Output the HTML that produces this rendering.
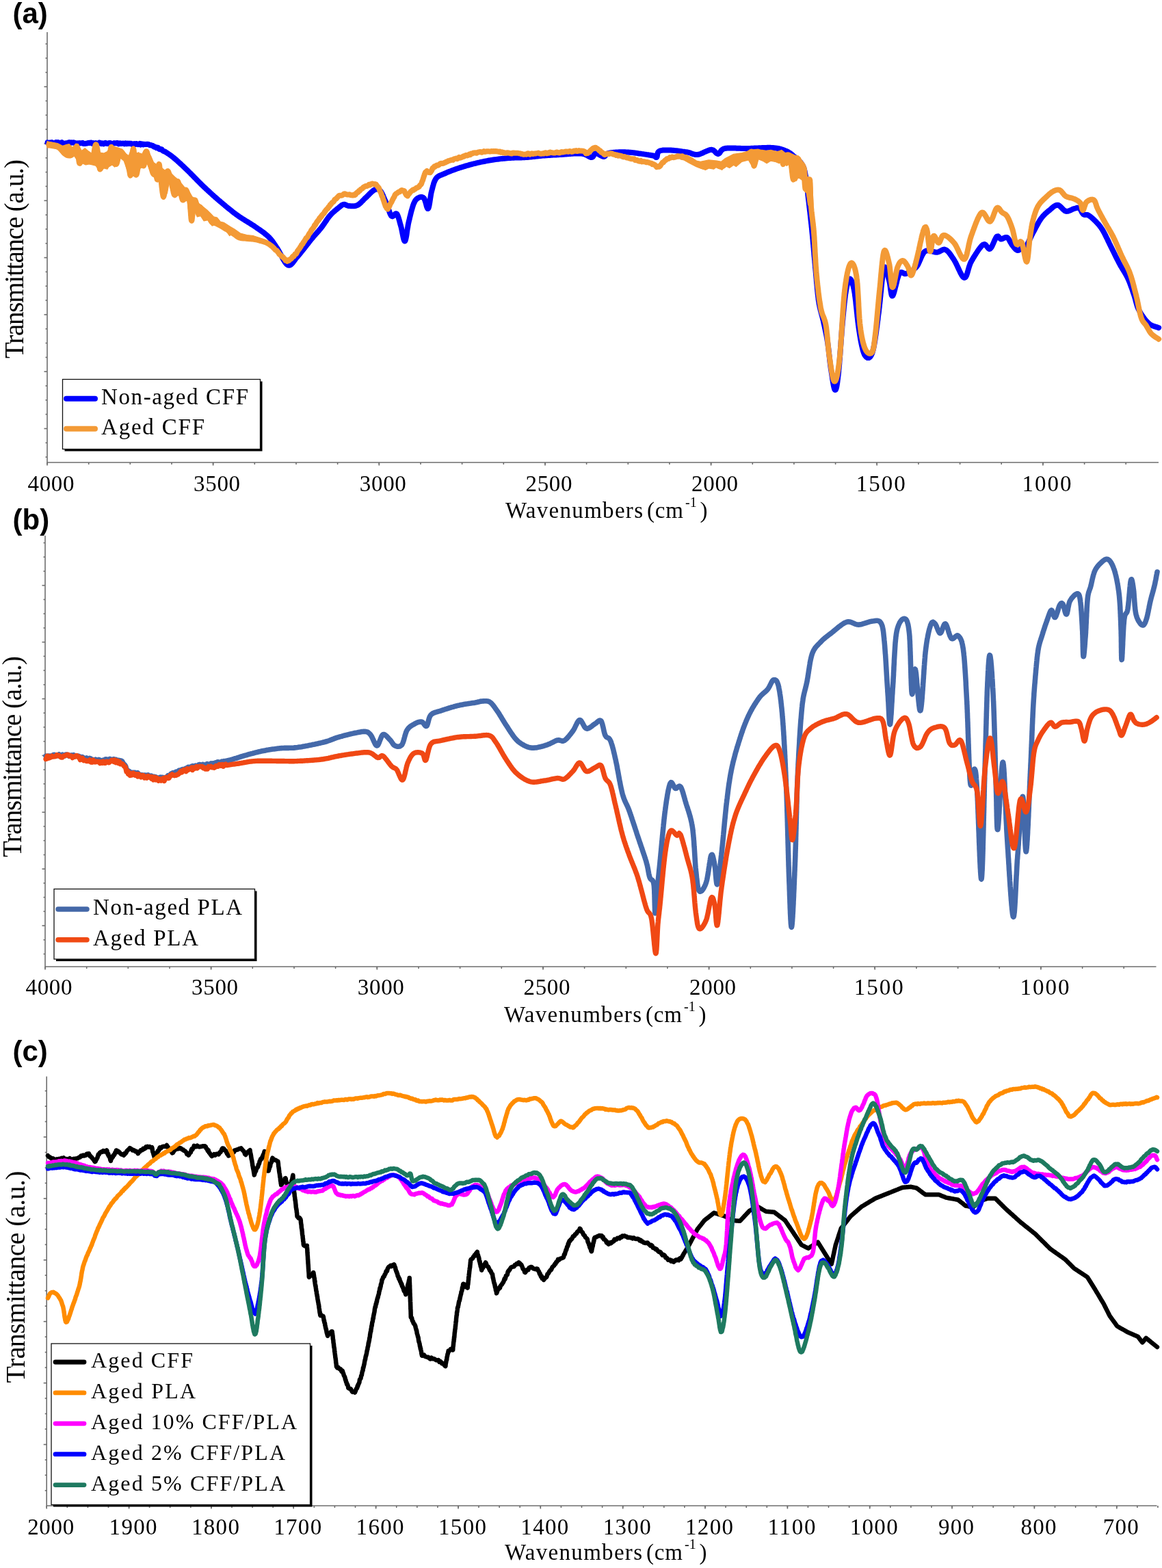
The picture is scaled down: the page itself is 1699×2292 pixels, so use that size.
<!DOCTYPE html>
<html><head><meta charset="utf-8"><title>FTIR spectra</title>
<style>html,body{margin:0;padding:0;background:#fff;}svg{display:block;}</style>
</head><body>
<svg width="1699" height="2292" viewBox="0 0 1699 2292">
<rect width="1699" height="2292" fill="#fff"/>
<text x="18.5" y="33.9" font-family="'Liberation Sans',Arial,sans-serif" font-size="42" font-weight="bold" text-anchor="start">(a)</text>
<text x="18.5" y="774.2" font-family="'Liberation Sans',Arial,sans-serif" font-size="42" font-weight="bold" text-anchor="start">(b)</text>
<text x="18.5" y="1550.5" font-family="'Liberation Sans',Arial,sans-serif" font-size="42" font-weight="bold" text-anchor="start">(c)</text>
<g stroke="#6e6e6e" stroke-width="1.6" fill="none">
<path d="M69 47V676H1694"/>
<path d="M66.5 64.2H69"/>
<path d="M66.5 85H69"/>
<path d="M66.5 105.8H69"/>
<path d="M66.5 147.5H69"/>
<path d="M66.5 168.3H69"/>
<path d="M66.5 189.1H69"/>
<path d="M66.5 230.8H69"/>
<path d="M66.5 251.6H69"/>
<path d="M66.5 272.4H69"/>
<path d="M66.5 314.1H69"/>
<path d="M66.5 334.9H69"/>
<path d="M66.5 355.8H69"/>
<path d="M66.5 397.4H69"/>
<path d="M66.5 418.2H69"/>
<path d="M66.5 439H69"/>
<path d="M66.5 480.7H69"/>
<path d="M66.5 501.5H69"/>
<path d="M66.5 522.4H69"/>
<path d="M66.5 564H69"/>
<path d="M66.5 584.8H69"/>
<path d="M66.5 605.6H69"/>
<path d="M66.5 647.3H69"/>
<path d="M66.5 668.1H69"/>
<path d="M64.5 126.7H69"/>
<path d="M64.5 210H69"/>
<path d="M64.5 293.3H69"/>
<path d="M64.5 376.6H69"/>
<path d="M64.5 459.9H69"/>
<path d="M64.5 543.2H69"/>
<path d="M64.5 626.5H69"/>
<path d="M69 676V679"/>
<path d="M129.7 676V679"/>
<path d="M190.3 676V679"/>
<path d="M251 676V679"/>
<path d="M311.6 676V679"/>
<path d="M372.3 676V679"/>
<path d="M433 676V679"/>
<path d="M493.6 676V679"/>
<path d="M554.3 676V679"/>
<path d="M615 676V679"/>
<path d="M675.6 676V679"/>
<path d="M736.3 676V679"/>
<path d="M797 676V679"/>
<path d="M857.6 676V679"/>
<path d="M918.3 676V679"/>
<path d="M978.9 676V679"/>
<path d="M1039.6 676V679"/>
<path d="M1100.3 676V679"/>
<path d="M1160.9 676V679"/>
<path d="M1221.6 676V679"/>
<path d="M1282.2 676V679"/>
<path d="M1342.9 676V679"/>
<path d="M1403.6 676V679"/>
<path d="M1464.2 676V679"/>
<path d="M1524.9 676V679"/>
<path d="M1585.6 676V679"/>
<path d="M1646.2 676V679"/>
<path d="M69 676V680.5"/>
<path d="M311.6 676V680.5"/>
<path d="M554.3 676V680.5"/>
<path d="M797 676V680.5"/>
<path d="M1039.6 676V680.5"/>
<path d="M1282.2 676V680.5"/>
<path d="M1524.9 676V680.5"/>
</g>
<text x="74.5" y="718" font-family="'Liberation Serif','Times New Roman',serif" font-size="33" font-weight="normal" text-anchor="middle" textLength="68" lengthAdjust="spacing">4000</text>
<text x="317.1" y="718" font-family="'Liberation Serif','Times New Roman',serif" font-size="33" font-weight="normal" text-anchor="middle" textLength="68" lengthAdjust="spacing">3500</text>
<text x="559.8" y="718" font-family="'Liberation Serif','Times New Roman',serif" font-size="33" font-weight="normal" text-anchor="middle" textLength="68" lengthAdjust="spacing">3000</text>
<text x="802.5" y="718" font-family="'Liberation Serif','Times New Roman',serif" font-size="33" font-weight="normal" text-anchor="middle" textLength="68" lengthAdjust="spacing">2500</text>
<text x="1045.1" y="718" font-family="'Liberation Serif','Times New Roman',serif" font-size="33" font-weight="normal" text-anchor="middle" textLength="68" lengthAdjust="spacing">2000</text>
<text x="1287.8" y="718" font-family="'Liberation Serif','Times New Roman',serif" font-size="33" font-weight="normal" text-anchor="middle" textLength="72" lengthAdjust="spacing">1500</text>
<text x="1530.4" y="718" font-family="'Liberation Serif','Times New Roman',serif" font-size="33" font-weight="normal" text-anchor="middle" textLength="72" lengthAdjust="spacing">1000</text>
<g stroke="#6e6e6e" stroke-width="1.6" fill="none">
<path d="M66 783V1413H1690.5"/>
<path d="M63.5 793.5H66"/>
<path d="M63.5 814.2H66"/>
<path d="M63.5 835H66"/>
<path d="M63.5 876.4H66"/>
<path d="M63.5 897.1H66"/>
<path d="M63.5 917.9H66"/>
<path d="M63.5 959.3H66"/>
<path d="M63.5 980H66"/>
<path d="M63.5 1000.8H66"/>
<path d="M63.5 1042.2H66"/>
<path d="M63.5 1062.9H66"/>
<path d="M63.5 1083.7H66"/>
<path d="M63.5 1125.1H66"/>
<path d="M63.5 1145.8H66"/>
<path d="M63.5 1166.5H66"/>
<path d="M63.5 1208H66"/>
<path d="M63.5 1228.7H66"/>
<path d="M63.5 1249.5H66"/>
<path d="M63.5 1290.9H66"/>
<path d="M63.5 1311.6H66"/>
<path d="M63.5 1332.3H66"/>
<path d="M63.5 1373.8H66"/>
<path d="M63.5 1394.5H66"/>
<path d="M61.5 855.7H66"/>
<path d="M61.5 938.6H66"/>
<path d="M61.5 1021.5H66"/>
<path d="M61.5 1104.4H66"/>
<path d="M61.5 1187.3H66"/>
<path d="M61.5 1270.2H66"/>
<path d="M61.5 1353.1H66"/>
<path d="M66 1413V1416"/>
<path d="M126.7 1413V1416"/>
<path d="M187.3 1413V1416"/>
<path d="M248 1413V1416"/>
<path d="M308.6 1413V1416"/>
<path d="M369.3 1413V1416"/>
<path d="M430 1413V1416"/>
<path d="M490.6 1413V1416"/>
<path d="M551.3 1413V1416"/>
<path d="M612 1413V1416"/>
<path d="M672.6 1413V1416"/>
<path d="M733.3 1413V1416"/>
<path d="M794 1413V1416"/>
<path d="M854.6 1413V1416"/>
<path d="M915.3 1413V1416"/>
<path d="M975.9 1413V1416"/>
<path d="M1036.6 1413V1416"/>
<path d="M1097.3 1413V1416"/>
<path d="M1157.9 1413V1416"/>
<path d="M1218.6 1413V1416"/>
<path d="M1279.2 1413V1416"/>
<path d="M1339.9 1413V1416"/>
<path d="M1400.6 1413V1416"/>
<path d="M1461.2 1413V1416"/>
<path d="M1521.9 1413V1416"/>
<path d="M1582.6 1413V1416"/>
<path d="M1643.2 1413V1416"/>
<path d="M66 1413V1417.5"/>
<path d="M308.6 1413V1417.5"/>
<path d="M551.3 1413V1417.5"/>
<path d="M794 1413V1417.5"/>
<path d="M1036.6 1413V1417.5"/>
<path d="M1279.2 1413V1417.5"/>
<path d="M1521.9 1413V1417.5"/>
</g>
<text x="71.5" y="1454" font-family="'Liberation Serif','Times New Roman',serif" font-size="33" font-weight="normal" text-anchor="middle" textLength="68" lengthAdjust="spacing">4000</text>
<text x="314.1" y="1454" font-family="'Liberation Serif','Times New Roman',serif" font-size="33" font-weight="normal" text-anchor="middle" textLength="68" lengthAdjust="spacing">3500</text>
<text x="556.8" y="1454" font-family="'Liberation Serif','Times New Roman',serif" font-size="33" font-weight="normal" text-anchor="middle" textLength="68" lengthAdjust="spacing">3000</text>
<text x="799.5" y="1454" font-family="'Liberation Serif','Times New Roman',serif" font-size="33" font-weight="normal" text-anchor="middle" textLength="68" lengthAdjust="spacing">2500</text>
<text x="1042.1" y="1454" font-family="'Liberation Serif','Times New Roman',serif" font-size="33" font-weight="normal" text-anchor="middle" textLength="68" lengthAdjust="spacing">2000</text>
<text x="1284.8" y="1454" font-family="'Liberation Serif','Times New Roman',serif" font-size="33" font-weight="normal" text-anchor="middle" textLength="72" lengthAdjust="spacing">1500</text>
<text x="1527.4" y="1454" font-family="'Liberation Serif','Times New Roman',serif" font-size="33" font-weight="normal" text-anchor="middle" textLength="72" lengthAdjust="spacing">1000</text>
<g stroke="#6e6e6e" stroke-width="1.6" fill="none">
<path d="M68.2 1573.5V2201H1691.5"/>
<path d="M65.7 1594.6H68.2"/>
<path d="M65.7 1617.1H68.2"/>
<path d="M65.7 1639.5H68.2"/>
<path d="M65.7 1684.5H68.2"/>
<path d="M65.7 1706.9H68.2"/>
<path d="M65.7 1729.4H68.2"/>
<path d="M65.7 1774.3H68.2"/>
<path d="M65.7 1796.8H68.2"/>
<path d="M65.7 1819.3H68.2"/>
<path d="M65.7 1864.2H68.2"/>
<path d="M65.7 1886.7H68.2"/>
<path d="M65.7 1909.2H68.2"/>
<path d="M65.7 1954.1H68.2"/>
<path d="M65.7 1976.6H68.2"/>
<path d="M65.7 1999H68.2"/>
<path d="M65.7 2044H68.2"/>
<path d="M65.7 2066.5H68.2"/>
<path d="M65.7 2088.9H68.2"/>
<path d="M65.7 2133.9H68.2"/>
<path d="M65.7 2156.3H68.2"/>
<path d="M65.7 2178.8H68.2"/>
<path d="M63.7 1662H68.2"/>
<path d="M63.7 1751.9H68.2"/>
<path d="M63.7 1841.8H68.2"/>
<path d="M63.7 1931.7H68.2"/>
<path d="M63.7 2021.6H68.2"/>
<path d="M63.7 2111.5H68.2"/>
<path d="M68.2 2201V2204"/>
<path d="M98.3 2201V2204"/>
<path d="M128.4 2201V2204"/>
<path d="M158.5 2201V2204"/>
<path d="M188.6 2201V2204"/>
<path d="M218.6 2201V2204"/>
<path d="M248.7 2201V2204"/>
<path d="M278.8 2201V2204"/>
<path d="M308.9 2201V2204"/>
<path d="M339 2201V2204"/>
<path d="M369.1 2201V2204"/>
<path d="M399.2 2201V2204"/>
<path d="M429.2 2201V2204"/>
<path d="M459.3 2201V2204"/>
<path d="M489.4 2201V2204"/>
<path d="M519.5 2201V2204"/>
<path d="M549.6 2201V2204"/>
<path d="M579.7 2201V2204"/>
<path d="M609.8 2201V2204"/>
<path d="M639.9 2201V2204"/>
<path d="M670 2201V2204"/>
<path d="M700 2201V2204"/>
<path d="M730.1 2201V2204"/>
<path d="M760.2 2201V2204"/>
<path d="M790.3 2201V2204"/>
<path d="M820.4 2201V2204"/>
<path d="M850.5 2201V2204"/>
<path d="M880.6 2201V2204"/>
<path d="M910.7 2201V2204"/>
<path d="M940.7 2201V2204"/>
<path d="M970.8 2201V2204"/>
<path d="M1000.9 2201V2204"/>
<path d="M1031 2201V2204"/>
<path d="M1061.1 2201V2204"/>
<path d="M1091.2 2201V2204"/>
<path d="M1121.3 2201V2204"/>
<path d="M1151.4 2201V2204"/>
<path d="M1181.4 2201V2204"/>
<path d="M1211.5 2201V2204"/>
<path d="M1241.6 2201V2204"/>
<path d="M1271.7 2201V2204"/>
<path d="M1301.8 2201V2204"/>
<path d="M1331.9 2201V2204"/>
<path d="M1362 2201V2204"/>
<path d="M1392 2201V2204"/>
<path d="M1422.1 2201V2204"/>
<path d="M1452.2 2201V2204"/>
<path d="M1482.3 2201V2204"/>
<path d="M1512.4 2201V2204"/>
<path d="M1542.5 2201V2204"/>
<path d="M1572.6 2201V2204"/>
<path d="M1602.7 2201V2204"/>
<path d="M1632.8 2201V2204"/>
<path d="M1662.8 2201V2204"/>
<path d="M1692.9 2201V2204"/>
<path d="M68.2 2201V2205.5"/>
<path d="M188.6 2201V2205.5"/>
<path d="M308.9 2201V2205.5"/>
<path d="M429.2 2201V2205.5"/>
<path d="M549.6 2201V2205.5"/>
<path d="M670 2201V2205.5"/>
<path d="M790.3 2201V2205.5"/>
<path d="M910.7 2201V2205.5"/>
<path d="M1031 2201V2205.5"/>
<path d="M1151.4 2201V2205.5"/>
<path d="M1271.7 2201V2205.5"/>
<path d="M1392 2201V2205.5"/>
<path d="M1512.4 2201V2205.5"/>
<path d="M1632.8 2201V2205.5"/>
</g>
<text x="74.2" y="2242.5" font-family="'Liberation Serif','Times New Roman',serif" font-size="33" font-weight="normal" text-anchor="middle" textLength="68" lengthAdjust="spacing">2000</text>
<text x="194.6" y="2242.5" font-family="'Liberation Serif','Times New Roman',serif" font-size="33" font-weight="normal" text-anchor="middle" textLength="70" lengthAdjust="spacing">1900</text>
<text x="314.9" y="2242.5" font-family="'Liberation Serif','Times New Roman',serif" font-size="33" font-weight="normal" text-anchor="middle" textLength="70" lengthAdjust="spacing">1800</text>
<text x="435.2" y="2242.5" font-family="'Liberation Serif','Times New Roman',serif" font-size="33" font-weight="normal" text-anchor="middle" textLength="70" lengthAdjust="spacing">1700</text>
<text x="555.6" y="2242.5" font-family="'Liberation Serif','Times New Roman',serif" font-size="33" font-weight="normal" text-anchor="middle" textLength="70" lengthAdjust="spacing">1600</text>
<text x="676" y="2242.5" font-family="'Liberation Serif','Times New Roman',serif" font-size="33" font-weight="normal" text-anchor="middle" textLength="70" lengthAdjust="spacing">1500</text>
<text x="796.3" y="2242.5" font-family="'Liberation Serif','Times New Roman',serif" font-size="33" font-weight="normal" text-anchor="middle" textLength="70" lengthAdjust="spacing">1400</text>
<text x="916.7" y="2242.5" font-family="'Liberation Serif','Times New Roman',serif" font-size="33" font-weight="normal" text-anchor="middle" textLength="70" lengthAdjust="spacing">1300</text>
<text x="1037" y="2242.5" font-family="'Liberation Serif','Times New Roman',serif" font-size="33" font-weight="normal" text-anchor="middle" textLength="70" lengthAdjust="spacing">1200</text>
<text x="1157.4" y="2242.5" font-family="'Liberation Serif','Times New Roman',serif" font-size="33" font-weight="normal" text-anchor="middle" textLength="70" lengthAdjust="spacing">1100</text>
<text x="1277.7" y="2242.5" font-family="'Liberation Serif','Times New Roman',serif" font-size="33" font-weight="normal" text-anchor="middle" textLength="70" lengthAdjust="spacing">1000</text>
<text x="1398" y="2242.5" font-family="'Liberation Serif','Times New Roman',serif" font-size="33" font-weight="normal" text-anchor="middle" textLength="52" lengthAdjust="spacing">900</text>
<text x="1518.4" y="2242.5" font-family="'Liberation Serif','Times New Roman',serif" font-size="33" font-weight="normal" text-anchor="middle" textLength="52" lengthAdjust="spacing">800</text>
<text x="1638.8" y="2242.5" font-family="'Liberation Serif','Times New Roman',serif" font-size="33" font-weight="normal" text-anchor="middle" textLength="52" lengthAdjust="spacing">700</text>
<text x="739" y="756.6" font-family="'Liberation Serif','Times New Roman',serif" font-size="33"><tspan textLength="201" lengthAdjust="spacing">Wavenumbers</tspan><tspan x="946" textLength="53" lengthAdjust="spacing">(cm</tspan><tspan x="1002" y="740.6" font-size="20">-1</tspan><tspan x="1023.5" y="756.6">)</tspan></text>
<text x="737" y="1493.6" font-family="'Liberation Serif','Times New Roman',serif" font-size="33"><tspan textLength="201" lengthAdjust="spacing">Wavenumbers</tspan><tspan x="944" textLength="53" lengthAdjust="spacing">(cm</tspan><tspan x="1000" y="1477.6" font-size="20">-1</tspan><tspan x="1021.5" y="1493.6">)</tspan></text>
<text x="738" y="2280" font-family="'Liberation Serif','Times New Roman',serif" font-size="33"><tspan textLength="201" lengthAdjust="spacing">Wavenumbers</tspan><tspan x="945" textLength="53" lengthAdjust="spacing">(cm</tspan><tspan x="1001" y="2264" font-size="20">-1</tspan><tspan x="1022.5" y="2280">)</tspan></text>
<text transform="translate(33.7 378.6) rotate(-90)" font-family="'Liberation Serif','Times New Roman',serif" font-size="39" text-anchor="middle" textLength="291" lengthAdjust="spacing">Transmittance (a.u.)</text>
<text transform="translate(30.6 1106) rotate(-90)" font-family="'Liberation Serif','Times New Roman',serif" font-size="39" text-anchor="middle" textLength="294" lengthAdjust="spacing">Transmittance (a.u.)</text>
<text transform="translate(36.3 1866.4) rotate(-90)" font-family="'Liberation Serif','Times New Roman',serif" font-size="40" text-anchor="middle" textLength="310" lengthAdjust="spacing">Transmittance (a.u.)</text>
<path d="M69.5 208.4 70.3 208.6 71.2 209.3 72.2 208.5 73.3 208.6 74.5 208.7 75.8 208 77.1 208.7 78.6 208.9 80.1 209.2 81.6 208 83.2 208.4 84.9 208 86.7 209.4 88.5 209.2 90.3 208 92.2 209.8 94.1 209.8 96 209.2 98 209.2 100 208.4 101.2 208.1 102.5 209.1 103.8 208.2 105.1 208.5 106.4 208.6 107.8 208.2 109.1 209 110.5 209 112 209.7 113.4 209.2 114.9 209.4 116.3 209.1 117.8 209.4 119.3 209.1 120.8 208.8 122.4 210.1 123.9 210.1 125.5 209.8 127.1 209.6 128.7 208.9 130.3 208.8 131.9 208.9 133.5 208.5 135.1 209.8 136.7 209.1 138.4 210 140 209.1 141.7 210.2 143.3 210 145 208.5 146.7 208.9 148.3 210.2 150 209.4 151.4 210.4 152.8 209.4 154.3 208.8 155.8 209.8 157.3 210.1 158.8 209.2 160.4 208.9 162 209.4 163.6 210.5 165.2 210.2 166.9 209.1 168.5 209.3 170.2 209.1 171.9 209 173.5 210.4 175.2 209.3 176.9 210 178.5 209.8 180.2 209.4 181.9 210.4 183.5 209.3 185.2 210.3 186.8 209.4 188.4 210 190 209.6 191.6 209.8 193.1 211.1 194.6 210.8 196.1 210 197.6 211 199 209.9 200.4 210.3 201.8 211.2 203.1 210.8 204.3 209.9 205.6 211.6 206.8 210.3 207.9 210.4 209 211.4 210 210.7 212.8 210.9 215.3 210.7 217.3 211 219.1 212.2 220.6 211.9 221.9 212.9 223.1 212.8 224.1 213.4 225.2 214.7 226.2 214.3 227.3 215 228.6 216.1 230 215.4 231.3 215.9 232.6 217.9 234 218.3 235.3 217.9 236.6 218.5 237.9 220.2 239.2 221.2 240.5 221.2 241.8 222 243.1 222.8 244.5 223.7 245.8 224.6 247.2 225.5 248.6 226.5 250 227.5 251.1 228.3 252.1 229.1 253.2 230 254.3 230.9 255.4 231.8 256.5 232.7 257.6 233.7 258.7 234.6 259.8 235.6 260.9 236.7 262.1 237.7 263.2 238.7 264.3 239.8 265.5 240.9 266.6 241.9 267.8 243 269 244.1 270.1 245.3 271.3 246.4 272.5 247.5 273.5 248.5 274.6 249.5 275.6 250.5 276.7 251.6 277.8 252.6 278.8 253.7 279.9 254.8 281 255.9 282.1 257 283.2 258.2 284.3 259.3 285.4 260.4 286.5 261.5 287.6 262.7 288.7 263.8 289.8 264.9 290.9 266 292 267.1 293.1 268.2 294.2 269.3 295.3 270.4 296.4 271.5 297.5 272.5 298.6 273.6 299.8 274.6 300.9 275.7 302 276.8 303.2 277.8 304.3 278.9 305.5 279.9 306.6 281 307.7 282 308.9 283 310 284.1 311.1 285.1 312.3 286.1 313.4 287.1 314.5 288.1 315.7 289.1 316.8 290.1 318 291.1 319.1 292.1 320.2 293.1 321.4 294 322.5 295 323.7 296 324.9 297 326.1 298 327.3 299 328.5 300 329.6 301 330.8 302 332 303 333.2 304 334.4 304.9 335.6 305.9 336.8 306.8 338 307.8 339.2 308.7 340.4 309.7 341.5 310.6 342.7 311.5 343.9 312.4 345.1 313.3 346.3 314.1 347.5 315 348.8 315.9 350.2 316.9 351.5 317.8 352.9 318.6 354.2 319.5 355.6 320.4 356.9 321.2 358.3 322.1 359.6 322.9 361 323.7 362.3 324.5 363.7 325.4 365 326.2 366.3 327 367.6 327.8 368.8 328.6 370.1 329.4 371.3 330.2 372.5 331 373.9 332 375.3 332.9 376.7 333.9 378 334.8 379.4 335.7 380.7 336.6 382 337.6 383.3 338.5 384.5 339.4 385.8 340.3 387 341.2 388.1 342.2 389.3 343.1 390.4 344.1 391.5 345 392.5 346 393.7 347.2 394.8 348.4 395.8 349.5 396.8 350.7 397.7 351.9 398.6 353 399.4 354.2 400.3 355.5 401.1 356.7 402 358.1 403 359.5 403.9 360.9 405 362.5 405.8 363.7 406.5 365 407.4 366.4 408.2 367.9 409 369.4 409.9 371 410.7 372.7 411.6 374.4 412.5 376 413.3 377.6 414.2 379.2 415.1 380.7 416 382.1 416.8 383.4 417.7 384.5 418.5 385.6 419.4 386.4 420.2 387.1 421 387.5 422.2 387.8 423.4 387.7 424.5 387.3 425.6 386.6 426.7 385.6 427.8 384.4 428.8 383 430 381.5 431.1 379.9 432.3 378.2 433.6 376.6 435 375 435.8 374.1 436.7 373.1 437.6 372 438.5 370.9 439.5 369.7 440.4 368.5 441.4 367.3 442.4 366.1 443.4 364.8 444.4 363.5 445.4 362.2 446.5 360.8 447.5 359.5 448.5 358.2 449.5 357 450.5 355.7 451.4 354.5 452.4 353.3 453.3 352.1 454.1 351 455 350 456.2 348.6 457.3 347.3 458.4 346 459.4 344.8 460.5 343.6 461.5 342.5 462.5 341.3 463.5 340.2 464.4 339.1 465.4 338.1 466.3 337 467.2 335.9 468.2 334.8 469.1 333.7 470 332.5 471 331.2 471.9 329.9 472.8 328.6 473.8 327.3 474.6 326 475.5 324.7 476.4 323.4 477.3 322.1 478.1 320.8 479 319.5 479.9 318.3 480.7 317.2 481.6 316.1 482.5 315 483.7 313.7 484.8 312.5 486 311.3 487.3 310.2 488.5 309.1 489.7 308.1 490.8 307.1 492 306.2 493 305.3 494.1 304.5 495 303.8 496.5 302.5 497.9 301.4 499.1 300.4 500.2 299.6 501.3 299.1 502.5 298.8 503.9 298.8 505.3 299.3 506.6 300 508.2 300.6 510 301 511.3 301.1 512.8 301.2 514.3 301.3 515.9 301.3 517.6 301.3 519.3 301 520.9 300.6 522.5 300 523.6 299.4 524.8 298.6 525.9 297.7 527 296.7 528.2 295.6 529.3 294.4 530.5 293.3 531.6 292.1 532.7 290.9 533.9 289.8 535 288.8 536.2 287.7 537.3 286.5 538.5 285.3 539.7 284.1 540.9 282.9 542.1 281.8 543.2 280.7 544.4 279.7 545.5 278.8 546.5 278.1 547.5 277.5 549.4 276.7 551.2 276.3 552.8 276.4 554.3 277.2 556 278.8 556.7 279.6 557.4 280.7 558.1 281.9 558.8 283.2 559.5 284.7 560.2 286.2 560.9 287.9 561.6 289.5 562.3 291.2 563 292.8 563.7 294.5 564.4 296 565 297.5 565.6 299 566.2 300.6 566.8 302.2 567.4 303.9 568 305.6 568.6 307.3 569.1 308.9 569.7 310.5 570.2 311.9 570.8 313.2 571.4 314.4 571.9 315.3 572.5 316 574 316.4 575.6 315.2 577.1 313.4 578.6 312.2 580 312.5 580.6 313.2 581.1 314.1 581.6 315.3 582.1 316.6 582.6 318 583.1 319.6 583.6 321.3 584.1 323 584.5 324.8 585 326.6 585.5 328.3 586 330 586.4 331.5 586.8 333.1 587.2 335 587.6 336.9 588 339 588.4 341 588.8 343.1 589.2 345 589.6 346.9 590 348.5 590.4 350 590.8 351.1 591.2 352 591.6 352.4 592 352.5 592.3 352.2 592.6 351.6 592.9 350.8 593.2 349.7 593.5 348.5 593.8 347 594.1 345.4 594.4 343.7 594.7 341.9 594.9 340 595.2 338 595.5 336 595.8 334 596.2 332.1 596.5 330.2 596.8 328.3 597.1 326.6 597.5 325 597.8 323.5 598.2 322 598.6 320.5 598.9 318.9 599.3 317.3 599.7 315.7 600.1 314.1 600.5 312.5 600.9 310.9 601.3 309.3 601.7 307.8 602.2 306.3 602.6 304.8 603 303.4 603.4 302.1 603.8 300.8 604.2 299.6 604.6 298.5 605 297.5 606.1 295.2 607.1 293.3 608.2 291.9 609.3 290.8 610.4 290 611.4 289.3 612.5 288.8 614 288.1 615.6 287.9 617.1 288 618.6 288.7 620 290 620.7 291.1 621.3 292.8 621.9 294.7 622.6 296.9 623.2 299.1 623.7 301.2 624.3 303 624.9 304.3 625.4 305.1 626 305 626.3 304.5 626.7 303.7 627 302.7 627.3 301.4 627.6 299.9 627.9 298.3 628.2 296.5 628.5 294.6 628.8 292.7 629.1 290.7 629.4 288.7 629.7 286.8 630 284.9 630.3 283.1 630.6 281.5 631 280 631.4 278.3 631.9 276.6 632.3 275 632.7 273.3 633.1 271.7 633.6 270.2 634 268.6 634.5 267.2 635 265.8 635.6 264.5 636.2 263.2 636.8 262.1 637.5 261 638.6 259.7 639.7 258.6 640.9 257.7 642.2 257 643.6 256.4 645.1 255.8 646.6 255.2 648.2 254.5 650 253.8 651.2 253.2 652.4 252.7 653.7 252.1 655 251.6 656.4 251 657.8 250.4 659.2 249.9 660.7 249.3 662.2 248.8 663.7 248.2 665.2 247.6 666.8 247.1 668.4 246.5 670 246 671.3 245.6 672.7 245.1 674.1 244.7 675.5 244.2 677 243.8 678.5 243.3 679.9 242.9 681.4 242.4 682.9 242 684.5 241.6 686 241.1 687.5 240.7 689 240.3 690.5 239.9 692 239.5 693.5 239.1 695 238.8 696.6 238.4 698.1 238 699.7 237.6 701.2 237.3 702.8 236.9 704.4 236.6 705.9 236.3 707.5 236 709.1 235.7 710.6 235.4 712.2 235.1 713.8 234.8 715.3 234.5 716.9 234.3 718.4 234 720 233.8 721.6 233.5 723.1 233.3 724.7 233.1 726.2 232.9 727.8 232.7 729.4 232.5 730.9 232.3 732.5 232.1 734.1 232 735.6 231.8 737.2 231.7 738.8 231.5 740.3 231.4 741.9 231.2 743.4 231.1 745 231 746.6 230.9 748.1 230.8 749.7 230.7 751.2 230.7 752.8 230.6 754.4 230.6 755.9 230.5 757.5 230.5 759.1 230.4 760.6 230.4 762.2 230.4 763.8 230.3 765.3 230.3 766.9 230.2 768.4 230.1 770 230 771.6 229.9 773.1 229.8 774.7 229.6 776.2 229.5 777.8 229.3 779.4 229.1 780.9 229 782.5 228.8 784.1 228.6 785.6 228.4 787.2 228.3 788.8 228.1 790.3 227.9 791.9 227.8 793.4 227.6 795 227.5 796.6 227.4 798.1 227.3 799.6 227.2 801.1 227.1 802.6 227 804.2 226.9 805.7 226.8 807.2 226.7 808.7 226.6 810.3 226.5 811.8 226.4 813.4 226.4 815 226.3 816.6 226.2 818.3 226.1 820 226 821.4 225.9 822.9 225.8 824.4 225.7 825.9 225.6 827.5 225.5 829.1 225.3 830.7 225.2 832.4 225.1 834 224.9 835.6 224.8 837.2 224.7 838.8 224.6 840.4 224.5 841.9 224.4 843.4 224.4 844.9 224.4 846.3 224.3 847.6 224.4 848.8 224.4 850 224.5 852.1 224.8 854.1 225.3 855.9 226 857.5 226.7 859 227.5 860.4 228.3 861.6 229 862.8 229.5 863.9 229.9 865 230 866.7 229.4 867.8 227.9 868.6 226.2 869.6 224.7 871 224 872.2 224.2 873.7 224.7 875.3 225.5 876.9 226.5 878.6 227.4 880.2 228.2 881.7 228.8 883 229 884.4 228.5 885.2 227.4 886 226.1 887.4 224.7 890 223.8 891 223.6 892.1 223.4 893.3 223.2 894.5 223.1 895.9 222.9 897.3 222.8 898.7 222.7 900.3 222.6 901.8 222.5 903.5 222.4 905.1 222.3 906.8 222.3 908.6 222.3 910.3 222.3 912.1 222.3 913.9 222.3 915.7 222.4 917.5 222.5 918.8 222.6 920.3 222.7 921.7 222.8 923.3 223 924.9 223.1 926.5 223.3 928.2 223.5 929.9 223.7 931.6 223.9 933.3 224.2 935.1 224.4 936.8 224.6 938.5 224.9 940.2 225.1 941.9 225.4 943.5 225.6 945.1 225.9 946.6 226.1 948 226.3 949.4 226.6 950.7 226.8 951.9 227 953.1 227.2 954.1 227.3 955 227.5 958.2 228.9 959.2 230.1 960 230 960.6 229.1 960.9 227.6 961.2 225.8 961.6 223.9 962.4 222.2 963.8 221 964.8 220.5 966.1 220.1 967.4 219.9 968.9 219.6 970.5 219.5 972.3 219.4 974.1 219.4 976 219.4 978 219.4 980 219.5 981.3 219.6 982.8 219.7 984.3 219.8 985.9 219.9 987.5 220.1 989.2 220.3 990.9 220.5 992.6 220.7 994.3 220.9 996 221.1 997.6 221.4 999.2 221.6 1000.8 221.8 1002.3 222.1 1003.7 222.3 1005 222.5 1006.9 222.9 1008.6 223.3 1010.1 223.9 1011.5 224.4 1012.8 224.9 1014.1 225.4 1015.4 225.7 1016.8 226 1018.3 226.1 1020 226 1021.3 225.8 1022.7 225.4 1024.1 224.9 1025.6 224.3 1027.2 223.7 1028.7 222.9 1030.3 222.2 1031.9 221.5 1033.4 220.8 1034.9 220.2 1036.3 219.6 1037.6 219.2 1038.9 218.9 1040 218.8 1042 219.1 1043.6 220 1045 221.2 1046.2 222.6 1047.4 223.9 1048.7 224.7 1050 225 1051.1 224.6 1052 223.8 1052.8 222.7 1053.6 221.4 1054.6 220 1055.9 218.8 1057.7 217.7 1060 217 1061.1 216.8 1062.2 216.7 1063.4 216.6 1064.7 216.5 1066.1 216.5 1067.5 216.4 1069 216.4 1070.5 216.5 1072.1 216.5 1073.7 216.5 1075.4 216.6 1077 216.7 1078.7 216.7 1080.5 216.8 1082.2 216.8 1083.9 216.9 1085.7 216.9 1087.4 217 1089.1 217 1090.8 217 1092.5 217 1093.9 217 1095.4 216.9 1096.9 216.9 1098.4 216.8 1100 216.8 1101.5 216.7 1103.1 216.6 1104.7 216.5 1106.4 216.5 1108 216.4 1109.6 216.3 1111.2 216.2 1112.8 216.2 1114.4 216.1 1116 216 1117.6 216 1119.1 215.9 1120.6 215.9 1122.1 215.8 1123.5 215.8 1124.9 215.8 1126.3 215.8 1127.6 215.9 1128.8 215.9 1130 216 1132.1 216.2 1134.1 216.4 1136 216.7 1137.7 217 1139.3 217.3 1140.8 217.7 1142.3 218.1 1143.7 218.5 1145 219 1146.3 219.5 1147.5 220 1148.8 220.5 1150 221 1151.6 221.7 1153 222.5 1154.4 223.4 1155.7 224.3 1156.9 225.2 1158 226.1 1159.2 227.1 1160.3 228.1 1161.4 229 1162.5 230 1163.7 231 1165 232.1 1166.2 233.1 1167.4 234.1 1168.5 235.2 1169.6 236.3 1170.7 237.4 1171.6 238.7 1172.5 240 1173.2 241.2 1173.8 242.3 1174.4 243.3 1174.9 244.4 1175.3 245.6 1175.7 247 1176.2 248.5 1176.6 250.3 1177 252.5 1177.5 255 1177.7 256.1 1177.9 257.2 1178.1 258.5 1178.3 259.7 1178.5 261 1178.7 262.4 1178.8 263.8 1179 265.3 1179.2 266.8 1179.4 268.3 1179.6 269.9 1179.8 271.5 1180 273.1 1180.2 274.8 1180.4 276.4 1180.6 278.1 1180.8 279.8 1181 281.5 1181.2 283.2 1181.3 284.9 1181.5 286.6 1181.7 288.3 1181.9 290 1182.1 291.7 1182.3 293.4 1182.5 295 1182.7 296.4 1182.8 297.8 1183 299.3 1183.2 300.7 1183.3 302.2 1183.5 303.6 1183.7 305.1 1183.8 306.5 1184 308 1184.2 309.4 1184.4 310.9 1184.5 312.4 1184.7 313.9 1184.9 315.4 1185 316.9 1185.2 318.4 1185.4 319.9 1185.5 321.4 1185.7 322.9 1185.9 324.4 1186 326 1186.2 327.5 1186.4 329.1 1186.5 330.6 1186.7 332.2 1186.9 333.7 1187 335.3 1187.2 336.8 1187.3 338.4 1187.5 340 1187.6 341.4 1187.8 342.9 1187.9 344.4 1188.1 345.8 1188.2 347.3 1188.3 348.8 1188.5 350.3 1188.6 351.8 1188.7 353.3 1188.9 354.8 1189 356.3 1189.2 357.8 1189.3 359.3 1189.4 360.9 1189.6 362.4 1189.7 363.9 1189.8 365.5 1189.9 367 1190.1 368.5 1190.2 370.1 1190.3 371.6 1190.5 373.1 1190.6 374.7 1190.8 376.2 1190.9 377.8 1191 379.3 1191.2 380.8 1191.3 382.4 1191.4 383.9 1191.6 385.4 1191.7 387 1191.9 388.5 1192 390 1192.1 391.5 1192.3 393.1 1192.4 394.6 1192.6 396.2 1192.7 397.8 1192.9 399.4 1193 401 1193.1 402.6 1193.3 404.2 1193.4 405.8 1193.6 407.4 1193.7 409 1193.8 410.6 1194 412.2 1194.1 413.9 1194.3 415.5 1194.4 417 1194.6 418.6 1194.7 420.2 1194.9 421.8 1195 423.3 1195.2 424.8 1195.3 426.3 1195.5 427.8 1195.6 429.3 1195.8 430.7 1196 432.1 1196.1 433.5 1196.3 434.9 1196.5 436.2 1196.6 437.5 1196.8 438.8 1197 440 1197.3 442 1197.6 443.8 1198 445.6 1198.3 447.3 1198.6 448.9 1199 450.5 1199.3 452 1199.7 453.4 1200.1 454.9 1200.4 456.2 1200.8 457.6 1201.2 459 1201.5 460.3 1201.9 461.6 1202.3 463 1202.6 464.3 1203 465.7 1203.3 467.1 1203.7 468.5 1204 470 1204.3 471.5 1204.6 473 1205 474.4 1205.3 475.8 1205.6 477.3 1205.9 478.7 1206.2 480.1 1206.5 481.5 1206.8 482.9 1207.1 484.4 1207.4 485.8 1207.7 487.3 1208 488.8 1208.3 490.3 1208.6 491.8 1208.9 493.4 1209.2 495 1209.4 496.6 1209.7 498.3 1210 500 1210.2 501.4 1210.4 502.8 1210.6 504.2 1210.8 505.7 1211 507.2 1211.2 508.8 1211.4 510.3 1211.6 511.9 1211.8 513.5 1212 515.1 1212.1 516.7 1212.3 518.4 1212.5 520 1212.7 521.6 1212.9 523.3 1213 524.9 1213.2 526.5 1213.4 528.1 1213.6 529.7 1213.8 531.2 1214 532.8 1214.2 534.3 1214.4 535.8 1214.6 537.2 1214.8 538.6 1215 540 1215.3 541.8 1215.6 543.7 1215.9 545.6 1216.2 547.5 1216.5 549.5 1216.8 551.5 1217.1 553.4 1217.4 555.4 1217.7 557.2 1218 559.1 1218.3 560.8 1218.6 562.4 1218.9 564 1219.2 565.4 1219.5 566.6 1219.8 567.7 1220.1 568.6 1220.4 569.3 1220.7 569.8 1221 570 1221.3 570 1221.7 569.8 1222 569.4 1222.3 568.8 1222.6 567.9 1222.9 566.9 1223.2 565.6 1223.5 564.1 1223.8 562.4 1224.1 560.5 1224.4 558.4 1224.7 556.1 1225 553.6 1225.3 550.9 1225.7 548 1226 545 1226.1 544 1226.2 542.9 1226.3 541.8 1226.4 540.6 1226.6 539.4 1226.7 538.1 1226.8 536.8 1226.9 535.5 1227 534.1 1227.2 532.7 1227.3 531.3 1227.4 529.8 1227.5 528.3 1227.6 526.8 1227.8 525.2 1227.9 523.7 1228 522.1 1228.1 520.4 1228.3 518.8 1228.4 517.2 1228.5 515.5 1228.6 513.8 1228.8 512.1 1228.9 510.4 1229 508.8 1229.1 507 1229.2 505.3 1229.4 503.6 1229.5 501.9 1229.6 500.2 1229.7 498.5 1229.9 496.9 1230 495.2 1230.1 493.5 1230.2 491.9 1230.4 490.2 1230.5 488.6 1230.6 487 1230.7 485.4 1230.8 483.9 1231 482.3 1231.1 480.8 1231.2 479.4 1231.3 477.9 1231.4 476.5 1231.6 475.1 1231.7 473.8 1231.8 472.5 1231.9 471.2 1232 470 1232.2 468 1232.4 466.1 1232.5 464.2 1232.7 462.3 1232.9 460.4 1233.1 458.6 1233.2 456.9 1233.4 455.1 1233.6 453.4 1233.7 451.8 1233.9 450.1 1234 448.5 1234.2 446.9 1234.4 445.4 1234.5 443.9 1234.7 442.4 1234.9 441 1235 439.6 1235.2 438.2 1235.3 436.9 1235.5 435.5 1235.7 434.2 1235.8 433 1236 431.8 1236.1 430.6 1236.3 429.4 1236.5 428.3 1236.7 427.1 1236.8 426.1 1237 425 1237.4 422.5 1237.9 420.1 1238.3 417.9 1238.8 415.8 1239.2 414 1239.7 412.3 1240.1 410.9 1240.6 409.7 1241 408.8 1241.5 408.1 1242 407.6 1242.5 407.5 1243 407.6 1243.5 408 1244.1 408.7 1244.6 409.5 1245.2 410.7 1245.7 412 1246.3 413.6 1246.8 415.5 1247.4 417.5 1247.9 419.8 1248.5 422.3 1249 425 1249.2 426.1 1249.4 427.2 1249.6 428.4 1249.8 429.7 1249.9 431 1250.1 432.4 1250.3 433.8 1250.5 435.3 1250.7 436.8 1250.9 438.4 1251.1 440 1251.3 441.6 1251.4 443.3 1251.6 445 1251.8 446.7 1252 448.4 1252.2 450.1 1252.4 451.8 1252.6 453.5 1252.7 455.2 1252.9 456.9 1253.1 458.6 1253.3 460.3 1253.4 461.9 1253.6 463.5 1253.8 465.1 1254 466.7 1254.2 468.2 1254.3 469.7 1254.5 471.1 1254.7 472.4 1254.8 473.8 1255 475 1255.3 477 1255.5 478.9 1255.8 480.7 1256.1 482.5 1256.3 484.3 1256.6 485.9 1256.8 487.6 1257.1 489.2 1257.3 490.7 1257.6 492.2 1257.8 493.6 1258 495 1258.3 496.4 1258.5 497.7 1258.8 499 1259 500.3 1259.3 501.5 1259.5 502.7 1259.8 503.9 1260 505 1260.5 507.2 1261 509.2 1261.4 511 1261.9 512.7 1262.4 514.2 1262.9 515.7 1263.4 516.9 1263.9 518.1 1264.4 519.1 1265 520 1266.6 521.9 1268.4 523 1270.3 523.1 1272 522 1272.5 521.4 1273 520.6 1273.5 519.9 1274 519 1274.5 517.9 1275 516.8 1275.5 515.4 1276 513.8 1276.5 512 1277 510 1277.5 507.6 1278 505 1278.2 504 1278.4 502.9 1278.6 501.7 1278.8 500.6 1279 499.4 1279.2 498.1 1279.4 496.8 1279.6 495.5 1279.8 494.1 1280 492.7 1280.2 491.3 1280.5 489.8 1280.7 488.3 1280.9 486.8 1281.1 485.2 1281.3 483.7 1281.5 482.1 1281.7 480.5 1281.9 478.8 1282.2 477.2 1282.4 475.5 1282.6 473.9 1282.8 472.2 1283 470.5 1283.2 468.8 1283.5 467 1283.7 465.3 1283.9 463.6 1284.1 461.9 1284.3 460.2 1284.6 458.4 1284.8 456.7 1285 455 1285.2 453.6 1285.3 452.2 1285.5 450.7 1285.7 449.2 1285.9 447.6 1286 446 1286.2 444.3 1286.4 442.6 1286.6 440.9 1286.8 439.1 1286.9 437.4 1287.1 435.6 1287.3 433.8 1287.5 432 1287.6 430.1 1287.8 428.3 1288 426.5 1288.2 424.7 1288.4 422.8 1288.5 421 1288.7 419.2 1288.9 417.5 1289.1 415.7 1289.3 414 1289.4 412.3 1289.6 410.7 1289.8 409.1 1290 407.5 1290.2 406 1290.3 404.5 1290.5 403.1 1290.7 401.7 1290.9 400.4 1291.1 399.1 1291.2 398 1291.4 396.9 1291.6 395.8 1291.8 394.9 1292 394 1292.1 393.3 1292.3 392.6 1292.5 392 1293.1 390.7 1293.7 390.3 1294.3 390.5 1294.9 391.4 1295.5 392.8 1296.1 394.6 1296.7 396.7 1297.3 399.1 1297.9 401.5 1298.4 403.9 1299 406.2 1299.5 408.2 1300 410 1300.4 411.5 1300.8 413.2 1301.1 415.1 1301.4 417.1 1301.7 419.2 1301.9 421.3 1302.2 423.4 1302.5 425.4 1302.8 427.2 1303.1 428.9 1303.4 430.3 1303.7 431.4 1304.1 432.2 1304.5 432.6 1305 432.5 1305.4 432.1 1305.7 431.5 1306.1 430.6 1306.5 429.5 1306.9 428.2 1307.4 426.7 1307.8 425.1 1308.3 423.4 1308.7 421.5 1309.2 419.6 1309.7 417.7 1310.2 415.7 1310.7 413.7 1311.2 411.7 1311.6 409.8 1312.1 408 1312.6 406.3 1313.1 404.7 1313.6 403.2 1314.1 401.9 1314.5 400.9 1315 400 1316.6 398.2 1318.1 398 1319.7 398.6 1321.3 399.5 1323 400.2 1325 400 1326.1 399.6 1327.2 399.1 1328.5 398.5 1329.7 397.9 1331 397.2 1332.3 396.4 1333.7 395.6 1335 394.6 1336.3 393.6 1337.6 392.5 1338.8 391.3 1340 390 1340.8 389 1341.6 387.8 1342.3 386.5 1343 385.1 1343.7 383.6 1344.4 382 1345.1 380.4 1345.8 378.8 1346.4 377.3 1347.1 375.7 1347.8 374.2 1348.5 372.8 1349.3 371.4 1350 370.2 1350.8 369.1 1351.6 368.2 1352.5 367.5 1353.9 366.7 1355.4 366.3 1357 366.3 1358.7 366.4 1360.4 366.7 1362.1 367.2 1363.8 367.7 1365.5 368.1 1367.1 368.5 1368.6 368.7 1370 368.8 1371.8 368.4 1373.5 367.7 1375.1 366.9 1376.6 366 1378 365.3 1379.5 364.7 1381 364.6 1382.5 365 1383.5 365.5 1384.4 366.2 1385.3 367 1386.3 367.9 1387.2 368.9 1388.1 370 1389.1 371.3 1390 372.6 1391 374 1391.9 375.4 1392.9 376.9 1394 378.4 1395 380 1395.7 381.1 1396.4 382.4 1397.2 383.8 1397.9 385.3 1398.7 386.9 1399.5 388.6 1400.3 390.3 1401.1 392 1401.9 393.7 1402.7 395.4 1403.5 397.1 1404.2 398.6 1405 400.1 1405.8 401.5 1406.5 402.7 1407.3 403.8 1408 404.7 1408.7 405.4 1409.4 405.8 1410 406 1410.7 405.9 1411.4 405.5 1412 404.8 1412.5 403.9 1413.1 402.8 1413.6 401.4 1414.1 399.9 1414.6 398.3 1415.1 396.6 1415.6 394.8 1416.1 392.9 1416.7 391 1417.2 389.2 1417.9 387.4 1418.5 385.6 1419.2 384 1420 382.5 1420.7 381.2 1421.5 379.9 1422.3 378.5 1423.1 377.1 1424 375.6 1424.9 374.1 1425.9 372.6 1426.8 371.1 1427.8 369.6 1428.8 368.1 1429.7 366.7 1430.7 365.3 1431.6 364 1432.6 362.8 1433.5 361.6 1434.4 360.5 1435.2 359.6 1436 358.7 1436.8 358 1437.5 357.5 1439.3 357 1440.9 357.7 1442.3 359.3 1443.6 361.1 1444.9 362.8 1446.1 363.9 1447.5 363.8 1448.3 363.1 1449.1 362.1 1449.9 360.8 1450.7 359.3 1451.5 357.6 1452.3 355.8 1453.1 354 1453.9 352.2 1454.7 350.4 1455.5 348.9 1456.2 347.5 1456.9 346.4 1457.5 345.7 1459.2 345.3 1460.6 346.6 1462 348.5 1463.6 349.5 1464.9 349.3 1466.4 348.7 1468 347.9 1469.6 347.2 1471.2 346.9 1472.6 347.2 1473.5 347.9 1474.4 348.9 1475.2 350.1 1476 351.5 1476.8 353 1477.6 354.5 1478.5 356 1479.3 357.3 1480.1 358.5 1481.2 359.9 1482.3 361.3 1483.4 362.6 1484.4 363.8 1485.5 364.8 1486.6 365.6 1487.7 366 1489.2 365.8 1490.8 365 1492.3 363.8 1493.8 362.5 1495.2 361.5 1496.7 361 1498.1 360.9 1499.5 360.3 1501.2 358.5 1501.8 357.6 1502.4 356.6 1503 355.4 1503.7 354.1 1504.3 352.8 1505 351.3 1505.7 349.8 1506.4 348.3 1507.2 346.7 1507.9 345.1 1508.7 343.5 1509.5 341.9 1510.3 340.4 1511 339.1 1511.7 337.8 1512.4 336.5 1513.1 335.1 1513.8 333.7 1514.6 332.3 1515.3 330.9 1516.1 329.5 1516.9 328.1 1517.7 326.7 1518.4 325.3 1519.2 324 1520 322.7 1520.8 321.5 1521.5 320.4 1522.3 319.3 1523.4 317.9 1524.5 316.5 1525.6 315.3 1526.7 314.1 1527.8 313 1528.9 311.9 1530 311 1531.1 310 1532.2 309.1 1533.3 308.2 1534.4 307.3 1535.7 306.2 1537.1 305 1538.4 303.8 1539.8 302.7 1541.1 301.7 1542.5 300.8 1543.8 300.2 1545.2 299.8 1546.5 299.7 1547.7 300 1548.9 300.7 1550.1 301.6 1551.3 302.8 1552.5 304 1553.7 305.3 1554.9 306.5 1556.1 307.5 1557.3 308.3 1558.5 308.8 1560 308.9 1561.6 308.7 1563.2 308.2 1564.8 307.5 1566.4 306.8 1567.9 306 1569.3 305.4 1570.6 305 1572.4 304.5 1574 304 1575.4 303.7 1576.8 303.8 1578.1 304.3 1579 305.1 1579.9 306.4 1580.7 307.9 1581.5 309.5 1582.3 311 1583.2 312.3 1584.1 313.3 1585.4 313.9 1586.8 314 1588.3 313.9 1589.9 314 1591.7 314.8 1592.7 315.5 1593.9 316.3 1595.1 317.3 1596.3 318.3 1597.6 319.4 1598.9 320.6 1600.2 321.8 1601.4 323 1602.6 324.2 1603.7 325.4 1604.7 326.5 1605.7 327.5 1606.6 328.5 1607.4 329.5 1608.2 330.6 1609.1 331.7 1609.9 332.9 1610.8 334.2 1611.8 335.7 1612.8 337.4 1613.4 338.5 1614.1 339.7 1614.7 340.9 1615.4 342.2 1616.1 343.6 1616.8 345 1617.5 346.5 1618.2 347.9 1619 349.4 1619.7 351 1620.4 352.5 1621.2 354 1621.9 355.6 1622.6 357.1 1623.4 358.6 1624.1 360.1 1624.8 361.5 1625.5 362.9 1626.2 364.4 1626.9 365.8 1627.6 367.2 1628.4 368.7 1629.1 370.1 1629.8 371.6 1630.5 373 1631.2 374.5 1631.9 375.9 1632.6 377.3 1633.3 378.7 1634.1 380.1 1634.8 381.5 1635.5 382.9 1636.2 384.3 1636.9 385.6 1637.7 387 1638.4 388.4 1639.2 389.7 1640 391 1640.8 392.3 1641.6 393.6 1642.4 394.9 1643.1 396.1 1643.9 397.4 1644.7 398.7 1645.4 400 1646.2 401.3 1646.9 402.6 1647.6 403.9 1648.3 405.3 1649 406.7 1649.6 408.1 1650.2 409.4 1650.8 410.8 1651.4 412.3 1652 413.7 1652.5 415.2 1653.1 416.7 1653.6 418.2 1654.1 419.6 1654.7 421.1 1655.2 422.6 1655.7 424 1656.2 425.5 1656.6 426.9 1657.1 428.2 1657.6 429.6 1658 430.9 1658.6 432.6 1659.1 434.2 1659.5 435.8 1660 437.4 1660.4 439 1660.8 440.5 1661.2 442 1661.6 443.5 1662 445 1662.5 446.4 1662.9 447.8 1663.4 449.2 1664 450.5 1664.7 452.1 1665.5 453.6 1666.3 455.1 1667.1 456.5 1667.9 458 1668.8 459.3 1669.7 460.7 1670.5 462 1671.4 463.2 1672.3 464.4 1673.1 465.5 1674.2 467 1675.3 468.3 1676.3 469.5 1677.4 470.7 1678.5 471.8 1679.6 472.8 1680.8 473.7 1682.1 474.6 1683.5 475.4 1685.2 476.2 1686.9 476.8 1688.7 477.4 1690.4 477.9 1692 478.4 1693.2 478.8 1694.2 479.1" fill="none" stroke="#0000ff" stroke-width="8" stroke-linejoin="round" stroke-linecap="round"/>
<path d="M71.2 211.2 72.2 211.5 73.5 211.7 75 212 76.6 212.3 78.4 212.7 80.2 213.1 81.9 213.7 83.6 214.3 85 215 86.3 215.9 87.5 216.9 88.7 218.1 89.8 219.4 90.9 220.7 92 222 93 223.2 94 224.2 95 225 96.7 226.1 98.2 226.9 99.7 227.4 101.1 227.6 102.5 227.5 103.9 227 105.2 226.2 106.5 225 107.7 223.8 108.8 222.5 109.7 220.7 110.4 218.2 111.1 215.9 111.8 214.5 112.5 215 112.7 215.7 113 216.7 113.2 218 113.4 219.6 113.7 221.3 113.9 223.2 114.1 225.1 114.4 227.1 114.6 229.1 114.8 231 115.1 232.9 115.3 234.5 115.5 236 115.8 237.2 116 238.2 116.2 238.8 116.8 238.9 117.3 237.8 117.8 235.9 118.3 233.5 118.8 231.1 119.4 229 120 227.5 121.6 225.6 123.3 224.8 125 225 125.8 225.7 126.7 226.9 127.5 228.4 128.3 230 129.2 231.4 130 232.5 131.7 234.7 133.3 236.3 135 235 135.3 234.2 135.6 233 136 231.6 136.3 230 136.6 228.2 136.9 226.3 137.3 224.3 137.6 222.3 137.9 220.3 138.2 218.4 138.5 216.6 138.8 215 139.1 213.6 139.4 212.5 139.7 211.7 140 211.2 140.4 211.2 140.8 211.7 141.1 212.7 141.5 214.1 141.9 215.7 142.2 217.6 142.5 219.6 142.9 221.7 143.2 223.8 143.5 225.7 143.8 227.5 144 229 144.2 230.7 144.4 232.6 144.6 234.5 144.7 236.5 144.9 238.5 145.1 240.4 145.3 242.2 145.4 243.8 145.6 245.2 145.8 246.3 146 247.1 146.2 247.5 146.6 247.4 146.9 246.6 147.2 245.3 147.6 243.5 148 241.6 148.3 239.5 148.7 237.4 149.1 235.4 149.6 233.8 150 232.5 151.2 230.1 152.5 228.3 153.8 227.3 155 227.5 155.5 228.5 156 230.3 156.5 232.6 157 235 157.4 237.3 157.8 239.1 158.3 240.1 158.8 240 159 239.4 159.2 238.4 159.5 237.1 159.7 235.4 159.9 233.6 160.2 231.6 160.4 229.5 160.6 227.3 160.9 225.2 161.1 223.1 161.3 221.1 161.6 219.3 161.8 217.7 162 216.5 162.3 215.5 162.5 215 162.9 214.9 163.3 215.5 163.6 216.7 164 218.4 164.4 220.3 164.8 222.4 165.1 224.6 165.5 226.7 165.9 228.5 166.2 230 166.8 231.9 167.3 233.9 167.9 235.8 168.4 237.6 168.9 238.9 169.5 239.8 170 240 170.5 239.5 170.9 238.3 171.4 236.6 171.9 234.7 172.3 232.6 172.8 230.6 173.3 228.9 173.8 227.5 174.7 225.5 175.6 223.9 176.6 222.9 177.5 222.5 178.4 223 179.4 224.4 180.3 226 181.2 227.5 182.2 228.5 183.1 229.4 184.1 230.5 185 232.5 185.4 233.6 185.8 235 186.2 236.5 186.6 238.1 187 239.8 187.3 241.6 187.7 243.2 188.1 244.8 188.4 246.3 188.8 247.5 189.3 250.2 189.8 253.2 190.2 255.6 190.7 256.5 191.2 255 191.4 254.3 191.5 253.3 191.6 252.1 191.8 250.7 191.9 249.2 192.1 247.5 192.2 245.6 192.4 243.7 192.5 241.7 192.7 239.6 192.8 237.5 193 235.4 193.1 233.3 193.3 231.3 193.4 229.3 193.6 227.3 193.8 225.5 193.9 223.8 194.1 222.3 194.2 220.9 194.4 219.8 194.5 218.8 194.7 218.1 194.8 217.7 195 217.5 195.1 217.7 195.3 218.1 195.4 218.8 195.6 219.8 195.8 221 195.9 222.5 196.1 224 196.2 225.8 196.3 227.6 196.5 229.6 196.7 231.7 196.8 233.8 196.9 235.9 197.1 238.1 197.2 240.2 197.4 242.3 197.6 244.3 197.7 246.2 197.9 248 198 249.7 198.2 251.2 198.3 252.5 198.4 253.6 198.6 254.4 198.8 255 199.1 255.6 199.5 255.3 199.9 254.3 200.3 252.7 200.7 250.6 201.1 248.3 201.5 246 201.8 243.7 202.2 241.6 202.5 240 202.9 238.1 203.2 236.1 203.4 233.9 203.7 231.9 203.9 230.1 204.2 228.6 204.6 227.7 205 227.5 205.4 228 205.9 229.3 206.4 231.1 206.9 233.3 207.4 235.5 208 237.8 208.5 239.8 209 241.4 209.5 242.3 210 242.5 210.3 242 210.6 241.1 210.9 239.8 211.2 238.1 211.4 236.3 211.7 234.2 212 232.1 212.2 230 212.5 227.9 212.7 226 213 224.3 213.2 222.9 213.5 221.9 213.8 221.2 214.3 221.2 214.9 222.2 215.4 224 216 226.2 216.5 228.6 217 230.8 217.5 232.5 218.1 234.2 218.6 235.7 219.1 237 219.5 238.4 220 240 220.4 241.6 220.8 243.3 221.2 245.2 221.7 246.9 222.1 248.6 222.5 250 223.3 252.5 224.2 254.4 225 255 225.5 253.9 226 251.8 226.5 249.5 227 247.8 227.5 247.5 227.8 248.3 228 249.7 228.2 251.5 228.5 253.7 228.8 255.9 229 258.1 229.2 260 229.5 261.5 229.8 262.4 230 262.5 230.2 262 230.3 261.1 230.5 259.7 230.7 258.1 230.8 256.2 231 254.2 231.2 252 231.3 249.9 231.5 247.7 231.7 245.7 231.8 243.9 232 242.4 232.2 241.2 232.3 240.3 232.5 240 232.7 240.1 232.9 240.7 233.1 241.6 233.2 242.8 233.4 244.3 233.6 246 233.8 247.8 233.9 249.8 234.1 251.9 234.3 254 234.5 256.1 234.8 258.1 235 260 235.2 261.4 235.4 263 235.6 264.6 235.8 266.4 236 268.3 236.2 270.2 236.4 272.1 236.6 274 236.9 275.9 237.1 277.8 237.3 279.5 237.5 281.2 237.8 282.7 238 284.1 238.2 285.3 238.4 286.3 238.6 287 238.8 287.5 239 287.8 239.3 287.3 239.6 286.4 239.8 284.9 240 283.1 240.2 281.1 240.4 278.9 240.7 276.7 241 274.5 241.2 272.5 241.5 271.1 241.7 269.6 241.9 267.9 242.1 266.1 242.4 264.2 242.6 262.2 242.8 260.3 243.1 258.4 243.4 256.7 243.6 255 243.9 253.5 244.2 252.2 244.4 251.2 244.7 250.4 245 250 245.4 250 245.9 250.5 246.4 251.6 246.9 253.1 247.4 254.8 247.9 256.8 248.5 259 249 261.1 249.5 263.1 250 265 250.4 266.5 250.8 268.1 251.2 269.9 251.6 271.9 252 273.8 252.5 275.8 252.9 277.7 253.3 279.4 253.6 281.1 254 282.5 254.4 283.7 254.7 284.5 255 285 255.4 285 255.8 284 256.1 282.5 256.4 280.5 256.7 278.2 256.9 276 257.2 274 257.5 272.5 258 270.3 258.4 268.1 258.9 266.1 259.4 265 260 265 260.3 265.6 260.7 266.6 261 267.9 261.4 269.5 261.8 271.2 262.2 273.1 262.6 275 263 276.8 263.4 278.5 263.8 280 264.2 281.9 264.7 283.9 265.2 286.1 265.6 288.1 266.1 289.9 266.6 291.4 267 292.3 267.5 292.5 267.9 292 268.3 290.9 268.6 289.3 269 287.4 269.4 285.3 269.8 283.2 270.1 281.2 270.5 279.5 270.9 278.2 271.2 277.5 272 277.5 272.8 278.8 273.6 280.7 274.3 283 275 285 275.5 286.3 275.9 287.5 276.3 288.8 276.7 290.3 277.1 292.3 277.5 295 277.6 296.2 277.8 297.5 277.9 299.1 278.1 300.8 278.2 302.6 278.3 304.5 278.5 306.5 278.6 308.5 278.8 310.5 278.9 312.4 279 314.3 279.2 316 279.3 317.6 279.4 319.1 279.6 320.3 279.7 321.3 279.9 322.1 280 322.5 280.2 322.6 280.5 322 280.7 320.8 280.9 319.2 281.1 317.3 281.4 315.2 281.6 312.9 281.8 310.6 282 308.5 282.3 306.6 282.5 305 282.8 303 283.1 301 283.4 299 283.7 297 284 295.3 284.3 293.9 284.6 293 285 292.5 285.5 292.8 286 294 286.5 295.7 287.1 297.7 287.6 299.7 288.2 301.4 288.8 302.5 290.6 302.7 292.5 302.5 293.3 303.6 294 305.1 294.8 306.8 295.5 308.5 296.2 310 297.2 311.5 298 312.8 299 314 300 315 301.6 315.8 303.3 316.4 305 317.5 305.8 318.5 306.7 319.9 307.5 321.3 308.3 322.8 309.2 324.1 310 325 311.6 325.8 313.1 325.9 315 326.2 316.4 326.8 317.9 327.6 319.5 328.4 321 329.2 322.5 330 324.2 330.9 325.7 331.9 327.2 332.8 328.8 333.8 330.3 334.7 331.8 335.5 333.3 336.5 335 337.5 336.2 338.3 337.4 339.1 338.7 339.9 340 340.8 341.2 341.7 342.5 342.5 343.7 343.4 344.9 344.3 346.1 345.2 347.3 346.1 348.6 346.9 350 347.5 351.5 347.9 353.1 348.2 354.7 348.4 356.4 348.5 358.2 348.6 360 348.8 361.5 348.9 363 349 364.6 349.2 366.2 349.3 367.9 349.4 369.5 349.6 371 349.8 372.5 350 374.3 350.3 376.1 350.7 377.8 351.2 379.4 351.6 381 352.1 382.5 352.5 384.2 353 385.7 353.4 387.1 353.8 388.5 354.3 390 355 391.3 355.7 392.5 356.4 393.8 357.2 395 358.1 396.2 359 397.5 360 398.6 360.9 399.6 362 400.7 363 401.8 364.4 402.9 365.6 403.9 365.8 405 366.7 406.1 368.4 407.1 369.3 408.2 371.3 409.3 372.2 410.4 373.1 411.4 374.1 412.5 375.3 413.8 375.7 415 377.5 416.2 378.4 417.5 380.7 418.8 380.2 420 381.8 421.3 380.4 422.5 380.9 423.8 379.4 425 378.5 426.2 378 427.5 375.5 428.5 374.5 429.6 374.9 430.6 373.1 431.6 371.2 432.7 371.3 433.8 369.8 435 366.9 435.7 366.3 436.5 364.8 437.3 363.9 438.1 363.2 439 361.2 439.8 360.7 440.7 358.3 441.6 357.2 442.4 356.9 443.3 354.9 444.2 353.6 445 352.7 445.8 351.2 446.7 349.8 447.5 348 448.3 347.9 449.2 347 450 345.8 450.8 344 451.7 342.3 452.5 341 453.3 340.3 454.2 339 455 336.9 455.8 335.8 456.7 334.7 457.5 333.7 458.4 332.8 459.3 331 460.1 328.9 461 328.9 461.8 327 462.6 325.9 463.4 324.3 464.2 323.5 465 322.3 466.1 321.5 467.1 319.1 468.1 318.6 469 316.8 470 316.5 470.9 314.3 471.9 313.5 473 312.3 473.9 311.6 474.8 309.4 475.6 308.9 476.5 307.2 477.5 306.1 478.4 305.1 479.4 304.6 480.4 302.5 481.4 302 482.5 299.5 483.5 299.5 484.6 297.4 485.8 295.9 486.9 295.5 488.1 294.5 489.3 291.8 490.5 291 491.7 290.7 492.8 289 493.9 287.9 495 286.7 496.5 285.7 498 285.8 499.3 285.8 500.7 285.3 502 284.2 503.5 283.2 505 283.5 506.4 284.2 507.9 284.5 509.5 284.6 511.1 284.3 512.7 285.2 514.3 285.3 515.9 285.6 517.5 284.6 518.7 285.2 520 284.3 521.2 282.2 522.4 281.3 523.6 281.1 524.8 278.9 526.1 278.8 527.3 277 528.6 276.2 530 275.3 531.4 273.7 533 273 534.6 272.1 536.2 272 537.8 271.3 539.4 269.8 541 270.4 542.4 269.2 543.8 268.5 545 268.6 547 269.4 548.5 269 549.9 269.7 551.1 271.4 552.5 273.2 553.1 273.9 553.8 274.5 554.4 276.1 555.1 278 555.7 279.4 556.3 280.7 557 281.9 557.6 283.6 558.2 285.9 558.8 287.2 559.4 287.8 560 290.3 560.7 292.4 561.3 294 561.9 296.1 562.5 298 563.1 299.3 563.6 301.4 564.2 302.2 564.8 303 565.4 304.3 566 304.7 566.9 305.6 567.8 304.3 568.7 302.7 569.6 301 570.6 298.2 571.5 296.8 572.5 295.3 573.3 293.5 574.1 291.8 574.8 290.5 575.6 288.9 576.4 287.9 577.3 285.5 578.1 284.1 579.1 283.2 580 282.8 581.3 281.8 582.8 280.7 584.4 280.4 585.9 278.9 587.4 278 588.8 278.6 590 278.7 591.3 279.2 592.2 281.8 593.1 283.4 593.9 284.9 595 285.7 596 286.4 597.1 283.9 598.3 283.2 599.5 281.5 600.9 279.7 602.5 278.6 603.6 277.5 604.8 277.9 606 276.6 607.4 276.2 608.8 274.6 610.1 274.3 611.5 273.6 612.7 273 613.9 270.9 615 269.9 615.7 269.4 616.4 268 617.1 265.5 617.7 264.3 618.3 262.9 618.9 260.6 619.4 259.3 619.9 257.5 620.4 256.4 620.9 254.3 621.5 253.2 622 251.6 622.5 251.4 624.2 249.9 625.8 251.1 627.4 252.1 629 252.2 629.8 251.2 630.5 250.2 631.1 249.4 631.8 247.5 632.6 245.6 633.7 245.4 635 243.4 636.1 243.7 637.3 242.5 638.7 241.5 640.1 241.7 641.6 241.1 643.2 239.6 644.8 238.7 646.5 239 648.3 238.7 650 237.7 651.3 237.5 652.6 236.5 653.9 236.3 655.2 235.3 656.6 235.1 658 234.6 659.4 234.1 660.8 233.7 662.3 233.9 663.8 232.4 665.3 232 666.8 231.6 668.4 232.2 670 231 671.3 229.9 672.7 230.7 674.1 230.3 675.5 229.8 677 228.6 678.5 228.7 679.9 227.5 681.4 226.8 682.9 227.5 684.5 227 686 225.5 687.5 226.2 689 224.4 690.5 224.5 692 223.6 693.5 223.5 695 223.2 696.6 223.8 698.1 222.8 699.7 222.4 701.2 222.1 702.8 222.1 704.4 222.7 705.9 222.1 707.5 221.1 709.1 221.9 710.6 221.5 712.2 221.2 713.8 221.2 715.3 221.4 716.9 221.5 718.4 221 720 221.2 721.6 221 723.1 221.3 724.7 221 726.2 221.2 727.8 221.5 729.4 222 730.9 221.5 732.5 222.8 734.1 222.3 735.6 223.2 737.2 223.1 738.8 223.8 740.3 223.5 741.9 223.3 743.4 223.5 745 223.9 746.6 224.3 748.1 224.5 749.7 223.5 751.2 223.5 752.8 223.7 754.4 223.8 755.9 223.8 757.5 223.8 759.1 224.3 760.6 224.2 762.2 225.1 763.8 225.1 765.3 225.7 766.9 225.7 768.4 225.4 770 225.7 771.6 224.2 773.1 224.5 774.7 225.6 776.2 224.8 777.8 224.3 779.4 225.1 780.9 224.5 782.5 224.6 784.1 224.1 785.6 223.9 787.2 223.6 788.8 224.3 790.3 224.7 791.9 224.7 793.4 224.3 795 224.4 796.6 223.5 798.1 223.3 799.6 224.2 801.1 223.6 802.6 223.7 804.2 222.5 805.7 222.8 807.2 223.1 808.7 223.5 810.3 223.5 811.8 223.4 813.4 222.6 815 222.6 816.6 223.3 818.3 223.4 820 222.5 821.4 221.9 822.9 222.5 824.4 222.2 826 221.8 827.6 221.5 829.3 221.6 831 221.8 832.6 220.9 834.3 221.4 836 221.9 837.7 221.5 839.3 220.5 840.9 220.7 842.4 220.1 843.9 221 845.3 220.8 846.6 220 847.8 220.6 849 220.6 850 220.6 852.7 220.7 854.5 221.4 855.7 222.4 856.6 224.3 857.6 223.7 859 224 860.1 223.5 861.3 222.1 862.4 221.4 863.6 219.8 864.9 218.7 866.1 217.6 867.4 216.6 868.7 216.9 870 215.7 871.2 216 872.5 217.1 873.8 217.6 875.1 218.8 876.4 220.2 877.8 220.5 879.1 222.7 880.4 222.9 881.7 224 883 225.5 884.4 226.2 885.5 225.7 886.6 224.7 887.6 224.9 888.9 224.4 890.4 225.1 892.4 224.2 895 224.5 896 225.4 897.1 225.7 898.3 225.8 899.6 225.9 901 227 902.4 226.6 903.8 227.7 905.3 227.2 906.9 227.7 908.5 227.9 910.1 228.9 911.7 229.4 913.3 229 915 229.9 916.6 230.6 918.2 230.7 919.8 231.4 921.4 231.7 923 232.3 924.5 232.1 925.9 232.4 927.4 232.3 928.7 234.1 930 234.2 931.8 234 933.5 235.4 935.2 235.7 936.9 234.9 938.6 236.4 940.3 236.1 941.9 236.3 943.5 236.6 945 237.2 946.5 237 947.9 237.4 949.2 237.8 950.5 238.4 951.8 238.5 952.9 238.8 954 240.2 955 239.8 957.5 241.1 959 242.6 960 244.1 961 243.4 962.5 243.3 963.4 243.8 964.4 243.2 965.4 242.3 966.5 240.5 967.6 239 968.7 237.5 969.9 237.3 971.1 235.9 972.4 234.4 973.7 233.8 975 232.1 976.4 231.9 977.9 231.9 979.5 230.1 981.2 230.5 982.9 229.4 984.6 230.2 986.3 229.9 988 229.4 989.6 228.9 991.1 228.1 992.5 228.7 994.3 228.5 996 228.6 997.6 228.2 999.1 229.8 1000.5 229.5 1002 229.9 1003.5 230.4 1005 231 1006.4 231.6 1007.8 232.4 1009.2 233.3 1010.6 234.2 1011.9 235.2 1013.3 236.2 1014.7 237.1 1016.1 238 1017.5 238.8 1019.1 239.6 1020.6 240.4 1022.2 241.3 1023.8 242 1025.3 242.7 1026.9 243.3 1028.4 243.6 1030 243.8 1031.6 243.5 1033.1 243 1034.7 242.2 1036.2 241.2 1037.8 240.3 1039.4 239.5 1040.9 239 1042.5 238.8 1044.1 239 1045.6 239.6 1047.2 240.6 1048.8 241.6 1050.3 242.5 1051.9 243.3 1053.4 243.8 1055 243.8 1056.3 243.3 1057.5 242.6 1058.7 241.6 1060 240.4 1061.2 239.1 1062.5 237.8 1063.8 236.6 1065 235.4 1066.2 234.5 1067.5 233.8 1069.1 233.2 1070.6 232.9 1072.2 232.9 1073.8 232.9 1075.3 233 1076.9 233 1078.4 232.8 1080 232.5 1081.4 232 1082.9 231.4 1084.4 230.6 1085.8 229.8 1087.3 229 1088.7 228.1 1090.1 227.3 1091.3 226.6 1092.5 226 1094.4 224.7 1096.1 223.3 1097.6 222.1 1098.9 221.6 1100 222.5 1100.4 223.4 1100.7 224.7 1100.9 226.3 1101.1 228.2 1101.3 230.2 1101.5 232.4 1101.6 234.5 1101.8 236.5 1101.9 238.4 1102 240 1102.2 241.3 1102.3 242.2 1102.5 242.5 1102.7 242.3 1102.9 241.4 1103.1 240.2 1103.2 238.6 1103.4 236.7 1103.6 234.6 1103.8 232.5 1104 230.3 1104.2 228.3 1104.4 226.5 1104.7 225.1 1105 224 1105.9 222.1 1107.1 222.1 1110 222.5 1111.1 222.6 1112.3 222.7 1113.7 222.8 1115.3 223 1116.9 223.2 1118.7 223.5 1120.4 223.7 1122.2 224 1123.9 224.2 1125.6 224.4 1127.2 224.7 1128.7 224.8 1130 225 1132 225.1 1133.9 225.1 1135.7 224.9 1137.3 224.8 1138.9 224.7 1140.3 224.9 1141.5 225.3 1142.5 226 1143.2 227.1 1143.7 228.7 1144.1 230.7 1144.3 232.8 1144.4 234.8 1144.5 236.8 1144.6 238.4 1144.8 239.5 1145 240 1145.3 239.6 1145.6 238.5 1145.9 236.8 1146.2 234.8 1146.6 232.6 1147 230.6 1147.4 229 1148 228 1149.5 226.8 1151.4 226.2 1153.3 227 1155 230 1155.3 231 1155.6 232.2 1155.8 233.6 1156.1 235.2 1156.4 236.9 1156.6 238.8 1156.9 240.8 1157.1 242.8 1157.3 244.9 1157.6 247 1157.8 249.1 1158 251.2 1158.3 253.1 1158.5 255 1158.7 256.7 1158.9 258.2 1159.1 259.6 1159.4 260.7 1159.6 261.6 1159.8 262.2 1160 262.5 1160.2 262.4 1160.5 261.9 1160.7 261.1 1161 259.9 1161.2 258.5 1161.4 256.9 1161.7 255 1161.9 253 1162.1 250.9 1162.3 248.8 1162.5 246.7 1162.7 244.5 1163 242.5 1163.2 240.6 1163.4 238.8 1163.6 237.3 1163.8 236 1164 235 1165.7 230.9 1167.5 232.5 1167.8 233.3 1168.2 234.5 1168.6 235.9 1169 237.6 1169.4 239.4 1169.8 241.2 1170.2 243.1 1170.6 244.9 1171 246.6 1171.3 248 1171.7 249.2 1172 250 1173.6 248.1 1175 247.5 1175.1 248.3 1175.3 249.5 1175.4 250.8 1175.6 252.4 1175.7 254.1 1175.8 255.9 1176 257.9 1176.1 259.9 1176.2 261.9 1176.3 263.9 1176.5 265.9 1176.6 267.7 1176.7 269.5 1176.9 271 1177 272.4 1177.2 273.6 1177.3 274.4 1177.5 275 1177.9 275.2 1178.3 274.3 1178.8 272.5 1179.2 270.2 1179.7 267.7 1180.2 265.2 1180.6 263.3 1181 262 1183.8 262.5 1183.8 263.3 1183.9 264.3 1184 265.3 1184.1 266.5 1184.2 267.8 1184.3 269.1 1184.3 270.5 1184.4 272 1184.5 273.5 1184.6 275.1 1184.6 276.8 1184.7 278.5 1184.8 280.2 1184.9 281.9 1185 283.7 1185 285.5 1185.1 287.3 1185.2 289.1 1185.3 290.9 1185.4 292.6 1185.5 294.4 1185.6 296.1 1185.7 297.8 1185.8 299.4 1185.9 301 1186 302.5 1186.1 304 1186.3 305.5 1186.4 307 1186.5 308.4 1186.7 309.8 1186.8 311.2 1187 312.5 1187.2 313.9 1187.3 315.3 1187.5 316.6 1187.7 318 1187.8 319.3 1188 320.7 1188.2 322.1 1188.3 323.5 1188.5 324.9 1188.7 326.4 1188.8 327.9 1189 329.5 1189.2 331.1 1189.4 332.8 1189.5 334.5 1189.7 336.2 1189.8 338.1 1190 340 1190.1 341.2 1190.2 342.5 1190.3 343.8 1190.4 345.1 1190.5 346.5 1190.6 347.9 1190.6 349.3 1190.7 350.7 1190.8 352.2 1190.9 353.7 1191 355.1 1191.1 356.7 1191.1 358.2 1191.2 359.7 1191.3 361.3 1191.4 362.9 1191.5 364.4 1191.6 366 1191.6 367.6 1191.7 369.2 1191.8 370.8 1191.9 372.4 1192 374 1192.1 375.6 1192.2 377.2 1192.3 378.8 1192.4 380.4 1192.4 382 1192.5 383.6 1192.6 385.2 1192.7 386.7 1192.8 388.3 1192.9 389.8 1193.1 391.3 1193.2 392.8 1193.3 394.3 1193.4 395.8 1193.5 397.2 1193.6 398.6 1193.8 400 1193.9 401.7 1194.1 403.3 1194.2 405 1194.4 406.7 1194.5 408.4 1194.7 410 1194.9 411.7 1195.1 413.4 1195.2 415 1195.4 416.7 1195.6 418.3 1195.8 420 1196 421.6 1196.2 423.2 1196.4 424.8 1196.5 426.4 1196.7 428 1196.9 429.5 1197.1 431.1 1197.3 432.6 1197.5 434.1 1197.7 435.6 1197.9 437 1198.1 438.4 1198.3 439.8 1198.5 441.2 1198.8 442.6 1199 443.9 1199.2 445.2 1199.4 446.4 1199.6 447.7 1199.8 448.8 1200 450 1200.4 452.1 1200.8 454 1201.3 455.7 1201.7 457.2 1202.2 458.6 1202.7 459.9 1203.1 461.1 1203.6 462.2 1204.1 463.4 1204.5 464.5 1205 465.7 1205.4 466.9 1205.9 468.3 1206.3 469.7 1206.7 471.3 1207.1 473 1207.5 475 1207.7 476.2 1207.9 477.4 1208.1 478.7 1208.3 480.1 1208.4 481.4 1208.6 482.8 1208.8 484.3 1208.9 485.8 1209.1 487.3 1209.3 488.8 1209.4 490.3 1209.6 491.9 1209.7 493.5 1209.9 495.1 1210 496.7 1210.1 498.3 1210.3 500 1210.4 501.6 1210.6 503.2 1210.7 504.8 1210.9 506.4 1211.1 508 1211.2 509.6 1211.4 511.2 1211.6 512.7 1211.7 514.2 1211.9 515.7 1212.1 517.2 1212.3 518.6 1212.5 520 1212.8 521.7 1213 523.5 1213.3 525.3 1213.6 527.2 1213.8 529.1 1214.1 531.1 1214.4 533 1214.7 535 1215 537 1215.3 538.9 1215.6 540.8 1215.9 542.7 1216.3 544.5 1216.6 546.2 1216.9 547.9 1217.2 549.5 1217.5 550.9 1217.8 552.3 1218.1 553.5 1218.5 554.6 1218.8 555.5 1219.1 556.3 1219.4 556.9 1219.7 557.3 1220 557.5 1220.3 557.5 1220.7 557.4 1221 557.2 1221.4 556.8 1221.7 556.2 1222 555.5 1222.4 554.7 1222.7 553.7 1223.1 552.5 1223.4 551.3 1223.8 549.8 1224.1 548.3 1224.4 546.6 1224.8 544.7 1225.1 542.7 1225.5 540.6 1225.8 538.4 1226.1 536 1226.5 533.4 1226.8 530.8 1227.2 527.9 1227.5 525 1227.6 524 1227.7 522.9 1227.8 521.8 1228 520.6 1228.1 519.4 1228.2 518.2 1228.3 517 1228.4 515.7 1228.5 514.3 1228.6 512.9 1228.7 511.5 1228.8 510.1 1229 508.7 1229.1 507.2 1229.2 505.7 1229.3 504.1 1229.4 502.6 1229.5 501 1229.6 499.4 1229.7 497.7 1229.8 496.1 1230 494.4 1230.1 492.8 1230.2 491.1 1230.3 489.4 1230.4 487.7 1230.5 485.9 1230.6 484.2 1230.7 482.5 1230.8 480.7 1230.9 479 1231.1 477.2 1231.2 475.5 1231.3 473.7 1231.4 472 1231.5 470.2 1231.6 468.4 1231.7 466.7 1231.8 465 1232 463.2 1232.1 461.5 1232.2 459.8 1232.3 458.1 1232.4 456.4 1232.5 454.7 1232.6 453 1232.7 451.4 1232.9 449.8 1233 448.2 1233.1 446.6 1233.2 445 1233.3 443.5 1233.4 441.9 1233.6 440.4 1233.7 439 1233.8 437.5 1233.9 436.1 1234 434.7 1234.2 433.4 1234.3 432.1 1234.4 430.8 1234.5 429.6 1234.6 428.4 1234.8 427.2 1234.9 426.1 1235 425 1235.3 422.4 1235.6 420 1235.9 417.6 1236.2 415.3 1236.5 413.1 1236.9 410.9 1237.2 408.9 1237.5 406.9 1237.8 405 1238.1 403.2 1238.5 401.5 1238.8 399.8 1239.1 398.3 1239.5 396.8 1239.8 395.4 1240.1 394.1 1240.5 392.8 1240.8 391.7 1241.1 390.6 1241.5 389.6 1241.8 388.7 1242.1 387.9 1242.4 387.1 1242.8 386.5 1243.1 385.9 1243.4 385.4 1243.8 385 1244.4 384.5 1245 384.3 1245.7 384.4 1246.4 384.9 1247 385.7 1247.7 386.7 1248.4 388.1 1249 389.8 1249.7 391.7 1250.3 393.9 1250.9 396.3 1251.4 399 1252 401.9 1252.5 405 1252.6 406 1252.8 407.1 1252.9 408.2 1253.1 409.4 1253.2 410.6 1253.3 411.9 1253.4 413.3 1253.6 414.6 1253.7 416.1 1253.8 417.5 1253.9 419 1254 420.6 1254.1 422.1 1254.2 423.7 1254.3 425.4 1254.4 427 1254.5 428.7 1254.6 430.4 1254.7 432.1 1254.8 433.8 1254.9 435.6 1255 437.3 1255.1 439.1 1255.2 440.8 1255.3 442.6 1255.4 444.3 1255.4 446.1 1255.5 447.8 1255.6 449.5 1255.7 451.3 1255.8 453 1255.9 454.7 1256 456.3 1256.1 458 1256.2 459.6 1256.3 461.2 1256.4 462.7 1256.5 464.3 1256.6 465.8 1256.8 467.2 1256.9 468.6 1257 470 1257.1 471.3 1257.2 472.6 1257.4 473.8 1257.5 475 1257.8 477.2 1258.1 479.4 1258.3 481.5 1258.6 483.5 1258.9 485.5 1259.2 487.4 1259.5 489.2 1259.8 490.9 1260.1 492.6 1260.5 494.3 1260.8 495.8 1261.1 497.3 1261.4 498.7 1261.8 500.1 1262.1 501.4 1262.5 502.7 1262.8 503.9 1263.2 505 1263.5 506.1 1263.9 507.2 1264.2 508.2 1264.6 509.1 1265 510 1266.3 512.6 1267.8 514.6 1269.4 515.9 1270.9 516.7 1272.4 516.8 1273.8 516.3 1275 515 1275.4 514.3 1275.8 513.6 1276.1 512.7 1276.4 511.7 1276.7 510.7 1277 509.5 1277.3 508.3 1277.5 506.9 1277.8 505.5 1278 503.9 1278.2 502.2 1278.4 500.5 1278.7 498.6 1278.9 496.6 1279.2 494.5 1279.4 492.3 1279.7 489.9 1280 487.5 1280.1 486.4 1280.3 485.2 1280.4 484 1280.5 482.8 1280.7 481.5 1280.8 480.2 1281 478.8 1281.1 477.4 1281.2 476 1281.4 474.6 1281.5 473.1 1281.7 471.6 1281.8 470.1 1282 468.6 1282.1 467 1282.2 465.4 1282.4 463.8 1282.5 462.2 1282.7 460.6 1282.8 458.9 1283 457.3 1283.1 455.6 1283.3 454 1283.4 452.3 1283.6 450.7 1283.7 449 1283.9 447.3 1284 445.6 1284.2 444 1284.3 442.3 1284.5 440.7 1284.6 439 1284.8 437.4 1284.9 435.8 1285.1 434.2 1285.2 432.6 1285.4 431 1285.5 429.5 1285.7 428 1285.8 426.5 1286 425 1286.2 423.4 1286.3 421.8 1286.5 420.1 1286.7 418.4 1286.8 416.6 1287 414.9 1287.2 413.1 1287.3 411.3 1287.5 409.4 1287.6 407.6 1287.8 405.8 1288 403.9 1288.1 402.1 1288.3 400.2 1288.5 398.4 1288.7 396.6 1288.8 394.8 1289 393 1289.2 391.2 1289.3 389.5 1289.5 387.8 1289.7 386.2 1289.8 384.5 1290 383 1290.2 381.4 1290.4 379.9 1290.5 378.5 1290.7 377.1 1290.9 375.8 1291.1 374.6 1291.2 373.4 1291.4 372.3 1291.6 371.3 1291.8 370.4 1292 369.5 1292.1 368.7 1292.3 368.1 1292.5 367.5 1293.1 366.3 1293.7 365.9 1294.4 366.2 1295 367.1 1295.7 368.6 1296.3 370.5 1297 372.7 1297.6 375.1 1298.3 377.6 1298.9 380.2 1299.5 382.7 1300 385 1300.3 386.2 1300.5 387.6 1300.8 389.2 1301 390.9 1301.2 392.6 1301.4 394.5 1301.6 396.5 1301.8 398.4 1302 400.5 1302.2 402.5 1302.4 404.5 1302.6 406.4 1302.8 408.4 1303 410.2 1303.2 411.9 1303.4 413.6 1303.6 415.1 1303.8 416.4 1304 417.6 1304.2 418.5 1304.5 419.3 1304.7 419.8 1305 420 1305.3 419.9 1305.6 419.5 1306 418.8 1306.3 417.8 1306.7 416.6 1307.1 415.1 1307.4 413.5 1307.8 411.7 1308.2 409.8 1308.6 407.8 1309 405.7 1309.4 403.6 1309.8 401.5 1310.2 399.5 1310.6 397.5 1311 395.7 1311.4 394 1311.7 392.4 1312.1 391.1 1312.5 390 1313.6 387.5 1314.6 385.4 1315.7 383.7 1316.8 382.5 1317.9 381.6 1318.9 381.2 1320 381 1321.1 381.3 1322.2 382.2 1323.3 383.4 1324.5 385 1325.5 386.6 1326.6 388.4 1327.5 390 1328.2 391.6 1328.9 393.7 1329.4 396 1330 398.2 1330.6 400.2 1331.1 401.8 1331.8 402.6 1332.5 402.5 1332.9 402.1 1333.4 401.4 1333.8 400.6 1334.3 399.5 1334.7 398.3 1335.2 397 1335.7 395.5 1336.2 393.9 1336.7 392.1 1337.2 390.3 1337.8 388.3 1338.3 386.3 1338.9 384.3 1339.4 382.2 1340 380 1340.3 378.8 1340.6 377.6 1341 376.2 1341.3 374.8 1341.6 373.4 1342 371.8 1342.4 370.2 1342.7 368.6 1343.1 367 1343.5 365.3 1343.8 363.6 1344.2 361.8 1344.6 360.1 1345 358.4 1345.3 356.6 1345.7 354.9 1346.1 353.2 1346.5 351.6 1346.8 350 1347.2 348.4 1347.5 346.9 1347.9 345.4 1348.2 344 1348.5 342.7 1348.9 341.5 1349.2 340.3 1349.5 339.3 1349.7 338.3 1350 337.5 1352 332.4 1353.5 331.8 1355 335 1355.2 335.9 1355.5 337 1355.7 338.3 1356 339.8 1356.2 341.5 1356.4 343.3 1356.7 345.3 1356.9 347.3 1357.1 349.4 1357.4 351.5 1357.6 353.5 1357.9 355.6 1358.1 357.6 1358.3 359.4 1358.6 361.2 1358.8 362.8 1359 364.2 1359.3 365.4 1359.5 366.4 1359.8 367.1 1360 367.5 1360.3 367.5 1360.6 367 1361 366 1361.3 364.6 1361.6 362.9 1361.9 360.9 1362.2 358.8 1362.5 356.5 1362.8 354.3 1363.1 352.1 1363.5 350.1 1363.8 348.3 1364.2 346.8 1364.6 345.7 1365 345 1365.8 344.8 1366.7 345.7 1367.6 347.3 1368.6 349.3 1369.6 351.4 1370.6 353.2 1371.5 354.5 1372.5 355 1373.3 354.6 1374 353.5 1374.7 352 1375.4 350.2 1376.2 348.4 1376.9 346.6 1377.8 345.1 1378.8 344.1 1380 343.8 1381 343.9 1382.1 344.2 1383.2 344.7 1384.4 345.4 1385.7 346.2 1387 347.2 1388.4 348.3 1389.7 349.5 1391.1 350.8 1392.4 352.1 1393.7 353.6 1395 355 1395.8 356.1 1396.7 357.4 1397.6 358.9 1398.4 360.5 1399.3 362.3 1400.2 364.1 1401.1 366 1401.9 367.9 1402.8 369.7 1403.7 371.5 1404.5 373.1 1405.4 374.6 1406.2 376 1407 377.1 1407.8 378 1408.6 378.6 1409.3 378.8 1410 378.8 1410.5 378.4 1411 377.9 1411.5 377.2 1412 376.3 1412.4 375.2 1412.8 374 1413.3 372.7 1413.7 371.3 1414 369.7 1414.4 368.1 1414.8 366.4 1415.2 364.6 1415.6 362.8 1416 360.9 1416.3 359 1416.7 357.1 1417.2 355.3 1417.6 353.4 1418 351.6 1418.5 349.8 1419 348.1 1419.5 346.5 1420 345 1420.5 343.5 1421.1 342 1421.7 340.4 1422.2 338.8 1422.8 337.1 1423.5 335.4 1424.1 333.7 1424.7 332 1425.4 330.2 1426 328.5 1426.7 326.8 1427.3 325.1 1428 323.5 1428.7 321.9 1429.3 320.3 1430 318.9 1430.7 317.5 1431.3 316.2 1432 315 1432.6 314 1433.2 313 1433.8 312.2 1434.4 311.5 1435 311 1436.2 310.5 1437.5 310.9 1438.7 312 1439.8 313.6 1441 315.5 1442.1 317.5 1443.2 319.5 1444.3 321.4 1445.4 322.8 1446.5 323.6 1447.5 323.8 1448.3 323.3 1449.1 322.4 1449.9 321.2 1450.6 319.7 1451.4 318 1452.1 316.2 1452.8 314.3 1453.5 312.3 1454.2 310.5 1454.9 308.7 1455.6 307.1 1456.2 305.7 1456.9 304.7 1457.5 304 1458.9 303.5 1460.2 304.2 1461.4 305.5 1462.6 307.3 1463.8 309 1465 310.3 1466.3 311.2 1467.5 311.9 1468.8 312.6 1470.1 313.4 1471.3 314.6 1472.6 316.3 1473.2 317.3 1473.8 318.4 1474.4 319.6 1475 320.8 1475.6 322.2 1476.1 323.6 1476.7 325.1 1477.3 326.6 1477.9 328.1 1478.5 329.7 1479 331.2 1479.6 332.8 1480.1 334.4 1480.5 335.8 1481 337.4 1481.4 339 1481.8 340.8 1482.2 342.5 1482.6 344.3 1483 346.1 1483.3 347.9 1483.7 349.6 1484.1 351.2 1484.5 352.7 1484.9 354 1485.3 355.2 1485.8 356.2 1486.2 357 1487.6 357.5 1489.1 356.1 1490.6 354.2 1492.2 353 1493.7 354 1494.1 354.8 1494.5 356 1494.9 357.4 1495.3 359.1 1495.7 360.9 1496.2 362.9 1496.6 364.9 1497 367.1 1497.4 369.2 1497.8 371.3 1498.2 373.4 1498.6 375.4 1499 377.2 1499.4 378.8 1499.8 380.2 1500.2 381.3 1500.5 382.1 1500.9 382.5 1501.2 382.6 1501.5 382.3 1501.7 381.9 1501.9 381.1 1502.2 380.2 1502.4 379.1 1502.6 377.9 1502.8 376.4 1503 374.9 1503.2 373.2 1503.4 371.5 1503.6 369.6 1503.8 367.7 1504 365.8 1504.1 363.8 1504.3 361.9 1504.5 359.9 1504.7 358 1504.9 356.1 1505 354.3 1505.2 352.5 1505.4 350.9 1505.6 349.4 1505.8 348 1506.1 346.2 1506.3 344.5 1506.6 342.9 1506.8 341.2 1507 339.6 1507.3 338.1 1507.5 336.6 1507.7 335 1508 333.6 1508.2 332.1 1508.5 330.7 1508.8 329.3 1509 327.8 1509.3 326.4 1509.6 325.1 1510 323.7 1510.3 322.3 1510.7 320.6 1511.2 319 1511.6 317.3 1512.1 315.7 1512.6 314.1 1513.1 312.5 1513.6 311 1514.1 309.5 1514.7 308 1515.2 306.5 1515.8 305.1 1516.5 303.8 1517.1 302.5 1517.8 301.2 1518.7 299.8 1519.6 298.5 1520.5 297.2 1521.6 295.9 1522.6 294.8 1523.7 293.6 1524.7 292.6 1525.8 291.5 1526.9 290.5 1527.9 289.6 1528.9 288.6 1529.9 287.7 1531.3 286.4 1532.7 285.1 1534 283.9 1535.3 282.8 1536.6 281.8 1537.9 280.9 1539.2 280.1 1540.4 279.4 1542 278.6 1543.5 278 1545 277.6 1546.5 277.4 1548 277.5 1549.5 277.9 1550.6 278.6 1551.7 279.5 1552.7 280.7 1553.8 282.1 1554.9 283.4 1556 284.8 1557.2 286 1558.5 286.9 1559.9 287.6 1561.4 288.2 1562.9 288.6 1564.5 289 1566.2 289.3 1567.7 289.7 1569.2 290.2 1570.6 290.7 1572.1 291.4 1573.5 292.1 1574.9 292.9 1576.3 293.7 1577.5 294.6 1578.6 295.6 1579.6 296.7 1580.4 298.2 1581 300.1 1581.5 302.1 1581.9 304.1 1582.4 305.8 1582.8 306.9 1583.4 307.3 1584 306.8 1584.5 305.7 1585 304 1585.6 302.1 1586.3 300.1 1587 298.1 1587.8 296.4 1588.7 295.2 1590 294.1 1591.5 293.2 1593.1 292.4 1594.7 291.8 1596.4 291.6 1597.9 291.7 1599.2 292.2 1600 292.9 1600.7 294 1601.4 295.3 1601.9 296.8 1602.5 298.4 1603 300.2 1603.6 302.1 1604.4 303.9 1605.2 305.8 1605.8 307 1606.5 308.3 1607.1 309.6 1607.9 310.9 1608.6 312.3 1609.3 313.7 1610.1 315.1 1610.9 316.6 1611.7 318 1612.5 319.5 1613.4 321 1614.2 322.5 1615 323.9 1615.8 325.4 1616.5 326.7 1617.2 327.9 1618 329.2 1618.7 330.4 1619.4 331.7 1620.2 332.9 1620.9 334.2 1621.7 335.5 1622.5 336.8 1623.2 338.1 1624 339.4 1624.8 340.8 1625.5 342.2 1626.3 343.6 1627 345 1627.8 346.5 1628.4 347.8 1629.1 349.1 1629.7 350.5 1630.3 351.8 1631 353.2 1631.6 354.7 1632.3 356.1 1632.9 357.6 1633.5 359 1634.2 360.5 1634.8 362 1635.4 363.5 1636.1 364.9 1636.7 366.4 1637.4 367.9 1638 369.3 1638.6 370.8 1639.3 372.2 1639.9 373.6 1640.6 375.1 1641.3 376.5 1642 377.9 1642.6 379.3 1643.3 380.6 1644 382 1644.7 383.4 1645.4 384.7 1646.1 386.1 1646.8 387.5 1647.5 388.9 1648.2 390.3 1648.9 391.7 1649.5 393.1 1650.2 394.6 1650.8 396.1 1651.4 397.6 1652 399.2 1652.5 400.6 1653 402 1653.5 403.4 1653.9 404.8 1654.4 406.3 1654.8 407.8 1655.3 409.3 1655.7 410.8 1656.2 412.3 1656.6 413.8 1657 415.4 1657.4 416.9 1657.8 418.4 1658.2 420 1658.6 421.6 1659 423.1 1659.4 424.7 1659.8 426.2 1660.2 427.8 1660.6 429.4 1661 430.9 1661.4 432.4 1661.7 433.9 1662.1 435.5 1662.5 437.1 1662.8 438.7 1663.2 440.4 1663.5 442.1 1663.8 443.7 1664.2 445.4 1664.5 447 1664.8 448.7 1665.2 450.3 1665.5 451.9 1665.8 453.5 1666.2 455 1666.5 456.5 1666.8 457.9 1667.2 459.2 1667.5 460.5 1667.8 461.8 1668.2 462.9 1668.5 464 1669.3 466.3 1670.2 468.1 1671 469.6 1671.8 470.8 1672.7 471.8 1673.5 472.8 1674.3 473.7 1675.2 474.8 1676 476 1676.8 477.4 1677.6 478.8 1678.4 480.2 1679.2 481.6 1680 483 1680.8 484.4 1681.7 485.7 1682.6 487 1683.6 488.1 1684.9 489.3 1686.3 490.5 1687.8 491.6 1689.4 492.7 1690.9 493.6 1692.2 494.4 1693.4 495.1 1694.2 495.7" fill="none" stroke="#f39a36" stroke-width="8" stroke-linejoin="round" stroke-linecap="round"/>
<path d="M69 206.5 70.9 207.1 84.2 209.5 91.5 213.2 97.5 211.3 101.2 210.7 106 215.6 110.8 210.1 114.5 210.7 119.3 220.4 124.2 216.8 130.2 221.6 135.1 225.3 138.7 208.3 142.3 208.9 144.7 222.8 152 224.1 156.9 221.6 162.9 212 166.5 214.4 171.4 215.6 178.6 218 184.7 225.3 188.3 227.7 192 216.8 196.8 218 199.2 224.1 202.9 222.8 206.5 227.7 210.1 220.4 213.8 219.2 217.4 222.8 221 228.9 224.6 237.4 229.5 241 233.1 239.8 236.8 245.8 241.6 249.5 246 248.5 252.1 255.1 255.7 258.7 261.8 263.6 265.4 268.4 270.3 274.5 276.3 279.3 281.2 287.8 286 290.2 290.8 297.5 296.9 302.3 303 307.2 307.8 312 312.6 316.9 317.5 318 322.3 324.1 327.2 325.3 336.9 331.4 342.9 335 351.4 341.1 361.1 343.5 370.8 344.7 385.3 349.5 392.5 353.2 402.2 360.4 409.5 368.9 404.6 368.9 397.4 361.6 387.7 356.8 379.2 354.4 367.1 350.8 356.2 348.3 349 348.3 341.7 339.9 335.6 344.7 329.6 336.2 322.3 332.6 315.1 326.5 310.2 330.2 304.2 321.7 298.1 322.9 293.3 315.6 288.4 316.9 284.8 309.6 282.4 322.9 277.5 324.1 273.9 292.6 269.1 295.1 265.4 287.8 260.6 285.4 255.5 289 251.5 277 247.5 266 244.5 282 241.6 289.4 238 289.4 235.5 270.1 231.9 262.8 228.3 264.6 223.4 255.5 218.6 248.3 215 238.6 211.3 243.4 207.7 244.6 202.9 247.1 200.4 256.7 196.8 258 193.2 256.7 189.5 258 185.9 248.3 181.1 235 175 230.1 171.4 239.8 167.7 244 164.1 241 159.3 243.4 156.9 247.1 152 245.8 148.4 249.5 144.7 248.3 139.9 242.2 135.1 241 130.2 239.8 125.4 241 120.5 238.6 116.9 241.6 113.3 235 108.4 227.7 103.6 230.1 100 228.9 96.3 227.7 92.7 227.1 89.1 221.6 84.2 218 78.2 216.8 70.9 215.6 69 216Z" fill="#f39a36" stroke="#f39a36" stroke-width="1.2" stroke-linejoin="round"/>
<path d="M995 226.5 1000 227.2 1012.1 230.9 1018.2 235.1 1024.2 236.3 1036.3 233.9 1048.4 235.1 1054.5 236.3 1060.5 231.5 1072.6 225.4 1084.7 223.6 1096.9 220 1100.5 218.8 1109 218.2 1116.2 221.2 1127.1 219.4 1136.8 221.8 1142.9 219.4 1148.9 224.2 1153.8 223 1161 226.6 1167.1 228.5 1171.9 233.9 1176.8 240 1179.2 246 1180.4 259.3 1185.2 259.3 1187.7 263 1188.9 300 1181.6 300 1179.2 282.3 1174.3 277.5 1174.3 264.2 1167.1 259.3 1164.6 264.2 1159.8 264.2 1157.4 254.5 1153.8 240 1150.1 242.4 1145.3 236.3 1139.2 238.7 1133.2 236.3 1127.1 235.1 1121.1 238.7 1115 235.1 1109 232.7 1106.5 241.8 1102.9 244.8 1099.3 242.4 1094.4 233.9 1084.7 236.3 1076.3 243.6 1072.6 241.2 1066.6 245.4 1060.5 242.4 1055.7 248.4 1048.4 243.6 1043.6 247.2 1036.3 246 1031.5 248.4 1018.2 243.6 1008.5 238.7 1000 233.9 995 233Z" fill="#f39a36" stroke="#f39a36" stroke-width="1.2" stroke-linejoin="round"/>
<path d="M67 1105.1 67.8 1106.7 68.9 1106.4 70.1 1105 71.4 1105.4 72.9 1105 74.4 1105.3 76.1 1105.4 77.8 1103.5 79.6 1103.2 81.4 1105 83.2 1103.9 85 1104.6 86.4 1102.8 87.9 1103.8 89.4 1104.5 91.1 1103.3 92.7 1105.1 94.4 1105 96.1 1103 97.8 1103 99.6 1104.4 101.2 1105.4 102.9 1104.2 104.5 1103.9 106 1104.5 107.4 1103.6 108.8 1104.2 110 1104.9 112.1 1105.3 113.7 1105 115.1 1105.3 116.2 1105.7 117.4 1106.7 118.8 1106.7 120.4 1106.5 122.5 1108.8 123.7 1108.3 125.1 1108.7 126.5 1107.9 128 1110 129.6 1109.9 131.2 1108.4 132.8 1109.1 134.5 1110.3 136.2 1110.5 137.9 1111.2 139.6 1110.2 141.3 1111.3 142.9 1111.1 144.5 1110.3 146.1 1111.1 147.5 1111.9 149.2 1111.9 150.9 1111 152.6 1111.1 154.3 1109.7 155.9 1110 157.5 1111.2 159.1 1110.1 160.6 1109.3 162.1 1110.1 163.5 1110.4 164.9 1110.3 166.2 1109.6 167.5 1109.9 169.5 1110.3 171.3 1111.3 173 1111.2 174.5 1111.4 176 1112.3 177.4 1112 178.7 1112.9 180 1115.5 181 1117.2 182 1117.6 182.8 1118.6 183.5 1119.6 184.3 1121.9 185 1124.6 185.8 1125.5 186.6 1126.1 187.5 1127.9 188.8 1127.4 190.1 1128.6 191.4 1130 193 1129.4 194.9 1129.4 197.5 1129.4 198.7 1130.4 200 1131.6 201.4 1129.7 202.9 1131.9 204.5 1132.3 206.2 1132.8 207.9 1132.8 209.7 1133.3 211.4 1133 213.2 1133.4 214.9 1133.4 216.6 1132.8 218.2 1135.1 219.8 1134.7 221.2 1134 222.5 1135 224.4 1135.3 226.1 1135.4 227.7 1135.7 229.1 1136.5 230.5 1137 231.8 1137.3 233.1 1137.1 234.5 1136.1 235.9 1136.5 237.5 1136.2 238.8 1136.9 240.2 1137.2 241.5 1136.6 242.9 1136.1 244.2 1135.6 245.6 1133.6 247.1 1134.3 248.5 1133.2 250 1131.1 251.6 1130.2 253.3 1129.5 255 1130.6 256.3 1128.9 257.6 1128.1 258.9 1128.8 260.3 1127.6 261.7 1126.3 263.1 1126 264.5 1126.3 266 1124.9 267.5 1124.5 269 1125 270.5 1123.8 272.1 1123 273.6 1122.8 275.2 1121.2 276.8 1121.6 278.4 1121.2 280 1120.3 281.4 1119.7 282.8 1121.3 284.3 1120.1 285.8 1119.1 287.3 1119.8 288.8 1120 290.3 1117.9 291.9 1117.6 293.4 1117.7 295 1118.9 296.6 1117.4 298.1 1118.5 299.7 1118.2 301.2 1117.7 302.7 1116.7 304.2 1118.3 305.7 1117.7 307.2 1116.8 308.6 1115.8 310 1116.6 311.7 1115.7 313.4 1115.8 315 1114.9 316.6 1115.4 318.2 1113.7 319.7 1114 321.3 1115.3 322.8 1114.8 324.3 1113.2 325.8 1114.2 327.4 1112.6 328.9 1113.7 330.4 1112.3 331.9 1112 333.4 1111.6 335 1111.2 336.5 1110.9 337.9 1110.5 339.4 1110.1 340.9 1109.6 342.4 1109.2 343.8 1108.7 345.3 1108.3 346.8 1107.8 348.2 1107.3 349.7 1106.9 351.2 1106.4 352.6 1105.9 354.1 1105.5 355.6 1105 357.1 1104.6 358.5 1104.2 360 1103.8 361.5 1103.3 362.9 1102.9 364.4 1102.5 365.9 1102.1 367.4 1101.7 368.8 1101.4 370.3 1101 371.8 1100.6 373.2 1100.2 374.7 1099.8 376.2 1099.5 377.6 1099.1 379.1 1098.8 380.6 1098.4 382.1 1098.1 383.5 1097.8 385 1097.5 386.6 1097.2 388.1 1096.9 389.7 1096.6 391.2 1096.3 392.8 1096.1 394.4 1095.8 395.9 1095.6 397.5 1095.3 399.1 1095.1 400.6 1094.9 402.2 1094.7 403.8 1094.5 405.3 1094.3 406.9 1094.1 408.4 1093.9 410 1093.8 411.5 1093.6 413 1093.5 414.5 1093.5 415.9 1093.4 417.4 1093.4 418.8 1093.4 420.2 1093.4 421.7 1093.4 423.2 1093.3 424.7 1093.3 426.2 1093.3 427.8 1093.2 429.5 1093.1 431.3 1092.9 433.1 1092.7 435 1092.5 436.3 1092.3 437.6 1092.1 439.1 1091.9 440.5 1091.7 442 1091.4 443.6 1091.1 445.1 1090.9 446.8 1090.6 448.4 1090.3 450 1090 451.7 1089.6 453.4 1089.3 455 1089 456.7 1088.6 458.3 1088.3 460 1088 461.6 1087.6 463.2 1087.3 464.7 1086.9 466.2 1086.6 467.7 1086.3 469.1 1085.9 470.5 1085.6 471.8 1085.3 473 1085 474.9 1084.5 476.7 1084 478.4 1083.5 479.9 1083 481.4 1082.5 482.8 1081.9 484.2 1081.4 485.5 1080.9 486.8 1080.4 488 1079.9 489.3 1079.4 490.7 1078.9 492 1078.4 493.5 1078 495 1077.5 496.4 1077.1 497.9 1076.7 499.4 1076.3 500.9 1075.8 502.4 1075.4 504 1075 505.6 1074.6 507.2 1074.2 508.7 1073.8 510.3 1073.4 511.8 1073.1 513.3 1072.7 514.7 1072.4 516.1 1072.1 517.5 1071.8 518.8 1071.5 520 1071.2 521.9 1070.9 523.8 1070.5 525.5 1070.2 527.1 1069.9 528.6 1069.6 530 1069.5 531.4 1069.4 532.6 1069.3 533.8 1069.4 535 1069.5 536.7 1069.9 538 1070.4 539.1 1071.2 540.2 1072.2 541.3 1073.4 542.5 1075 543.2 1076.1 544 1077.6 544.8 1079.3 545.6 1081.1 546.4 1082.9 547.2 1084.8 548 1086.4 548.8 1087.9 549.6 1089 550.4 1089.8 551.2 1090 552 1089.7 552.7 1088.8 553.4 1087.6 554.1 1086 554.8 1084.2 555.5 1082.3 556.3 1080.4 557 1078.6 557.7 1076.9 558.5 1075.4 559.2 1074.4 560 1073.8 561.2 1073.5 562.5 1073.9 563.8 1074.8 565.1 1075.9 566.4 1077.3 567.6 1078.7 568.9 1080.1 570 1081.2 571.2 1082.5 572.3 1084 573.3 1085.4 574.2 1086.9 575.2 1088.2 576.3 1089.3 577.5 1090 579.1 1090.6 580.7 1091.1 582.5 1091.2 584.3 1091 585.9 1090.2 587.5 1088.8 588.1 1087.9 588.6 1086.8 589.1 1085.6 589.6 1084.2 590.1 1082.7 590.6 1081.1 591 1079.4 591.5 1077.7 591.9 1076.1 592.4 1074.4 592.9 1072.8 593.4 1071.3 593.9 1069.9 594.4 1068.6 595 1067.5 596.1 1065.8 597.3 1064.3 598.5 1063.1 599.8 1062 601 1061.1 602.4 1060.3 603.7 1059.5 605 1058.8 606.6 1057.9 608.2 1057 609.9 1056.3 611.6 1055.6 613.3 1055.2 614.8 1055 616.2 1055 617.7 1055.7 619.1 1057.2 620.3 1058.9 621.5 1060.5 622.6 1061.4 623.8 1061.2 624.3 1060.6 624.8 1059.5 625.3 1058.2 625.7 1056.6 626.2 1054.8 626.6 1053 627.1 1051.1 627.7 1049.3 628.3 1047.7 629.1 1046.2 630 1045 631.1 1044 632.3 1043.1 633.5 1042.4 634.9 1041.8 636.3 1041.3 637.9 1040.9 639.5 1040.4 641.2 1039.9 643.1 1039.4 645 1038.8 646.2 1038.3 647.5 1037.9 648.8 1037.5 650.2 1037 651.6 1036.5 653.1 1036.1 654.6 1035.6 656.1 1035.1 657.6 1034.6 659.2 1034.2 660.8 1033.7 662.3 1033.3 663.9 1032.8 665.5 1032.4 667 1032 668.5 1031.6 670 1031.2 671.6 1030.9 673.2 1030.5 674.9 1030.2 676.6 1029.9 678.3 1029.6 680 1029.3 681.7 1029 683.4 1028.8 685.1 1028.5 686.7 1028.3 688.3 1028.1 689.8 1027.8 691.2 1027.6 692.6 1027.4 693.8 1027.2 695 1027 697.5 1026.5 699.4 1026 700.9 1025.7 702.1 1025.3 703.4 1025.1 705 1025 706.5 1024.9 708.1 1024.8 709.7 1024.7 711.4 1024.7 713 1024.9 714.6 1025.4 716.2 1026.2 717.3 1027 718.3 1027.9 719.3 1028.9 720.3 1030.1 721.3 1031.3 722.3 1032.6 723.3 1034 724.3 1035.5 725.4 1037 726.4 1038.5 727.5 1040 728.3 1041.1 729.1 1042.3 729.9 1043.6 730.7 1044.9 731.5 1046.2 732.3 1047.5 733.1 1048.8 733.9 1050.2 734.8 1051.6 735.6 1053 736.5 1054.4 737.3 1055.8 738.2 1057.2 739.1 1058.6 740 1060 740.8 1061.2 741.7 1062.5 742.5 1063.8 743.4 1065.2 744.2 1066.5 745.1 1067.9 746 1069.2 746.9 1070.6 747.8 1071.9 748.7 1073.2 749.6 1074.5 750.5 1075.8 751.4 1077 752.3 1078.2 753.2 1079.3 754.1 1080.3 755 1081.2 756.3 1082.5 757.5 1083.7 758.8 1084.7 760.1 1085.7 761.4 1086.6 762.7 1087.5 763.9 1088.2 765.2 1088.9 766.4 1089.6 767.6 1090.2 768.8 1090.7 770 1091.2 771.6 1091.9 773.2 1092.4 774.7 1092.8 776.1 1093 777.6 1093.1 779.1 1093.2 780.7 1093.1 782.5 1093 783.8 1092.9 785.2 1092.7 786.6 1092.4 788.1 1092.1 789.6 1091.8 791.1 1091.4 792.6 1091 794.2 1090.6 795.7 1090.1 797.2 1089.7 798.6 1089.2 800 1088.8 801.6 1088.1 803.2 1087.4 804.8 1086.7 806.4 1085.9 808 1085.1 809.5 1084.3 810.9 1083.6 812.4 1082.9 813.7 1082.4 815 1082 816.9 1081.8 818.6 1082.2 820.2 1082.7 821.7 1083.1 823.2 1083.2 825 1082.5 826 1081.9 827 1081.1 828 1080.1 829.1 1079.1 830.2 1077.9 831.2 1076.7 832.3 1075.4 833.4 1074 834.5 1072.7 835.5 1071.4 836.5 1070 837.5 1068.8 838.4 1067.4 839.3 1065.9 840.2 1064.2 841 1062.5 841.8 1060.7 842.7 1059 843.5 1057.4 844.3 1055.9 845.1 1054.6 845.9 1053.6 846.7 1052.9 847.5 1052.5 848.5 1052.7 849.5 1053.5 850.4 1054.8 851.4 1056.4 852.3 1058.2 853.3 1060 854.3 1061.8 855.3 1063.3 856.4 1064.4 857.5 1065 858.8 1065.1 860.2 1064.7 861.6 1064 863.1 1063.1 864.6 1062 866 1060.9 867.4 1059.7 868.8 1058.8 870 1058 871.7 1056.8 873.3 1055.4 874.8 1054.1 876.2 1053.2 877.5 1053 878.8 1053.8 879.3 1054.5 879.8 1055.6 880.2 1056.9 880.7 1058.4 881.1 1060 881.5 1061.8 882 1063.6 882.4 1065.5 882.8 1067.4 883.2 1069.2 883.6 1070.9 884.1 1072.5 884.5 1073.8 885 1075 886 1076.6 887.1 1077.6 888.1 1078.1 889.2 1078.6 890.3 1079.3 891.4 1080.5 892.5 1082.5 892.9 1083.4 893.3 1084.4 893.7 1085.5 894 1086.6 894.4 1087.7 894.8 1088.9 895.2 1090.2 895.5 1091.5 895.9 1092.9 896.3 1094.3 896.7 1095.8 897.1 1097.4 897.4 1099 897.8 1100.6 898.3 1102.4 898.7 1104.2 899.1 1106.1 899.5 1108 900 1110 900.3 1111.2 900.5 1112.5 900.8 1113.8 901.1 1115.2 901.4 1116.6 901.7 1118.1 902 1119.6 902.3 1121.1 902.5 1122.7 902.8 1124.3 903.1 1125.9 903.5 1127.6 903.8 1129.2 904.1 1130.9 904.4 1132.6 904.7 1134.3 905 1136 905.3 1137.7 905.6 1139.4 905.9 1141.1 906.3 1142.7 906.6 1144.4 906.9 1146 907.2 1147.6 907.5 1149.1 907.8 1150.6 908.1 1152.1 908.5 1153.6 908.8 1155 909.1 1156.3 909.4 1157.6 909.7 1158.8 910 1160 910.6 1162.1 911.2 1164 911.7 1165.7 912.3 1167.3 912.9 1168.8 913.4 1170.2 914 1171.5 914.6 1172.7 915.1 1173.9 915.7 1175.1 916.3 1176.3 916.9 1177.5 917.5 1178.8 918.1 1180.2 918.7 1181.6 919.3 1183.2 920 1185 920.4 1186.2 920.9 1187.5 921.3 1188.8 921.8 1190.1 922.2 1191.4 922.7 1192.8 923.2 1194.2 923.7 1195.6 924.1 1197.1 924.6 1198.5 925.1 1200 925.6 1201.5 926.1 1203 926.6 1204.5 927.1 1206 927.6 1207.5 928.1 1209 928.6 1210.6 929.1 1212.1 929.6 1213.6 930.1 1215.1 930.6 1216.6 931 1218.1 931.5 1219.6 932 1221 932.5 1222.5 933 1224 933.5 1225.4 934 1226.9 934.5 1228.4 935 1229.9 935.5 1231.5 936.1 1233 936.6 1234.5 937.1 1236.1 937.6 1237.6 938.2 1239.1 938.7 1240.7 939.2 1242.2 939.7 1243.7 940.2 1245.2 940.7 1246.7 941.2 1248.1 941.7 1249.6 942.2 1251 942.6 1252.4 943.1 1253.7 943.5 1255.1 943.9 1256.4 944.3 1257.6 944.7 1258.8 945 1260 945.5 1262 946 1263.8 946.5 1265.7 946.8 1267.4 947.2 1269.1 947.5 1270.7 947.8 1272.2 948 1273.7 948.3 1275.1 948.5 1276.5 948.8 1277.8 949.1 1279 949.3 1280.2 949.7 1281.4 950 1282.5 950.8 1284.3 951.8 1285.3 952.7 1286 953.7 1286.6 954.5 1287.6 955.3 1289.5 956 1292.5 956.1 1293.5 956.3 1294.7 956.4 1296.1 956.5 1297.5 956.6 1299.1 956.7 1300.9 956.8 1302.7 956.8 1304.5 956.9 1306.5 957 1308.5 957 1310.5 957.1 1312.5 957.1 1314.5 957.2 1316.6 957.2 1318.6 957.3 1320.5 957.3 1322.4 957.4 1324.2 957.4 1325.9 957.5 1327.6 957.5 1329.1 957.6 1330.4 957.6 1331.7 957.7 1332.7 957.8 1333.6 957.8 1334.3 957.9 1334.7 958 1335 958.1 1335 958.2 1334.8 958.3 1334.3 958.4 1333.6 958.6 1332.6 958.7 1331.5 958.8 1330.2 958.9 1328.8 959.1 1327.2 959.2 1325.4 959.3 1323.6 959.4 1321.7 959.6 1319.7 959.7 1317.7 959.8 1315.6 960 1313.5 960.1 1311.4 960.3 1309.4 960.4 1307.4 960.6 1305.4 960.7 1303.5 960.8 1301.7 961 1300 961.1 1298.6 961.3 1297.2 961.4 1295.8 961.5 1294.5 961.7 1293.1 961.8 1291.8 961.9 1290.5 962 1289.2 962.2 1287.9 962.3 1286.6 962.4 1285.2 962.6 1283.9 962.7 1282.5 962.9 1281.1 963 1279.6 963.2 1278.2 963.3 1276.6 963.5 1275.1 963.6 1273.4 963.8 1271.7 964 1270 964.2 1268.1 964.4 1266.2 964.6 1264.2 964.8 1262.2 965 1260 965.1 1258.8 965.2 1257.6 965.4 1256.4 965.5 1255.1 965.6 1253.8 965.7 1252.4 965.9 1251 966 1249.6 966.1 1248.2 966.3 1246.7 966.4 1245.2 966.6 1243.7 966.7 1242.1 966.8 1240.6 967 1239 967.1 1237.4 967.3 1235.8 967.4 1234.1 967.6 1232.5 967.7 1230.8 967.9 1229.2 968.1 1227.5 968.2 1225.8 968.4 1224.2 968.5 1222.5 968.7 1220.8 968.9 1219.2 969 1217.5 969.2 1215.8 969.3 1214.2 969.5 1212.5 969.7 1210.9 969.8 1209.2 970 1207.6 970.1 1206 970.3 1204.4 970.5 1202.9 970.6 1201.3 970.8 1199.8 970.9 1198.3 971.1 1196.8 971.3 1195.4 971.4 1194 971.6 1192.6 971.7 1191.2 971.9 1189.9 972 1188.6 972.2 1187.4 972.3 1186.2 972.5 1185 972.8 1182.9 973.1 1180.8 973.3 1178.8 973.6 1176.7 973.9 1174.8 974.2 1172.8 974.4 1171 974.7 1169.1 975 1167.3 975.3 1165.6 975.6 1163.9 975.8 1162.2 976.1 1160.6 976.4 1159.1 976.7 1157.6 976.9 1156.2 977.2 1154.8 977.5 1153.5 977.8 1152.3 978.1 1151.1 978.3 1150 978.6 1149 978.9 1148 979.2 1147.2 979.4 1146.4 979.7 1145.6 980 1145 981.1 1143.7 982.1 1144 983.2 1145.4 984.3 1147.5 985.4 1149.7 986.4 1151.5 987.5 1152.5 989 1152.2 990.5 1151 992 1149.7 993.5 1149.1 995 1150 995.5 1150.7 996 1151.6 996.5 1152.7 996.9 1153.8 997.4 1155.1 997.9 1156.5 998.4 1158 998.8 1159.6 999.3 1161.2 999.8 1163 1000.3 1164.8 1000.8 1166.6 1001.4 1168.6 1001.9 1170.5 1002.5 1172.5 1002.9 1173.7 1003.2 1174.9 1003.6 1176.1 1004 1177.4 1004.4 1178.6 1004.8 1179.9 1005.3 1181.2 1005.7 1182.5 1006.1 1183.9 1006.6 1185.2 1007 1186.6 1007.4 1188 1007.9 1189.5 1008.3 1191 1008.7 1192.5 1009.2 1194 1009.6 1195.6 1010 1197.3 1010.4 1198.9 1010.8 1200.7 1011.2 1202.4 1011.5 1204.2 1011.9 1206.1 1012.2 1208 1012.5 1210 1012.7 1211.2 1012.9 1212.5 1013 1213.9 1013.2 1215.2 1013.3 1216.7 1013.5 1218.1 1013.6 1219.6 1013.8 1221.1 1013.9 1222.7 1014.1 1224.2 1014.2 1225.8 1014.3 1227.4 1014.5 1229.1 1014.6 1230.7 1014.7 1232.4 1014.8 1234.1 1014.9 1235.8 1015 1237.5 1015.2 1239.2 1015.3 1240.9 1015.4 1242.6 1015.5 1244.3 1015.6 1246 1015.7 1247.6 1015.8 1249.3 1015.9 1251 1016 1252.6 1016.1 1254.2 1016.2 1255.8 1016.3 1257.4 1016.4 1259 1016.5 1260.5 1016.6 1262 1016.7 1263.4 1016.8 1264.9 1016.9 1266.2 1017 1267.6 1017.1 1268.9 1017.3 1270.1 1017.4 1271.3 1017.5 1272.5 1017.7 1274.8 1018 1277 1018.2 1279.2 1018.4 1281.3 1018.6 1283.3 1018.8 1285.2 1019.1 1287.1 1019.3 1288.9 1019.5 1290.6 1019.7 1292.2 1019.9 1293.7 1020.1 1295.1 1020.4 1296.4 1020.6 1297.6 1020.9 1298.8 1021.2 1299.7 1021.5 1300.6 1021.8 1301.4 1022.1 1302 1022.5 1302.5 1023.3 1303.1 1024.2 1303.2 1025.2 1302.7 1026.3 1301.9 1027.3 1300.6 1028.4 1299 1029.5 1297.1 1030.6 1294.9 1031.6 1292.6 1032.5 1290 1032.8 1289 1033.1 1287.8 1033.5 1286.5 1033.8 1285 1034.1 1283.5 1034.4 1281.9 1034.7 1280.2 1035 1278.5 1035.3 1276.7 1035.6 1274.8 1035.9 1273 1036.1 1271.1 1036.4 1269.2 1036.7 1267.4 1037 1265.5 1037.2 1263.7 1037.5 1262 1037.8 1260.3 1038 1258.7 1038.3 1257.1 1038.5 1255.7 1038.8 1254.4 1039 1253.2 1039.3 1252.2 1039.5 1251.3 1039.8 1250.6 1040 1250 1040.6 1249.2 1041.2 1249.3 1041.7 1250.1 1042.2 1251.4 1042.7 1253.3 1043.2 1255.5 1043.7 1257.8 1044.1 1260.3 1044.6 1262.7 1045 1265 1045.2 1266.3 1045.5 1267.9 1045.7 1269.7 1045.9 1271.7 1046.1 1273.8 1046.3 1275.9 1046.4 1278.1 1046.6 1280.3 1046.8 1282.5 1047 1284.6 1047.2 1286.5 1047.4 1288.2 1047.6 1289.8 1047.8 1291 1048 1292 1048.2 1292.6 1048.5 1292.8 1048.8 1292.5 1048.9 1292.1 1049.1 1291.7 1049.3 1291.1 1049.4 1290.4 1049.6 1289.5 1049.8 1288.6 1050 1287.6 1050.2 1286.5 1050.4 1285.3 1050.6 1284 1050.8 1282.6 1051 1281.2 1051.2 1279.6 1051.4 1278.1 1051.6 1276.4 1051.9 1274.7 1052.1 1272.9 1052.3 1271.1 1052.5 1269.3 1052.7 1267.4 1053 1265.5 1053.2 1263.5 1053.4 1261.6 1053.6 1259.6 1053.9 1257.6 1054.1 1255.6 1054.3 1253.5 1054.5 1251.5 1054.8 1249.5 1055 1247.5 1055.1 1246.3 1055.3 1245 1055.4 1243.8 1055.6 1242.4 1055.7 1241.1 1055.8 1239.7 1056 1238.3 1056.1 1236.9 1056.3 1235.5 1056.4 1234 1056.6 1232.5 1056.7 1231 1056.9 1229.5 1057 1228 1057.2 1226.4 1057.3 1224.8 1057.5 1223.3 1057.6 1221.7 1057.8 1220.1 1057.9 1218.5 1058.1 1216.8 1058.2 1215.2 1058.4 1213.6 1058.5 1211.9 1058.7 1210.3 1058.8 1208.7 1059 1207 1059.1 1205.4 1059.3 1203.8 1059.4 1202.1 1059.6 1200.5 1059.7 1198.9 1059.9 1197.3 1060.1 1195.7 1060.2 1194.1 1060.4 1192.5 1060.5 1191 1060.7 1189.4 1060.8 1187.9 1061 1186.4 1061.1 1184.9 1061.3 1183.4 1061.4 1182 1061.6 1180.5 1061.7 1179.1 1061.9 1177.7 1062 1176.4 1062.2 1175.1 1062.3 1173.8 1062.5 1172.5 1062.7 1170.6 1062.9 1168.8 1063.2 1167 1063.4 1165.2 1063.6 1163.5 1063.8 1161.8 1064 1160.2 1064.2 1158.5 1064.4 1156.9 1064.6 1155.3 1064.8 1153.8 1065 1152.3 1065.2 1150.8 1065.4 1149.3 1065.6 1147.8 1065.8 1146.3 1066 1144.9 1066.3 1143.5 1066.5 1142.1 1066.7 1140.7 1066.9 1139.3 1067.1 1137.9 1067.4 1136.5 1067.6 1135.1 1067.8 1133.7 1068.1 1132.3 1068.3 1130.9 1068.6 1129.6 1068.9 1128.2 1069.1 1126.8 1069.4 1125.4 1069.7 1123.9 1070 1122.5 1070.3 1121 1070.7 1119.4 1071 1117.9 1071.4 1116.4 1071.7 1114.8 1072.1 1113.3 1072.5 1111.8 1072.9 1110.2 1073.3 1108.7 1073.7 1107.2 1074.1 1105.7 1074.5 1104.1 1074.9 1102.6 1075.3 1101.1 1075.7 1099.6 1076.1 1098.2 1076.6 1096.7 1077 1095.2 1077.4 1093.8 1077.9 1092.3 1078.3 1090.9 1078.7 1089.5 1079.2 1088.1 1079.6 1086.7 1080 1085.3 1080.4 1084 1080.9 1082.7 1081.3 1081.3 1081.7 1080 1082.1 1078.8 1082.5 1077.5 1083 1075.8 1083.6 1074.2 1084.1 1072.6 1084.6 1071 1085.2 1069.5 1085.7 1067.9 1086.2 1066.4 1086.7 1065 1087.3 1063.5 1087.8 1062.1 1088.3 1060.7 1088.9 1059.3 1089.4 1057.9 1089.9 1056.6 1090.5 1055.3 1091 1053.9 1091.6 1052.6 1092.1 1051.3 1092.7 1050.1 1093.2 1048.8 1093.8 1047.5 1094.4 1046.3 1095 1045 1095.7 1043.5 1096.5 1042 1097.3 1040.5 1098 1039 1098.8 1037.6 1099.6 1036.1 1100.4 1034.7 1101.3 1033.3 1102.1 1031.9 1102.9 1030.6 1103.7 1029.3 1104.6 1028 1105.4 1026.7 1106.2 1025.5 1107 1024.3 1107.7 1023.2 1108.5 1022.1 1109.3 1021 1110 1020 1111.2 1018.4 1112.5 1017 1113.7 1015.7 1114.9 1014.6 1116.1 1013.5 1117.2 1012.6 1118.3 1011.6 1119.4 1010.7 1120.5 1009.7 1121.5 1008.6 1122.5 1007.5 1123.5 1006.1 1124.5 1004.4 1125.4 1002.7 1126.3 1000.9 1127.2 999.1 1128 997.5 1128.8 996.1 1129.6 994.9 1130.4 994.1 1131.2 993.8 1132.1 993.7 1133 993.7 1133.9 994 1134.7 994.6 1135.6 995.6 1136.4 997.1 1137.2 999.1 1138 1001.7 1138.8 1005 1138.9 1005.9 1139.1 1006.9 1139.3 1007.9 1139.5 1008.9 1139.7 1010 1139.9 1011.1 1140.1 1012.2 1140.2 1013.4 1140.4 1014.6 1140.6 1015.9 1140.8 1017.1 1141 1018.4 1141.2 1019.8 1141.3 1021.1 1141.5 1022.5 1141.7 1024 1141.9 1025.4 1142 1027 1142.2 1028.5 1142.4 1030.1 1142.5 1031.7 1142.7 1033.3 1142.9 1035 1143.1 1036.7 1143.2 1038.5 1143.4 1040.2 1143.6 1042.1 1143.7 1043.9 1143.9 1045.8 1144 1047.7 1144.2 1049.7 1144.4 1051.7 1144.5 1053.7 1144.7 1055.8 1144.8 1057.9 1145 1060 1145.1 1061.2 1145.2 1062.4 1145.3 1063.6 1145.3 1064.8 1145.4 1066.1 1145.5 1067.3 1145.6 1068.6 1145.7 1069.9 1145.8 1071.1 1145.8 1072.5 1145.9 1073.8 1146 1075.1 1146.1 1076.4 1146.2 1077.8 1146.2 1079.2 1146.3 1080.6 1146.4 1081.9 1146.5 1083.4 1146.6 1084.8 1146.6 1086.2 1146.7 1087.6 1146.8 1089.1 1146.9 1090.5 1147 1092 1147 1093.5 1147.1 1095 1147.2 1096.5 1147.3 1098 1147.4 1099.5 1147.4 1101 1147.5 1102.5 1147.6 1104.1 1147.7 1105.6 1147.7 1107.2 1147.8 1108.7 1147.9 1110.3 1148 1111.9 1148 1113.5 1148.1 1115.1 1148.2 1116.7 1148.3 1118.3 1148.3 1119.9 1148.4 1121.5 1148.5 1123.1 1148.5 1124.8 1148.6 1126.4 1148.7 1128.1 1148.8 1129.7 1148.8 1131.4 1148.9 1133 1149 1134.7 1149 1136.3 1149.1 1138 1149.2 1139.7 1149.3 1141.4 1149.3 1143 1149.4 1144.7 1149.5 1146.4 1149.5 1148.1 1149.6 1149.8 1149.7 1151.5 1149.7 1153.2 1149.8 1154.9 1149.9 1156.6 1149.9 1158.3 1150 1160 1150.1 1161.4 1150.1 1162.7 1150.2 1164.1 1150.2 1165.5 1150.3 1167 1150.3 1168.4 1150.4 1169.8 1150.4 1171.3 1150.5 1172.8 1150.5 1174.2 1150.6 1175.7 1150.6 1177.2 1150.7 1178.8 1150.7 1180.3 1150.8 1181.8 1150.8 1183.4 1150.8 1184.9 1150.9 1186.5 1150.9 1188 1151 1189.6 1151 1191.2 1151.1 1192.8 1151.1 1194.4 1151.2 1196 1151.2 1197.6 1151.3 1199.2 1151.3 1200.8 1151.4 1202.4 1151.4 1204 1151.4 1205.6 1151.5 1207.3 1151.5 1208.9 1151.6 1210.5 1151.6 1212.1 1151.7 1213.8 1151.7 1215.4 1151.8 1217 1151.8 1218.7 1151.8 1220.3 1151.9 1221.9 1151.9 1223.6 1152 1225.2 1152 1226.8 1152.1 1228.4 1152.1 1230.1 1152.1 1231.7 1152.2 1233.3 1152.2 1234.9 1152.3 1236.5 1152.3 1238.1 1152.4 1239.7 1152.4 1241.3 1152.4 1242.8 1152.5 1244.4 1152.5 1246 1152.6 1247.5 1152.6 1249.1 1152.7 1250.6 1152.7 1252.1 1152.7 1253.6 1152.8 1255.2 1152.8 1256.7 1152.9 1258.1 1152.9 1259.6 1153 1261.1 1153 1262.5 1153 1264 1153.1 1265.4 1153.1 1266.8 1153.2 1268.2 1153.2 1269.6 1153.3 1271 1153.3 1272.3 1153.3 1273.7 1153.4 1275 1153.4 1276.3 1153.5 1277.6 1153.5 1278.9 1153.6 1280.1 1153.6 1281.4 1153.7 1282.6 1153.7 1283.8 1153.8 1285 1153.8 1287.1 1153.9 1289.3 1154 1291.5 1154.1 1293.7 1154.2 1295.9 1154.2 1298.1 1154.3 1300.3 1154.4 1302.5 1154.5 1304.7 1154.5 1306.9 1154.6 1309.1 1154.7 1311.3 1154.8 1313.5 1154.9 1315.7 1154.9 1317.8 1155 1319.9 1155.1 1322 1155.2 1324.1 1155.2 1326.1 1155.3 1328.1 1155.4 1330 1155.5 1331.9 1155.5 1333.8 1155.6 1335.5 1155.7 1337.3 1155.8 1339 1155.9 1340.6 1155.9 1342.1 1156 1343.6 1156.1 1345 1156.2 1346.4 1156.3 1347.6 1156.3 1348.8 1156.4 1349.9 1156.5 1350.9 1156.6 1351.8 1156.7 1352.6 1156.8 1353.3 1156.9 1353.9 1156.9 1354.4 1157 1354.8 1157.1 1355.1 1157.2 1355.2 1157.3 1355.3 1157.4 1355.2 1157.5 1355 1157.6 1354.8 1157.6 1354.5 1157.7 1354.1 1157.8 1353.6 1157.9 1353.1 1157.9 1352.5 1158 1351.9 1158.1 1351.1 1158.2 1350.3 1158.2 1349.5 1158.3 1348.6 1158.4 1347.6 1158.5 1346.6 1158.6 1345.6 1158.6 1344.4 1158.7 1343.3 1158.8 1342 1158.9 1340.8 1159 1339.4 1159 1338.1 1159.1 1336.7 1159.2 1335.2 1159.3 1333.7 1159.4 1332.2 1159.5 1330.6 1159.5 1329 1159.6 1327.4 1159.7 1325.7 1159.8 1324 1159.9 1322.3 1160 1320.6 1160 1318.8 1160.1 1317 1160.2 1315.2 1160.3 1313.3 1160.4 1311.5 1160.5 1309.6 1160.5 1307.7 1160.6 1305.8 1160.7 1303.9 1160.8 1301.9 1160.9 1300 1161 1298.1 1161 1296.1 1161.1 1294.1 1161.2 1292.2 1161.3 1290.2 1161.4 1288.3 1161.4 1286.3 1161.5 1284.3 1161.6 1282.4 1161.7 1280.4 1161.8 1278.5 1161.8 1276.6 1161.9 1274.7 1162 1272.8 1162.1 1270.9 1162.1 1269 1162.2 1267.2 1162.3 1265.3 1162.4 1263.5 1162.4 1261.8 1162.5 1260 1162.6 1258.7 1162.6 1257.3 1162.7 1256 1162.7 1254.6 1162.8 1253.2 1162.8 1251.8 1162.9 1250.4 1162.9 1249 1162.9 1247.6 1163 1246.2 1163 1244.7 1163.1 1243.3 1163.1 1241.8 1163.2 1240.4 1163.2 1238.9 1163.3 1237.4 1163.3 1235.9 1163.4 1234.4 1163.4 1232.9 1163.4 1231.4 1163.5 1229.9 1163.5 1228.4 1163.6 1226.8 1163.6 1225.3 1163.6 1223.8 1163.7 1222.2 1163.7 1220.7 1163.8 1219.1 1163.8 1217.6 1163.8 1216 1163.9 1214.4 1163.9 1212.8 1164 1211.3 1164 1209.7 1164 1208.1 1164.1 1206.5 1164.1 1205 1164.2 1203.4 1164.2 1201.8 1164.2 1200.2 1164.3 1198.6 1164.3 1197 1164.4 1195.4 1164.4 1193.8 1164.4 1192.3 1164.5 1190.7 1164.5 1189.1 1164.6 1187.5 1164.6 1185.9 1164.6 1184.3 1164.7 1182.7 1164.7 1181.2 1164.8 1179.6 1164.8 1178 1164.8 1176.4 1164.9 1174.9 1164.9 1173.3 1165 1171.8 1165 1170.2 1165.1 1168.7 1165.1 1167.1 1165.2 1165.6 1165.2 1164 1165.2 1162.5 1165.3 1161 1165.3 1159.5 1165.4 1158 1165.4 1156.5 1165.5 1155 1165.5 1153.5 1165.6 1152 1165.6 1150.5 1165.7 1149.1 1165.7 1147.6 1165.8 1146.2 1165.8 1144.8 1165.9 1143.3 1166 1141.9 1166 1140.5 1166.1 1139.1 1166.1 1137.7 1166.2 1136.4 1166.2 1135 1166.3 1133.3 1166.4 1131.6 1166.5 1129.9 1166.6 1128.2 1166.6 1126.5 1166.7 1124.7 1166.8 1123 1166.9 1121.3 1167 1119.6 1167 1117.9 1167.1 1116.2 1167.2 1114.5 1167.3 1112.8 1167.4 1111.1 1167.5 1109.4 1167.6 1107.7 1167.7 1106 1167.7 1104.3 1167.8 1102.6 1167.9 1100.9 1168 1099.2 1168.1 1097.6 1168.2 1095.9 1168.3 1094.2 1168.4 1092.6 1168.5 1090.9 1168.6 1089.3 1168.7 1087.7 1168.8 1086 1168.9 1084.4 1168.9 1082.8 1169 1081.2 1169.1 1079.6 1169.2 1078 1169.3 1076.5 1169.4 1074.9 1169.5 1073.4 1169.6 1071.8 1169.7 1070.3 1169.8 1068.8 1169.9 1067.3 1170 1065.8 1170.1 1064.3 1170.2 1062.9 1170.3 1061.4 1170.4 1060 1170.5 1058.6 1170.6 1057.2 1170.7 1055.8 1170.8 1054.4 1170.9 1053.1 1171 1051.8 1171.2 1050.4 1171.3 1049.1 1171.4 1047.8 1171.5 1046.6 1171.6 1045.3 1171.7 1044.1 1171.8 1042.9 1171.9 1041.7 1172 1040.5 1172.1 1039.4 1172.2 1038.3 1172.3 1037.2 1172.4 1036.1 1172.5 1035 1172.8 1032.4 1173 1030 1173.3 1027.8 1173.6 1025.7 1173.9 1023.7 1174.1 1021.9 1174.4 1020.1 1174.7 1018.5 1175 1017 1175.3 1015.6 1175.6 1014.3 1175.9 1013 1176.2 1011.8 1176.5 1010.6 1176.8 1009.4 1177.1 1008.3 1177.4 1007.2 1177.7 1006.1 1177.9 1005 1178.2 1003.8 1178.5 1002.7 1178.8 1001.5 1179.1 1000.2 1179.4 998.9 1179.7 997.5 1180 996 1180.3 994.5 1180.5 993 1180.8 991.5 1181.1 989.9 1181.3 988.3 1181.6 986.7 1181.8 985.1 1182.1 983.5 1182.3 981.9 1182.6 980.2 1182.8 978.6 1183.1 977 1183.3 975.4 1183.6 973.8 1183.8 972.2 1184.1 970.6 1184.3 969.1 1184.6 967.6 1184.9 966.1 1185.2 964.6 1185.5 963.2 1185.8 961.9 1186.1 960.6 1186.4 959.3 1186.8 958.1 1187.1 956.9 1187.5 955.8 1188.2 953.8 1189 952.1 1189.8 950.4 1190.7 949 1191.5 947.6 1192.4 946.4 1193.3 945.3 1194.3 944.2 1195.2 943.2 1196.2 942.2 1197.1 941.2 1198.1 940.3 1199.1 939.2 1200.1 938.2 1201.2 937.1 1202.2 936 1203.3 935 1204.3 934.1 1205.4 933.2 1206.5 932.3 1207.6 931.4 1208.7 930.5 1209.9 929.6 1211.2 928.7 1212.4 927.7 1213.8 926.7 1215.2 925.6 1216.3 924.8 1217.4 923.8 1218.6 922.9 1219.8 921.8 1221.1 920.8 1222.4 919.7 1223.7 918.6 1225 917.5 1226.3 916.4 1227.7 915.4 1229 914.4 1230.4 913.4 1231.7 912.5 1233 911.6 1234.2 910.9 1235.5 910.2 1236.7 909.7 1237.8 909.3 1239.4 908.9 1241 908.9 1242.5 909 1243.9 909.4 1245.4 909.9 1246.8 910.5 1248.1 911.1 1249.5 911.7 1250.9 912.3 1252.4 912.7 1253.9 913 1255.4 913.1 1256.9 913 1258.4 912.7 1260 912.4 1261.6 911.9 1263.3 911.4 1264.9 910.9 1266.6 910.3 1268.2 909.8 1269.8 909.3 1271.3 908.8 1272.8 908.4 1274.2 908.2 1275.5 908 1277.5 907.8 1279.3 907.5 1281.1 907.3 1282.7 907.3 1284.2 907.5 1285.6 908 1286.8 909 1288 910.6 1288.5 911.4 1288.9 912.3 1289.3 913.2 1289.6 914.1 1290 915.1 1290.3 916.2 1290.5 917.3 1290.8 918.5 1291 919.9 1291.2 921.3 1291.5 922.8 1291.7 924.5 1291.9 926.4 1292.1 928.4 1292.3 930.5 1292.6 932.9 1292.8 935.4 1293.1 938.2 1293.2 939.3 1293.3 940.4 1293.4 941.5 1293.5 942.7 1293.6 943.9 1293.7 945.2 1293.8 946.5 1293.9 947.9 1294 949.3 1294.1 950.7 1294.2 952.2 1294.3 953.6 1294.4 955.2 1294.6 956.7 1294.7 958.3 1294.8 959.8 1294.9 961.4 1295 963.1 1295.1 964.7 1295.2 966.4 1295.3 968 1295.4 969.7 1295.5 971.4 1295.6 973.1 1295.7 974.8 1295.8 976.5 1295.9 978.2 1296 979.9 1296.1 981.6 1296.2 983.3 1296.3 985 1296.4 986.7 1296.5 988.4 1296.6 990 1296.7 991.7 1296.8 993.3 1296.9 995 1297 996.6 1297.1 998.1 1297.2 999.7 1297.3 1001.2 1297.4 1002.7 1297.5 1004.2 1297.6 1005.7 1297.7 1007.1 1297.8 1008.4 1297.8 1009.8 1297.9 1011.1 1298 1012.4 1298.1 1013.6 1298.2 1015.6 1298.4 1017.7 1298.5 1019.8 1298.6 1021.9 1298.7 1024.1 1298.9 1026.2 1299 1028.4 1299.1 1030.5 1299.2 1032.6 1299.3 1034.7 1299.4 1036.8 1299.5 1038.8 1299.6 1040.8 1299.7 1042.7 1299.8 1044.5 1299.9 1046.3 1300 1048 1300.1 1049.6 1300.2 1051.1 1300.3 1052.5 1300.4 1053.8 1300.5 1054.9 1300.6 1055.9 1300.7 1056.8 1300.8 1057.6 1300.9 1058.2 1301 1058.6 1301.2 1058.8 1301.3 1058.9 1301.4 1058.8 1301.5 1058.6 1301.6 1058.2 1301.7 1057.7 1301.8 1057.1 1301.9 1056.4 1302 1055.6 1302.1 1054.7 1302.2 1053.7 1302.3 1052.6 1302.4 1051.4 1302.5 1050.1 1302.6 1048.8 1302.7 1047.3 1302.8 1045.8 1303 1044.3 1303.1 1042.6 1303.2 1041 1303.3 1039.2 1303.4 1037.4 1303.5 1035.6 1303.6 1033.8 1303.7 1031.9 1303.8 1029.9 1303.9 1028 1304.1 1026 1304.2 1024.1 1304.3 1022.1 1304.4 1020.1 1304.5 1018.1 1304.6 1016.1 1304.8 1014.2 1304.9 1012.2 1305 1010.3 1305.1 1008.3 1305.2 1006.4 1305.4 1004.6 1305.5 1002.8 1305.6 1001 1305.7 999.7 1305.8 998.3 1305.9 996.9 1306 995.4 1306 993.9 1306.1 992.4 1306.2 990.9 1306.3 989.3 1306.4 987.8 1306.5 986.2 1306.5 984.6 1306.6 982.9 1306.7 981.3 1306.8 979.6 1306.9 978 1306.9 976.3 1307 974.6 1307.1 972.9 1307.2 971.2 1307.3 969.5 1307.4 967.8 1307.4 966.1 1307.5 964.4 1307.6 962.7 1307.7 961 1307.8 959.3 1307.9 957.7 1308 956 1308.1 954.3 1308.2 952.7 1308.3 951.1 1308.4 949.5 1308.5 947.9 1308.6 946.3 1308.7 944.8 1308.8 943.3 1308.9 941.8 1309 940.3 1309.1 938.9 1309.3 937.5 1309.4 936.1 1309.5 934.8 1309.7 933.5 1309.8 932.2 1309.9 931 1310.1 929.9 1310.2 928.7 1310.4 927.6 1310.5 926.6 1310.7 925.6 1311.2 922.7 1311.8 920.1 1312.5 917.6 1313.2 915.5 1313.9 913.5 1314.7 911.8 1315.4 910.2 1316.2 908.9 1317 907.8 1317.8 906.8 1318.5 906 1319.3 905.4 1320 904.9 1320.7 904.6 1321.4 904.4 1322 904.3 1322.6 904.3 1323.2 904.5 1323.8 904.8 1324.4 905.2 1324.9 905.8 1325.5 906.6 1326 907.5 1326.5 908.8 1326.9 910.2 1327.4 912 1327.9 914 1328.3 916.4 1328.7 919.1 1329.1 922.2 1329.5 925.6 1329.6 926.6 1329.7 927.6 1329.8 928.8 1329.9 929.9 1330 931.2 1330 932.5 1330.1 933.9 1330.2 935.3 1330.3 936.8 1330.4 938.3 1330.4 939.9 1330.5 941.6 1330.6 943.2 1330.6 944.9 1330.7 946.7 1330.8 948.4 1330.8 950.2 1330.9 952.1 1331 953.9 1331 955.8 1331.1 957.7 1331.2 959.6 1331.2 961.5 1331.3 963.5 1331.3 965.4 1331.4 967.3 1331.4 969.3 1331.5 971.2 1331.6 973.1 1331.6 975.1 1331.7 977 1331.7 978.9 1331.8 980.7 1331.8 982.6 1331.9 984.4 1331.9 986.2 1332 988 1332 989.8 1332.1 991.5 1332.2 993.2 1332.2 994.8 1332.3 996.4 1332.3 997.9 1332.4 999.4 1332.4 1000.9 1332.5 1002.3 1332.6 1003.6 1332.6 1004.9 1332.7 1006.1 1332.7 1007.2 1332.8 1008.3 1332.9 1009.3 1332.9 1010.2 1333 1011.1 1333.1 1011.8 1333.2 1012.5 1333.2 1013.1 1333.3 1013.6 1333.5 1014.4 1333.7 1014.7 1333.9 1014.4 1334.1 1013.6 1334.3 1012.4 1334.5 1010.8 1334.7 1008.9 1334.9 1006.7 1335.1 1004.3 1335.3 1001.7 1335.5 999.1 1335.7 996.4 1335.9 993.7 1336.1 991 1336.3 988.4 1336.6 986 1336.8 983.9 1337 982 1337.3 980.4 1337.5 979.2 1337.8 978.4 1338 978.1 1338.3 978.4 1338.5 978.8 1338.6 979.4 1338.8 980.2 1338.9 981.2 1339.1 982.4 1339.3 983.7 1339.5 985.1 1339.6 986.7 1339.8 988.4 1340 990.2 1340.2 992.1 1340.4 994.1 1340.5 996.2 1340.7 998.3 1340.9 1000.5 1341.1 1002.8 1341.3 1005 1341.5 1007.3 1341.7 1009.6 1341.9 1011.8 1342.1 1014.1 1342.3 1016.3 1342.5 1018.5 1342.7 1020.7 1342.9 1022.7 1343.1 1024.8 1343.3 1026.7 1343.5 1028.5 1343.7 1030.2 1343.9 1031.8 1344.1 1033.3 1344.3 1034.6 1344.4 1035.8 1344.6 1036.8 1344.8 1037.6 1345 1038.2 1345.2 1038.7 1345.4 1038.9 1345.6 1038.9 1345.8 1038.7 1345.9 1038.4 1346.1 1038 1346.2 1037.5 1346.3 1037 1346.5 1036.3 1346.6 1035.5 1346.7 1034.7 1346.8 1033.8 1347 1032.8 1347.1 1031.7 1347.2 1030.5 1347.4 1029.3 1347.5 1028 1347.6 1026.7 1347.8 1025.3 1347.9 1023.8 1348 1022.3 1348.2 1020.7 1348.3 1019.1 1348.4 1017.4 1348.5 1015.7 1348.7 1013.9 1348.8 1012.2 1348.9 1010.3 1349.1 1008.5 1349.2 1006.6 1349.3 1004.7 1349.5 1002.8 1349.6 1000.9 1349.7 998.9 1349.9 997 1350 995 1350.1 993 1350.3 991 1350.4 989.1 1350.5 987.1 1350.7 985.1 1350.8 983.2 1350.9 981.2 1351 979.3 1351.2 977.4 1351.3 975.5 1351.4 973.6 1351.6 971.8 1351.7 970 1351.8 968.2 1352 966.5 1352.1 964.8 1352.2 963.2 1352.4 961.6 1352.5 960 1352.6 958.5 1352.7 957.1 1352.9 955.7 1353 954.4 1353.1 953.1 1353.3 951.9 1353.4 950.8 1353.7 948.3 1354 946 1354.3 943.7 1354.6 941.5 1354.9 939.5 1355.2 937.5 1355.5 935.6 1355.8 933.8 1356.2 932 1356.5 930.4 1356.8 928.8 1357.1 927.3 1357.4 925.8 1357.7 924.5 1358 923.1 1358.3 921.9 1358.6 920.7 1358.9 919.6 1359.2 918.5 1359.5 917.5 1359.8 916.5 1360.1 915.6 1360.3 914.7 1360.6 913.9 1360.9 913.1 1362.5 909.9 1364.1 909.2 1365.6 910.2 1367.2 911.8 1367.9 912.7 1368.6 914 1369.4 915.7 1370.1 917.6 1370.9 919.5 1371.6 921.3 1372.4 923 1373.2 924.4 1373.9 925.3 1374.7 925.6 1375.5 925.2 1376.2 924 1376.9 922.4 1377.7 920.4 1378.4 918.2 1379.2 916.1 1379.9 914.2 1380.7 912.7 1381.5 911.9 1382.3 911.8 1382.8 912.3 1383.4 913.1 1384 914.2 1384.5 915.6 1385.1 917.3 1385.7 919 1386.3 920.9 1386.8 922.8 1387.4 924.8 1388 926.6 1388.6 928.4 1389.2 930 1389.9 931.3 1390.5 932.4 1391.1 933.2 1392.5 933.8 1393.9 933.2 1395.4 932 1396.9 930.6 1398.4 929.4 1399.8 928.8 1401.1 929.4 1401.7 930 1402.2 930.6 1402.8 931.2 1403.3 931.9 1403.9 932.7 1404.4 933.6 1404.9 934.6 1405.4 935.8 1405.9 937.1 1406.4 938.7 1406.8 940.6 1407.3 942.7 1407.7 945.1 1408.2 947.8 1408.6 950.8 1408.7 951.8 1408.8 952.8 1409 953.8 1409.1 954.9 1409.2 956 1409.3 957.1 1409.4 958.2 1409.6 959.3 1409.7 960.5 1409.8 961.7 1409.9 963 1410 964.2 1410.1 965.5 1410.2 966.8 1410.3 968.1 1410.4 969.4 1410.5 970.8 1410.6 972.2 1410.7 973.6 1410.8 975 1410.9 976.4 1411 977.9 1411.1 979.4 1411.2 980.9 1411.3 982.4 1411.4 983.9 1411.5 985.5 1411.6 987.1 1411.7 988.7 1411.8 990.3 1411.9 991.9 1412 993.6 1412.1 995.3 1412.2 997 1412.3 998.7 1412.3 1000.4 1412.4 1002.1 1412.5 1003.9 1412.6 1005.7 1412.7 1007.4 1412.8 1009.2 1412.9 1011.1 1413 1012.9 1413.1 1014.7 1413.2 1016.6 1413.3 1018.5 1413.4 1020.4 1413.5 1022.3 1413.6 1024.2 1413.7 1026.1 1413.8 1027.4 1413.8 1028.7 1413.9 1030 1414 1031.3 1414 1032.7 1414.1 1034.2 1414.1 1035.6 1414.2 1037.1 1414.3 1038.6 1414.3 1040.1 1414.4 1041.7 1414.5 1043.3 1414.5 1044.9 1414.6 1046.5 1414.6 1048.2 1414.7 1049.9 1414.8 1051.6 1414.8 1053.3 1414.9 1055 1415 1056.7 1415 1058.5 1415.1 1060.2 1415.1 1062 1415.2 1063.8 1415.3 1065.6 1415.3 1067.4 1415.4 1069.2 1415.4 1071 1415.5 1072.9 1415.6 1074.7 1415.6 1076.5 1415.7 1078.4 1415.8 1080.2 1415.8 1082 1415.9 1083.8 1415.9 1085.7 1416 1087.5 1416.1 1089.3 1416.1 1091.1 1416.2 1092.9 1416.2 1094.7 1416.3 1096.5 1416.4 1098.3 1416.4 1100 1416.5 1101.8 1416.6 1103.5 1416.6 1105.2 1416.7 1106.9 1416.7 1108.6 1416.8 1110.2 1416.9 1111.9 1416.9 1113.5 1417 1115.1 1417.1 1116.6 1417.1 1118.2 1417.2 1119.7 1417.3 1121.2 1417.3 1122.7 1417.4 1124.1 1417.5 1125.5 1417.5 1126.9 1417.6 1128.2 1417.7 1129.5 1417.7 1130.8 1417.8 1132 1417.9 1133.2 1417.9 1134.4 1418 1135.5 1418.1 1136.6 1418.1 1137.6 1418.2 1138.6 1418.3 1139.5 1418.3 1140.4 1418.4 1141.3 1418.5 1142.1 1418.6 1142.8 1418.6 1143.5 1418.7 1144.2 1419.1 1146.9 1419.6 1148.1 1420 1148.1 1420.5 1147 1421 1145.1 1421.4 1142.5 1421.9 1139.5 1422.4 1136.3 1422.9 1133 1423.4 1130 1423.8 1127.4 1424.2 1125.4 1424.6 1124.2 1425 1124.1 1425.2 1124.4 1425.4 1124.8 1425.6 1125.2 1425.8 1125.6 1426 1126.2 1426.2 1126.8 1426.3 1127.6 1426.5 1128.4 1426.6 1129.4 1426.8 1130.6 1426.9 1131.9 1427.1 1133.3 1427.2 1135 1427.4 1136.9 1427.5 1139 1427.7 1141.3 1427.9 1143.8 1428.1 1146.7 1428.3 1149.8 1428.5 1153.1 1428.7 1156.8 1428.8 1157.8 1428.8 1158.8 1428.9 1159.9 1428.9 1161.1 1429 1162.3 1429.1 1163.6 1429.1 1164.9 1429.2 1166.3 1429.3 1167.8 1429.3 1169.3 1429.4 1170.8 1429.5 1172.4 1429.5 1174 1429.6 1175.7 1429.7 1177.4 1429.7 1179.1 1429.8 1180.9 1429.9 1182.7 1430 1184.6 1430 1186.4 1430.1 1188.3 1430.2 1190.3 1430.3 1192.2 1430.3 1194.2 1430.4 1196.2 1430.5 1198.3 1430.6 1200.3 1430.6 1202.4 1430.7 1204.4 1430.8 1206.5 1430.9 1208.6 1430.9 1210.7 1431 1212.8 1431.1 1214.9 1431.2 1217 1431.3 1219.1 1431.3 1221.3 1431.4 1223.4 1431.5 1225.5 1431.6 1227.6 1431.6 1229.7 1431.7 1231.8 1431.8 1233.8 1431.9 1235.9 1432 1237.9 1432 1239.9 1432.1 1241.9 1432.2 1243.9 1432.3 1245.9 1432.4 1247.8 1432.4 1249.7 1432.5 1251.6 1432.6 1253.4 1432.7 1255.2 1432.8 1257 1432.8 1258.7 1432.9 1260.4 1433 1262.1 1433.1 1263.7 1433.2 1265.3 1433.2 1266.8 1433.3 1268.3 1433.4 1269.7 1433.5 1271.1 1433.6 1272.4 1433.6 1273.7 1433.7 1274.9 1433.8 1276.1 1433.9 1277.2 1433.9 1278.2 1434 1279.2 1434.1 1280.1 1434.2 1280.9 1434.2 1281.7 1434.3 1282.4 1434.4 1283 1434.4 1283.5 1434.5 1284 1434.6 1284.4 1434.7 1284.7 1434.7 1284.9 1434.8 1285 1434.9 1285.1 1434.9 1285 1435 1284.9 1435.1 1284.7 1435.1 1284.5 1435.2 1284.2 1435.2 1283.9 1435.3 1283.5 1435.3 1283.1 1435.4 1282.6 1435.4 1282.1 1435.5 1281.5 1435.5 1280.9 1435.6 1280.2 1435.6 1279.5 1435.7 1278.7 1435.7 1277.9 1435.8 1277 1435.8 1276.1 1435.9 1275.2 1435.9 1274.2 1436 1273.2 1436.1 1272.1 1436.1 1271 1436.2 1269.9 1436.2 1268.7 1436.3 1267.5 1436.3 1266.3 1436.4 1265 1436.4 1263.7 1436.5 1262.4 1436.5 1261 1436.6 1259.6 1436.6 1258.2 1436.7 1256.7 1436.7 1255.2 1436.8 1253.7 1436.8 1252.1 1436.9 1250.6 1436.9 1249 1437 1247.3 1437 1245.7 1437.1 1244 1437.1 1242.3 1437.2 1240.6 1437.2 1238.9 1437.2 1237.1 1437.3 1235.4 1437.3 1233.6 1437.4 1231.8 1437.4 1230 1437.5 1228.1 1437.5 1226.3 1437.6 1224.4 1437.6 1222.5 1437.7 1220.7 1437.7 1218.8 1437.8 1216.9 1437.8 1214.9 1437.9 1213 1437.9 1211.1 1438 1209.1 1438 1207.2 1438.1 1205.2 1438.1 1203.3 1438.1 1201.3 1438.2 1199.3 1438.2 1197.4 1438.3 1195.4 1438.3 1193.4 1438.4 1191.5 1438.4 1189.5 1438.5 1187.6 1438.5 1185.6 1438.6 1183.6 1438.6 1181.7 1438.7 1179.7 1438.7 1177.8 1438.7 1175.9 1438.8 1173.9 1438.8 1172 1438.9 1170.1 1438.9 1168.2 1439 1166.3 1439 1164.5 1439.1 1162.6 1439.1 1160.7 1439.1 1158.9 1439.2 1157.1 1439.2 1155.3 1439.3 1153.5 1439.3 1151.8 1439.4 1150 1439.4 1148.3 1439.4 1146.6 1439.5 1144.9 1439.5 1143.2 1439.6 1141.6 1439.6 1140 1439.7 1138.4 1439.7 1136.8 1439.7 1135.3 1439.8 1133.7 1439.8 1132.3 1439.9 1130.8 1439.9 1129.4 1440 1128 1440 1126.6 1440.1 1124.9 1440.1 1123.2 1440.2 1121.5 1440.2 1119.7 1440.3 1118 1440.3 1116.3 1440.4 1114.6 1440.4 1112.9 1440.5 1111.1 1440.5 1109.4 1440.6 1107.7 1440.6 1106 1440.7 1104.2 1440.7 1102.5 1440.8 1100.8 1440.8 1099.1 1440.9 1097.4 1440.9 1095.7 1441 1093.9 1441 1092.2 1441 1090.5 1441.1 1088.8 1441.1 1087.1 1441.2 1085.4 1441.2 1083.7 1441.3 1082 1441.3 1080.4 1441.4 1078.7 1441.4 1077 1441.5 1075.3 1441.5 1073.7 1441.6 1072 1441.6 1070.4 1441.6 1068.7 1441.7 1067.1 1441.7 1065.4 1441.8 1063.8 1441.8 1062.2 1441.9 1060.6 1441.9 1059 1442 1057.4 1442 1055.8 1442 1054.2 1442.1 1052.6 1442.1 1051.1 1442.2 1049.5 1442.2 1048 1442.3 1046.4 1442.3 1044.9 1442.3 1043.4 1442.4 1041.9 1442.4 1040.4 1442.5 1038.9 1442.5 1037.5 1442.6 1036 1442.6 1034.6 1442.7 1033.1 1442.7 1031.7 1442.7 1030.3 1442.8 1028.9 1442.8 1027.5 1442.9 1026.1 1442.9 1024.8 1443 1023.4 1443 1022.1 1443 1020.8 1443.1 1019.5 1443.1 1018.2 1443.2 1017 1443.2 1015.7 1443.3 1014.5 1443.3 1013.3 1443.3 1012.1 1443.4 1010.9 1443.4 1009.7 1443.5 1008.6 1443.5 1007.4 1443.6 1006.3 1443.6 1005.2 1443.7 1004.1 1443.7 1003.1 1443.8 1002 1443.8 1001 1443.9 998 1444.1 995.1 1444.2 992.3 1444.3 989.6 1444.5 986.9 1444.6 984.4 1444.7 981.9 1444.9 979.5 1445 977.3 1445.1 975.1 1445.2 973 1445.4 971.1 1445.5 969.3 1445.6 967.6 1445.8 966 1445.9 964.5 1446 963.2 1446.2 962 1446.3 960.9 1446.4 960 1446.6 959.3 1446.7 958.6 1446.8 958.2 1447 957.9 1447.1 957.7 1447.3 957.8 1447.4 957.9 1447.6 958.3 1447.7 958.6 1447.8 959 1447.9 959.5 1448 960 1448.1 960.7 1448.2 961.4 1448.3 962.1 1448.4 963 1448.5 963.9 1448.7 964.8 1448.8 965.9 1448.9 966.9 1449 968.1 1449.1 969.3 1449.2 970.6 1449.3 971.9 1449.5 973.3 1449.6 974.7 1449.7 976.2 1449.8 977.7 1449.9 979.2 1450 980.9 1450.2 982.5 1450.3 984.2 1450.4 985.9 1450.5 987.7 1450.6 989.5 1450.7 991.3 1450.9 993.2 1451 995.1 1451.1 997 1451.2 999 1451.3 1001 1451.4 1003 1451.5 1005 1451.7 1007.1 1451.8 1009.1 1451.9 1011.2 1452 1013.3 1452.1 1015.4 1452.2 1017.5 1452.3 1019.7 1452.4 1021.8 1452.5 1024 1452.6 1026.1 1452.7 1027.3 1452.7 1028.5 1452.8 1029.7 1452.8 1031 1452.9 1032.2 1452.9 1033.5 1453 1034.9 1453 1036.2 1453.1 1037.6 1453.1 1039 1453.2 1040.4 1453.2 1041.8 1453.3 1043.2 1453.3 1044.7 1453.4 1046.2 1453.4 1047.7 1453.5 1049.2 1453.5 1050.7 1453.6 1052.3 1453.6 1053.8 1453.7 1055.4 1453.7 1057 1453.8 1058.6 1453.8 1060.2 1453.9 1061.8 1453.9 1063.4 1454 1065 1454 1066.7 1454.1 1068.3 1454.1 1070 1454.2 1071.7 1454.2 1073.3 1454.3 1075 1454.3 1076.7 1454.4 1078.4 1454.4 1080.1 1454.4 1081.8 1454.5 1083.5 1454.5 1085.2 1454.6 1086.9 1454.6 1088.6 1454.7 1090.3 1454.7 1092 1454.8 1093.7 1454.8 1095.4 1454.9 1097.1 1454.9 1098.7 1455 1100.4 1455 1102.1 1455 1103.8 1455.1 1105.5 1455.1 1107.1 1455.2 1108.8 1455.2 1110.4 1455.3 1112.1 1455.3 1113.7 1455.3 1115.3 1455.4 1116.9 1455.4 1118.5 1455.5 1120.1 1455.5 1121.7 1455.6 1123.2 1455.6 1124.8 1455.6 1126.3 1455.7 1127.8 1455.7 1129.3 1455.8 1130.8 1455.8 1132.3 1455.8 1133.7 1455.9 1135.2 1455.9 1136.6 1456 1138 1456 1139.3 1456.1 1140.7 1456.1 1142 1456.1 1143.3 1456.2 1144.6 1456.2 1145.9 1456.2 1147.1 1456.3 1148.3 1456.3 1149.5 1456.4 1150.7 1456.4 1151.8 1456.5 1154.1 1456.5 1156.5 1456.6 1158.8 1456.7 1161.2 1456.7 1163.5 1456.8 1165.9 1456.9 1168.2 1456.9 1170.6 1457 1172.9 1457 1175.2 1457 1177.4 1457.1 1179.7 1457.1 1181.9 1457.2 1184 1457.2 1186.2 1457.3 1188.2 1457.3 1190.2 1457.3 1192.2 1457.4 1194.1 1457.4 1195.9 1457.5 1197.7 1457.5 1199.4 1457.6 1201 1457.6 1202.5 1457.7 1204 1457.7 1205.3 1457.8 1206.6 1457.8 1207.7 1457.9 1208.8 1458 1209.7 1458 1210.5 1458.1 1211.2 1458.2 1211.8 1458.3 1212.3 1458.4 1212.6 1458.5 1212.8 1458.6 1212.8 1458.7 1212.7 1458.8 1212.5 1458.9 1212.1 1459 1211.7 1459.1 1211.3 1459.1 1210.7 1459.2 1210 1459.3 1209.2 1459.4 1208.3 1459.5 1207.2 1459.6 1206.1 1459.7 1204.9 1459.8 1203.6 1459.9 1202.2 1460 1200.8 1460.1 1199.3 1460.2 1197.6 1460.3 1196 1460.4 1194.2 1460.5 1192.4 1460.6 1190.6 1460.8 1188.7 1460.9 1186.7 1461 1184.7 1461.1 1182.7 1461.2 1180.6 1461.4 1178.5 1461.5 1176.3 1461.6 1174.2 1461.7 1172 1461.8 1169.8 1462 1167.6 1462.1 1165.4 1462.2 1163.1 1462.3 1160.9 1462.5 1158.7 1462.6 1156.5 1462.7 1154.3 1462.9 1152.1 1463 1150 1463.1 1147.8 1463.2 1145.7 1463.4 1143.6 1463.5 1141.6 1463.6 1139.6 1463.8 1137.6 1463.9 1135.7 1464 1133.9 1464.1 1132.1 1464.3 1130.4 1464.4 1128.7 1464.5 1127.1 1464.6 1125.6 1464.8 1124.1 1464.9 1122.7 1465 1121.4 1465.1 1120.2 1465.3 1119.1 1465.4 1118.1 1465.5 1117.2 1465.6 1116.4 1465.7 1115.7 1465.8 1115.2 1466 1114.7 1466.1 1114.4 1466.2 1114.1 1466.3 1114.1 1466.4 1114.1 1466.5 1114.2 1466.6 1114.4 1466.7 1114.7 1466.8 1115.1 1466.8 1115.5 1466.9 1116 1467 1116.6 1467.1 1117.2 1467.2 1117.9 1467.3 1118.6 1467.4 1119.4 1467.4 1120.3 1467.5 1121.2 1467.6 1122.2 1467.7 1123.2 1467.8 1124.3 1467.9 1125.4 1467.9 1126.6 1468 1127.8 1468.1 1129.1 1468.2 1130.4 1468.3 1131.8 1468.3 1133.2 1468.4 1134.6 1468.5 1136.1 1468.6 1137.7 1468.7 1139.2 1468.7 1140.8 1468.8 1142.4 1468.9 1144.1 1469 1145.8 1469 1147.5 1469.1 1149.3 1469.2 1151 1469.3 1152.8 1469.4 1154.6 1469.4 1156.5 1469.5 1158.3 1469.6 1160.2 1469.7 1162.1 1469.7 1164 1469.8 1165.9 1469.9 1167.9 1470 1169.8 1470.1 1171.8 1470.1 1173.7 1470.2 1175.7 1470.3 1177.7 1470.4 1179.6 1470.5 1181.6 1470.5 1183.6 1470.6 1185.6 1470.7 1187.5 1470.8 1189.5 1470.9 1191.5 1471 1193.4 1471 1195.4 1471.1 1197.3 1471.2 1199.2 1471.3 1201.1 1471.4 1203 1471.5 1204.9 1471.6 1206.7 1471.7 1208.6 1471.7 1210.4 1471.8 1212.2 1471.9 1214 1472 1215.7 1472.1 1217.4 1472.2 1219.1 1472.3 1220.8 1472.4 1222.4 1472.5 1224 1472.6 1225.6 1472.7 1227.1 1472.8 1228.6 1472.9 1230.2 1473 1231.8 1473.1 1233.4 1473.2 1235.1 1473.3 1236.7 1473.4 1238.4 1473.5 1240.2 1473.7 1241.9 1473.8 1243.7 1473.9 1245.5 1474 1247.4 1474.1 1249.2 1474.2 1251.1 1474.3 1252.9 1474.5 1254.8 1474.6 1256.7 1474.7 1258.6 1474.8 1260.6 1474.9 1262.5 1475.1 1264.4 1475.2 1266.4 1475.3 1268.3 1475.4 1270.3 1475.5 1272.2 1475.7 1274.2 1475.8 1276.1 1475.9 1278.1 1476 1280 1476.2 1282 1476.3 1283.9 1476.4 1285.8 1476.5 1287.8 1476.7 1289.7 1476.8 1291.5 1476.9 1293.4 1477 1295.3 1477.2 1297.1 1477.3 1299 1477.4 1300.8 1477.5 1302.5 1477.7 1304.3 1477.8 1306 1477.9 1307.7 1478 1309.4 1478.2 1311.1 1478.3 1312.7 1478.4 1314.3 1478.5 1315.9 1478.7 1317.4 1478.8 1318.9 1478.9 1320.3 1479 1321.7 1479.1 1323.1 1479.3 1324.4 1479.4 1325.7 1479.5 1327 1479.6 1328.2 1479.7 1329.3 1479.9 1330.4 1480 1331.5 1480.1 1332.5 1480.2 1333.4 1480.3 1334.3 1480.4 1335.2 1480.5 1336 1480.7 1336.7 1480.8 1337.4 1480.9 1338 1481 1338.5 1481.1 1339 1481.2 1339.4 1481.3 1339.7 1481.4 1340 1481.5 1340.2 1481.6 1340.4 1481.8 1340.4 1481.9 1340.3 1482 1340.1 1482.1 1339.9 1482.2 1339.5 1482.4 1339 1482.5 1338.4 1482.6 1337.7 1482.7 1336.9 1482.8 1336 1482.9 1335.1 1483.1 1334.1 1483.2 1332.9 1483.3 1331.8 1483.4 1330.5 1483.5 1329.2 1483.6 1327.8 1483.7 1326.3 1483.8 1324.8 1483.9 1323.2 1484 1321.5 1484.1 1319.9 1484.2 1318.1 1484.3 1316.3 1484.4 1314.5 1484.5 1312.7 1484.6 1310.8 1484.7 1308.8 1484.8 1306.9 1484.9 1304.9 1485 1302.9 1485.1 1300.8 1485.2 1298.8 1485.3 1296.7 1485.4 1294.6 1485.5 1292.5 1485.6 1290.4 1485.7 1288.4 1485.8 1286.3 1485.9 1284.2 1486 1282.1 1486.1 1280 1486.3 1278 1486.4 1275.9 1486.5 1273.9 1486.6 1271.9 1486.7 1269.9 1486.8 1268 1486.9 1266.1 1487 1264.2 1487.1 1262.4 1487.2 1260.6 1487.3 1258.8 1487.4 1257.1 1487.6 1255.4 1487.7 1253.8 1487.8 1252.3 1487.9 1250.8 1488 1249.2 1488.2 1247.5 1488.3 1245.9 1488.4 1244.1 1488.5 1242.4 1488.7 1240.6 1488.8 1238.8 1488.9 1236.9 1489.1 1235.1 1489.2 1233.2 1489.3 1231.2 1489.4 1229.3 1489.6 1227.3 1489.7 1225.4 1489.8 1223.4 1490 1221.4 1490.1 1219.4 1490.3 1217.4 1490.4 1215.4 1490.5 1213.4 1490.7 1211.4 1490.8 1209.4 1490.9 1207.4 1491.1 1205.5 1491.2 1203.5 1491.4 1201.6 1491.5 1199.7 1491.6 1197.8 1491.8 1195.9 1491.9 1194.1 1492 1192.3 1492.2 1190.5 1492.3 1188.7 1492.4 1187 1492.6 1185.4 1492.7 1183.8 1492.8 1182.2 1493 1180.7 1493.1 1179.2 1493.2 1177.8 1493.4 1176.4 1493.5 1175.1 1493.6 1173.8 1493.8 1172.7 1493.9 1171.6 1494 1170.5 1494.1 1169.5 1494.3 1168.6 1494.4 1167.8 1494.5 1167.1 1494.6 1166.4 1494.7 1165.8 1494.9 1165.3 1495 1164.9 1495.1 1164.6 1495.2 1164.4 1495.3 1164.3 1495.4 1164.3 1495.5 1164.5 1495.6 1164.9 1495.8 1165.5 1495.9 1166.2 1496 1167 1496.1 1168 1496.2 1169.2 1496.3 1170.5 1496.4 1171.9 1496.5 1173.4 1496.6 1175 1496.7 1176.8 1496.8 1178.6 1496.9 1180.5 1497 1182.5 1497.1 1184.6 1497.2 1186.7 1497.3 1188.9 1497.4 1191.1 1497.4 1193.4 1497.5 1195.7 1497.6 1198.1 1497.7 1200.4 1497.8 1202.8 1497.9 1205.2 1498 1207.6 1498.1 1209.9 1498.2 1212.3 1498.2 1214.6 1498.3 1216.9 1498.4 1219.2 1498.5 1221.4 1498.6 1223.6 1498.7 1225.7 1498.8 1227.7 1498.9 1229.7 1498.9 1231.5 1499 1233.3 1499.1 1235 1499.2 1236.6 1499.3 1238.1 1499.4 1239.4 1499.5 1240.6 1499.6 1241.7 1499.7 1242.7 1499.8 1243.5 1499.9 1244.1 1500 1244.6 1500.1 1244.9 1500.2 1245 1500.3 1245 1500.4 1244.7 1500.5 1244.4 1500.5 1244.1 1500.6 1243.7 1500.7 1243.2 1500.8 1242.6 1500.8 1242 1500.9 1241.4 1501 1240.6 1501.1 1239.8 1501.2 1239 1501.2 1238.1 1501.3 1237.1 1501.4 1236.1 1501.5 1235.1 1501.6 1234 1501.6 1232.8 1501.7 1231.6 1501.8 1230.3 1501.9 1229 1502 1227.7 1502.1 1226.3 1502.1 1224.9 1502.2 1223.4 1502.3 1221.9 1502.4 1220.4 1502.5 1218.8 1502.6 1217.2 1502.6 1215.6 1502.7 1213.9 1502.8 1212.2 1502.9 1210.5 1503 1208.8 1503.1 1207 1503.2 1205.2 1503.2 1203.4 1503.3 1201.6 1503.4 1199.8 1503.5 1197.9 1503.6 1196 1503.7 1194.1 1503.8 1192.2 1503.8 1190.3 1503.9 1188.4 1504 1186.5 1504.1 1184.5 1504.2 1182.6 1504.3 1180.6 1504.3 1178.7 1504.4 1176.7 1504.5 1174.8 1504.6 1172.8 1504.7 1170.9 1504.8 1169 1504.8 1167 1504.9 1165.1 1505 1163.2 1505.1 1161.3 1505.2 1159.4 1505.2 1157.6 1505.3 1155.7 1505.4 1153.9 1505.5 1152 1505.5 1150.2 1505.6 1148.5 1505.7 1146.7 1505.8 1145 1505.8 1143.3 1505.9 1141.6 1506 1139.9 1506.1 1138.3 1506.1 1136.7 1506.2 1135.2 1506.3 1133.6 1506.3 1132.2 1506.4 1130.7 1506.5 1129.3 1506.5 1127.9 1506.6 1126.6 1506.7 1124.8 1506.8 1123 1506.9 1121.3 1506.9 1119.5 1507 1117.8 1507.1 1116 1507.2 1114.3 1507.3 1112.6 1507.3 1110.9 1507.4 1109.1 1507.5 1107.4 1507.6 1105.8 1507.6 1104.1 1507.7 1102.4 1507.8 1100.7 1507.8 1099.1 1507.9 1097.4 1508 1095.8 1508 1094.2 1508.1 1092.6 1508.2 1091 1508.2 1089.4 1508.3 1087.8 1508.4 1086.2 1508.4 1084.7 1508.5 1083.1 1508.6 1081.6 1508.6 1080.1 1508.7 1078.5 1508.7 1077 1508.8 1075.5 1508.9 1074.1 1508.9 1072.6 1509 1071.1 1509 1069.7 1509.1 1068.2 1509.2 1066.8 1509.2 1065.4 1509.3 1064 1509.3 1062.6 1509.4 1061.2 1509.4 1059.9 1509.5 1058.5 1509.6 1057.2 1509.6 1055.9 1509.7 1054.6 1509.7 1053.3 1509.8 1052 1509.8 1050.7 1509.9 1049.5 1510 1048.2 1510 1047 1510.1 1045.8 1510.1 1044.6 1510.2 1043.4 1510.2 1042.3 1510.3 1041.1 1510.4 1039 1510.5 1036.9 1510.6 1034.9 1510.7 1033.1 1510.8 1031.2 1510.9 1029.5 1511 1027.8 1511.1 1026.2 1511.2 1024.6 1511.3 1023 1511.4 1021.6 1511.5 1020.1 1511.6 1018.7 1511.7 1017.3 1511.8 1016 1511.8 1014.7 1511.9 1013.3 1512 1012 1512.1 1010.8 1512.2 1009.5 1512.3 1008.2 1512.4 1006.9 1512.5 1005.6 1512.6 1004.3 1512.7 1003 1512.8 1001.6 1512.9 1000.2 1513.1 998.8 1513.2 997.4 1513.3 995.9 1513.4 994.4 1513.6 992.8 1513.7 991.3 1513.8 989.7 1513.9 988.1 1514.1 986.5 1514.2 984.9 1514.4 983.3 1514.5 981.6 1514.6 980 1514.8 978.4 1514.9 976.7 1515.1 975.1 1515.2 973.5 1515.4 971.9 1515.5 970.3 1515.7 968.7 1515.8 967.2 1516 965.6 1516.1 964.1 1516.3 962.6 1516.4 961.1 1516.6 959.7 1516.8 958.3 1516.9 956.9 1517.1 955.6 1517.3 954.3 1517.5 953.1 1517.6 951.9 1517.8 950.7 1518.2 948.5 1518.5 946.6 1518.9 944.7 1519.3 943.1 1519.7 941.5 1520.1 940 1520.5 938.7 1520.9 937.3 1521.3 936.1 1521.7 934.8 1522.1 933.5 1522.6 932.3 1523 930.9 1523.4 929.6 1523.9 928.1 1524.4 926.6 1524.8 925 1525.3 923.4 1525.8 921.8 1526.4 920.2 1526.9 918.6 1527.4 917 1527.9 915.4 1528.4 913.9 1529 912.4 1529.5 910.9 1530 909.4 1530.5 908.1 1530.9 906.7 1531.4 905.5 1532.1 903.5 1532.8 901.4 1533.5 899.4 1534.2 897.5 1534.9 895.8 1535.5 894.3 1536.1 893.1 1536.8 892.3 1537.4 891.9 1538.2 892.4 1538.9 894 1539.6 896.3 1540.4 898.7 1541.1 900.9 1541.9 902.3 1542.7 902.5 1543.2 901.9 1543.8 901 1544.3 899.6 1544.9 898 1545.5 896.2 1546.2 894.2 1546.8 892.2 1547.3 890.3 1547.9 888.4 1548.5 886.8 1549 885.4 1549.5 884.4 1551.1 882.1 1552.5 881.6 1554 882.9 1554.5 883.9 1555 885.4 1555.5 887.3 1556.1 889.4 1556.6 891.6 1557.1 893.7 1557.7 895.5 1558.2 896.9 1558.8 897.8 1559.3 898 1559.7 897.6 1560.1 896.8 1560.4 895.7 1560.7 894.2 1561.1 892.6 1561.4 890.8 1561.7 888.8 1562.1 886.9 1562.5 884.9 1562.9 883 1563.4 881.3 1563.9 879.7 1564.5 878.4 1565.5 876.7 1566.6 875 1567.9 873.4 1569.2 871.9 1570.5 870.6 1571.8 869.4 1573.1 868.6 1574.2 868 1575.1 867.8 1576.1 867.9 1576.9 868.4 1577.5 869.2 1578.1 870.5 1578.6 872.5 1579.1 875 1579.6 878.4 1579.7 879.4 1579.9 880.4 1580 881.6 1580.1 882.8 1580.2 884.1 1580.4 885.4 1580.5 886.8 1580.6 888.2 1580.7 889.7 1580.8 891.3 1581 892.8 1581.1 894.4 1581.2 896.1 1581.3 897.7 1581.4 899.4 1581.5 901.1 1581.6 902.8 1581.7 904.5 1581.8 906.2 1581.9 907.8 1582 909.5 1582.1 911.2 1582.2 912.8 1582.3 914.5 1582.4 916 1582.4 917.6 1582.5 919.1 1582.6 920.6 1582.7 922.2 1582.8 923.9 1582.8 925.7 1582.9 927.5 1583 929.4 1583 931.3 1583.1 933.2 1583.1 935.2 1583.2 937.2 1583.2 939.1 1583.3 941.1 1583.3 943 1583.3 944.8 1583.4 946.6 1583.4 948.4 1583.5 950 1583.5 951.6 1583.6 953.1 1583.6 954.4 1583.7 955.7 1583.7 956.8 1583.8 957.7 1583.9 958.5 1583.9 959.1 1584 959.6 1584.1 959.8 1584.2 959.8 1584.3 959.6 1584.5 959.2 1584.6 958.5 1584.7 957.6 1584.9 956.5 1585 955.3 1585.2 953.8 1585.3 952.3 1585.5 950.6 1585.6 948.8 1585.8 946.9 1586 944.9 1586.1 942.8 1586.3 940.8 1586.4 938.6 1586.6 936.5 1586.7 934.4 1586.9 932.2 1587.1 930.1 1587.2 928.1 1587.3 926.9 1587.4 925.6 1587.5 924.2 1587.5 922.8 1587.6 921.4 1587.7 919.9 1587.8 918.4 1587.9 916.8 1587.9 915.2 1588 913.6 1588.1 911.9 1588.2 910.2 1588.3 908.6 1588.3 906.9 1588.4 905.2 1588.5 903.5 1588.6 901.8 1588.7 900 1588.7 898.4 1588.8 896.7 1588.9 895 1589 893.3 1589.1 891.7 1589.1 890.1 1589.2 888.5 1589.3 887 1589.4 885.5 1589.5 884.1 1589.6 882.7 1589.7 881.3 1589.8 880 1589.9 878.7 1590 877.6 1590.1 876.4 1590.2 875.4 1590.5 872.7 1590.8 870.4 1591.2 868.5 1591.5 867 1591.9 865.6 1592.3 864.5 1592.6 863.4 1593 862.4 1593.4 861.3 1593.8 860.2 1594.3 858.9 1594.7 857.3 1595.1 855.9 1595.4 854.4 1595.8 852.9 1596.1 851.3 1596.5 849.7 1596.8 848.1 1597.2 846.4 1597.6 844.8 1598 843.2 1598.4 841.6 1598.8 840.1 1599.3 838.6 1599.7 837.2 1600.2 835.9 1600.7 834.7 1601.5 833 1602.3 831.5 1603.2 830.1 1604.1 828.8 1605.1 827.6 1606 826.4 1607 825.4 1607.9 824.4 1608.9 823.5 1609.8 822.6 1611.3 821.2 1612.9 819.8 1614.4 818.7 1615.9 817.8 1617.4 817.3 1618.8 817.3 1620 817.7 1621.1 818.4 1622.2 819.3 1623.3 820.5 1624.3 822 1625.3 823.7 1626.3 825.6 1626.8 826.7 1627.3 827.9 1627.8 829.1 1628.3 830.5 1628.8 831.8 1629.3 833.3 1629.8 834.8 1630.2 836.4 1630.7 838 1631.1 839.7 1631.6 841.5 1632 843.3 1632.4 845.2 1632.7 846.5 1632.9 847.7 1633.2 849 1633.4 850.3 1633.7 851.7 1633.9 853 1634.2 854.4 1634.4 855.8 1634.7 857.2 1634.9 858.7 1635.1 860.2 1635.3 861.7 1635.6 863.3 1635.8 864.9 1636 866.5 1636.2 868.2 1636.4 870 1636.6 871.7 1636.7 873.5 1636.9 875.4 1637 876.7 1637.1 878 1637.2 879.3 1637.3 880.7 1637.4 882.1 1637.5 883.5 1637.6 884.9 1637.7 886.4 1637.8 887.9 1637.8 889.4 1637.9 890.9 1638 892.5 1638.1 894 1638.1 895.6 1638.2 897.2 1638.3 898.7 1638.3 900.3 1638.4 901.9 1638.5 903.5 1638.5 905.1 1638.6 906.7 1638.7 908.3 1638.7 909.8 1638.8 911.4 1638.8 913 1638.9 914.5 1638.9 916.1 1639 917.6 1639 919.1 1639.1 920.6 1639.2 922.2 1639.2 923.9 1639.2 925.7 1639.3 927.5 1639.3 929.5 1639.4 931.5 1639.4 933.5 1639.4 935.6 1639.4 937.7 1639.5 939.8 1639.5 941.9 1639.5 943.9 1639.5 946 1639.6 948 1639.6 949.9 1639.6 951.8 1639.6 953.6 1639.7 955.3 1639.7 956.9 1639.7 958.4 1639.8 959.7 1639.8 960.9 1639.8 962 1639.9 962.8 1639.9 963.5 1640 964 1640.1 964.4 1640.1 964.4 1640.2 964.3 1640.3 964 1640.3 963.6 1640.4 963 1640.5 962.3 1640.5 961.4 1640.6 960.5 1640.7 959.4 1640.7 958.1 1640.8 956.8 1640.9 955.4 1641 953.9 1641 952.3 1641.1 950.7 1641.2 948.9 1641.3 947.2 1641.4 945.3 1641.5 943.4 1641.6 941.5 1641.6 939.6 1641.7 937.6 1641.8 935.6 1641.9 933.6 1642 931.6 1642.1 929.6 1642.2 927.6 1642.3 925.7 1642.4 923.7 1642.5 921.8 1642.6 920 1642.7 918.2 1642.8 916.4 1642.9 914.8 1643 913.2 1643.2 911.6 1643.3 910.2 1643.4 908.9 1643.5 907.6 1643.6 906.5 1643.7 905.5 1644.2 902.3 1644.6 900.1 1645.2 898.6 1645.7 897.6 1646.2 896.9 1646.8 896.3 1647.3 895.5 1647.9 894.5 1648.4 892.8 1648.9 890.4 1649.1 889.3 1649.2 888.1 1649.4 886.8 1649.6 885.3 1649.8 883.8 1649.9 882.2 1650.1 880.5 1650.3 878.7 1650.5 876.9 1650.6 875.1 1650.8 873.2 1651 871.4 1651.1 869.5 1651.3 867.6 1651.5 865.7 1651.6 863.9 1651.8 862.1 1651.9 860.4 1652.1 858.7 1652.3 857.1 1652.4 855.6 1652.6 854.1 1652.7 852.8 1652.9 851.6 1653 850.5 1653.2 849.6 1653.4 848.8 1653.5 848.2 1654 846.9 1654.5 846.8 1654.9 847.6 1655.4 849.3 1655.8 851.5 1656.3 854.2 1656.7 857.2 1657.2 860.3 1657.3 861.4 1657.5 862.5 1657.6 863.8 1657.7 865.1 1657.9 866.6 1658 868.1 1658.1 869.6 1658.2 871.2 1658.3 872.9 1658.5 874.6 1658.6 876.3 1658.7 878 1658.8 879.8 1659 881.5 1659.1 883.3 1659.2 885 1659.4 886.7 1659.6 888.3 1659.7 889.9 1659.9 891.5 1660.1 892.9 1660.3 894.3 1660.5 895.7 1660.8 896.9 1661 898 1661.6 900.2 1662.2 902.2 1663 904.1 1663.7 905.8 1664.5 907.4 1665.4 908.8 1666.2 910 1667 911.1 1667.8 912.1 1668.6 912.8 1669.3 913.4 1670 913.8 1671.2 914 1672.3 913.5 1673.2 912.3 1674.2 910.6 1675.1 908.3 1676.1 905.5 1676.4 904.5 1676.8 903.3 1677.1 902 1677.4 900.7 1677.8 899.2 1678.1 897.7 1678.4 896.1 1678.8 894.5 1679.1 892.8 1679.4 891.2 1679.8 889.5 1680.1 887.8 1680.4 886.1 1680.8 884.5 1681.1 882.9 1681.4 881.3 1681.8 879.8 1682.1 878.4 1682.5 876.8 1682.9 875.2 1683.3 873.6 1683.7 872 1684.1 870.5 1684.6 869 1685 867.5 1685.4 866 1685.8 864.6 1686.2 863.1 1686.6 861.7 1686.9 860.3 1687.3 858.8 1687.7 857.4 1688 856 1688.4 854.3 1688.8 852.6 1689.1 850.8 1689.5 849 1689.9 847.2 1690.2 845.5 1690.5 843.8 1690.8 842.1 1691.1 840.6 1691.4 839.2 1691.6 838 1691.8 836.9 1692 836" fill="none" stroke="#4469aa" stroke-width="7.6" stroke-linejoin="round" stroke-linecap="round"/>
<path d="M67 1109.5 67.8 1109.3 68.9 1105.2 70.1 1105.1 71.4 1108.2 72.9 1107.5 74.4 1106.9 76.1 1105.1 77.8 1106.1 79.6 1105.9 81.4 1105.6 83.2 1103.6 85 1104.7 86.4 1104.5 87.9 1105.9 89.4 1107.1 91.1 1107 92.7 1105.2 94.4 1104.8 96.1 1104.1 97.8 1103.2 99.6 1103.2 101.2 1105.3 102.9 1104.8 104.5 1105.1 106 1107.5 107.4 1106.1 108.8 1106.4 110 1105.1 112.1 1104.5 113.7 1106.2 115.1 1105.9 116.2 1108 117.4 1110.7 118.8 1109.8 120.4 1108.1 122.5 1111.7 123.7 1111.5 125.1 1111.5 126.5 1112.6 128 1112.2 129.6 1112.6 131.2 1111 132.8 1114 134.5 1114.2 136.2 1111 137.9 1113.8 139.6 1113.9 141.3 1113 142.9 1113.5 144.5 1113.5 146.1 1115.5 147.5 1113.8 149.2 1115.3 150.9 1113.1 152.6 1115.4 154.3 1115.3 155.9 1113.2 157.5 1113.4 159.1 1114.8 160.6 1113.7 162.1 1112.5 163.5 1111.2 164.9 1111.6 166.2 1113.3 167.5 1111 169.5 1114.6 171.3 1112.1 173 1115.4 174.5 1113.3 176 1116.8 177.4 1116.5 178.7 1116.5 180 1117.6 181 1119.3 182 1120.4 182.8 1120.7 183.5 1121.8 184.3 1124.8 185 1128.2 185.8 1128.3 186.6 1127.1 187.5 1131.4 188.8 1132 190.1 1133.3 191.4 1130.4 193 1132.9 194.9 1130.1 197.5 1133.2 198.7 1131.8 200 1131.8 201.4 1135 202.9 1131.9 204.5 1134.1 206.2 1135.9 207.9 1133.5 209.7 1133.7 211.4 1137 213.2 1135.4 214.9 1137 216.6 1134.3 218.2 1136.1 219.8 1135.5 221.2 1138 222.5 1135.7 224.4 1139.9 226.1 1136.2 227.7 1139.8 229.1 1137.1 230.5 1138.5 231.8 1141.2 233.1 1138.6 234.5 1138.8 235.9 1141 237.5 1139.5 238.8 1137.7 240.2 1141.5 241.5 1137.3 242.9 1136.2 244.2 1137 245.6 1137.5 247.1 1137.3 248.5 1133.8 250 1134 251.6 1131.9 253.3 1133 255 1133.7 256.3 1133.1 257.6 1133.3 258.9 1132.1 260.3 1132 261.7 1130.7 263.1 1129.1 264.5 1127.5 266 1128.8 267.5 1126.7 269 1125.2 270.5 1126.2 272.1 1127.6 273.6 1123.8 275.2 1125.3 276.8 1124 278.4 1124.2 280 1122.2 281.4 1125.5 282.8 1122.2 284.2 1123.5 285.6 1122.5 287 1120.6 288.4 1122.9 289.8 1120.9 291.3 1120.5 292.7 1120.3 294.2 1120.8 295.7 1120.4 297.2 1122.7 298.7 1122.1 300.3 1124.1 301.9 1123.8 303.4 1124 305 1120.5 306.7 1121.3 308.3 1120.3 310 1121.7 311.4 1121.6 312.8 1122.3 314.2 1121.7 315.7 1119.5 317.2 1120.1 318.8 1120.3 320.3 1117.8 321.9 1117.7 323.5 1119.2 325.1 1117.7 326.7 1120.1 328.3 1117.8 329.9 1117 331.5 1118.5 333 1118.3 334.6 1118.1 336.2 1117.8 337.7 1117.6 339.2 1117.4 340.7 1117.2 342.1 1117 343.5 1116.8 344.9 1116.6 346.2 1116.4 347.5 1116.2 349.4 1116 351.1 1115.7 352.8 1115.4 354.3 1115.1 355.8 1114.9 357.2 1114.6 358.6 1114.3 360 1114.1 361.4 1113.8 362.8 1113.6 364.2 1113.4 365.7 1113.1 367.2 1113 368.9 1112.8 370.6 1112.6 372.5 1112.5 373.8 1112.4 375.1 1112.4 376.5 1112.3 377.9 1112.3 379.4 1112.3 380.9 1112.2 382.4 1112.2 384 1112.2 385.6 1112.2 387.2 1112.2 388.8 1112.2 390.4 1112.3 392.1 1112.3 393.7 1112.3 395.3 1112.3 396.9 1112.3 398.5 1112.4 400.1 1112.4 401.6 1112.4 403.1 1112.4 404.6 1112.5 406 1112.5 407.4 1112.5 408.7 1112.5 410 1112.5 411.9 1112.5 413.7 1112.5 415.3 1112.5 416.9 1112.6 418.4 1112.6 419.9 1112.6 421.3 1112.6 422.7 1112.7 424 1112.7 425.4 1112.7 426.9 1112.7 428.3 1112.7 429.9 1112.7 431.5 1112.6 433.2 1112.6 435 1112.5 436.3 1112.4 437.7 1112.4 439.1 1112.3 440.6 1112.2 442.1 1112.2 443.7 1112.1 445.2 1112 446.8 1111.9 448.4 1111.8 450.1 1111.7 451.7 1111.6 453.3 1111.5 454.9 1111.4 456.6 1111.3 458.2 1111.2 459.8 1111 461.3 1110.9 462.9 1110.8 464.4 1110.6 465.9 1110.5 467.3 1110.3 468.7 1110.2 470 1110 471.8 1109.8 473.6 1109.5 475.3 1109.2 477 1108.9 478.6 1108.6 480.1 1108.3 481.6 1107.9 483.1 1107.6 484.6 1107.2 486.1 1106.9 487.5 1106.6 489 1106.2 490.5 1105.9 491.9 1105.6 493.5 1105.3 495 1105 496.6 1104.7 498.2 1104.5 499.8 1104.2 501.4 1103.9 503 1103.7 504.6 1103.4 506.2 1103.1 507.8 1102.9 509.4 1102.7 511 1102.4 512.6 1102.2 514.1 1102 515.6 1101.8 517.1 1101.6 518.6 1101.4 520 1101.2 521.7 1101 523.4 1100.8 525.1 1100.6 526.8 1100.4 528.4 1100.2 530 1100 531.6 1099.8 533.1 1099.7 534.6 1099.7 536 1099.6 537.4 1099.7 538.7 1099.8 540 1100 541.7 1100.5 543.4 1101.3 544.9 1102.2 546.3 1103.3 547.7 1104.4 549 1105.4 550.2 1106.3 551.4 1107.1 552.5 1107.5 554.2 1107.4 555.6 1106.4 556.9 1105.2 558.3 1104.5 560 1105 560.8 1105.6 561.7 1106.4 562.6 1107.5 563.6 1108.7 564.7 1109.9 565.7 1111.3 566.8 1112.7 567.8 1114.2 568.9 1115.5 569.9 1116.9 570.8 1118.1 571.7 1119.1 572.5 1120 574 1121.3 575.3 1122 576.5 1122.5 577.6 1123 578.7 1123.7 580 1125 580.8 1126.1 581.5 1127.7 582.3 1129.5 583.1 1131.4 584 1133.4 584.8 1135.3 585.6 1137.1 586.4 1138.5 587.2 1139.6 588 1140.1 588.8 1140 589.2 1139.6 589.7 1138.8 590.1 1137.8 590.6 1136.6 591 1135.2 591.4 1133.7 591.9 1132 592.3 1130.2 592.7 1128.4 593.1 1126.5 593.6 1124.6 594 1122.7 594.4 1121 594.9 1119.3 595.3 1117.7 595.8 1116.2 596.2 1115 597.1 1113.1 597.9 1111.3 598.7 1109.6 599.5 1108 600.3 1106.6 601.2 1105.2 602.1 1104 603 1102.9 604 1102 605 1101.2 606.4 1100.5 608 1100 609.7 1099.8 611.5 1099.8 613.2 1099.9 614.8 1100.2 616.3 1100.7 617.5 1101.2 618.6 1102.4 619.4 1104.4 620 1106.6 620.6 1108.8 621.1 1110.6 621.7 1111.5 622.5 1111.2 622.9 1110.7 623.3 1109.8 623.6 1108.6 624 1107.2 624.4 1105.7 624.8 1104 625.2 1102.2 625.6 1100.3 626.1 1098.4 626.5 1096.5 627 1094.7 627.5 1092.9 628.1 1091.3 628.7 1089.8 629.3 1088.5 630 1087.5 631.2 1086.2 632.4 1085.3 633.6 1084.6 635 1084.1 636.4 1083.8 637.9 1083.6 639.5 1083.4 641.2 1083.2 643.1 1082.9 645 1082.5 646.3 1082.2 647.6 1081.8 649.1 1081.5 650.5 1081.2 652.1 1080.8 653.6 1080.5 655.2 1080.1 656.9 1079.8 658.5 1079.4 660.2 1079.1 661.9 1078.8 663.5 1078.5 665.2 1078.2 666.8 1077.9 668.4 1077.7 670 1077.5 671.6 1077.3 673.2 1077.2 674.8 1077 676.4 1076.9 678 1076.8 679.6 1076.8 681.2 1076.7 682.8 1076.6 684.4 1076.6 686 1076.6 687.6 1076.5 689.1 1076.5 690.6 1076.4 692.1 1076.4 693.6 1076.3 695 1076.2 696.7 1076.1 698.5 1075.9 700.2 1075.7 701.9 1075.5 703.5 1075.3 705.1 1075 706.7 1074.8 708.3 1074.7 709.7 1074.6 711.2 1074.5 712.5 1074.6 713.8 1074.7 715 1075 716.5 1075.5 717.8 1076.2 718.9 1076.9 719.9 1077.8 720.8 1078.9 721.7 1080.1 722.6 1081.6 723.7 1083.2 725 1085 725.7 1086 726.4 1087 727.1 1088.2 727.8 1089.4 728.6 1090.6 729.4 1092 730.2 1093.3 731 1094.7 731.8 1096.2 732.6 1097.6 733.4 1099.1 734.3 1100.5 735.1 1102 735.9 1103.4 736.8 1104.8 737.6 1106.2 738.4 1107.5 739.2 1108.8 740 1110 740.9 1111.4 741.8 1112.8 742.7 1114.2 743.6 1115.5 744.5 1116.9 745.4 1118.2 746.3 1119.5 747.2 1120.8 748.1 1122 749 1123.3 749.9 1124.5 750.9 1125.6 751.9 1126.8 752.9 1127.9 753.9 1129 755 1130 756.2 1131.1 757.4 1132.1 758.7 1133.2 760 1134.2 761.3 1135.2 762.6 1136.2 764 1137.1 765.4 1138 766.8 1138.9 768.1 1139.6 769.5 1140.3 770.9 1141 772.3 1141.6 773.7 1142.1 775 1142.5 776.5 1142.9 778.1 1143.1 779.6 1143.2 781.2 1143.2 782.7 1143.1 784.2 1143 785.8 1142.8 787.3 1142.5 788.8 1142.3 790.4 1142 791.9 1141.7 793.5 1141.5 795 1141.2 796.6 1141 798.2 1140.8 799.8 1140.5 801.5 1140.1 803.1 1139.8 804.8 1139.4 806.4 1139 808 1138.7 809.6 1138.4 811.1 1138.1 812.5 1137.8 813.8 1137.6 815 1137.5 817.2 1137.6 819 1138 820.5 1138.6 821.9 1139.1 823.3 1139.2 825 1138.8 826.1 1138.2 827.2 1137.5 828.3 1136.6 829.5 1135.6 830.7 1134.6 831.8 1133.4 833 1132.2 834.2 1131 835.3 1129.8 836.4 1128.6 837.5 1127.5 838.6 1126.2 839.7 1124.7 840.7 1123.1 841.7 1121.4 842.7 1119.8 843.6 1118.3 844.6 1117 845.5 1115.9 846.5 1115.2 847.5 1115 848.5 1115.3 849.5 1116.2 850.4 1117.5 851.4 1119.1 852.3 1120.8 853.3 1122.6 854.3 1124.3 855.3 1125.8 856.4 1126.9 857.5 1127.5 858.8 1127.7 860.2 1127.4 861.6 1126.9 863.1 1126.2 864.6 1125.3 866 1124.3 867.4 1123.4 868.8 1122.6 870 1122 871.7 1121.1 873.3 1120 874.8 1119 876.2 1118.3 877.5 1118.2 878.8 1119 879.3 1119.7 879.8 1120.7 880.3 1122 880.8 1123.4 881.3 1124.9 881.7 1126.6 882.2 1128.3 882.6 1130 883.1 1131.7 883.5 1133.4 884 1134.9 884.5 1136.3 885 1137.5 885.9 1139 886.8 1140.1 887.7 1141 888.7 1141.8 889.6 1142.7 890.6 1143.8 891.6 1145.4 892.5 1147.5 892.9 1148.5 893.2 1149.6 893.6 1150.8 894 1152 894.3 1153.3 894.7 1154.6 895 1156 895.4 1157.5 895.7 1158.9 896.1 1160.5 896.5 1162 896.8 1163.6 897.2 1165.3 897.6 1167 897.9 1168.7 898.3 1170.4 898.7 1172.1 899.1 1173.9 899.6 1175.7 900 1177.5 900.3 1178.8 900.6 1180.1 900.9 1181.4 901.3 1182.8 901.6 1184.2 901.9 1185.7 902.2 1187.2 902.6 1188.7 902.9 1190.2 903.3 1191.7 903.6 1193.3 904 1194.8 904.3 1196.4 904.7 1198 905 1199.5 905.4 1201.1 905.7 1202.7 906.1 1204.2 906.5 1205.8 906.8 1207.3 907.2 1208.8 907.5 1210.3 907.9 1211.8 908.2 1213.3 908.6 1214.7 909 1216.1 909.3 1217.4 909.7 1218.7 910 1220 910.5 1221.7 910.9 1223.3 911.4 1224.9 911.9 1226.5 912.3 1228 912.8 1229.4 913.2 1230.8 913.7 1232.2 914.2 1233.6 914.6 1235 915.1 1236.3 915.5 1237.6 916 1239 916.5 1240.3 917 1241.6 917.4 1243 917.9 1244.3 918.4 1245.7 919 1247.1 919.5 1248.5 920 1250 920.5 1251.4 921 1252.7 921.5 1254 922 1255.3 922.6 1256.7 923.1 1258 923.6 1259.3 924.2 1260.6 924.7 1262 925.3 1263.3 925.8 1264.6 926.4 1266 926.9 1267.4 927.5 1268.8 928.1 1270.2 928.6 1271.6 929.2 1273.1 929.7 1274.6 930.3 1276.1 930.9 1277.6 931.4 1279.2 932 1280.8 932.5 1282.5 932.9 1283.8 933.3 1285.1 933.7 1286.5 934.1 1287.9 934.6 1289.4 935 1290.9 935.4 1292.4 935.8 1294 936.3 1295.5 936.7 1297.1 937.1 1298.8 937.6 1300.4 938 1302 938.4 1303.7 938.9 1305.3 939.3 1306.9 939.7 1308.5 940.1 1310.1 940.5 1311.7 940.9 1313.2 941.3 1314.8 941.7 1316.3 942.1 1317.7 942.5 1319.1 942.9 1320.5 943.3 1321.8 943.6 1323.1 944 1324.3 944.3 1325.4 944.7 1326.5 945 1327.5 945.9 1329.9 946.7 1331.6 947.4 1332.8 948.1 1333.6 948.8 1334.3 949.5 1334.9 950.1 1335.6 950.7 1336.6 951.3 1338 951.9 1339.9 952.5 1342.5 952.7 1343.5 952.9 1344.7 953.1 1346 953.3 1347.4 953.5 1349 953.7 1350.6 953.9 1352.3 954.1 1354.1 954.3 1355.9 954.5 1357.8 954.7 1359.8 954.9 1361.7 955.1 1363.7 955.3 1365.8 955.5 1367.8 955.7 1369.8 955.9 1371.8 956.1 1373.8 956.3 1375.7 956.5 1377.6 956.6 1379.4 956.8 1381.2 957 1382.9 957.2 1384.5 957.3 1386 957.5 1387.5 957.7 1388.8 957.8 1389.9 958 1391 958.2 1391.8 958.3 1392.6 958.5 1393.2 958.6 1393.5 958.8 1393.8 958.9 1393.8 959.1 1393.5 959.2 1393.1 959.4 1392.5 959.5 1391.6 959.6 1390.6 959.7 1389.4 959.9 1388.1 960 1386.6 960.1 1385.1 960.2 1383.4 960.3 1381.6 960.4 1379.7 960.5 1377.8 960.6 1375.8 960.7 1373.8 960.8 1371.7 960.9 1369.6 961 1367.6 961.1 1365.5 961.2 1363.5 961.3 1361.5 961.4 1359.6 961.5 1357.8 961.6 1356 961.7 1354.3 961.8 1352.7 961.9 1351.3 962 1350 962.2 1348.1 962.3 1346.5 962.5 1345 962.6 1343.7 962.7 1342.5 962.9 1341.4 963 1340.3 963.1 1339.3 963.2 1338.2 963.4 1337.1 963.5 1335.9 963.7 1334.6 963.8 1333.1 964 1331.5 964.2 1329.6 964.5 1327.6 964.7 1325.2 965 1322.5 965.1 1321.4 965.2 1320.3 965.3 1319.2 965.4 1318 965.6 1316.7 965.7 1315.4 965.8 1314.1 965.9 1312.7 966.1 1311.3 966.2 1309.9 966.3 1308.4 966.5 1306.9 966.6 1305.3 966.8 1303.7 966.9 1302.2 967.1 1300.5 967.2 1298.9 967.4 1297.2 967.5 1295.6 967.7 1293.9 967.8 1292.2 968 1290.5 968.1 1288.8 968.3 1287 968.5 1285.3 968.6 1283.6 968.8 1281.9 969 1280.1 969.1 1278.4 969.3 1276.7 969.4 1275 969.6 1273.3 969.8 1271.7 969.9 1270 970.1 1268.4 970.3 1266.8 970.4 1265.2 970.6 1263.6 970.8 1262.1 970.9 1260.5 971.1 1259.1 971.3 1257.6 971.4 1256.2 971.6 1254.8 971.7 1253.5 971.9 1252.2 972 1251 972.2 1249.8 972.3 1248.6 972.5 1247.5 972.8 1245.1 973.2 1242.8 973.5 1240.6 973.8 1238.5 974.2 1236.5 974.5 1234.5 974.8 1232.7 975.1 1230.9 975.4 1229.3 975.8 1227.7 976.1 1226.2 976.4 1224.8 976.8 1223.4 977.1 1222.2 977.4 1221 977.8 1219.9 978.1 1218.9 978.5 1218 978.9 1217.1 979.2 1216.3 979.6 1215.6 980 1215 981.3 1213.9 982.8 1214.2 984.4 1215.4 985.9 1217.1 987.4 1218.9 988.8 1220.4 990 1221.2 991.9 1220 993.1 1218 995 1220 995.3 1220.8 995.7 1221.7 996 1222.7 996.4 1223.8 996.8 1225 997.2 1226.3 997.6 1227.7 998.1 1229.2 998.5 1230.7 998.9 1232.3 999.4 1233.9 999.8 1235.5 1000.3 1237.2 1000.8 1238.9 1001.2 1240.6 1001.7 1242.4 1002.1 1244.1 1002.6 1245.8 1003 1247.4 1003.4 1249 1003.8 1250.6 1004.2 1252.1 1004.6 1253.6 1005 1255 1005.4 1256.6 1005.9 1258.1 1006.3 1259.6 1006.7 1261 1007.1 1262.4 1007.5 1263.7 1007.9 1265.1 1008.3 1266.4 1008.7 1267.7 1009.1 1269.1 1009.4 1270.4 1009.8 1271.8 1010.2 1273.2 1010.5 1274.7 1010.9 1276.2 1011.2 1277.8 1011.5 1279.5 1011.9 1281.2 1012.2 1283.1 1012.5 1285 1012.7 1286.2 1012.9 1287.5 1013 1288.9 1013.2 1290.3 1013.4 1291.8 1013.6 1293.2 1013.7 1294.8 1013.9 1296.3 1014 1297.9 1014.2 1299.6 1014.4 1301.2 1014.5 1302.9 1014.7 1304.5 1014.8 1306.2 1014.9 1307.9 1015.1 1309.6 1015.2 1311.3 1015.4 1313 1015.5 1314.7 1015.6 1316.4 1015.8 1318 1015.9 1319.6 1016.1 1321.2 1016.2 1322.8 1016.3 1324.3 1016.5 1325.8 1016.6 1327.3 1016.8 1328.7 1016.9 1330.1 1017.1 1331.4 1017.2 1332.7 1017.3 1333.9 1017.5 1335 1017.8 1337.4 1018.1 1339.6 1018.4 1341.8 1018.7 1343.9 1019 1345.8 1019.3 1347.7 1019.5 1349.4 1019.8 1350.9 1020.1 1352.3 1020.5 1353.6 1020.8 1354.7 1021.2 1355.7 1021.6 1356.5 1022 1357.1 1022.5 1357.5 1023.3 1357.8 1024.2 1357.6 1025.2 1357 1026.3 1356 1027.3 1354.7 1028.4 1353.1 1029.5 1351.3 1030.6 1349.3 1031.6 1347.2 1032.5 1345 1032.9 1343.9 1033.3 1342.6 1033.7 1341.2 1034 1339.7 1034.4 1338.1 1034.8 1336.4 1035.2 1334.7 1035.5 1332.9 1035.9 1331 1036.2 1329.2 1036.6 1327.3 1036.9 1325.5 1037.2 1323.7 1037.6 1322 1037.9 1320.4 1038.2 1318.8 1038.5 1317.4 1038.8 1316.1 1039.1 1314.9 1039.4 1313.9 1039.7 1313.1 1040 1312.5 1040.9 1311.5 1041.6 1311.7 1042.4 1312.8 1043.1 1314.6 1043.7 1316.9 1044.4 1319.7 1045 1322.5 1045.2 1323.6 1045.4 1325.1 1045.6 1326.7 1045.8 1328.6 1046 1330.6 1046.1 1332.7 1046.3 1334.9 1046.5 1337.1 1046.6 1339.4 1046.8 1341.6 1047 1343.7 1047.1 1345.7 1047.3 1347.5 1047.5 1349.1 1047.7 1350.5 1047.9 1351.6 1048.1 1352.4 1048.3 1352.9 1048.5 1352.9 1048.8 1352.5 1048.9 1352.1 1049 1351.6 1049.2 1350.9 1049.3 1350.2 1049.5 1349.3 1049.6 1348.3 1049.8 1347.3 1049.9 1346.1 1050 1344.9 1050.2 1343.6 1050.4 1342.2 1050.5 1340.7 1050.7 1339.2 1050.8 1337.6 1051 1336 1051.2 1334.3 1051.3 1332.6 1051.5 1330.8 1051.7 1329 1051.8 1327.1 1052 1325.3 1052.2 1323.4 1052.4 1321.5 1052.5 1319.5 1052.7 1317.6 1052.9 1315.7 1053.1 1313.8 1053.3 1311.9 1053.5 1310 1053.7 1308.1 1053.9 1306.2 1054.1 1304.4 1054.3 1302.6 1054.6 1300.9 1054.8 1299.2 1055 1297.5 1055.2 1296.1 1055.4 1294.7 1055.6 1293.2 1055.8 1291.8 1056 1290.3 1056.2 1288.8 1056.4 1287.3 1056.7 1285.8 1056.9 1284.2 1057.1 1282.7 1057.4 1281.2 1057.6 1279.6 1057.8 1278 1058.1 1276.5 1058.3 1274.9 1058.5 1273.3 1058.8 1271.8 1059 1270.2 1059.3 1268.6 1059.5 1267 1059.8 1265.5 1060 1263.9 1060.3 1262.3 1060.5 1260.8 1060.8 1259.2 1061 1257.7 1061.3 1256.2 1061.5 1254.6 1061.8 1253.1 1062 1251.6 1062.3 1250.1 1062.5 1248.7 1062.8 1247.2 1063 1245.8 1063.3 1244.3 1063.5 1242.9 1063.8 1241.6 1064 1240.2 1064.3 1238.9 1064.5 1237.6 1064.8 1236.3 1065 1235 1065.3 1233.2 1065.7 1231.5 1066 1229.7 1066.3 1228.1 1066.7 1226.4 1067 1224.8 1067.3 1223.2 1067.6 1221.6 1067.9 1220.1 1068.3 1218.6 1068.6 1217.1 1068.9 1215.6 1069.2 1214.2 1069.5 1212.7 1069.8 1211.3 1070.2 1209.9 1070.5 1208.5 1070.8 1207.2 1071.2 1205.8 1071.5 1204.5 1071.9 1203.1 1072.2 1201.8 1072.6 1200.5 1073 1199.1 1073.4 1197.8 1073.8 1196.5 1074.2 1195.2 1074.6 1193.8 1075 1192.5 1075.5 1191 1076 1189.4 1076.6 1187.9 1077.1 1186.4 1077.7 1184.9 1078.3 1183.4 1078.9 1181.9 1079.5 1180.4 1080.1 1178.9 1080.8 1177.5 1081.4 1176 1082 1174.6 1082.7 1173.2 1083.3 1171.8 1083.9 1170.4 1084.6 1169.1 1085.2 1167.7 1085.8 1166.4 1086.5 1165 1087.1 1163.7 1087.7 1162.5 1088.3 1161.2 1088.9 1159.9 1089.4 1158.7 1090 1157.5 1090.8 1155.9 1091.5 1154.3 1092.2 1152.8 1092.9 1151.3 1093.6 1149.8 1094.3 1148.4 1094.9 1147.1 1095.6 1145.7 1096.2 1144.4 1096.9 1143.1 1097.6 1141.8 1098.2 1140.5 1098.9 1139.2 1099.6 1137.9 1100.3 1136.6 1101 1135.2 1101.7 1133.9 1102.5 1132.5 1103.2 1131.2 1104 1129.8 1104.7 1128.5 1105.5 1127.1 1106.3 1125.7 1107.1 1124.3 1107.8 1123 1108.6 1121.6 1109.4 1120.2 1110.2 1118.9 1111.1 1117.5 1111.9 1116.2 1112.7 1114.8 1113.5 1113.5 1114.3 1112.3 1115.1 1111 1115.9 1109.8 1116.7 1108.6 1117.5 1107.5 1118.5 1106.1 1119.6 1104.6 1120.6 1103.1 1121.7 1101.6 1122.8 1100.2 1123.9 1098.8 1124.9 1097.4 1126 1096.1 1127 1094.8 1128.1 1093.7 1129 1092.7 1130 1091.8 1130.9 1091 1131.7 1090.4 1132.5 1090 1134 1089.5 1135.2 1089.4 1136.2 1089.9 1137.2 1090.9 1138.1 1092.4 1139 1094.6 1140 1097.5 1140.3 1098.4 1140.6 1099.4 1140.9 1100.4 1141.2 1101.5 1141.5 1102.7 1141.8 1103.9 1142.1 1105.1 1142.4 1106.4 1142.7 1107.8 1143 1109.1 1143.3 1110.6 1143.6 1112.1 1143.9 1113.6 1144.2 1115.1 1144.5 1116.8 1144.8 1118.4 1145.1 1120.1 1145.4 1121.8 1145.7 1123.6 1146 1125.4 1146.3 1127.3 1146.6 1129.1 1146.9 1131.1 1147.2 1133 1147.5 1135 1147.7 1136.2 1147.9 1137.5 1148.1 1138.9 1148.2 1140.2 1148.4 1141.7 1148.6 1143.1 1148.8 1144.6 1149 1146.1 1149.2 1147.7 1149.4 1149.2 1149.6 1150.8 1149.8 1152.4 1150 1154.1 1150.2 1155.7 1150.4 1157.4 1150.6 1159.1 1150.8 1160.8 1151 1162.5 1151.2 1164.2 1151.4 1165.9 1151.6 1167.6 1151.8 1169.3 1152 1171 1152.2 1172.6 1152.3 1174.3 1152.5 1176 1152.7 1177.6 1152.9 1179.2 1153.1 1180.8 1153.3 1182.4 1153.4 1184 1153.6 1185.5 1153.8 1187 1153.9 1188.4 1154.1 1189.9 1154.3 1191.2 1154.4 1192.6 1154.6 1193.9 1154.7 1195.1 1154.9 1196.3 1155 1197.5 1155.3 1199.8 1155.5 1202.1 1155.8 1204.5 1156 1206.7 1156.2 1209 1156.4 1211.2 1156.5 1213.3 1156.7 1215.3 1156.9 1217.2 1157 1219.1 1157.2 1220.7 1157.3 1222.3 1157.5 1223.7 1157.7 1224.9 1157.8 1225.9 1158 1226.7 1158.2 1227.2 1158.3 1227.6 1158.5 1227.7 1158.8 1227.5 1158.9 1227.2 1159.1 1226.7 1159.2 1226.1 1159.4 1225.4 1159.6 1224.5 1159.8 1223.5 1159.9 1222.4 1160.1 1221.2 1160.3 1219.9 1160.5 1218.5 1160.7 1217 1160.9 1215.4 1161.1 1213.8 1161.2 1212 1161.4 1210.3 1161.6 1208.4 1161.8 1206.5 1162 1204.6 1162.2 1202.7 1162.4 1200.7 1162.6 1198.7 1162.7 1196.7 1162.9 1194.7 1163.1 1192.8 1163.3 1190.8 1163.4 1188.8 1163.6 1186.9 1163.8 1185 1163.9 1183.7 1164 1182.4 1164.1 1181 1164.1 1179.6 1164.2 1178.2 1164.3 1176.7 1164.4 1175.3 1164.5 1173.8 1164.6 1172.2 1164.7 1170.7 1164.7 1169.1 1164.8 1167.6 1164.9 1166 1165 1164.4 1165.1 1162.8 1165.1 1161.1 1165.2 1159.5 1165.3 1157.9 1165.4 1156.2 1165.4 1154.6 1165.5 1152.9 1165.6 1151.3 1165.7 1149.6 1165.7 1148 1165.8 1146.4 1165.9 1144.7 1166 1143.1 1166.1 1141.5 1166.2 1139.9 1166.3 1138.4 1166.4 1136.8 1166.4 1135.3 1166.6 1133.7 1166.7 1132.2 1166.8 1130.8 1166.9 1129.3 1167 1127.9 1167.1 1126.5 1167.2 1125.1 1167.4 1123.8 1167.5 1122.5 1167.7 1120.6 1167.9 1118.8 1168.1 1117 1168.4 1115.1 1168.6 1113.3 1168.8 1111.6 1169.1 1109.8 1169.3 1108.1 1169.5 1106.4 1169.8 1104.7 1170.1 1103.1 1170.3 1101.4 1170.6 1099.8 1170.9 1098.3 1171.1 1096.7 1171.4 1095.2 1171.7 1093.8 1172 1092.3 1172.3 1090.9 1172.6 1089.6 1172.9 1088.2 1173.2 1086.9 1173.5 1085.7 1173.8 1084.5 1174.1 1083.3 1174.4 1082.1 1174.7 1081 1175 1080 1175.7 1077.8 1176.4 1075.9 1177.1 1074.2 1177.9 1072.8 1178.6 1071.5 1179.4 1070.5 1180.2 1069.5 1181 1068.6 1181.9 1067.8 1182.9 1066.9 1183.9 1066 1185 1065 1186.1 1064.1 1187.3 1063.1 1188.5 1062.2 1189.8 1061.4 1191.2 1060.6 1192.6 1059.8 1194 1059 1195.4 1058.3 1196.9 1057.5 1198.3 1056.9 1199.7 1056.2 1201.1 1055.6 1202.5 1055 1204 1054.4 1205.4 1053.9 1206.9 1053.4 1208.3 1053 1209.8 1052.6 1211.2 1052.3 1212.7 1051.9 1214.1 1051.6 1215.6 1051.2 1217.1 1050.9 1218.5 1050.4 1220 1050 1221.5 1049.5 1223 1048.8 1224.4 1048.1 1225.9 1047.3 1227.4 1046.5 1228.9 1045.8 1230.4 1045.1 1231.9 1044.4 1233.4 1044 1234.8 1043.7 1236.3 1043.6 1237.8 1043.7 1239 1044.1 1240.3 1044.7 1241.4 1045.5 1242.6 1046.5 1243.8 1047.6 1245 1048.8 1246.1 1050 1247.3 1051.2 1248.6 1052.4 1249.8 1053.5 1251.1 1054.5 1252.5 1055.3 1253.9 1055.9 1255.4 1056.3 1256.7 1056.4 1258.1 1056.4 1259.6 1056.2 1261.1 1055.9 1262.7 1055.5 1264.3 1055.1 1265.9 1054.5 1267.6 1054 1269.2 1053.4 1270.9 1052.8 1272.4 1052.2 1274 1051.7 1275.5 1051.2 1276.9 1050.7 1278.2 1050.4 1279.4 1050.1 1280.5 1050 1282.8 1049.8 1284.6 1049.7 1286.1 1049.7 1287.4 1050 1288.5 1050.7 1289.6 1051.9 1290.6 1053.8 1291 1054.8 1291.4 1055.8 1291.7 1057.1 1292 1058.4 1292.3 1059.9 1292.6 1061.4 1292.9 1063 1293.1 1064.7 1293.4 1066.4 1293.6 1068.2 1293.8 1069.9 1294.1 1071.7 1294.3 1073.4 1294.5 1075.1 1294.8 1076.8 1295 1078.4 1295.3 1080 1295.6 1081.4 1296 1083.2 1296.3 1085.1 1296.7 1087.2 1297.1 1089.3 1297.4 1091.4 1297.8 1093.6 1298.2 1095.6 1298.6 1097.6 1299 1099.4 1299.4 1100.9 1299.8 1102.2 1300.2 1103.3 1300.6 1103.9 1301 1104.2 1301.4 1104 1301.7 1103.6 1301.9 1103 1302.2 1102.1 1302.4 1101.1 1302.7 1099.9 1302.9 1098.5 1303.2 1097 1303.4 1095.4 1303.7 1093.7 1303.9 1091.8 1304.2 1089.9 1304.5 1088 1304.7 1086.1 1305 1084.1 1305.3 1082.1 1305.6 1080.2 1305.9 1078.3 1306.2 1076.4 1306.6 1074.7 1306.9 1073 1307.3 1071.5 1307.7 1070.1 1308.1 1068.8 1308.8 1067 1309.5 1065.3 1310.3 1063.6 1311.2 1062 1312.1 1060.4 1313 1058.9 1313.9 1057.5 1314.8 1056.2 1315.7 1054.9 1316.7 1053.8 1317.6 1052.8 1318.4 1051.9 1319.2 1051.1 1320 1050.5 1320.7 1050 1322.2 1049.3 1323.6 1049.3 1324.8 1049.9 1325.9 1051.3 1327 1053.4 1328.2 1056.3 1328.5 1057.3 1328.9 1058.4 1329.2 1059.6 1329.5 1061 1329.9 1062.5 1330.2 1064.1 1330.5 1065.8 1330.9 1067.5 1331.2 1069.2 1331.5 1071 1331.8 1072.8 1332.2 1074.6 1332.5 1076.4 1332.9 1078.1 1333.2 1079.8 1333.6 1081.5 1333.9 1083 1334.3 1084.4 1334.6 1085.8 1335 1087 1335.4 1088 1335.8 1088.9 1337.3 1091.3 1339 1092.8 1340.6 1093.5 1342.4 1093.4 1344.1 1092.7 1345.8 1091.5 1346.5 1090.7 1347.2 1089.7 1348 1088.5 1348.7 1087 1349.4 1085.5 1350.1 1083.8 1350.9 1082.1 1351.6 1080.3 1352.3 1078.6 1353 1076.9 1353.7 1075.3 1354.5 1073.8 1355.2 1072.5 1355.9 1071.4 1357.1 1069.8 1358.3 1068.4 1359.4 1067.3 1360.6 1066.3 1361.8 1065.5 1363 1064.9 1364.4 1064.3 1365.9 1063.8 1367.2 1063.4 1368.7 1063 1370.3 1062.5 1371.9 1062.2 1373.6 1061.9 1375.3 1061.8 1376.9 1061.9 1378.4 1062.2 1379.8 1062.9 1381 1063.8 1381.7 1064.7 1382.4 1065.8 1383 1067.2 1383.5 1068.7 1384.1 1070.4 1384.5 1072.2 1385 1074 1385.4 1075.9 1385.9 1077.7 1386.3 1079.5 1386.7 1081.2 1387.1 1082.8 1387.6 1084.2 1388 1085.4 1388.5 1086.4 1390 1088.3 1391.5 1089.3 1393 1089.5 1394.5 1089.3 1396.1 1088.9 1397.3 1088.1 1398.5 1086.7 1399.8 1084.9 1401.1 1083.2 1402.4 1082 1403.6 1081.7 1404.9 1082.7 1405.3 1083.4 1405.7 1084.2 1406.2 1085.2 1406.6 1086.4 1407 1087.7 1407.5 1089 1407.9 1090.5 1408.3 1092.1 1408.7 1093.7 1409.2 1095.4 1409.6 1097.2 1410 1098.9 1410.4 1100.7 1410.9 1102.5 1411.3 1104.3 1411.7 1106.1 1412.1 1107.8 1412.5 1109.5 1412.9 1111.1 1413.3 1112.6 1413.7 1114.1 1414.1 1115.7 1414.5 1117.2 1415 1118.8 1415.4 1120.4 1415.8 1122 1416.2 1123.5 1416.6 1125.1 1416.9 1126.6 1417.3 1128.2 1417.7 1129.7 1418.1 1131.2 1418.5 1132.6 1418.9 1134 1419.3 1135.4 1419.6 1136.8 1420 1138.1 1420.4 1139.3 1420.8 1140.5 1421.2 1141.7 1421.9 1143.4 1422.6 1144.7 1423.3 1145.8 1424 1146.6 1424.7 1147.4 1425.5 1148.3 1426.1 1149.3 1426.8 1150.5 1427.5 1152.1 1428.1 1154.2 1428.7 1156.8 1428.9 1157.9 1429.1 1159.1 1429.2 1160.5 1429.4 1162.1 1429.6 1163.8 1429.8 1165.6 1429.9 1167.5 1430.1 1169.4 1430.2 1171.5 1430.4 1173.6 1430.5 1175.8 1430.7 1178 1430.8 1180.2 1431 1182.4 1431.1 1184.6 1431.3 1186.8 1431.4 1188.9 1431.5 1191 1431.7 1193.1 1431.8 1195 1432 1196.9 1432.1 1198.6 1432.3 1200.3 1432.4 1201.8 1432.5 1203.1 1432.7 1204.3 1432.8 1205.3 1433 1206.2 1433.1 1206.8 1433.3 1207.2 1433.5 1207.4 1433.6 1207.3 1433.8 1207 1433.9 1206.7 1434 1206.2 1434.1 1205.7 1434.2 1205.1 1434.3 1204.3 1434.4 1203.5 1434.6 1202.6 1434.7 1201.7 1434.8 1200.6 1434.9 1199.5 1435 1198.3 1435.1 1197 1435.2 1195.7 1435.3 1194.3 1435.4 1192.8 1435.5 1191.3 1435.7 1189.7 1435.8 1188.1 1435.9 1186.5 1436 1184.8 1436.1 1183 1436.2 1181.3 1436.3 1179.4 1436.5 1177.6 1436.6 1175.8 1436.7 1173.9 1436.8 1172 1436.9 1170 1437 1168.1 1437.2 1166.2 1437.3 1164.2 1437.4 1162.3 1437.5 1160.3 1437.6 1158.4 1437.7 1156.5 1437.9 1154.5 1438 1152.6 1438.1 1150.7 1438.2 1148.9 1438.4 1147 1438.5 1145.2 1438.6 1143.4 1438.7 1141.6 1438.9 1139.9 1439 1138.2 1439.1 1136.6 1439.2 1135 1439.4 1133.4 1439.5 1132 1439.6 1130.5 1439.7 1129.2 1439.9 1127.8 1440 1126.6 1440.2 1124.6 1440.4 1122.6 1440.7 1120.5 1440.9 1118.5 1441.1 1116.4 1441.4 1114.3 1441.6 1112.3 1441.8 1110.3 1442.1 1108.2 1442.3 1106.2 1442.6 1104.3 1442.8 1102.3 1443.1 1100.5 1443.3 1098.6 1443.5 1096.8 1443.8 1095.1 1444 1093.4 1444.3 1091.8 1444.5 1090.2 1444.8 1088.7 1445 1087.3 1445.3 1086 1445.5 1084.8 1445.8 1083.7 1446 1082.7 1446.2 1081.8 1446.5 1081 1446.7 1080.3 1446.9 1079.8 1447.2 1079.3 1447.4 1079 1447.6 1078.9 1447.8 1078.9 1448.1 1079.2 1448.3 1079.6 1448.6 1080.3 1448.8 1081.1 1449.1 1082.2 1449.3 1083.3 1449.5 1084.7 1449.8 1086.1 1450 1087.7 1450.2 1089.4 1450.5 1091.1 1450.7 1093 1450.9 1094.9 1451.1 1096.9 1451.4 1098.9 1451.6 1101 1451.8 1103 1452 1105.1 1452.2 1107.1 1452.4 1109.2 1452.7 1111.1 1452.9 1113.1 1453.1 1115 1453.3 1116.8 1453.5 1118.5 1453.7 1120.1 1453.9 1121.6 1454.1 1123.2 1454.3 1124.9 1454.5 1126.7 1454.7 1128.5 1454.9 1130.3 1455.1 1132.2 1455.3 1134 1455.5 1135.9 1455.7 1137.8 1455.9 1139.6 1456.1 1141.5 1456.2 1143.3 1456.4 1145 1456.6 1146.7 1456.8 1148.3 1457 1149.9 1457.2 1151.4 1457.4 1152.8 1457.6 1154.1 1457.8 1155.3 1458 1156.4 1458.2 1157.3 1458.4 1158.1 1458.7 1158.8 1458.9 1159.3 1459.5 1159.6 1460.1 1158.8 1460.8 1157.1 1461.4 1154.7 1462.1 1152 1462.8 1149.2 1463.6 1146.6 1464.3 1144.4 1465 1142.9 1465.7 1142.3 1466.4 1143 1466.6 1143.5 1466.9 1144.2 1467.1 1145 1467.4 1145.9 1467.6 1146.9 1467.8 1148 1468.1 1149.2 1468.3 1150.4 1468.6 1151.8 1468.8 1153.2 1469 1154.7 1469.3 1156.2 1469.5 1157.8 1469.8 1159.5 1470 1161.2 1470.2 1162.9 1470.5 1164.7 1470.7 1166.5 1471 1168.3 1471.2 1170.1 1471.5 1171.9 1471.7 1173.8 1472 1175.6 1472.2 1177.4 1472.5 1179.2 1472.7 1181 1473 1182.8 1473.2 1184.5 1473.5 1186.2 1473.7 1187.8 1474 1189.4 1474.2 1190.9 1474.5 1192.5 1474.7 1194.1 1475 1195.9 1475.2 1197.7 1475.5 1199.6 1475.7 1201.5 1476 1203.5 1476.2 1205.5 1476.5 1207.6 1476.8 1209.7 1477 1211.7 1477.3 1213.8 1477.5 1215.9 1477.8 1217.9 1478.1 1219.9 1478.3 1221.9 1478.6 1223.8 1478.9 1225.6 1479.1 1227.4 1479.4 1229.1 1479.6 1230.7 1479.9 1232.2 1480.2 1233.6 1480.4 1234.9 1480.7 1236.1 1481 1237.1 1481.2 1238 1481.5 1238.7 1481.8 1239.3 1482 1239.7 1482.3 1239.9 1482.5 1239.9 1482.8 1239.7 1483 1239.4 1483.2 1239 1483.4 1238.4 1483.5 1237.7 1483.7 1236.9 1483.9 1236 1484.1 1234.9 1484.3 1233.7 1484.5 1232.5 1484.7 1231.1 1484.9 1229.7 1485 1228.1 1485.2 1226.5 1485.4 1224.9 1485.6 1223.1 1485.8 1221.3 1486 1219.5 1486.2 1217.6 1486.4 1215.6 1486.5 1213.6 1486.7 1211.6 1486.9 1209.6 1487.1 1207.6 1487.3 1205.5 1487.5 1203.5 1487.7 1201.4 1487.9 1199.4 1488 1197.3 1488.2 1195.3 1488.4 1193.3 1488.6 1191.4 1488.8 1189.4 1489 1187.6 1489.2 1185.7 1489.4 1184 1489.5 1182.3 1489.7 1180.6 1489.9 1179.1 1490.1 1177.6 1490.3 1176.2 1490.5 1174.9 1490.7 1173.7 1490.9 1172.6 1491 1171.6 1491.2 1170.7 1491.4 1169.9 1491.6 1169.3 1492.3 1167.9 1493 1167.7 1493.7 1168.4 1494.4 1170 1495.1 1172.1 1495.8 1174.6 1496.5 1177.3 1497.2 1180 1497.9 1182.5 1498.5 1184.6 1499.2 1186.2 1499.8 1187 1500.4 1186.9 1500.7 1186.4 1501 1185.8 1501.3 1185 1501.6 1184.1 1501.9 1183.1 1502.2 1181.9 1502.5 1180.6 1502.8 1179.2 1503.1 1177.8 1503.3 1176.2 1503.6 1174.5 1503.9 1172.8 1504.1 1171 1504.4 1169.2 1504.6 1167.3 1504.9 1165.4 1505.1 1163.5 1505.4 1161.5 1505.6 1159.6 1505.9 1157.6 1506.1 1155.6 1506.4 1153.7 1506.6 1151.8 1506.8 1150.5 1506.9 1149.1 1507.1 1147.7 1507.3 1146.3 1507.4 1144.8 1507.6 1143.2 1507.7 1141.7 1507.9 1140 1508 1138.4 1508.2 1136.8 1508.3 1135.1 1508.5 1133.4 1508.6 1131.7 1508.8 1130 1508.9 1128.3 1509.1 1126.6 1509.2 1124.8 1509.4 1123.1 1509.5 1121.4 1509.7 1119.8 1509.8 1118.1 1509.9 1116.5 1510.1 1114.9 1510.2 1113.3 1510.4 1111.7 1510.5 1110.2 1510.7 1108.8 1510.8 1107.3 1511 1106 1511.2 1104.7 1511.3 1103.4 1511.5 1102.2 1511.6 1101.1 1511.8 1100 1512.3 1097.3 1512.7 1095 1513.2 1093 1513.7 1091.3 1514.2 1089.8 1514.7 1088.5 1515.1 1087.3 1515.7 1086.3 1516.2 1085.2 1516.7 1084.2 1517.2 1083 1517.8 1081.8 1518.5 1080.3 1519.2 1078.8 1519.9 1077.4 1520.6 1076 1521.3 1074.7 1522.1 1073.4 1522.9 1072.1 1523.7 1070.8 1524.5 1069.6 1525.4 1068.3 1526.3 1067 1527.4 1065.5 1528.5 1064 1529.6 1062.5 1530.7 1061 1531.8 1059.7 1532.9 1058.5 1534 1057.4 1535 1056.7 1535.9 1056.2 1537.2 1056.3 1538.3 1057.3 1539.3 1058.8 1540.3 1060.4 1541.4 1061.7 1542.7 1062.2 1543.9 1061.9 1545.2 1061.2 1546.6 1060.2 1548 1059 1549.5 1057.9 1551 1056.9 1552.5 1056.2 1553.9 1055.9 1555.3 1055.7 1556.8 1055.6 1558.4 1055.5 1559.9 1055.5 1561.4 1055.6 1563 1055.6 1564.5 1055.5 1566.1 1055.3 1567.7 1055 1569.4 1054.7 1571 1054.4 1572.6 1054.2 1574.1 1054.1 1575.5 1054.3 1576.6 1054.7 1577.6 1055.6 1578.4 1056.7 1579.1 1058.1 1579.6 1059.6 1580 1061.4 1580.5 1063.3 1581.1 1065.3 1581.5 1066.7 1581.8 1068.3 1582.2 1070.2 1582.6 1072.1 1583 1074.2 1583.3 1076.2 1583.7 1078.1 1584.1 1079.8 1584.5 1081.3 1584.8 1082.4 1585.2 1083.1 1585.6 1083.3 1585.9 1083 1586.3 1082.3 1586.6 1081.3 1587 1080 1587.3 1078.4 1587.6 1076.6 1588 1074.8 1588.3 1072.8 1588.7 1070.8 1589 1068.9 1589.4 1067 1589.8 1065.3 1590.2 1063.8 1590.7 1062.2 1591.1 1060.5 1591.6 1058.8 1592.1 1057.2 1592.6 1055.6 1593.1 1054 1593.6 1052.5 1594.2 1051.1 1594.8 1049.7 1595.5 1048.4 1596.2 1047.2 1597.3 1045.7 1598.4 1044.4 1599.7 1043.2 1601 1042.1 1602.3 1041.1 1603.8 1040.3 1605.2 1039.6 1606.7 1038.9 1608.1 1038.4 1609.6 1037.9 1611.2 1037.5 1612.9 1037.2 1614.5 1037 1616.1 1036.9 1617.6 1036.9 1619 1037.1 1620.3 1037.4 1621.7 1038 1622.9 1038.7 1623.9 1039.7 1624.9 1040.8 1625.8 1042.2 1626.8 1043.8 1627.8 1045.7 1628.3 1046.8 1628.9 1048 1629.5 1049.3 1630.1 1050.8 1630.6 1052.3 1631.2 1053.8 1631.8 1055.4 1632.4 1057 1632.9 1058.6 1633.5 1060.1 1634 1061.5 1634.5 1062.9 1635 1064.2 1635.4 1065.3 1636.2 1067.4 1636.9 1069.5 1637.5 1071.5 1638 1073.1 1638.6 1074.3 1639.2 1075.1 1639.9 1075.1 1640.4 1074.6 1641 1073.8 1641.6 1072.6 1642.2 1071.2 1642.8 1069.5 1643.4 1067.8 1644 1065.9 1644.6 1064.1 1645.3 1062.3 1645.9 1060.7 1646.5 1059.2 1647.1 1057.5 1647.7 1055.7 1648.4 1053.8 1649 1051.9 1649.7 1050.1 1650.3 1048.4 1650.9 1046.9 1651.5 1045.7 1652.1 1044.7 1652.7 1044.2 1653.7 1044.3 1654.6 1045.5 1655.5 1047.4 1656.3 1049.6 1657.2 1051.7 1658 1053.2 1659.1 1054.7 1660 1055.9 1661.1 1056.9 1662.5 1057.7 1663.7 1058.2 1665.2 1058.6 1666.7 1058.9 1668.3 1059.1 1669.9 1059.2 1671.5 1059.2 1673 1059 1674.5 1058.7 1676 1058.3 1677.5 1057.7 1679 1057 1680.6 1056.2 1681.9 1055.4 1683.4 1054.5 1684.9 1053.4 1686.4 1052.3 1687.9 1051.2 1689.2 1050.2 1690.3 1049.3 1691.1 1048.7" fill="none" stroke="#f04814" stroke-width="7.4" stroke-linejoin="round" stroke-linecap="round"/>
<path d="M70 1689.3 71.4 1691 72.9 1691.4 74.3 1692.8 75.7 1693.8 77.1 1693.2 78.6 1693.9 80 1696.9 81.7 1694.9 83.3 1694.3 85 1695.8 86.7 1693.9 88.3 1694.4 90 1692.9 91.5 1693.5 93 1692.4 94.5 1693.9 96 1694.6 97.5 1693.9 99 1694.6 100.5 1694.6 102 1693.2 103.5 1695.2 105 1694.9 106.5 1694.3 108 1693.8 109.5 1695.2 111 1693.4 112.5 1693.3 114 1693 115.5 1691.8 117 1691.6 118.5 1689.5 120 1689.8 121.7 1688.5 123.3 1689.5 125 1689 126.7 1686.6 128.3 1686.4 130 1686.3 131 1689.4 132 1689.3 133 1691 134 1691.4 134.9 1693.1 135.9 1694 136.9 1695.2 137.9 1697 138.9 1698.2 139.6 1697.7 140.3 1695.7 141 1694.9 141.7 1693.3 142.4 1692.3 143.1 1690 143.8 1687.3 144.5 1687.7 145.2 1686.6 145.9 1685.1 147.6 1683.8 149.2 1683.9 150.9 1682.2 152.6 1683.5 154.2 1682.5 155.9 1681.4 156.5 1682.3 157.1 1685.7 157.7 1687.5 158.3 1686.5 158.9 1689.8 159.5 1690.2 160.1 1690.9 160.7 1692.7 161.3 1695.3 161.9 1697 162.7 1693.4 163.5 1693.5 164.3 1690.6 165.1 1691 165.9 1688.6 166.7 1688.6 167.5 1687.4 168.3 1684.8 169.1 1684.7 169.9 1681.5 171.2 1681.8 172.4 1684 173.7 1683.4 174.9 1684.7 176.2 1686.1 177.4 1687.5 178.7 1687.2 179.9 1687.8 181 1688.7 182.1 1686.1 183.2 1686.5 184.3 1685.1 185.4 1682.6 186.5 1681.6 187.6 1680.5 188.7 1679.6 189.8 1678.2 191.1 1678.9 192.5 1679.9 193.8 1681.5 195.1 1681.1 196.5 1681.7 197.8 1683.2 199.1 1682.8 200.5 1683.7 201.8 1686.2 203.1 1684.2 204.3 1683.5 205.6 1681.3 206.9 1681.5 208.2 1681.1 209.4 1678.8 210.7 1679.6 212 1678.8 213.3 1676.5 214.5 1677.1 215.8 1675.9 217.3 1676.7 218.8 1676.1 220.3 1677.3 221.8 1677.6 222.2 1677.3 222.6 1678.9 223 1682 223.4 1684.2 223.8 1683.9 224.2 1685.9 224.6 1687.7 225 1688.5 225.4 1690.1 225.8 1691.5 226.6 1690.3 227.4 1689.4 228.2 1687.3 229 1686.1 229.8 1685.7 230.6 1682.4 231.4 1682.4 232.2 1681.4 233 1678.9 233.8 1677.3 235.5 1678.3 237.1 1676.3 238.8 1675.7 240.5 1675.8 242.1 1676 243.8 1674 244.8 1675.8 245.8 1677.1 246.8 1679.6 247.8 1679.8 248.8 1682.2 249.8 1681.6 250.8 1683.3 251.8 1685.4 252.9 1685 254.1 1682.9 255.2 1681.3 256.4 1680 257.5 1680.1 258.7 1678.2 259.8 1678.8 261.4 1679.3 263 1678 264.6 1678.6 266.2 1680.4 267.8 1680.4 268.9 1682.1 270.1 1682.2 271.2 1682.9 272.3 1684.6 273.4 1687.2 274.6 1687.1 275.7 1688.6 276.5 1687.4 277.3 1686 278.1 1684.6 278.9 1684.5 279.7 1681.1 280.5 1679.3 281.3 1680.4 282.1 1678.8 282.9 1677.7 283.7 1674.8 285.3 1676.3 286.9 1676.3 288.5 1674.6 290.1 1676 291.7 1676.4 293.3 1676 294.9 1675.7 296.5 1675.3 298.1 1675.5 299.7 1675.3 300.7 1676.2 301.7 1678.8 302.7 1679.3 303.7 1682 304.7 1681.3 305.7 1684.8 306.7 1685.6 307.7 1687.5 308.7 1688.7 309.7 1690 311.4 1688.9 313 1687.1 314.7 1688.6 316.4 1686.8 318 1686.8 319.7 1687.4 320.6 1685.7 321.6 1684.1 322.5 1684.2 323.5 1682 324.4 1679.9 325.4 1678.4 326.3 1678.6 327.3 1679 328.2 1681.2 329.2 1681.4 330.2 1682.4 331.2 1684.7 332.2 1686.8 333.1 1686.5 334.1 1689.5 335.4 1688.9 336.6 1687.6 337.9 1686.7 339.1 1683.7 340.4 1684.3 341.8 1684.3 343.1 1681.5 344.5 1681.3 345.9 1680.6 347.3 1680.6 348.6 1679.7 350 1679.1 351.4 1679.2 352.5 1678.4 353.7 1679.8 354.8 1681.2 355.9 1682.4 357 1683.5 358.2 1687.1 359.3 1688 360.5 1684.9 361.8 1684.9 363 1683.3 364.3 1682.2 365.5 1681.2 365.8 1683.5 366 1684.9 366.3 1685.9 366.6 1687 366.9 1688.9 367.1 1689.9 367.4 1692.5 367.7 1694.5 368 1695.1 368.2 1695.9 368.5 1697.7 368.8 1699.7 369.1 1701.9 369.3 1703.9 369.6 1704.4 369.9 1707 370.2 1708.1 370.4 1709.1 370.7 1710.5 371 1712.4 371.3 1714.4 371.5 1715.3 371.8 1717.5 372.4 1715.4 373 1713.4 373.6 1712.7 374.2 1711.7 374.8 1708.6 375.4 1708.1 376.1 1706.6 376.7 1706.4 377.3 1705.1 377.9 1702.1 378.5 1702 379.1 1700.3 379.7 1697.5 380.4 1696.6 381.1 1694.3 381.8 1694.7 382.5 1692.9 383.2 1692.1 383.9 1690.4 384.6 1688.7 385.3 1687.4 386 1685.6 386.7 1683 387 1685.7 387.3 1685.7 387.6 1687.5 387.9 1690.7 388.1 1690.2 388.4 1691.8 388.7 1693.3 389 1696.9 389.3 1696.5 389.6 1697.6 389.9 1701.2 390.2 1700.8 390.5 1704.2 390.8 1705.2 391 1707.1 391.3 1708.9 391.6 1709.4 391.9 1711.5 392.2 1711 392.7 1711.4 393.2 1709.3 393.7 1708.4 394.1 1705.4 394.6 1705.6 395.1 1704.7 395.6 1700.9 396.1 1700.2 396.6 1699.4 397 1698.6 397.5 1695.6 398 1694 398.5 1692.7 399.8 1694.5 401.1 1695.6 402.4 1695.5 403.8 1696.2 405.1 1697 406.4 1697.7 406.6 1699.4 406.8 1700 407 1702.6 407.2 1705.3 407.4 1705.4 407.6 1707.8 407.8 1707.7 408 1710.6 408.2 1712.3 408.4 1713.6 408.6 1714.7 408.9 1716.1 409.1 1718 409.3 1720.2 409.5 1719.8 409.7 1721.1 409.9 1724.3 410.1 1726.3 410.3 1726.7 410.5 1728 410.7 1730.3 410.9 1730.4 411.1 1732.1 411.9 1730.5 412.7 1730.2 413.5 1728.1 414.2 1726.5 415 1726.3 415.8 1725.6 416.6 1722.5 417.4 1722.2 417.8 1723 418.1 1725.8 418.5 1726.6 418.8 1727.4 419.2 1728.8 419.6 1729.9 419.9 1732.6 420.3 1733.9 420.7 1735 421 1737 421.4 1738.5 421.7 1741.2 422.1 1741.2 422.5 1741.9 422.9 1739.1 423.3 1737.9 423.7 1736.1 424.1 1735.6 424.5 1734.1 424.9 1731.9 425.2 1730.3 425.6 1729.4 426 1728.3 426.4 1725.6 426.8 1725 427.2 1724.1 427.6 1721.4 428 1719.3 428.4 1717.8 428.5 1720.6 428.6 1722.1 428.7 1724.4 428.8 1725.7 428.9 1725.7 429 1727.1 429.1 1728.9 429.3 1730.3 429.4 1733.2 429.5 1735.2 429.6 1736.8 429.7 1736.7 429.8 1739.9 429.9 1740 430 1741.9 430.2 1744.2 430.4 1744 430.6 1745.6 430.8 1749 431 1749.1 431.2 1750.8 431.4 1752.8 431.6 1754.6 431.8 1754.4 432 1756.7 432.2 1758.5 432.4 1760.1 432.5 1760.9 432.7 1763.4 432.9 1765.8 433.1 1765.9 433.3 1767.8 433.5 1768.2 433.7 1770.1 433.9 1772.6 434.1 1772.7 434.3 1776.2 434.5 1777.8 434.7 1777.2 436.3 1780.4 437.8 1780 439.4 1782.1 439.6 1783.6 439.8 1783.9 439.9 1786.4 440.1 1787.8 440.3 1789.7 440.5 1789.8 440.7 1792.6 440.8 1794.7 441 1795.4 441.2 1796.6 441.4 1797 441.6 1799.5 441.8 1800.6 441.9 1803.1 442.1 1804.5 442.3 1805.7 442.5 1806.2 442.7 1808.9 442.8 1810.4 443 1810.7 443.2 1814.1 443.4 1815 443.6 1815.1 443.7 1818.7 443.9 1818.2 444.1 1820.2 445.7 1821.2 447.2 1820.9 448.8 1820.7 448.9 1822.5 449 1823.5 449.1 1824.7 449.2 1825.8 449.3 1827.1 449.4 1830.3 449.5 1831.9 449.6 1832.9 449.7 1834.9 449.8 1835.4 449.9 1836.7 450 1838.5 450.1 1841.3 450.2 1840.7 450.3 1843.4 450.4 1844.3 450.5 1847.1 450.6 1847.6 450.7 1849 450.8 1850.7 450.9 1852.6 451 1854.7 451.1 1855.2 451.2 1858 451.3 1857.6 451.4 1859.5 451.5 1860.6 451.6 1862.1 451.7 1865.4 451.8 1866.8 451.9 1866.9 452.9 1865.6 454 1864.9 455 1864.4 456.1 1863.3 457.1 1861.8 458.2 1860.1 458.4 1860.5 458.7 1862.7 458.9 1863.6 459.2 1866 459.4 1867.6 459.7 1868.2 459.9 1869.8 460.1 1872.7 460.4 1872.2 460.6 1875.8 460.9 1877.5 461.1 1879.2 461.4 1879.2 461.6 1881.1 461.8 1882.7 462.1 1884.4 462.3 1886.8 462.6 1887.5 462.8 1888 463 1891 463.3 1891.5 463.5 1893.3 463.8 1895.2 464 1894.8 464.3 1898.3 464.5 1899.5 464.8 1900.7 465 1902.3 465.3 1903.7 465.5 1904.6 465.8 1907 466.1 1907.3 466.3 1910.1 466.6 1912.1 466.8 1913.1 467.1 1915 467.4 1917.6 467.6 1919 467.9 1918.6 468.1 1921.9 468.4 1923 469.8 1922.2 471.2 1923.7 472.6 1924 472.9 1925.1 473.3 1927.7 473.6 1930.2 474 1930.1 474.3 1933 474.7 1934 475 1934.1 475.3 1937.4 475.7 1938.2 476 1940.5 476.4 1941.5 476.7 1943 477 1943.5 477.4 1946.1 477.7 1947.9 478.1 1949.2 478.4 1949.6 478.8 1951.9 479.1 1952.7 480.2 1950.6 481.3 1949.3 482.4 1948.4 483.4 1947.6 484.5 1946.4 485.6 1946.2 485.8 1948.2 486 1949.3 486.2 1950.6 486.4 1952.7 486.5 1953.3 486.7 1955.2 486.9 1957.5 487.1 1958.1 487.3 1959.1 487.5 1962.4 487.7 1963.5 487.9 1964.1 488 1965.6 488.2 1967.6 488.4 1969.3 488.6 1969.8 488.8 1970.8 489 1972.8 489.2 1975.8 489.4 1975.7 489.6 1978 489.7 1978.9 489.9 1980.4 490.1 1981.8 490.3 1984 490.5 1984.9 490.7 1986 490.9 1987.8 491.1 1989.4 491.2 1991.8 491.4 1992.2 491.6 1993.6 491.8 1996.2 492 1997.7 493.2 1999.4 494.5 1998.6 495.7 2000.4 496.9 2001.3 498.1 2001.3 499.4 2004.7 500.6 2003.7 501.1 2004.8 501.7 2007.3 502.2 2008 502.8 2010.6 503.3 2011.4 503.9 2012.3 504.4 2013.6 505 2016.8 505.5 2017.1 506 2020 506.6 2020.6 507.1 2023.3 507.7 2023.1 508.2 2024.5 508.8 2026 509.3 2028.9 510.5 2029.5 511.7 2029.8 512.9 2030.3 514.1 2032.9 515.3 2034.7 516.5 2034.8 517.7 2034.3 518.9 2035.5 519.4 2034.2 520 2033 520.5 2031.2 521.1 2029.8 521.6 2029.9 522.1 2029.1 522.7 2025.8 523.2 2026.4 523.8 2023.7 524.3 2023.1 524.8 2022 525.4 2020.6 525.9 2016.8 526.4 2016 527 2015.4 527.5 2014.8 528.1 2011.2 528.6 2010.3 528.9 2010.2 529.3 2006.8 529.6 2006 529.9 2004.4 530.3 2003.8 530.6 2003 530.9 1999.5 531.3 1999.5 531.6 1998 531.9 1996.8 532.3 1994.6 532.6 1994 533 1991.1 533.3 1989.7 533.6 1987.8 534 1987.7 534.3 1985.4 534.6 1983.4 535 1981.7 535.3 1981.6 535.6 1979.8 536 1978.6 536.3 1976.3 536.6 1975 537 1972.7 537.3 1972.6 537.6 1969.4 537.8 1969 538.1 1968.3 538.4 1966.6 538.7 1963.6 538.9 1962.5 539.2 1962.5 539.5 1960.5 539.8 1959.7 540 1958.1 540.3 1955.6 540.6 1955.2 540.9 1953.3 541.1 1950.8 541.4 1949.4 541.7 1947.1 542 1946.5 542.2 1946.4 542.5 1942.7 542.8 1942.4 543.1 1939.7 543.3 1938.2 543.6 1938.2 543.9 1935.6 544.2 1933.6 544.4 1932.4 544.7 1932.2 545 1930.5 545.3 1927.6 545.5 1926.6 545.8 1927.1 546.1 1923.6 546.4 1923 546.6 1921.2 546.9 1920.6 547.2 1918.6 547.5 1917.6 547.7 1915.5 548 1913.1 548.4 1911.6 548.7 1909.8 549.1 1910.3 549.5 1906.9 549.9 1905.2 550.2 1906.2 550.6 1902.7 551 1903 551.4 1899.4 551.7 1898.9 552.1 1896.8 552.5 1896.9 552.8 1894.9 553.2 1893.5 553.6 1892.3 554 1891.1 554.3 1888.2 554.7 1887.4 555.1 1885.5 555.4 1883.2 555.8 1883.6 556.2 1881.4 556.6 1880.5 556.9 1877.5 557.3 1876.8 557.7 1875.2 558.1 1874.4 558.4 1871.2 558.8 1870.4 559.5 1869.3 560.2 1866.8 560.9 1866.6 561.7 1865.7 562.4 1863.4 563.1 1862.6 563.8 1861 564.5 1858.6 565.2 1857.5 566 1857.8 566.7 1854.6 567.4 1853.4 568.6 1851.6 569.9 1851 571.1 1849.9 572.3 1851 573.5 1849.5 574.8 1849 576 1848.4 576.5 1848.9 577 1851.2 577.5 1851.7 578 1852.9 578.5 1855.7 579 1857.1 579.5 1858.7 580 1859 580.5 1861.2 581 1861.8 581.5 1864.8 582 1866.1 582.5 1866 583.1 1869.1 583.7 1868.6 584.3 1869.8 584.9 1872.8 585.5 1873.2 586.1 1875.2 586.7 1876.9 587.3 1876.8 587.9 1880.1 588.5 1880.3 589.1 1882.2 589.7 1883.4 590.3 1885.8 590.9 1887.3 591.5 1887.5 592.1 1888.5 592.7 1890.4 593.3 1892.2 593.6 1889.8 594 1888.5 594.3 1888.6 594.6 1887 595 1886.2 595.3 1884.8 595.7 1883 596 1880.2 596.3 1878.2 596.7 1877.1 597 1876 597.4 1874.7 597.7 1873.3 598 1871.3 598.4 1871.1 598.7 1868.1 598.8 1870.1 598.8 1872.7 598.9 1874 598.9 1874.2 599 1875.6 599 1878.6 599.1 1878 599.2 1879.8 599.2 1882.4 599.3 1883.9 599.3 1884.5 599.4 1885.7 599.4 1887.6 599.5 1890.6 599.6 1891.3 599.6 1894.2 599.7 1895.2 599.7 1897.2 599.8 1896.2 599.8 1898.2 599.9 1899.2 599.9 1901.8 600 1903.1 600.1 1903.9 600.1 1906.7 600.2 1907 600.2 1909.1 600.3 1910.4 600.3 1913.4 600.4 1913.9 600.5 1915 600.5 1915.9 600.6 1918.5 600.6 1920.5 600.7 1922.1 600.7 1924.3 600.8 1925.5 601.4 1925.5 602.1 1926.6 602.7 1929.7 603.3 1931.2 604 1931.9 604.6 1934.2 605.2 1934.9 605.9 1935.6 606.5 1936.7 607.1 1937.8 607.8 1940.8 608.4 1942.9 608.7 1944.4 609.1 1944.8 609.4 1946.8 609.7 1949 610.1 1950.2 610.4 1951.1 610.7 1952.1 611 1953.9 611.4 1954.5 611.7 1956 612 1958.8 612.4 1961.1 612.7 1961.4 613 1962.6 613.4 1963.9 613.7 1965.7 614 1968.1 614.4 1968.6 614.7 1971.4 615 1970.8 615.3 1972.8 615.7 1974.8 616 1976 616.3 1978.6 616.7 1980.1 617 1981.8 618.5 1981.6 620.1 1980.7 621.6 1982.7 623.1 1983.3 624.6 1983.7 626.2 1983.8 627.7 1985.5 629.2 1986.4 630.8 1984.6 632.3 1986.3 633.9 1985.9 635.4 1986.5 637 1987.8 638.5 1988.3 639.8 1988.3 641.1 1988 642.4 1990.8 643.7 1989.8 645 1991.1 646.2 1993.2 647.5 1992.7 648.8 1993.5 650.1 1996.1 651.4 1997 651.7 1993.8 652 1992.4 652.3 1990.6 652.6 1988.7 652.9 1987.4 653.2 1987.8 653.5 1983.9 653.9 1982.8 654.2 1981.1 654.5 1979.3 654.8 1978.9 655.1 1977.9 655.4 1976.6 655.7 1974.5 657.3 1974.5 659 1971.9 660.6 1972.1 662.2 1973.3 662.4 1969.5 662.5 1968.5 662.7 1967.6 662.9 1965.5 663 1964.8 663.2 1962 663.4 1961 663.5 1961.4 663.7 1957.7 663.9 1958.2 664 1954.8 664.2 1955.5 664.4 1953.2 664.5 1951.6 664.7 1948.8 664.9 1947.1 665 1947.4 665.2 1944.4 665.4 1942.9 665.5 1943.1 665.7 1941.7 665.9 1938.1 666 1939 666.2 1936.4 666.4 1934.5 666.5 1932.3 666.7 1931.5 666.9 1931.6 667 1928.3 667.2 1926.4 667.4 1924.9 667.5 1923.4 667.7 1922.5 667.9 1922.4 668 1918.8 668.2 1917.6 668.4 1918 668.5 1916.7 668.7 1915.1 669 1911.8 669.4 1910.6 669.7 1910.7 670.1 1908 670.4 1907.1 670.8 1904.6 671.1 1902.4 671.5 1901.8 671.8 1901.4 672.1 1900 672.5 1898 672.8 1896.2 673.2 1895 673.5 1893.3 673.9 1892 674.2 1891.3 674.5 1888.2 674.9 1887.8 675.2 1887.2 675.6 1885.5 675.9 1882.3 676.3 1882.9 676.6 1881.1 677 1877.9 677.3 1876.7 678.6 1877.4 679.9 1877.9 681.1 1881.1 682.4 1880.5 683.7 1882.6 683.9 1879.1 684 1877.4 684.2 1878.1 684.4 1876.4 684.5 1875.4 684.7 1873.1 684.9 1871.2 685.1 1870.4 685.2 1867.1 685.4 1866.8 685.6 1865 685.7 1862.8 685.9 1862.5 686.1 1860.2 686.2 1859.2 686.4 1857.4 686.6 1855.8 686.7 1854.4 686.9 1853.5 687.1 1853 687.3 1851.4 687.4 1849.7 687.6 1848.1 687.8 1845.2 687.9 1845.5 688.1 1842.2 689.1 1840.5 690 1840.2 691 1839.5 692 1837.2 693 1836.7 693.9 1834.5 694.9 1835 695.9 1832.4 696.8 1831.1 697.8 1830 698.2 1832.4 698.6 1834.2 698.9 1834.5 699.3 1835.8 699.7 1837.8 700.1 1837.9 700.4 1840.3 700.8 1842.9 701.2 1844.3 701.6 1843.9 701.9 1847.5 702.3 1847.8 702.7 1850.9 703.1 1850.8 703.4 1851.9 703.8 1854.3 704.2 1856.7 705 1854.1 705.9 1853.8 706.7 1852 707.5 1849.6 708.3 1848 709.2 1847.1 710 1845.4 710.8 1846.8 711.5 1848.9 712.3 1850.8 713.1 1851.5 713.8 1851.7 714.6 1853.3 715.4 1855.1 716.2 1857.1 716.9 1857.2 717.7 1858.5 718.5 1860.5 719.2 1861.8 720 1862.5 720.4 1865.3 720.7 1867.8 721.1 1868.4 721.4 1870.4 721.8 1872.2 722.1 1873.7 722.5 1875.4 722.8 1875.7 723.2 1877.9 723.5 1877.9 723.9 1881.4 724.2 1881.7 724.6 1883.4 724.9 1886 725.3 1886 725.6 1887.3 726 1890.4 726.8 1888.6 727.6 1886 728.5 1884.6 729.3 1884.1 730.1 1882 730.9 1882.8 731.7 1879.9 732.5 1878.8 733.4 1877.9 734.2 1876.9 735 1875.4 735.7 1874.6 736.4 1873.3 737 1871.3 737.7 1869.1 738.4 1870 739.1 1867.9 739.8 1864.9 740.5 1864.5 741.1 1863.9 741.8 1863.2 742.5 1859.4 743.2 1857.9 743.9 1857.8 744.5 1856.2 745.2 1856.1 745.9 1854.5 747.3 1852.5 748.7 1851.9 750.1 1851.5 751.5 1851.5 752.9 1848.9 754.3 1848.6 755.7 1847 757.1 1847.7 758.5 1845.3 759.9 1846.8 760.7 1847.2 761.5 1848.7 762.3 1848.8 763.1 1850.6 763.9 1852.6 764.7 1855 765.5 1855.6 766.3 1856.3 767.1 1859.6 767.9 1860.1 769 1858.6 770.2 1856.6 771.3 1855.7 772.5 1856.2 773.6 1853 774.8 1852.9 775.9 1852 777.3 1851.9 778.8 1853.5 780.2 1854.5 781.6 1854.9 783 1855.2 784.5 1854.4 785.9 1854.6 786.6 1856.9 787.4 1857.9 788.1 1858.9 788.9 1862 789.6 1861.6 790.4 1864.5 791.1 1866.2 791.9 1865.4 792.6 1868.8 793.4 1868.8 794.1 1869.6 794.9 1870.9 795.8 1869.2 796.7 1869 797.6 1867.4 798.6 1867.3 799.5 1865.9 800.4 1862.5 801.3 1862.1 802.2 1860.7 803.1 1858.9 804.1 1857.7 805 1856.4 805.9 1856.2 806.8 1854 807.7 1852.1 808.6 1851.2 809.5 1850.5 810.4 1849.5 811.4 1847.4 812.3 1847.3 813.2 1844.8 814.1 1844.7 815 1843.3 815.9 1840.9 817.5 1841.6 819.1 1839.8 820.7 1839.4 822.3 1838.8 823.9 1838 824.4 1836.1 825 1833.6 825.5 1834 826 1832.8 826.5 1830.3 827.1 1829.1 827.6 1826.8 828.1 1827 828.6 1825 829.2 1822.3 829.7 1822.4 830.2 1821.4 830.7 1818.2 831.3 1818.5 831.8 1815.7 832.8 1813.6 833.8 1813.8 834.8 1811.5 835.8 1811.3 836.8 1809.7 837.8 1807.2 838.8 1807 839.8 1806.6 840.8 1804.5 841.8 1803.6 842.8 1803.3 843.8 1801.1 844.8 1800.1 845.8 1799.2 846.8 1798.7 847.8 1795.9 848.8 1796.9 849.8 1800 850.8 1800.7 851.8 1801.4 852.8 1804.2 853.8 1805.5 854.8 1805.9 855.8 1808.4 856.8 1809.3 857.8 1810.3 858.3 1810.6 858.8 1811.3 859.3 1814.5 859.8 1816 860.3 1816.5 860.8 1818.2 861.3 1819.9 861.8 1820.5 862.3 1823.1 862.8 1824.1 863.3 1825.1 863.8 1825.8 864.3 1828.4 864.8 1829.2 865.1 1828.8 865.5 1825.9 865.8 1825 866.1 1823 866.5 1822.1 866.8 1821.1 867.1 1818.4 867.5 1816.8 867.8 1816.5 868.1 1814.3 868.5 1813.6 868.8 1811.2 869.1 1809.6 869.5 1809.3 869.8 1808.8 871.5 1808.5 873.1 1807.4 874.8 1806.9 876.5 1805.9 878.1 1806.3 879.8 1806.2 880.8 1809 881.8 1808.1 882.8 1811.5 883.8 1811.4 884.8 1812.5 885.8 1813.3 886.8 1816.3 887.8 1815.5 888.8 1817.7 889.8 1818.7 891 1817 892.3 1816.2 893.5 1817.3 894.8 1816 896 1814.9 897.3 1814.5 898.5 1811.5 899.8 1812.2 901.3 1811.7 902.8 1809.7 904.3 1809.7 905.8 1810.4 907.2 1808.1 908.7 1808.6 910.2 1806.5 911.7 1807.1 913.2 1806.4 914.7 1807.4 916.2 1807.4 917.7 1809 919.2 1809 920.7 1808.7 922.2 1809.5 923.7 1809.2 925.2 1810.5 926.7 1809.4 928.2 1810.5 929.7 1810.9 931.1 1811 932.6 1810.7 934 1811.6 935.4 1813.4 936.8 1812.8 938.3 1814.8 939.7 1814.7 941.1 1816.4 942.6 1816.7 944 1817 945.4 1816.7 946.8 1816.4 948.3 1818.3 949.7 1819.3 951 1820.8 952.2 1819.9 953.5 1820.8 954.8 1823.9 956.1 1824.3 957.3 1824.7 958.6 1826.3 959.9 1825.8 961.2 1827.8 962.4 1829.1 963.7 1830 964.9 1829.8 966.1 1830.8 967.3 1833 968.5 1834.7 969.7 1833.8 970.9 1834.4 972.1 1835.6 973.3 1838.4 974.5 1838.4 975.7 1839.6 977 1841.8 978.4 1841.7 979.7 1841.6 981 1843.6 982.4 1842.6 983.7 1844.1 985.2 1844.6 986.7 1842.6 988.2 1841.6 989.7 1842.2 991.1 1841.1 992.6 1842.2 994.1 1839.3 995.6 1840.5 996.4 1838.1 997.2 1837.8 998 1835.6 998.8 1834.8 999.6 1832.6 1000.4 1831.7 1001.2 1830.4 1002 1829 1002.8 1827.7 1003.6 1826.4 1004.4 1825 1005.2 1823.7 1006 1822.4 1006.8 1821 1007.6 1819.7 1008.3 1818.4 1009 1817 1009.7 1815.7 1010.4 1814.4 1011.1 1813 1011.8 1811.7 1012.5 1810.4 1013.2 1809 1014 1807.7 1014.7 1806.3 1015.4 1805 1016.1 1803.7 1016.8 1802.3 1017.5 1801 1018.2 1799.7 1018.9 1798.3 1019.6 1797 1020.5 1795.8 1021.5 1794.6 1022.4 1793.4 1023.4 1792.2 1024.3 1791 1025.3 1789.8 1026.2 1788.6 1027.2 1787.4 1028.1 1786.2 1029.1 1785 1030 1783.8 1031.3 1782.8 1032.5 1781.8 1033.8 1780.8 1035.1 1779.8 1036.4 1778.8 1037.6 1777.8 1038.9 1776.8 1040.2 1775.8 1041.5 1774.8 1042.7 1773.8 1044 1772.8 1045.5 1773.3 1046.9 1773.7 1048.4 1774.2 1049.8 1774.6 1051.3 1775.1 1052.7 1775.5 1054.2 1776 1055.6 1776.4 1057.1 1776.9 1058.5 1777.3 1060 1777.8 1061.4 1778.7 1062.9 1779.5 1064.3 1780.4 1065.7 1781.2 1067.1 1782.1 1068.6 1782.9 1070 1783.8 1071.7 1783.9 1073.4 1784.1 1075.1 1784.2 1076.8 1784.4 1078.5 1784.5 1080.2 1784.7 1081.9 1784.8 1083 1783.6 1084.1 1782.5 1085.1 1781.3 1086.2 1780.2 1087.3 1779 1088.4 1777.9 1089.4 1776.7 1090.5 1775.6 1091.6 1774.4 1092.7 1773.3 1093.7 1772.1 1094.8 1771 1095.9 1769.8 1097.4 1769 1098.9 1768.3 1100.4 1767.5 1101.9 1766.8 1103.4 1766 1104.9 1765.3 1106.4 1764.5 1107.9 1763.8 1109.2 1764.6 1110.6 1765.4 1111.9 1766.1 1113.2 1766.9 1114.6 1767.7 1115.9 1768.5 1117.2 1769.2 1118.6 1770 1119.9 1770.8 1121.4 1770.9 1122.9 1771 1124.4 1771.2 1125.9 1771.3 1127.4 1771.4 1128.9 1771.5 1130.4 1771.7 1131.9 1771.8 1133.1 1772.7 1134.3 1773.6 1135.6 1774.6 1136.8 1775.5 1138 1776.4 1139.2 1777.3 1140.5 1778.3 1141.7 1779.2 1142.9 1780.1 1144.1 1781 1145.4 1782 1146.6 1782.9 1147.8 1783.8 1148.7 1785.1 1149.5 1786.4 1150.4 1787.6 1151.2 1788.9 1152.1 1790.2 1152.9 1791.5 1153.8 1792.8 1154.7 1794 1155.5 1795.3 1156.4 1796.6 1157.2 1797.9 1158.1 1799.1 1158.9 1800.4 1159.8 1801.7 1160.7 1803 1161.5 1804.3 1162.4 1805.6 1163.2 1806.8 1164.1 1808.1 1164.9 1809.4 1165.8 1810.7 1166.7 1812 1167.5 1813.3 1168.4 1814.6 1169.2 1815.8 1170.1 1817.1 1170.9 1818.4 1171.8 1819.7 1173.2 1820.4 1174.7 1821.1 1176.1 1821.8 1177.5 1822.6 1178.9 1823.3 1180.4 1824 1181.8 1824.7 1183.1 1823.9 1184.3 1823.1 1185.6 1822.2 1186.9 1821.4 1188.2 1820.6 1189.4 1819.8 1190.7 1819 1192 1818.2 1193.3 1817.3 1194.5 1816.5 1195.8 1815.7 1196.6 1817 1197.5 1818.4 1198.3 1819.7 1199.1 1821 1200 1822.4 1200.8 1823.7 1201.6 1825 1202.5 1826.4 1203.3 1827.7 1204.1 1829 1205 1830.4 1205.8 1831.7 1206.6 1833 1207.5 1834.4 1208.3 1835.7 1209.1 1837 1210 1838.4 1210.8 1839.7 1211.6 1841 1212.5 1842.4 1213.3 1843.7 1214.1 1845 1215 1846.4 1215.8 1847.7 1216.1 1846.2 1216.4 1844.8 1216.7 1843.3 1217.1 1841.8 1217.4 1840.3 1217.7 1838.9 1218 1837.4 1218.3 1835.9 1218.6 1834.4 1219 1833 1219.3 1831.5 1219.6 1830 1219.9 1828.5 1220.2 1827.1 1220.5 1825.6 1220.9 1824.1 1221.2 1822.6 1221.5 1821.2 1221.8 1819.7 1222.3 1818.2 1222.8 1816.7 1223.3 1815.2 1223.8 1813.7 1224.3 1812.2 1224.8 1810.7 1225.3 1809.2 1225.8 1807.7 1226.2 1806.2 1226.7 1804.7 1227.2 1803.2 1227.7 1801.7 1228.2 1800.2 1228.7 1798.7 1229.2 1797.2 1229.7 1795.7 1230.6 1794.5 1231.6 1793.3 1232.5 1792.1 1233.4 1790.9 1234.4 1789.7 1235.3 1788.5 1236.2 1787.3 1237.2 1786.2 1238.1 1785 1239 1783.8 1240 1782.6 1240.9 1781.4 1241.8 1780.2 1242.8 1779 1243.7 1777.8 1244.8 1776.8 1246 1775.8 1247.1 1774.8 1248.3 1773.8 1249.4 1772.8 1250.6 1771.8 1251.7 1770.8 1252.8 1769.8 1254 1768.8 1255.1 1767.8 1256.3 1766.8 1257.4 1765.8 1258.6 1764.8 1259.7 1763.8 1261 1763 1262.4 1762.2 1263.7 1761.4 1265 1760.6 1266.4 1759.8 1267.7 1759 1269 1758.2 1270.4 1757.4 1271.7 1756.6 1273 1755.8 1274.4 1755 1275.7 1754.2 1277 1753.4 1278.4 1752.6 1279.7 1751.8 1281.1 1751.2 1282.6 1750.7 1284 1750.1 1285.4 1749.5 1286.8 1748.9 1288.3 1748.4 1289.7 1747.8 1291.1 1747.2 1292.6 1746.7 1294 1746.1 1295.4 1745.5 1296.8 1744.9 1298.3 1744.4 1299.7 1743.8 1301.1 1743.2 1302.5 1742.7 1304 1742.1 1305.4 1741.5 1306.8 1740.9 1308.2 1740.4 1309.7 1739.8 1311.1 1739.2 1312.5 1738.7 1313.9 1738.1 1315.3 1737.5 1316.8 1736.9 1318.2 1736.4 1319.6 1735.8 1321.1 1735.7 1322.6 1735.5 1324.1 1735.4 1325.6 1735.3 1327.1 1735.2 1328.6 1735 1330.1 1734.9 1331.6 1734.8 1333.3 1735.1 1335 1735.5 1336.6 1735.8 1338.3 1736.2 1340 1736.5 1341.3 1737.5 1342.6 1738.4 1343.9 1739.4 1345.2 1740.4 1346.5 1741.3 1347.8 1742.3 1349.1 1743.3 1350.4 1744.3 1351.7 1745.2 1353 1746.2 1354.5 1746.2 1356 1746.2 1357.5 1746.2 1359 1746.2 1360.5 1746.2 1362 1746.2 1363.6 1746.2 1365.1 1746.2 1366.6 1746.2 1368.1 1746.2 1369.6 1746.2 1371.1 1746.2 1372.6 1746.2 1374.2 1746.8 1375.7 1747.5 1377.3 1748.1 1378.8 1748.7 1380.4 1749.3 1381.9 1750 1383.5 1750.6 1385.1 1750.9 1386.6 1751.2 1388.2 1751.5 1389.8 1751.8 1391.4 1752.1 1392.9 1752.3 1394.5 1752.6 1396.1 1752.9 1397.7 1753.2 1399.2 1753.5 1400.8 1753.8 1402 1754.8 1403.2 1755.7 1404.4 1756.7 1405.6 1757.7 1406.9 1758.6 1408.1 1759.6 1409.3 1760.6 1410.5 1761.5 1411.7 1762.5 1413.3 1762.8 1414.8 1763.1 1416.4 1763.4 1417.9 1763.8 1419.5 1764.1 1421 1764.4 1422.6 1764.7 1423.7 1763.6 1424.8 1762.5 1425.9 1761.4 1426.9 1760.3 1428 1759.3 1429.1 1758.2 1430.2 1757.1 1431.3 1756 1432.7 1755.5 1434.2 1755 1435.6 1754.6 1437.1 1754.1 1438.5 1753.6 1440 1753.1 1441.4 1752.7 1442.9 1752.2 1444.3 1751.7 1445.9 1751.7 1447.4 1751.7 1449 1751.7 1450.5 1751.7 1452.1 1751.7 1453.6 1751.7 1455.2 1751.7 1456.3 1752.8 1457.4 1753.9 1458.5 1755 1459.5 1756 1460.6 1757.1 1461.7 1758.2 1462.8 1759.3 1463.9 1760.4 1465 1761.5 1466.1 1762.6 1467.1 1763.6 1468.2 1764.7 1469.3 1765.8 1470.4 1766.9 1471.5 1767.9 1472.7 1769 1473.8 1770 1475 1771 1476.1 1772 1477.3 1773.1 1478.4 1774.1 1479.5 1775.1 1480.7 1776.1 1481.8 1777.2 1483 1778.2 1484.1 1779.2 1485.2 1780.2 1486.4 1781.3 1487.5 1782.3 1488.7 1783.3 1489.8 1784.3 1491 1785.4 1492.1 1786.4 1493.3 1787.4 1494.5 1788.3 1495.7 1789.3 1496.9 1790.3 1498.1 1791.2 1499.3 1792.2 1500.5 1793.2 1501.7 1794.1 1502.9 1795.1 1504.2 1796.1 1505.4 1797 1506.6 1798 1507.8 1799 1509 1799.9 1510.2 1800.9 1511.4 1801.9 1512.6 1802.8 1513.8 1803.8 1514.9 1804.9 1516 1806 1517.1 1807.1 1518.2 1808.1 1519.2 1809.2 1520.3 1810.3 1521.4 1811.4 1522.5 1812.5 1523.6 1813.6 1524.7 1814.7 1525.8 1815.7 1526.9 1816.8 1528 1817.9 1529.1 1819 1530.1 1820.1 1531.2 1821.2 1532.3 1822.2 1533.4 1823.3 1534.5 1824.4 1535.6 1825.5 1536.9 1826.4 1538.2 1827.3 1539.4 1828.2 1540.7 1829.1 1542 1830 1543.3 1830.9 1544.5 1831.8 1545.8 1832.7 1547.1 1833.6 1548.4 1834.5 1549.6 1835.4 1550.9 1836.3 1552.2 1837.2 1553.5 1838.1 1554.7 1839 1556 1839.9 1557.3 1840.8 1558.4 1841.9 1559.5 1843 1560.5 1844 1561.6 1845.1 1562.7 1846.2 1563.8 1847.3 1564.9 1848.4 1566 1849.5 1567 1850.5 1568.1 1851.6 1569.2 1852.7 1570.3 1853.8 1571.6 1854.7 1572.9 1855.5 1574.2 1856.4 1575.5 1857.3 1576.8 1858.1 1578.1 1859 1579.4 1859.9 1580.8 1860.7 1582.1 1861.6 1583.4 1862.5 1584.7 1863.3 1586 1864.2 1587.3 1865.1 1588.6 1865.9 1589.9 1866.8 1590.7 1868.1 1591.6 1869.5 1592.4 1870.8 1593.3 1872.2 1594.1 1873.5 1594.9 1874.8 1595.8 1876.2 1596.6 1877.5 1597.4 1878.8 1598.3 1880.2 1599.1 1881.5 1600 1882.9 1600.8 1884.2 1601.6 1885.6 1602.4 1886.9 1603.2 1888.3 1604 1889.7 1604.9 1891 1605.7 1892.4 1606.5 1893.7 1607.3 1895.1 1608.1 1896.5 1608.9 1897.8 1609.7 1899.2 1610.5 1900.5 1611.4 1901.9 1612.2 1903.3 1613 1904.6 1613.8 1906 1614.5 1907.4 1615.2 1908.9 1616 1910.3 1616.7 1911.8 1617.4 1913.2 1618.2 1914.7 1618.9 1916.1 1619.6 1917.5 1620.3 1919 1621 1920.4 1621.8 1921.9 1622.5 1923.3 1623.4 1924.6 1624.3 1925.8 1625.2 1927.1 1626.1 1928.4 1627 1929.6 1628 1930.9 1628.9 1932.2 1629.8 1933.4 1630.7 1934.7 1631.6 1936 1632.5 1937.2 1633.4 1938.5 1634.8 1939.3 1636.2 1940.1 1637.5 1940.9 1638.9 1941.7 1640.3 1942.5 1641.7 1943.2 1643.1 1944 1644.5 1944.8 1645.8 1945.6 1647.2 1946.4 1648.6 1947.2 1650 1947.8 1651.4 1948.4 1652.7 1949 1654.1 1949.6 1655.5 1950.2 1656.9 1950.8 1658.3 1951.4 1659.7 1952 1661 1952.6 1662.4 1953.2 1663.8 1953.8 1664.7 1955 1665.7 1956.3 1666.6 1957.5 1667.5 1958.7 1668.4 1959.9 1669.4 1961.2 1670.3 1962.4 1671.4 1961.1 1672.5 1959.8 1673.5 1958.5 1674.6 1957.2 1675.7 1955.9 1677 1956.9 1678.2 1957.9 1679.5 1958.9 1680.7 1959.9 1682 1960.9 1683.2 1961.9 1684.5 1963 1685.7 1964 1687 1965 1688.2 1966 1689.5 1967 1690.7 1968 1692 1969" fill="none" stroke="#000000" stroke-width="6.5" stroke-linejoin="round" stroke-linecap="round"/>
<path d="M70 1897.3 70.5 1896.2 71.2 1895.1 71.9 1893.2 72.8 1891.4 73.8 1890.2 74.9 1889.5 76 1888.9 77.1 1888.9 78.3 1888.8 79.6 1889.8 81 1890.4 82.4 1891.4 83.7 1892.6 84.9 1894 86 1896 86.8 1897 87.5 1898.1 88.1 1899.3 88.7 1900 89.3 1901.4 89.9 1903.1 90.4 1904.7 90.9 1906.5 91.5 1908.2 92 1909.2 92.4 1911.1 92.7 1912.7 93 1914.4 93.3 1916 93.6 1918.3 93.9 1919.9 94.2 1922.8 94.5 1924.8 94.8 1926.3 95.1 1927.8 95.4 1929.9 95.8 1930.9 96.1 1932.1 96.6 1932.7 97 1932.6 97.5 1932.4 97.9 1932.1 98.4 1931.2 98.9 1929.9 99.5 1928.8 100 1928 100.6 1925.6 101.2 1924 101.8 1922.7 102.4 1920.5 103 1918.9 103.6 1916.9 104.2 1914.8 104.8 1913.6 105.4 1911 106 1909.5 106.5 1908 106.9 1907.1 107.4 1905.5 107.9 1904.2 108.4 1903.2 108.9 1901.4 109.4 1900.2 109.9 1899.1 110.4 1896.8 110.9 1895.3 111.4 1894 111.9 1893.1 112.4 1891.5 112.9 1889.6 113.4 1888.2 113.9 1886.6 114.3 1885.4 114.8 1883.5 115.2 1882.7 115.6 1881.4 116 1880.1 116.4 1878.3 116.7 1877.1 117.1 1874.6 117.4 1873.4 117.6 1872.6 117.9 1870.9 118.2 1869 118.4 1868.1 118.6 1866.3 118.9 1865 119.1 1862.9 119.4 1861.4 119.6 1860.1 119.9 1858.3 120.2 1857.1 120.5 1856.1 120.8 1854 121.2 1852.2 121.6 1850.7 122 1849.4 122.4 1848.6 122.9 1846.7 123.4 1845.2 123.9 1843.6 124.4 1843 125 1841.1 125.6 1839.4 126.1 1837.8 126.7 1836.4 127.3 1835.1 127.9 1834.2 128.5 1832.2 129.2 1830.7 129.8 1829.7 130.4 1828 131 1827.3 131.6 1825 132.2 1824 132.8 1822.8 133.4 1821 134 1820.2 134.6 1818.2 135.1 1816.6 135.7 1815.3 136.3 1813.5 136.8 1812.4 137.4 1810.8 137.9 1809.9 138.5 1808.4 139 1806.6 139.6 1804.7 140.2 1803.5 140.7 1802 141.3 1800.5 141.9 1799.1 142.4 1798.3 143 1796.2 143.6 1794.7 144.2 1794.2 144.8 1792.5 145.4 1791.5 146 1789.6 146.7 1788.6 147.4 1786.9 148.1 1785.6 148.8 1784 149.6 1782.3 150.3 1780.4 151.1 1779.1 151.8 1778.3 152.6 1776.9 153.3 1775.5 154.1 1773.6 154.8 1772.5 155.6 1771.3 156.3 1769.9 157.1 1768.8 157.8 1767.3 158.5 1766.2 159.2 1765.1 159.9 1763.6 160.9 1762.6 161.9 1761.2 162.9 1759 163.8 1758.6 164.7 1757.4 165.7 1756 166.6 1754.3 167.5 1754.1 168.5 1752.2 169.6 1751.9 170.7 1750.3 171.9 1748.4 172.8 1747.5 173.7 1746.9 174.7 1745.8 175.7 1744.9 176.7 1744 177.7 1742.2 178.7 1740.9 179.8 1740.7 180.9 1738.6 182 1738.3 183.1 1736.4 184.2 1736 185.3 1734.8 186.4 1733.7 187.6 1732.2 188.7 1731.4 189.8 1729.5 190.8 1728.9 191.8 1727.5 192.8 1726.9 193.9 1725.7 194.9 1724.3 196 1723.2 197 1721.6 198.1 1720.4 199.1 1719.8 200.2 1718.6 201.3 1717.8 202.3 1716.4 203.4 1714.8 204.5 1713.9 205.6 1713.3 206.6 1711.9 207.7 1710.4 208.7 1710.1 209.8 1709.1 211 1707.3 212.2 1706.6 213.3 1705.4 214.5 1704.7 215.7 1703.2 216.9 1702.1 218 1701.3 219.2 1700.8 220.4 1698.9 221.6 1697.9 222.7 1697.5 223.9 1696.8 225.1 1695.5 226.3 1694.5 227.4 1694 228.6 1693 229.8 1691.5 231.1 1691.3 232.5 1689.8 233.8 1689 235.1 1688.7 236.5 1687.5 237.8 1687.1 239.1 1685.8 240.5 1685.7 241.8 1684.3 243.1 1683.5 244.5 1683.1 245.8 1682.2 247.1 1681.6 248.5 1681.2 249.8 1680.1 251.1 1678.6 252.3 1678 253.6 1677.3 254.9 1676.3 256.2 1675.6 257.4 1674.4 258.7 1673.1 260 1672.3 261.3 1671.9 262.5 1670.5 263.8 1670 265 1669.4 266.2 1668.2 267.4 1667.5 268.6 1666.7 269.7 1665.7 271.3 1665.5 272.9 1664.4 274.5 1664.2 276.1 1663.1 277.6 1663.3 279.1 1662.8 280.5 1662.2 281.9 1661.6 283.2 1660.8 284.5 1660.9 285.7 1659.8 287.1 1659 288.3 1657.3 289.4 1655.9 290.4 1654.6 291.4 1653.9 292.4 1651.9 293.5 1651.4 294.5 1649.7 295.7 1649 297.1 1647.9 298.6 1647.4 300.1 1646.3 301.7 1646.1 303.3 1646.2 304.8 1645.1 306.3 1645.3 307.7 1644.7 309.5 1644.5 311.2 1644 312.8 1643.9 314.4 1645 316.1 1645.4 317.7 1646.2 318.7 1647 319.8 1648 320.9 1648.3 321.9 1649.9 323 1651.1 324.1 1652.5 325.1 1654.3 326 1655.5 326.9 1657.1 327.7 1657.5 328.5 1659.5 329.1 1660.9 329.6 1662.4 330.1 1663.8 330.6 1665.4 331 1666.4 331.5 1668.6 332 1669.7 332.6 1671.5 333.2 1673.2 333.8 1674.4 334.4 1675.5 335.1 1676.8 335.8 1678.4 336.5 1680.2 337.2 1682.2 337.8 1683.6 338.5 1684.7 339.1 1686.2 339.7 1688.2 340.2 1689.1 340.7 1690.6 341.1 1691.6 341.5 1693.1 341.9 1694.9 342.2 1696.4 342.6 1697.8 343.1 1699 343.5 1701.2 344 1702.5 344.5 1703.8 345.1 1705.6 345.5 1707.7 345.9 1709 346.4 1710.2 346.8 1711.2 347.3 1712.2 347.8 1713.3 348.3 1714.9 348.8 1716.2 349.3 1718.4 349.9 1719.8 350.4 1721.2 350.9 1722.1 351.5 1723.7 352 1725.4 352.5 1727.7 353.1 1728.6 353.6 1730.9 354.1 1732.6 354.6 1734.2 355 1736 355.3 1736.6 355.7 1738.3 356 1739.4 356.4 1740.9 356.7 1742.3 357.1 1744.2 357.4 1745.6 357.8 1747.2 358.1 1749.7 358.5 1750.7 358.8 1752.9 359.2 1754.4 359.5 1756.1 359.9 1757.7 360.2 1759.6 360.6 1761.2 360.9 1762.6 361.3 1764 361.6 1765.7 362 1767.3 362.3 1768.6 362.7 1769.9 363 1771 363.3 1773 363.7 1773.9 364 1774.7 364.6 1776.9 365.2 1779.7 365.8 1781.2 366.4 1783.4 367 1785.7 367.6 1787.8 368.2 1789.1 368.7 1790.8 369.3 1792.4 369.9 1793.4 370.4 1795.4 371 1795.4 371.5 1797.1 372.1 1796.6 372.6 1796.8 373.1 1797.3 373.6 1796.9 374 1795.7 374.5 1795.2 375 1794.1 375.4 1793.2 375.9 1791.3 376.3 1790.4 376.7 1788.9 377.2 1786.9 377.6 1785.1 378 1783.1 378.4 1780.4 378.9 1778.6 379.3 1776.3 379.7 1773.6 379.9 1772 380.1 1771.3 380.3 1770.4 380.4 1768.4 380.6 1767.4 380.8 1766.3 381 1764.5 381.2 1762.5 381.4 1761.5 381.6 1759.6 381.7 1758.6 381.9 1756.8 382.1 1754.8 382.3 1753.7 382.5 1751.7 382.6 1749.8 382.8 1748.5 383 1746.9 383.2 1745.2 383.4 1743.4 383.5 1741.5 383.7 1739.8 383.9 1738 384 1736.3 384.2 1735.1 384.4 1732.8 384.6 1730.9 384.7 1730 384.9 1728.2 385.1 1726.7 385.2 1725.3 385.4 1723.5 385.5 1722.1 385.7 1720.6 385.8 1720 386 1718.9 386.3 1716.7 386.5 1714.2 386.7 1713.2 386.9 1711.3 387.2 1709.3 387.4 1707.2 387.6 1706.5 387.8 1704.7 388 1703.3 388.2 1701.2 388.4 1700.6 388.6 1698.5 388.8 1697.6 389 1696 389.2 1694.9 389.4 1694.1 389.6 1692.7 389.9 1691.4 390.1 1689.6 390.4 1688.4 390.7 1687.2 391.1 1685 391.4 1683.8 391.8 1682.7 392.2 1680.8 392.6 1679.3 393 1677.1 393.4 1675.9 393.8 1674.4 394.2 1672.8 394.6 1671 395.1 1669.2 395.5 1667.6 396 1667 396.5 1665.7 397 1663.7 397.5 1663 398 1661.4 398.5 1660.5 399.4 1659.1 400.3 1657 401.4 1656 402.4 1654.4 403.5 1653.5 404.5 1652 405.6 1651.3 406.6 1650.4 407.6 1650.1 408.6 1648.4 409.5 1648.2 410.8 1646.2 411.9 1646 412.9 1644.3 413.9 1643.3 414.9 1642.4 416.1 1641.9 417.4 1640.2 418.2 1639.4 418.9 1637.9 419.6 1636.4 420.4 1635.4 421.1 1634.2 421.9 1633.4 422.8 1631.2 423.6 1629.9 424.6 1629.2 425.7 1627.2 426.8 1626.8 428.1 1625 429.5 1624.3 430.6 1623.7 431.7 1623.2 432.9 1621.8 434.2 1621.9 435.5 1620.6 436.9 1620.6 438.3 1619.3 439.7 1619.5 441.2 1618.4 442.7 1617.9 444.2 1617.2 445.8 1617 447.4 1616.5 448.9 1616.7 450.6 1615.9 452.2 1615.2 453.8 1615.4 455.4 1614.2 456.8 1613.9 458.2 1614.3 459.7 1613.9 461.2 1613.4 462.6 1613.3 464.2 1612.1 465.7 1612.7 467.2 1612.2 468.8 1611.9 470.4 1611.9 471.9 1610.9 473.5 1610.7 475.1 1610.4 476.7 1610.6 478.3 1610.4 479.9 1610.2 481.5 1609.8 483 1610 484.6 1609.8 486.2 1609.6 487.7 1608.6 489.2 1608.6 490.8 1608.4 492.3 1608.3 493.9 1608.4 495.4 1607.9 496.9 1608.2 498.5 1607.8 500 1607.6 501.5 1607.8 503.1 1607.9 504.6 1607.1 506.2 1607.1 507.7 1607.6 509.2 1606.7 510.8 1606.4 512.3 1606.4 513.8 1606.9 515.4 1606.6 516.9 1606.7 518.5 1606.1 520 1605.4 521.6 1605.5 523.1 1605.7 524.7 1605.2 526.4 1604.8 528 1604.8 529.7 1604.7 531.3 1604.3 533 1604.2 534.6 1603.7 536.3 1603.3 537.9 1603.9 539.5 1603.6 541.1 1603.1 542.6 1602.5 544.2 1602.5 545.6 1602.5 547.1 1602.7 548.5 1602.1 549.8 1602.4 551.1 1601.7 552.3 1601.2 554.4 1601.2 556.2 1600.8 557.9 1600.4 559.3 1600.1 560.7 1599 562 1599 563.3 1599.1 564.7 1598.2 566.1 1597.9 567.8 1597.9 569.6 1598.1 570.9 1598.3 572.3 1598.3 573.7 1598.9 575.2 1598.6 576.7 1599.1 578.2 1599.7 579.8 1599.9 581.4 1600.7 583 1601 584.7 1600.7 586.3 1601.2 587.9 1601.8 589.4 1602.2 591 1602.4 592.5 1603.3 594 1603 595.4 1603.7 597 1603.7 598.5 1605 600 1605.2 601.5 1606.1 602.9 1605.8 604.3 1606.8 605.8 1607.3 607.2 1607.2 608.6 1608.5 610 1609 611.4 1608.6 612.8 1609.9 614.2 1610 615.6 1610.1 617 1610.2 618.5 1610.1 620.1 1609.9 621.6 1610.2 623.2 1610.5 624.7 1609.7 626.2 1609.7 627.8 1609.3 629.3 1609.4 630.8 1609.4 632.4 1609.1 633.9 1608.3 635.4 1608.2 637 1607.6 638.5 1608 640 1608.3 641.6 1608.3 643.1 1607.5 644.6 1607.9 646.2 1607.5 647.7 1607.9 649.2 1608.5 650.8 1607.9 652.3 1608.5 653.8 1608.6 655.4 1608.5 656.9 1607.9 658.5 1608.5 660 1608.4 661.6 1608.4 663.2 1607.2 664.8 1607 666.5 1607 668.1 1607 669.8 1606.7 671.5 1606.1 673.1 1606.3 674.7 1606.1 676.2 1605.8 677.7 1605.4 679.1 1605.2 680.4 1605.2 681.6 1604.4 683.7 1604.4 685.5 1603.7 687 1603.3 688.3 1603.6 689.6 1603.1 691 1603.2 692.4 1603.5 693.6 1604.3 694.8 1604.5 696 1605.9 697.3 1606.3 698.5 1608.3 699.7 1608.6 700.8 1610.3 702 1611.2 703.1 1612.2 704.2 1613.1 705.2 1614.2 706.2 1615.5 707.2 1616.3 708.2 1617.3 709.2 1618.2 710.1 1619.9 711.1 1620.9 712 1623 712.5 1624.3 713.1 1625.4 713.6 1626.7 714.1 1628.1 714.6 1629.2 715.2 1631.5 715.7 1632.8 716.2 1634.4 716.7 1636.2 717.2 1637.3 717.7 1638.8 718.2 1640.3 718.6 1641.8 719.1 1643.2 719.6 1644.6 720 1645.7 720.6 1647.8 721.2 1649.5 721.7 1651.4 722.2 1653.6 722.7 1655 723.3 1657.2 723.8 1658.6 724.3 1659.5 724.8 1661 725.4 1661.1 726 1661.5 726.9 1662.5 727.8 1661.3 728.8 1660.5 729.8 1660.3 730.8 1657.9 731.8 1656.7 732.9 1654.4 734 1651.6 734.4 1650.6 734.8 1650.2 735.2 1648.4 735.7 1646.9 736.1 1645.7 736.5 1644.5 736.9 1642.5 737.4 1640.7 737.8 1639.7 738.3 1637.4 738.7 1635.6 739.2 1633.9 739.6 1633.2 740.1 1631 740.5 1629.7 741 1627.9 741.5 1626.8 741.9 1624.7 742.4 1623.4 742.9 1622.4 743.4 1620.6 743.9 1619.9 744.9 1618.4 745.9 1616.5 747 1615 748 1614.1 749.1 1612.5 750.2 1611.8 751.3 1610.5 752.4 1609.5 753.6 1609.1 754.7 1608.3 755.9 1607.5 757.4 1607.3 758.9 1606.9 760.5 1607.2 762.1 1607.6 763.7 1607.8 765.3 1608.2 766.9 1607.8 768.4 1608.2 769.9 1608.4 771.5 1607.6 773.1 1607.7 774.6 1606.3 776.1 1606.5 777.6 1606 779.1 1605.7 780.5 1605.3 781.9 1605.2 783.4 1605.2 784.9 1606 786.3 1606.7 787.7 1607.3 789.1 1608.3 790.5 1609.9 791.9 1610.8 792.7 1611.8 793.5 1612.5 794.2 1614.5 795 1615.5 795.8 1616.9 796.6 1617.8 797.4 1619.1 798.2 1620.9 799 1622.7 799.7 1623.6 800.5 1625.1 801.2 1626.6 801.9 1628.3 802.6 1629 803.2 1631.3 803.8 1632.1 804.4 1634.5 805 1636.2 805.6 1637.6 806.2 1639.5 806.8 1640.6 807.4 1641.8 808 1643.3 808.6 1644.3 809.2 1645.6 809.9 1646 811.1 1646.3 812.3 1646.1 813.6 1644.8 814.9 1643.5 816.2 1642.2 817.5 1640.8 818.7 1639.6 819.9 1638.7 821.3 1639.1 822.6 1640 823.9 1641 825.1 1642.3 826.4 1643.2 827.8 1644.1 829.1 1644.4 830.5 1645.6 831.9 1646.1 833.4 1647.4 834.9 1647.5 836.4 1647.6 837.8 1648.4 838.9 1647.8 840 1646.4 841.1 1645.2 842.2 1644.8 843.4 1643.5 844.5 1641.5 845.6 1640.8 846.7 1639.5 847.8 1638 848.9 1636.5 849.9 1635 851 1633.7 852 1632.8 853.1 1631.8 854.2 1630.4 855.3 1628.8 856.5 1628.2 857.8 1626.5 859 1626.1 860.3 1624.8 861.6 1623.8 862.9 1623.1 864.3 1622.9 865.7 1621.6 867.2 1620.8 868.7 1620.7 870.2 1620.2 871.8 1620.1 873.2 1619.9 874.6 1620 876 1620.3 877.5 1619.9 879 1620.4 880.5 1620.1 882.1 1620.5 883.7 1620.7 885.2 1621.7 886.8 1621.5 888.3 1622.1 889.8 1622.4 891.3 1622 892.8 1622 894.4 1622.2 896 1622.6 897.5 1622.6 899.1 1622.4 900.6 1623.3 902.1 1623.2 903.6 1623.5 905 1623.5 906.4 1623.3 907.8 1623.3 909.5 1622.9 911.2 1622.2 912.9 1622 914.5 1621.5 916 1620 917.5 1619.5 919 1619 920.3 1619 921.7 1619.4 923.3 1619.1 924.7 1619.6 926 1619.5 927.3 1620.3 928.7 1620.8 930.1 1622.5 931.7 1623.8 932.4 1624.4 933.2 1625.8 934 1627.2 934.8 1628.8 935.7 1629.6 936.6 1631.7 937.5 1633.1 938.4 1634 939.3 1636.2 940.2 1637.9 941 1639.4 941.9 1640.6 942.7 1641.6 943.5 1643.1 944.3 1644.3 945 1645.2 945.7 1645.6 947.6 1648.1 949.1 1648.6 950.5 1648.3 951.9 1648.2 953.7 1647.5 954.9 1647.5 956.1 1646.4 957.4 1646.1 958.8 1644.9 960.1 1644.5 961.6 1643.5 963 1642 964.3 1641.8 965.7 1641 967.2 1640.1 968.7 1640.2 970.2 1638.9 971.7 1638.9 973.2 1638.9 974.7 1638.3 976.2 1638.7 977.7 1639.3 979 1639.1 980.4 1639.9 981.8 1639.9 983.1 1641.4 984.5 1642.1 985.9 1642.2 987.2 1643.8 988.5 1644.5 989.7 1645.4 990.6 1646.6 991.5 1648.2 992.3 1649.1 993.2 1650.4 994 1651.3 994.8 1652.6 995.6 1654.2 996.4 1655.8 997.2 1657.6 998 1658.7 998.8 1660.2 999.6 1662.3 1000.2 1663.3 1000.8 1664.7 1001.5 1666.1 1002.1 1667.2 1002.7 1668.4 1003.3 1669.7 1004 1671.7 1004.6 1673.3 1005.2 1674.9 1005.8 1676.4 1006.5 1677.4 1007.1 1678.8 1007.7 1680.6 1008.3 1681.1 1009 1682.6 1009.6 1683.9 1010.5 1685.6 1011.4 1687.2 1012.3 1688.2 1013.2 1690 1014.1 1691 1015 1692.5 1015.9 1693.6 1016.8 1694.8 1017.8 1696.2 1018.7 1696.9 1019.6 1697.6 1021.1 1698.8 1022.6 1699.5 1024.1 1699.4 1025.5 1699.5 1027 1700 1028.5 1700.9 1030 1701.4 1030.8 1703 1031.6 1703.3 1032.4 1705.2 1033.2 1705.7 1034 1707.5 1034.8 1708.1 1035.5 1709.9 1036.3 1711.2 1037.1 1713.2 1037.8 1714.8 1038.6 1715.9 1039.3 1717.5 1040 1720 1040.4 1721 1040.9 1722.2 1041.3 1723.5 1041.8 1725 1042.2 1726.6 1042.6 1727.9 1043 1729.2 1043.4 1731.1 1043.8 1733.2 1044.2 1734.6 1044.6 1736.1 1045 1737.9 1045.4 1739.1 1045.8 1740.6 1046.2 1742.6 1046.6 1743.5 1046.9 1745.7 1047.3 1746.6 1047.6 1748.5 1048 1749.8 1048.4 1751.8 1048.8 1752.9 1049.2 1755.5 1049.5 1757.6 1049.9 1758.9 1050.3 1761.6 1050.6 1763.2 1051 1765.6 1051.3 1767.7 1051.6 1768.5 1052 1770.5 1052.3 1772.1 1052.6 1773.8 1053 1774.8 1053.3 1774.7 1053.7 1775.3 1054 1775.7 1054.3 1776 1054.7 1775.7 1055 1774.9 1055.4 1774.6 1055.7 1773.6 1056 1772.6 1056.4 1771.1 1056.7 1769.3 1057.1 1768.2 1057.4 1766.4 1057.7 1764.7 1058.1 1761.9 1058.5 1759.6 1058.8 1757.5 1059.2 1754.9 1059.6 1752.4 1060 1749.4 1060.2 1748.8 1060.3 1747.5 1060.5 1746.2 1060.6 1744.8 1060.8 1744 1060.9 1742.2 1061.1 1741.6 1061.3 1739.6 1061.4 1738.8 1061.6 1736.5 1061.8 1735.3 1061.9 1734.1 1062.1 1732.3 1062.3 1730.6 1062.4 1729.4 1062.6 1727.1 1062.8 1726.1 1062.9 1724.1 1063.1 1722.1 1063.3 1720.5 1063.5 1718.7 1063.6 1717.3 1063.8 1715.4 1064 1713.8 1064.2 1712.2 1064.4 1710.6 1064.5 1708.8 1064.7 1706.6 1064.9 1705.3 1065.1 1703.6 1065.2 1702.2 1065.4 1700 1065.6 1698.5 1065.8 1697.1 1066 1695.1 1066.1 1693.5 1066.3 1692.2 1066.5 1690.5 1066.7 1689.5 1066.9 1687.5 1067 1686 1067.2 1685 1067.4 1683.7 1067.6 1682.8 1067.7 1681.5 1067.9 1679.8 1068.2 1677.7 1068.6 1675.8 1068.9 1673.6 1069.2 1671.7 1069.5 1669.6 1069.9 1668.2 1070.2 1666.5 1070.5 1664.7 1070.8 1663 1071.2 1661.5 1071.5 1659.3 1071.8 1658.5 1072.2 1656.4 1072.5 1654.9 1072.8 1653.9 1073.2 1652.3 1073.5 1651.2 1073.8 1650.3 1074.2 1648.7 1074.5 1647.8 1074.9 1646.7 1075.2 1646.3 1075.5 1644.4 1075.9 1643.9 1077 1641.3 1078.1 1639 1079.2 1637.6 1080.3 1636.5 1081.5 1635.6 1082.6 1635.3 1083.8 1635 1084.9 1634.9 1086 1634.9 1087.1 1635.4 1088.2 1635.8 1089.3 1636.2 1090.5 1637.9 1091.6 1639.2 1092.7 1641.7 1093.9 1643.5 1094.3 1644.9 1094.7 1645.8 1095.1 1647.2 1095.5 1648.7 1096 1649.8 1096.4 1651.1 1096.8 1652.9 1097.2 1653.6 1097.7 1655.9 1098.1 1656.9 1098.5 1658.7 1099 1659.8 1099.4 1661.4 1099.8 1663.2 1100.3 1665.3 1100.7 1666.6 1101.1 1668.9 1101.5 1669.9 1101.9 1672.1 1102.3 1674 1102.7 1675.4 1103.1 1677.2 1103.5 1678.7 1103.9 1680.3 1104.3 1681 1104.6 1683 1105 1684.4 1105.4 1686.1 1105.7 1688 1106.1 1689.7 1106.4 1690.8 1106.8 1692.4 1107.1 1694 1107.5 1696.3 1107.8 1698 1108.2 1698.9 1108.5 1700.6 1108.8 1702.2 1109.1 1704.6 1109.5 1705.2 1109.8 1707.2 1110.1 1708.9 1110.4 1709.6 1110.7 1711.4 1111 1712.3 1111.3 1713.8 1111.6 1714.7 1111.9 1715.4 1112.7 1719 1113.5 1721 1114.2 1723.6 1114.9 1724.9 1115.6 1726.6 1116.3 1727.2 1117.1 1727.2 1117.9 1727.3 1118.7 1728 1119.5 1726.9 1120.4 1725.8 1121.3 1724.4 1122.2 1722.2 1123.2 1720.8 1124.1 1719 1125 1716.8 1125.9 1715.8 1126.8 1714.9 1127.7 1712.9 1128.6 1711.6 1129.5 1709.3 1130.3 1708.1 1131.2 1706.9 1132.1 1705.9 1133 1705.5 1133.9 1704.9 1134.8 1705.1 1135.6 1705.4 1136.5 1706.2 1137.4 1707.1 1138.2 1708.1 1139.1 1709.4 1140 1711.8 1140.9 1713.3 1141.9 1716 1142.3 1716.6 1142.7 1718.4 1143.1 1718.8 1143.5 1720.2 1143.9 1721.5 1144.3 1723.4 1144.7 1724.6 1145.1 1725.6 1145.5 1727.1 1146 1729.1 1146.4 1730.4 1146.8 1731.7 1147.2 1733.3 1147.7 1735.5 1148.1 1737.1 1148.6 1738.9 1149 1739.8 1149.5 1741.8 1149.9 1743.1 1150.4 1745.2 1150.9 1746.4 1151.3 1748 1151.8 1749.9 1152.2 1750.9 1152.7 1752.9 1153.1 1753.8 1153.6 1755.3 1154.1 1757.3 1154.5 1758.3 1155 1759.8 1155.5 1761.8 1156 1763.1 1156.4 1764.9 1156.9 1766.5 1157.4 1768.1 1157.9 1768.7 1158.4 1770.5 1158.9 1772.1 1159.4 1773.4 1159.9 1775.4 1160.4 1776.4 1160.9 1778.3 1161.4 1778.8 1161.9 1780.6 1162.3 1782.1 1162.8 1783.6 1163.3 1784.5 1163.8 1786.2 1164.5 1787.3 1165.1 1789.2 1165.8 1790.9 1166.5 1792.8 1167.2 1795 1167.9 1797.1 1168.6 1798.4 1169.2 1800.5 1169.9 1802.1 1170.6 1804.3 1171.3 1805.3 1171.9 1807 1172.6 1807.6 1173.3 1809.3 1173.9 1809.2 1174.6 1809.9 1175.2 1810.8 1175.8 1810.7 1176.4 1810.6 1176.9 1810.3 1177.5 1809.4 1178.1 1808.9 1178.6 1807.7 1179.2 1806.7 1179.7 1805.5 1180.3 1803.7 1180.8 1802.6 1181.3 1801 1181.8 1799.5 1182.3 1796.7 1182.9 1795.3 1183.4 1793.1 1183.9 1791.2 1184.4 1789.5 1184.8 1787.9 1185.3 1785.3 1185.8 1784.1 1186.1 1782.9 1186.4 1781.7 1186.7 1780.1 1187 1778 1187.3 1777 1187.6 1775.3 1187.9 1773.4 1188.2 1772.3 1188.5 1770.1 1188.7 1768.9 1189 1767.3 1189.3 1765 1189.6 1763 1189.9 1762 1190.1 1759.6 1190.4 1757.8 1190.7 1756.9 1190.9 1754.6 1191.2 1753 1191.5 1751.5 1191.7 1750.2 1192 1748.2 1192.2 1746.9 1192.5 1745.2 1192.8 1744.1 1193 1743.3 1193.3 1742 1193.5 1740.9 1193.8 1740.2 1194.7 1736.2 1195.6 1734 1196.4 1732.4 1197.2 1730.7 1198.1 1730.3 1198.9 1729 1199.8 1729.4 1200.8 1729 1201.7 1729.2 1202.7 1730.1 1203.7 1730.6 1204.7 1731.7 1205.7 1733.3 1206.7 1735.2 1207.8 1736.9 1208.8 1738.4 1209.8 1740.1 1210.5 1741.3 1211.3 1742.9 1212 1744.1 1212.8 1746.6 1213.5 1748.3 1214.3 1749.9 1215.1 1751.5 1215.8 1753.5 1216.5 1754.4 1217.3 1755.4 1218 1756 1218.8 1755.5 1219.3 1755.1 1219.8 1754.4 1220.3 1753.8 1220.8 1753.2 1221.3 1751.5 1221.8 1750.2 1222.4 1748.6 1222.9 1747.4 1223.4 1745.9 1223.9 1743.6 1224.4 1742.5 1224.9 1739.8 1225.4 1738.1 1225.9 1736.2 1226.4 1735.1 1226.8 1732.7 1227.3 1731.6 1227.8 1729.5 1228.2 1728.2 1228.6 1726.6 1229 1725.9 1229.4 1724 1229.8 1723.2 1230.1 1721.5 1230.5 1719.9 1230.8 1718.4 1231.2 1717 1231.6 1715.6 1231.9 1714.5 1232.3 1712.2 1232.7 1710.6 1233.1 1709.9 1233.5 1708.1 1233.9 1706.5 1234.3 1704.7 1234.7 1702.7 1235.2 1701.3 1235.7 1700.2 1236.1 1698.3 1236.5 1697.3 1236.9 1695.8 1237.4 1694 1237.8 1692.4 1238.3 1690.9 1238.8 1690 1239.2 1688 1239.7 1686.7 1240.2 1685.2 1240.7 1683.9 1241.2 1681.7 1241.7 1680.4 1242.2 1679.2 1242.7 1677.6 1243.2 1675.9 1243.7 1674.6 1244.2 1673.3 1244.7 1671.9 1245.2 1670.2 1245.7 1668.4 1246.2 1667.1 1246.7 1666.4 1247.2 1665.2 1247.7 1663.8 1248.5 1662.3 1249.3 1660.1 1250.1 1658.7 1250.9 1657.2 1251.7 1656.1 1252.5 1655 1253.3 1653 1254.1 1651.6 1254.9 1650.7 1255.7 1650 1256.5 1649 1257.3 1646.9 1258.1 1646.1 1258.9 1645.1 1259.7 1644.3 1260.6 1642.6 1261.5 1641.1 1262.4 1640.3 1263.3 1638.7 1264.2 1637.5 1265.1 1636.2 1266 1635.1 1266.9 1633.5 1267.9 1632.4 1268.8 1631 1269.7 1630.1 1270.7 1629.3 1271.7 1628.3 1272.9 1627.2 1274.1 1626 1275.4 1624.8 1276.6 1623.9 1277.9 1623 1279.2 1622.8 1280.5 1621.8 1281.8 1621.3 1283.1 1620.5 1284.4 1619.2 1285.7 1618.9 1287.3 1618.1 1288.8 1618 1290.4 1617.1 1292 1616.2 1293.6 1615.8 1295.2 1615.7 1296.7 1614.9 1298.2 1614.6 1299.7 1613.9 1301.3 1613.5 1302.8 1613.3 1304.4 1612.2 1305.8 1612.2 1307.3 1612.1 1308.8 1612.1 1310.2 1611.7 1311.7 1612.1 1312.9 1613.1 1314.1 1613.8 1315.3 1615 1316.6 1615.9 1317.8 1616.9 1319 1618.9 1320.2 1619.4 1321.3 1621 1322.5 1621.4 1323.6 1622.3 1325.2 1622.1 1326.7 1621.4 1328.2 1620.3 1329.7 1619 1331.1 1618.4 1332.4 1616.9 1333.6 1616.5 1335.1 1614.8 1336.1 1614.1 1337.4 1613.8 1340 1613.5 1341.1 1614.1 1342.3 1613.1 1343.6 1613.4 1345.1 1613.7 1346.6 1613 1348.2 1612.9 1349.9 1612.8 1351.6 1612.6 1353.3 1613 1355 1612.9 1356.8 1612.5 1358.5 1612.8 1360.1 1612.7 1361.7 1612.8 1363.3 1612.3 1364.8 1612.2 1366.4 1612.8 1367.9 1612.5 1369.5 1612.5 1371 1612 1372.6 1612.2 1374.2 1611.9 1375.7 1612.2 1377.3 1612.4 1378.8 1611.8 1380.4 1611.7 1381.9 1611.8 1383.5 1611.5 1385.1 1611.2 1386.7 1610.7 1388.4 1611.2 1390.1 1610.7 1391.8 1610.7 1393.5 1610 1395.2 1610.2 1396.8 1609.9 1398.4 1609.1 1400 1609.5 1401.4 1608.7 1402.8 1609.3 1404.1 1609.4 1405.2 1609.5 1407.1 1609.6 1408.6 1610.3 1409.8 1611 1410.9 1612.8 1411.8 1613.8 1412.8 1615.5 1413.9 1616.9 1414.6 1618 1415.4 1619.8 1416.1 1621.3 1416.9 1622.7 1417.6 1624.2 1418.4 1626.1 1419.1 1627.2 1419.9 1628.8 1420.6 1630.8 1421.3 1632.1 1422 1633.5 1422.6 1634.5 1424 1636.3 1425.3 1637.8 1426.4 1639.7 1427.7 1640.4 1429.1 1639.8 1430 1639.1 1430.8 1638.8 1431.8 1637.1 1432.7 1635.8 1433.7 1634.7 1434.7 1633 1435.7 1631.6 1436.7 1629.1 1437.8 1628.2 1438.5 1626.4 1439.1 1625.3 1439.8 1623.5 1440.4 1622.4 1441.1 1621.1 1441.8 1620 1442.4 1617.8 1443.2 1616.2 1443.9 1615.4 1444.7 1614 1445.6 1612.1 1446.6 1610.7 1447.6 1609.8 1448.7 1608.2 1449.8 1607.1 1450.9 1606.1 1452.1 1605 1453.4 1604.1 1454.7 1603.2 1456 1602 1457.4 1601.6 1458.9 1601 1460.3 1600.3 1461.8 1598.8 1463.3 1598.3 1464.7 1598.1 1466.2 1597.5 1467.6 1596.2 1469 1595.4 1470.4 1595.5 1472 1594.4 1473.5 1594.3 1475 1594.1 1476.6 1593 1478.1 1592.7 1479.7 1592.7 1481.3 1592 1482.8 1592.1 1484.4 1592 1485.9 1591.7 1487.4 1591.8 1489 1591.5 1490.5 1591.2 1492.1 1591.2 1493.6 1590.3 1495.2 1590.1 1496.7 1589.9 1498.3 1589.5 1499.8 1589.9 1501.4 1589.6 1502.9 1589.4 1504.5 1588.7 1506 1588.9 1507.6 1588.9 1509.1 1588.7 1510.7 1588.8 1512.2 1588.7 1513.8 1588.2 1515.3 1588.8 1516.8 1589 1518.3 1589.7 1519.8 1590.2 1521.3 1591.1 1522.8 1590.9 1524.3 1592.3 1525.9 1592.1 1527.4 1593.4 1528.8 1593.6 1530.3 1594.6 1531.7 1595.3 1533 1595.5 1534.3 1596.8 1535.6 1597.6 1537 1598 1538.4 1598.7 1539.7 1600.2 1541 1600.8 1542.2 1601.7 1543.4 1602.7 1544.6 1604.1 1545.7 1605 1546.8 1606 1547.9 1606.8 1548.9 1608 1549.9 1609.4 1550.8 1610.3 1551.8 1611.4 1552.8 1613.5 1553.7 1614.7 1554.5 1616 1555.3 1618.1 1556.1 1619.2 1556.8 1620.3 1557.5 1622 1558.1 1623.1 1558.8 1624.9 1559.5 1625.9 1560.6 1627 1561.6 1628.7 1562.5 1630.7 1563.4 1631.6 1564.6 1632 1566 1632.2 1566.9 1631.5 1568 1631.3 1569.1 1630.6 1570.3 1630.1 1571.6 1628.7 1572.9 1627.5 1574.2 1625.7 1575.4 1624.9 1576.7 1623.7 1577.9 1622.6 1579 1621.1 1580.1 1620.6 1581.1 1619.2 1582.2 1618 1583.2 1617.1 1584.2 1615.8 1585.2 1613.8 1586.2 1613.3 1587.1 1611.7 1588.1 1610.6 1589 1608.8 1589.9 1607.8 1591 1607.1 1591.9 1605.1 1592.9 1604.2 1593.8 1602.6 1594.7 1600.8 1595.6 1599.6 1596.6 1598.5 1597.5 1597.8 1598.6 1597.7 1599.7 1598 1600.8 1597.9 1602 1598.8 1603.2 1599.8 1604.4 1600.7 1605.6 1602.1 1606.9 1603.5 1608.2 1605.3 1609.5 1605.8 1610.7 1607.1 1611.8 1608.5 1613 1608.9 1614.1 1610.5 1615.3 1610.8 1616.6 1611.9 1617.9 1612.6 1619.3 1613.3 1620.8 1614.2 1622.5 1615.1 1623.8 1615.2 1625.1 1614.9 1626.6 1614.8 1628.1 1614.8 1629.6 1615 1631.2 1615.1 1632.8 1614.4 1634.4 1614.3 1636.1 1614.7 1637.7 1614 1639.4 1613.7 1641 1614.3 1642.6 1613.4 1644.2 1613.9 1645.7 1613.2 1647.3 1614 1648.8 1613.6 1650.3 1613.4 1651.8 1613.3 1653.3 1613.9 1654.8 1613.5 1656.4 1613.7 1657.9 1613.4 1659.5 1613.1 1661 1613.1 1662.7 1612.9 1664.3 1613.2 1666 1612.9 1667.4 1612.6 1668.8 1611.7 1670.4 1611.3 1672 1611.5 1673.6 1610.5 1675.3 1610 1677 1608.9 1678.7 1609.1 1680.4 1608.1 1682 1607.3 1683.6 1607 1685.1 1606.1 1686.5 1605.8 1687.9 1605.3 1689.1 1604.9 1690.2 1604.4 1691.2 1603.8 1692 1604.2" fill="none" stroke="#ff8c00" stroke-width="6.5" stroke-linejoin="round" stroke-linecap="round"/>
<path d="M70 1700.1 70.9 1700.1 71.9 1700 73.1 1700 74.5 1699.6 76 1699.5 77.6 1698.4 79.3 1698.5 81 1698.8 82.8 1698.2 84.5 1698.2 86.3 1697.2 88 1697.4 89.7 1697 91.2 1697.2 92.7 1697.1 94 1696.5 95.9 1696.8 97.5 1696.9 98.9 1697.7 100.3 1697.8 101.6 1697.5 103 1698.4 104.4 1698.2 106 1699.1 107.9 1699.1 110 1699.5 111.2 1700.7 112.4 1700.3 113.6 1700.7 114.9 1701.8 116.3 1702.1 117.7 1702 119.1 1703.1 120.5 1703.1 122 1703.7 123.5 1703.7 125 1704.9 126.6 1705.1 128.2 1705.8 129.8 1706.2 131.5 1706 133.1 1706.5 134.8 1706.7 136.5 1707 138.3 1707.3 140 1707.8 141.4 1708.3 142.7 1707.9 144.2 1708.8 145.6 1708.6 147.1 1708.7 148.5 1709.4 150.1 1709.2 151.6 1709.2 153.1 1709.5 154.7 1709.8 156.2 1709.3 157.8 1710.3 159.4 1709.5 161 1710.3 162.6 1710.5 164.2 1709.7 165.8 1710.6 167.4 1710.3 169 1710.5 170.6 1710.1 172.2 1710.2 173.7 1710.4 175.3 1711.2 176.9 1710.5 178.5 1711.2 180 1711.4 181.6 1711.5 183.2 1711 184.8 1711 186.5 1711.2 188.2 1711.5 189.9 1710.9 191.6 1711.5 193.4 1711.6 195.1 1711.7 196.9 1710.8 198.6 1711.8 200.3 1710.9 202 1711.2 203.7 1711.4 205.3 1711.7 207 1711.2 208.5 1711.8 210.1 1711.4 211.5 1711.2 213 1711.3 214.3 1711.2 215.6 1711.2 216.8 1711.3 218 1712 219 1712.4 220 1711.7 223.1 1712.4 224.9 1714.6 225.8 1715.5 226.3 1716.6 226.8 1717.4 227.8 1718.1 228.9 1717.9 229.9 1716.5 230.8 1715.1 231.9 1713.3 233.5 1713 235.8 1711.5 236.9 1711.9 238.1 1712.3 239.4 1711.6 240.8 1712.3 242.3 1712.7 243.8 1712.6 245.4 1712.9 247.1 1712.5 248.7 1713.1 250.4 1713.1 252.1 1714 253.7 1713.8 255.3 1714.2 256.9 1715 258.4 1715.1 259.8 1715.5 261.4 1715.2 263 1715.6 264.5 1716.1 266 1716.2 267.5 1716.3 268.9 1716.7 270.3 1716.8 271.8 1717.4 273.3 1718.3 274.8 1718.6 276.3 1718.6 278 1718.7 279.7 1718.8 281.1 1718.8 282.6 1719.2 284.1 1719.8 285.6 1720.1 287.3 1719.7 288.9 1720.3 290.6 1720.5 292.2 1720.5 293.9 1720.7 295.5 1720.9 297.1 1720.7 298.7 1721.2 300.3 1720.9 301.7 1721.3 303.1 1721.8 304.5 1722 305.7 1721.8 307.6 1722.9 309.4 1723 311 1723.3 312.5 1723.2 313.9 1724.2 315.2 1724.4 316.4 1725.4 317.6 1725.8 318.8 1726.8 320 1727.3 321.3 1728.3 322.4 1728.7 323.4 1729.8 324.4 1730.8 325.4 1731.9 326.3 1732.6 327.3 1734.4 328.3 1736 329.4 1737.6 330 1738.9 330.6 1740 331.1 1740.7 331.7 1742 332.3 1742.9 332.9 1744.9 333.6 1746.4 334.2 1747.4 334.8 1749.1 335.4 1750.6 336 1752.2 336.7 1753.1 337.3 1755.3 337.9 1756.6 338.5 1758.2 339.2 1759.5 339.8 1761.2 340.4 1762.8 341 1764 341.6 1765.4 342.2 1766 342.7 1767.5 343.3 1769 343.9 1770.5 344.5 1771.4 345.1 1773.2 345.7 1774.4 346.3 1775.2 346.9 1777 347.5 1778.1 348 1779.3 348.6 1780.9 349.2 1782.5 349.8 1783.9 350.3 1785.5 350.9 1787 351.4 1789.2 351.8 1790.4 352.2 1792 352.6 1793.4 353 1794.6 353.4 1796.8 353.7 1797.5 354.1 1799.5 354.5 1801 354.9 1802.8 355.3 1804.2 355.6 1806.7 356 1807.9 356.4 1809.3 356.8 1811.5 357.1 1812.7 357.5 1814.8 357.8 1816.2 358.2 1818.1 358.5 1820 358.9 1821.3 359.2 1822.4 359.5 1824.1 359.9 1825.2 360.2 1826.2 360.5 1827.1 360.8 1828.6 361.6 1831.1 362.4 1833.6 363.2 1835.2 363.9 1836.1 364.5 1836.9 365.2 1838.4 365.8 1838.4 366.5 1839.5 367.1 1841.1 367.9 1842.9 368.7 1844.5 369.4 1847 370.2 1849.1 370.9 1850.1 371.7 1851 372.6 1850.9 373.2 1850.7 373.8 1850.9 374.4 1849.7 375.1 1849.4 375.8 1848.4 376.4 1846.8 377.1 1844.9 377.8 1843.8 378.4 1841.3 379.1 1838.9 379.7 1836.1 379.9 1835.7 380.1 1834.1 380.3 1832.7 380.5 1831.7 380.7 1830 380.9 1829.1 381.1 1827.5 381.3 1825.9 381.5 1824.9 381.7 1823.4 381.9 1821 382.1 1819.9 382.2 1818 382.4 1816.9 382.6 1815.1 382.8 1812.9 383 1811.2 383.2 1809.4 383.4 1808.5 383.6 1806.1 383.8 1804.7 384 1802.9 384.2 1801.4 384.4 1799.7 384.6 1798.3 384.8 1796.1 385 1795.2 385.3 1793.2 385.5 1792 385.8 1790.4 386 1789 386.3 1787.5 386.7 1785.6 387.1 1783.8 387.4 1782.4 387.8 1780.5 388.2 1778.2 388.6 1776.8 389 1775.3 389.4 1774.1 389.8 1772.5 390.2 1770.5 390.6 1768.4 391 1767.7 391.5 1765.8 391.9 1764.5 392.3 1763.3 392.8 1761.8 393.2 1760.4 393.6 1759.6 394.1 1757.8 394.5 1756.7 395 1756.1 395.4 1754.4 396.4 1752.4 397.5 1751.3 398.6 1749.1 399.7 1748.8 400.8 1747.7 401.9 1746.7 403 1745.8 404.2 1745.6 405.3 1745 406.4 1743.3 407.6 1742.6 408.8 1741.7 410 1740.6 411.2 1739.5 412.4 1738.4 413.6 1737.9 414.8 1737.4 416.1 1736 417.4 1735.5 418.8 1735.6 420.3 1735 421.7 1734.5 423.1 1733.5 424.6 1734 426.3 1734.3 428 1734.4 430 1734.4 431.2 1734 432.5 1735.3 433.9 1735.2 435.3 1736.2 436.7 1737.2 438.2 1737.6 439.8 1737.8 441.3 1738.7 442.9 1740 444.4 1739.9 445.9 1741 447.5 1741.3 448.9 1741.5 450.4 1742.2 451.9 1741.8 453.5 1742 455.1 1742.4 456.6 1742.1 458.2 1742 459.7 1742.4 461.3 1742.4 462.8 1742.4 464.3 1741.4 465.8 1741.4 467.2 1741 468.6 1740.9 470 1740.5 471.6 1740.4 473.2 1739.1 474.7 1737.9 476.3 1737.5 477.8 1736 479.2 1735.5 480.6 1734.5 482 1734.1 483.2 1733.3 484.5 1733.1 485.6 1732.8 486.7 1733.6 487.5 1734.2 488.2 1736 488.7 1737.2 489.3 1738.5 489.9 1740.3 490.6 1742.1 491.5 1743.9 492.7 1744.6 494.2 1746.1 495.3 1746.5 496.5 1746.3 497.8 1747.2 499.2 1747 500.7 1747.3 502.2 1748 503.8 1747.9 505.5 1748.7 507.1 1748.5 508.8 1748.4 510.5 1748.9 512.2 1748.2 513.9 1748.8 515.5 1748.1 517.1 1748.1 518.6 1748.7 520 1748.2 521.4 1747.4 522.8 1747 524.1 1747.4 525.4 1746.6 526.6 1746.2 527.8 1744.9 529.1 1744.8 530.3 1743.8 531.5 1743 532.7 1742.3 534 1741.8 535.4 1740.7 536.8 1739.9 538.3 1738.8 539.9 1738.6 541.6 1737.4 542.7 1737 543.9 1735.9 545.1 1735.6 546.3 1734.4 547.6 1733.6 549 1732.7 550.3 1731.9 551.7 1730.6 553.1 1729.3 554.6 1728.2 556 1727.4 557.5 1726.2 558.9 1726.1 560.4 1724.7 561.8 1724.1 563.3 1722.4 564.7 1722.1 566.1 1721.7 567.5 1720.7 568.8 1719.8 570.1 1719.3 571.4 1718.4 572.6 1718.1 573.8 1717.8 574.9 1717.8 576 1717.8 577.5 1718.4 578.9 1718.1 580.3 1718.8 581.6 1719.6 582.8 1720.4 584.1 1721.7 585.2 1722.9 586.4 1724.4 587.4 1725.4 588.5 1727.7 589.5 1728.6 590.4 1730.6 591.4 1731.8 592.2 1733.1 593.1 1734.2 593.9 1735.9 594.7 1736.1 595.4 1737.5 596.9 1739 597.9 1741 598.6 1742.5 599.2 1743.2 599.8 1744.2 600.6 1744.9 601.9 1745.6 603.1 1745.7 604.4 1745.9 605.9 1746.2 607.5 1745.2 609.2 1744.7 610.9 1744.4 612.5 1743.8 614.1 1744 615.6 1743.8 617 1743.4 618.5 1743.8 620 1744.9 621.3 1745.9 622.6 1746.6 623.9 1747.3 625.1 1748.9 626.4 1748.8 627.7 1749.8 629 1751.3 630.3 1751.8 631.7 1752.2 633 1753.6 634.3 1754.8 635.6 1755.2 637 1755.7 638.5 1756.2 639.9 1756.8 641.3 1758.2 642.8 1758.4 644.3 1759.4 645.8 1759 647.3 1759.7 648.8 1759.9 650.1 1760.6 651.4 1760.6 653.4 1761.3 655.1 1761.9 656.8 1762.1 658.3 1761.6 660 1760.5 660.8 1760.6 661.5 1758.6 662.3 1757.6 663 1755.9 663.7 1754.3 664.5 1752.2 665.2 1750.7 666 1748.9 666.9 1748 667.8 1747.2 668.7 1746 670.1 1745.6 671.7 1744.9 673.3 1744.9 675 1745.8 676.7 1746.2 678.4 1746.5 680.1 1746.3 681.6 1746 682.7 1745.4 683.7 1744.5 684.7 1742.7 685.7 1741.5 686.7 1740.4 687.6 1738.3 688.6 1736.7 689.5 1735.6 690.5 1734.2 691.4 1733.9 692.4 1733.3 693.9 1732.3 695.5 1731.9 697.1 1732.1 698.6 1732.7 700.2 1733.2 701.7 1734.3 703.1 1735.2 704.3 1735.5 705.3 1735.9 706.3 1737.2 707.3 1737.4 708.4 1738.5 709.5 1739.9 710.7 1741.6 712 1743.4 712.6 1744.8 713.2 1745.9 713.8 1747.8 714.5 1749.2 715.1 1751.2 715.8 1752.8 716.5 1754.8 717.2 1756.6 718 1758.4 718.7 1760.7 719.4 1762.4 720.2 1764.4 720.9 1765.9 721.6 1767.4 722.4 1768.3 723.1 1770 723.9 1770.5 724.6 1771 725.3 1771.3 726 1771.5 726.6 1771.3 727.2 1771.3 727.8 1770.2 728.4 1769.1 729 1768.7 729.6 1767.2 730.2 1765.3 730.8 1763.8 731.4 1762.2 732 1760.7 732.6 1759.4 733.2 1757.7 733.8 1755.5 734.4 1753.3 735 1751.6 735.6 1749.7 736.2 1747.9 736.8 1745.9 737.5 1744.9 738.1 1743.7 738.7 1742.2 739.4 1740.4 740 1739.8 741.2 1737.9 742.5 1737 743.7 1735.7 744.9 1735.2 746.2 1734.3 747.4 1732.9 748.7 1732.5 750.1 1732.6 751.5 1731.6 752.9 1731 754.4 1730.4 755.9 1730.1 757.2 1729.6 758.6 1728.6 760.1 1728.3 761.6 1727.3 763.2 1726.1 764.7 1726.2 766.3 1725.2 767.9 1724.2 769.5 1724.5 771.1 1723 772.6 1723.1 774 1722.6 775.4 1722.6 776.7 1721.9 777.9 1721.5 779.9 1721.4 781.6 1721.5 783.2 1722.1 784.6 1722.4 786 1723.4 787.3 1723.7 788.6 1724.7 789.9 1725.5 791 1727.2 792 1728 793.1 1729.2 794.1 1730.1 795.1 1731.2 796.1 1732.3 797 1734.3 798 1735.3 798.9 1736.1 799.9 1737.5 800.8 1738.7 801.8 1740.8 802.7 1742.6 803.7 1743.5 804.6 1745.6 805.5 1746.6 806.4 1748.1 807.2 1749.3 808.1 1749.7 808.9 1750.1 809.7 1749.4 810.5 1748.2 811.3 1747.4 812 1745.9 812.7 1743.8 813.4 1742.2 814.2 1740.4 815 1738.6 815.9 1737.6 817 1736.4 818.1 1735.3 819.3 1734.2 820.5 1732.8 821.8 1732.4 823.1 1731.5 824.4 1731.2 825.8 1731 826.9 1731.4 828 1732.1 829.2 1733.5 830.4 1734.5 831.5 1736.2 832.8 1737.8 834 1739.1 835.2 1740.1 836.5 1740.8 837.8 1741.4 839.2 1741.9 840.6 1742.3 842 1742.4 843.4 1742 844.9 1741.2 846.5 1741.2 848.1 1739.7 849.9 1739.2 851.8 1737.4 852.8 1737.4 853.9 1736.4 855.1 1735.7 856.2 1734.6 857.4 1733.2 858.7 1732.1 860 1730.7 861.2 1729.2 862.6 1727.5 863.9 1726.5 865.2 1725.7 866.5 1723.8 867.8 1723.5 869 1722.1 870.3 1721.1 871.5 1720.1 872.7 1720 873.8 1719.5 875.2 1719.9 876.5 1720.4 877.8 1721 879.1 1721.5 880.3 1722.2 881.5 1723 882.7 1724.8 883.9 1725.9 885.1 1727.3 886.3 1728.2 887.6 1729.8 889 1730.1 890.3 1731 891.8 1731.6 893.2 1732.3 894.8 1732.8 896.3 1732.2 898 1732.7 899.6 1732.8 901.3 1732.1 903 1731.9 904.7 1732.2 906.4 1732.4 908.1 1732.4 909.7 1732.2 911.3 1731.9 912.9 1732.1 914.3 1732.4 915.7 1733.2 917.2 1733.2 918.6 1733.9 919.9 1735 921.2 1736.2 922.4 1736.3 923.6 1737.2 924.8 1738.3 925.9 1739.9 927 1741.1 928.2 1741.8 929.3 1743 930.5 1744.7 931.7 1745.9 932.7 1747.1 933.7 1748.3 934.6 1748.9 935.6 1750.7 936.5 1752.4 937.4 1754 938.4 1754.8 939.3 1756.8 940.3 1758 941.3 1759.6 942.3 1760.2 943.3 1761.8 944.3 1763 945.4 1763.5 946.5 1763.9 947.7 1764.5 949 1764.8 950.4 1764.8 951.8 1764.8 953.3 1765 954.9 1764 956.5 1764.2 958 1763.5 959.6 1763 961.2 1762.3 962.7 1761.6 964.3 1761.3 965.7 1760.8 967.1 1760.1 968.5 1760.3 969.7 1759.4 971.4 1759.6 973 1760 974.4 1760.6 975.8 1761.5 977.1 1762.3 978.3 1763.4 979.6 1764.5 980.9 1764.9 982.3 1766.4 983.7 1767.8 984.7 1768.6 985.7 1769.3 986.8 1770.8 987.8 1771.7 988.9 1773.2 989.9 1774.2 991 1776 992.1 1777.2 993.1 1777.6 994.2 1779.6 995.3 1780.9 996.4 1781.8 997.5 1782.8 998.5 1784.5 999.6 1785.6 1000.6 1787.1 1001.6 1788.4 1002.6 1789.1 1003.6 1790.2 1004.6 1791.7 1005.7 1793.1 1006.7 1794.4 1007.7 1795.4 1008.7 1796.3 1009.7 1797.5 1010.7 1799.2 1011.7 1799.9 1012.7 1800.5 1013.7 1801.8 1014.6 1802.6 1015.6 1803.9 1017.1 1804.5 1018.7 1805.7 1020.2 1806.4 1021.8 1807.6 1023.3 1808.8 1024.8 1809 1026.2 1809.5 1027.6 1810.7 1028.8 1810.5 1030 1811.6 1031.5 1813.1 1032.8 1813.3 1033.9 1815.1 1034.9 1815.7 1035.9 1816.6 1036.9 1818.1 1038 1820 1038.7 1821.1 1039.4 1822.5 1040.1 1823.4 1040.7 1825 1041.4 1827.2 1042.1 1828.3 1042.7 1829.9 1043.4 1831.1 1044.1 1832.9 1044.7 1835.2 1045.4 1836.5 1046 1837.7 1046.5 1838.9 1047.1 1841 1047.7 1843.2 1048.3 1844.7 1048.9 1846.6 1049.5 1848.7 1050 1850.1 1050.6 1851.5 1051.1 1852.2 1051.7 1853.1 1052.2 1854.5 1052.7 1854.4 1053.3 1854.7 1053.8 1854 1054.4 1853 1054.9 1851.1 1055.4 1850 1055.9 1847.9 1056.3 1846.1 1056.8 1843.4 1057.3 1842 1057.7 1839.8 1058.1 1838.7 1058.5 1837.4 1058.8 1835.5 1059.1 1834.7 1059.4 1833.6 1059.7 1832.8 1060 1831.6 1060.2 1830.8 1060.5 1828.9 1060.8 1827.2 1061.1 1825.4 1061.4 1822.6 1061.7 1819.9 1061.8 1819.4 1061.9 1818.3 1062 1816.5 1062.1 1815.2 1062.2 1814.7 1062.3 1813.6 1062.3 1811.9 1062.4 1810.1 1062.5 1808.8 1062.6 1808.1 1062.7 1806.6 1062.8 1804.2 1062.8 1802.9 1062.9 1801.6 1063 1799.8 1063.1 1798.7 1063.2 1796.7 1063.3 1795.5 1063.4 1793.2 1063.5 1791.9 1063.5 1790.7 1063.6 1788.7 1063.7 1786.4 1063.8 1784.8 1063.9 1783.6 1064.1 1781.7 1064.2 1780 1064.3 1778.4 1064.4 1776.9 1064.5 1775.6 1064.6 1773.2 1064.8 1771.9 1064.9 1770 1065 1768.7 1065.2 1767.4 1065.3 1765.2 1065.5 1764.1 1065.7 1762.8 1065.8 1760.7 1066 1760.1 1066.2 1758 1066.4 1756.5 1066.7 1754.9 1066.9 1753.4 1067.2 1751 1067.4 1749.7 1067.7 1747.6 1068 1746.2 1068.3 1744.5 1068.6 1742.5 1068.8 1741.1 1069.1 1739.6 1069.4 1738.2 1069.7 1736.8 1070.1 1734.7 1070.4 1733.2 1070.7 1731.8 1071 1730.5 1071.3 1729 1071.7 1727.5 1072 1725.3 1072.3 1723.7 1072.6 1723 1073 1720.7 1073.3 1719.7 1073.6 1718.6 1074 1717.1 1074.3 1715.6 1074.6 1714.9 1074.9 1713.1 1075.3 1712.1 1075.6 1711.2 1075.9 1709.4 1076.6 1707.4 1077.2 1705.4 1077.9 1703.4 1078.6 1701 1079.3 1699.4 1080 1697.2 1080.7 1695.5 1081.5 1694.2 1082.2 1692.6 1082.9 1692.1 1083.6 1690.3 1084.3 1689.4 1084.9 1689.2 1085.6 1688.6 1086.3 1687.8 1086.9 1688.2 1087.6 1688.2 1088.2 1688.4 1088.8 1689.3 1089.5 1689.9 1090.1 1691 1090.7 1693 1091.3 1694.1 1091.9 1696.2 1092.5 1697.3 1093 1699.2 1093.6 1701.1 1094.2 1703.8 1094.8 1705.7 1095.3 1707.2 1095.9 1709.3 1096.2 1711.3 1096.5 1712.2 1096.8 1713.8 1097.1 1714.3 1097.4 1716.2 1097.7 1717.2 1098 1719.2 1098.3 1720.6 1098.6 1722.1 1098.9 1723.2 1099.2 1725.4 1099.5 1726.2 1099.8 1727.7 1100.1 1729.9 1100.4 1730.9 1100.7 1732.5 1101 1734.5 1101.3 1736.2 1101.6 1738.1 1101.9 1739.5 1102.1 1740.4 1102.4 1742.5 1102.7 1744.3 1103 1745.1 1103.3 1747.2 1103.6 1748.1 1103.9 1749.6 1104.2 1750.9 1104.6 1753.3 1104.9 1754.7 1105.3 1756.7 1105.6 1758 1105.9 1759.3 1106.3 1761.1 1106.6 1762.8 1107 1765.2 1107.3 1766.1 1107.7 1767.6 1108 1769.5 1108.4 1770.9 1108.7 1772.8 1109 1774.5 1109.4 1776 1109.7 1777 1110 1778.4 1110.4 1780.1 1110.7 1781.5 1111 1782.5 1111.3 1783.8 1111.6 1785.2 1111.9 1785.4 1112.8 1788.5 1113.6 1791 1114.4 1792.7 1115.2 1794.3 1116 1794.8 1116.9 1795.5 1117.9 1795.6 1119.1 1795.9 1120.5 1795.3 1121.9 1793.8 1123.4 1792.4 1124.9 1791.3 1126.4 1790.3 1127.9 1790.1 1129.6 1788.8 1131.2 1788.3 1132.9 1787.7 1134.6 1787.7 1136.2 1787.2 1137.9 1789 1138.6 1789.3 1139.3 1790.1 1139.9 1791.8 1140.6 1793.3 1141.3 1794.5 1142 1795.6 1142.7 1798.1 1143.4 1799.2 1144.1 1801.2 1144.8 1802.9 1145.4 1804.1 1146 1805.7 1146.7 1807.1 1147.2 1808.2 1147.8 1809.3 1148.8 1811.6 1149.7 1812.7 1150.5 1814.2 1151.3 1814.4 1152.1 1815.6 1152.8 1816.5 1153.6 1818.7 1154.3 1820.3 1154.7 1821.6 1155.1 1822.6 1155.5 1823.6 1155.9 1825.5 1156.3 1827 1156.6 1828.4 1157 1830.7 1157.4 1832.2 1157.7 1833.7 1158.1 1835.8 1158.5 1837.8 1158.9 1839.4 1159.4 1840.4 1159.8 1841.4 1160.4 1844 1161.1 1845.3 1161.8 1847.7 1162.5 1849.2 1163.2 1851.9 1164 1853.1 1164.7 1854.4 1165.5 1855.3 1166.3 1856.2 1167.1 1856.8 1167.8 1855.9 1168.5 1854.9 1169.3 1854.1 1170 1853.1 1170.8 1850.9 1171.6 1849.4 1172.4 1847.8 1173.2 1845.4 1173.9 1844.2 1174.7 1842.3 1175.4 1840.6 1176.1 1839.6 1177.7 1839.1 1179.2 1838.2 1180.7 1838.1 1182.1 1838.4 1183.4 1837.4 1184.4 1836.6 1185.4 1835.9 1186.3 1835.7 1187.2 1834 1188 1832.2 1188.9 1829.3 1189.1 1828.1 1189.3 1826.6 1189.5 1825.5 1189.6 1824.8 1189.8 1823.6 1190 1821.6 1190.1 1821.1 1190.3 1818.7 1190.4 1817.2 1190.6 1815.6 1190.8 1814.3 1190.9 1812.9 1191.1 1811.4 1191.2 1809.1 1191.4 1807.9 1191.6 1805.6 1191.7 1804.3 1191.9 1802.3 1192.1 1800.7 1192.3 1798.7 1192.5 1797.7 1192.8 1795.5 1193 1794.5 1193.3 1792.5 1193.5 1791.3 1193.8 1789.8 1194.1 1788.1 1194.5 1786.8 1194.8 1785.2 1195.2 1782.9 1195.6 1781.2 1196 1780 1196.4 1777.5 1196.8 1776 1197.3 1774.2 1197.7 1773.1 1198.2 1770.5 1198.6 1769.3 1199.1 1767.8 1199.5 1766.1 1200 1763.8 1200.4 1763.3 1200.9 1761.2 1201.3 1760.4 1201.8 1758.9 1202.2 1757.5 1202.6 1756.8 1203 1755.6 1203.4 1754.4 1203.8 1754 1205.5 1751.7 1207.2 1751.9 1208.8 1753 1210.3 1754.8 1211.8 1755.5 1213 1756.9 1214.2 1758.2 1215.4 1760.8 1216.5 1762.3 1217.6 1762.9 1218.8 1761.3 1219.2 1761.2 1219.6 1760.4 1220 1759.1 1220.4 1758.2 1220.8 1757.9 1221.2 1756.5 1221.6 1754.6 1222 1753.8 1222.4 1752 1222.9 1750.1 1223.3 1748.6 1223.7 1746.3 1224.1 1744.4 1224.5 1742.1 1224.9 1740.6 1225.4 1738.2 1225.8 1736 1226 1734.7 1226.2 1733.4 1226.4 1732.1 1226.6 1731.2 1226.8 1729.5 1227 1728.4 1227.2 1727.2 1227.4 1725.4 1227.7 1724.2 1227.9 1722.1 1228.1 1720.8 1228.3 1719.8 1228.5 1717.5 1228.7 1715.9 1228.9 1714.2 1229.1 1713.3 1229.4 1711.1 1229.6 1709.8 1229.8 1708.1 1230 1706.8 1230.2 1704.8 1230.4 1703.2 1230.7 1701 1230.9 1700.2 1231.1 1698.5 1231.3 1696.7 1231.5 1695.3 1231.8 1693.5 1232 1692 1232.2 1690.5 1232.4 1688.7 1232.6 1686.6 1232.8 1686 1233.1 1684.6 1233.3 1682.4 1233.5 1680.8 1233.7 1679.7 1234 1677.8 1234.2 1676.3 1234.5 1674.3 1234.8 1672.7 1235.1 1670.8 1235.3 1669.5 1235.6 1667.7 1235.9 1666.4 1236.2 1664.4 1236.5 1662.5 1236.7 1661.6 1237 1659.9 1237.3 1658.1 1237.6 1656 1237.8 1654.6 1238.1 1653.1 1238.4 1651.5 1238.7 1649.6 1238.9 1648.6 1239.2 1647.4 1239.5 1645.9 1239.8 1644.7 1240 1643.2 1240.3 1642 1240.6 1640.9 1240.9 1639.7 1241.1 1638.4 1241.4 1636.9 1241.7 1636.1 1242.4 1633.6 1243 1631.7 1243.7 1629.5 1244.4 1627.4 1245 1625.6 1245.7 1624.3 1246.4 1622.9 1247 1622.3 1247.7 1621.4 1248.4 1620 1249 1619.6 1249.7 1619.3 1251.3 1618.7 1252.8 1619.8 1254.4 1622.2 1256 1623.2 1257.7 1622.5 1258.3 1622 1258.9 1620.7 1259.6 1619.7 1260.3 1618.6 1261 1616.7 1261.7 1615 1262.4 1613.9 1263 1612.5 1263.7 1610.7 1264.4 1608.5 1265.1 1607.4 1265.8 1605.1 1266.5 1603.8 1267.1 1602.5 1267.7 1601.6 1269.5 1600 1271.1 1598.9 1272.7 1597.9 1274.3 1598.1 1275.7 1598 1276.8 1598.8 1277.8 1598.9 1278.8 1599.7 1279.8 1600.6 1280.7 1603 1281.7 1605.9 1282 1607.3 1282.2 1607.9 1282.5 1609.1 1282.8 1611 1283 1611.6 1283.3 1613.5 1283.5 1614.7 1283.8 1616.7 1284.1 1618.3 1284.3 1619.5 1284.6 1621.8 1284.8 1623.2 1285.1 1624.9 1285.4 1627.1 1285.6 1628.8 1285.9 1630 1286.2 1632.1 1286.5 1633.2 1286.8 1635.3 1287.1 1636.4 1287.4 1638.6 1287.7 1640.3 1288.1 1641.6 1288.4 1642.7 1288.8 1644.8 1289.1 1646.4 1289.5 1648 1289.9 1649.4 1290.3 1651.2 1290.7 1653 1291.1 1654.2 1291.5 1656.4 1291.9 1657.6 1292.3 1659.2 1292.7 1660.5 1293.1 1662.1 1293.5 1664.2 1293.9 1664.9 1294.4 1666 1294.8 1667.5 1295.3 1669.3 1295.7 1669.5 1296.6 1671.7 1297.6 1673.2 1298.6 1675 1299.6 1676 1300.6 1676.6 1301.6 1678.3 1302.6 1678.7 1303.7 1680 1304.7 1680.7 1305.7 1682.3 1306.7 1682.6 1307.7 1684 1308.8 1685.2 1309.8 1686.4 1310.8 1688.1 1311.9 1689 1312.9 1690 1313.8 1691.4 1314.8 1693 1315.7 1694 1316.6 1695.3 1317.4 1697.3 1318.2 1699.2 1319 1700.9 1319.8 1702.9 1320.5 1704.4 1321.3 1706.1 1322 1707.7 1322.8 1707.7 1323.6 1707.7 1324.1 1707.5 1324.6 1706.7 1325.1 1705.2 1325.6 1704.1 1326.1 1702.9 1326.6 1700.5 1327.1 1698.8 1327.6 1697.5 1328.1 1695.8 1328.6 1693.1 1329.2 1691.3 1329.7 1690.1 1330.3 1688.2 1331 1687.2 1331.6 1685.4 1332.8 1684.3 1334.1 1682.6 1335.5 1681.6 1337 1681 1338.4 1679.9 1339.9 1679.6 1341.2 1679 1342.5 1678.3 1343.6 1678.2 1345.6 1677.1 1347.1 1677.5 1348.5 1678.4 1350 1681.1 1350.4 1681.5 1350.8 1683.3 1351.2 1684 1351.6 1685.7 1352 1687.3 1352.4 1688.8 1352.7 1689.8 1353.1 1691.9 1353.6 1693.7 1354 1694.5 1354.5 1696.7 1355 1698.3 1355.5 1699.6 1356.1 1700.9 1356.7 1702.3 1357.4 1703.8 1358.2 1705.7 1359 1706.4 1359.8 1707.6 1360.7 1709.2 1361.6 1710.3 1362.6 1711.6 1363.6 1712.7 1364.6 1713.7 1365.7 1714.5 1366.8 1716.4 1367.9 1717.4 1369 1718 1370.2 1719.3 1371.4 1720.3 1372.6 1721.2 1373.8 1722.5 1375.1 1723.2 1376.4 1723.6 1377.8 1724.4 1379.2 1725.5 1380.6 1725.8 1382.1 1727.3 1383.6 1727.1 1385.1 1728.3 1386.5 1728.7 1387.9 1729.6 1389.3 1729.7 1390.7 1730.4 1392 1731.7 1393.2 1732 1394.3 1731.8 1396.3 1732.7 1398.1 1732.6 1399.7 1732.8 1401.2 1732.9 1402.6 1733.7 1404.1 1733.2 1405.7 1733.4 1407.4 1733.9 1408.6 1734.5 1409.8 1736.2 1411 1737 1412.3 1738.3 1413.5 1739.3 1414.8 1740.5 1416.1 1741.1 1417.4 1742.1 1418.7 1743.2 1420 1743.8 1421.3 1744.5 1422.5 1745.3 1423.7 1745.1 1424.9 1744.3 1426 1744 1427.2 1743.6 1428.3 1742.5 1429.4 1741.2 1430.5 1739.8 1431.6 1738.5 1432.7 1736.7 1433.8 1735 1434.8 1733.7 1435.8 1732 1436.8 1730.5 1437.8 1729.7 1439 1728.6 1440.1 1727 1441.1 1725.9 1442.1 1724.9 1443.1 1724 1444 1723.5 1445.1 1722 1446.2 1721.4 1447.4 1720.3 1448.7 1719.2 1449.9 1718.1 1451.2 1717.3 1452.6 1716.3 1454.1 1715.8 1455.6 1715.1 1457.1 1714.2 1458.6 1712.9 1460.2 1712.1 1461.7 1711.3 1463.2 1711.3 1464.6 1710.5 1466 1709.9 1467.6 1710 1469.2 1710 1470.7 1710.2 1472.2 1711.1 1473.7 1711.5 1475.2 1711.6 1476.7 1712.5 1478.2 1712.3 1479.7 1713.1 1481.2 1712.2 1482.6 1712.4 1484 1711.9 1485.4 1711.3 1486.8 1710.2 1488.2 1709.7 1489.5 1708.6 1490.9 1707.8 1492.3 1706.5 1493.7 1706.1 1495.1 1706 1496.5 1706 1497.8 1705.8 1499.1 1707 1500.2 1707.2 1501.4 1708.2 1502.6 1709.2 1503.8 1710.5 1505.1 1711 1506.5 1712.3 1508 1713.3 1509.7 1714.2 1511.7 1714.5 1512.9 1714.8 1514.2 1715.3 1515.5 1715.7 1516.9 1716 1518.4 1715.7 1520 1716.3 1521.6 1716.6 1523.2 1716.5 1524.8 1716.6 1526.5 1717.6 1528.2 1716.9 1529.8 1717.6 1531.5 1717.5 1533.1 1717.5 1534.8 1717.9 1536.3 1718 1537.9 1718.4 1539.3 1719.1 1540.8 1718.5 1542.1 1719 1543.9 1719.6 1545.7 1719.9 1547.4 1719.7 1549.1 1720.3 1550.7 1720.8 1552.2 1721.8 1553.8 1721.7 1555.3 1721.9 1556.7 1722.5 1558.2 1722.8 1559.6 1722.7 1561 1723.4 1562.4 1723.6 1563.8 1723.4 1565.5 1723.4 1567.2 1723.5 1568.9 1723.5 1570.4 1723 1572 1722.1 1573.5 1722.1 1575.1 1721.8 1576.6 1721 1578.1 1720.7 1579.6 1719.7 1581.2 1719.2 1582.4 1718.5 1583.7 1717.7 1584.9 1716.9 1586.2 1715.6 1587.4 1714.4 1588.7 1713.2 1589.9 1711.5 1591.1 1710.7 1592.4 1709.6 1593.6 1708 1594.9 1707.8 1596.1 1706.5 1597.4 1706.3 1598.6 1706 1600.1 1706.2 1601.5 1706.7 1603 1707 1604.5 1708.4 1606 1708.9 1607.4 1710.1 1608.9 1711.7 1610.4 1712.1 1611.8 1713.5 1613.2 1714.5 1614.6 1714.1 1616 1715 1617.5 1714.7 1618.9 1714 1620.4 1713.5 1621.8 1712.6 1623.2 1710.8 1624.6 1710 1625.9 1709 1627.3 1708.1 1628.6 1707.5 1629.9 1706.7 1631.2 1706.3 1632.7 1705.5 1634.1 1706.2 1635.4 1707.2 1636.6 1708 1637.9 1708.6 1639.3 1708.9 1640.8 1710 1642.4 1710.3 1644.2 1710.6 1645.5 1710.5 1646.9 1710.7 1648.3 1710.5 1649.9 1710.6 1651.4 1710 1653 1709.8 1654.7 1709.7 1656.4 1709.3 1658 1708.4 1659.7 1708.9 1661.3 1707.8 1662.9 1707.4 1664.5 1706.3 1666 1705.7 1667.2 1705.7 1668.5 1704.2 1669.7 1703.2 1671 1702.6 1672.3 1700.8 1673.6 1700 1674.8 1698.6 1676.1 1697.7 1677.3 1695.9 1678.5 1694.5 1679.7 1693.3 1680.8 1692.2 1681.9 1690.8 1682.9 1690 1683.8 1689.3 1684.7 1688.8 1685.5 1688.9 1687.4 1688.8 1688.9 1689.1 1690 1690.6 1690.8 1692.4 1691.4 1694.3 1692 1695.2" fill="none" stroke="#ff00ff" stroke-width="6.5" stroke-linejoin="round" stroke-linecap="round"/>
<path d="M70 1708.3 70.9 1708.2 71.9 1707.8 73.1 1707.4 74.5 1707 76 1707.5 77.6 1707.1 79.3 1707.3 81 1706.7 82.8 1706.9 84.5 1706.2 86.3 1706.6 88 1706.4 89.7 1706 91.2 1706.1 92.7 1706.2 94 1705.7 95.9 1706.1 97.5 1706.6 98.9 1706.3 100.3 1707.1 101.6 1707.3 103 1707.8 104.4 1707.7 106 1707.8 107.9 1708.9 110 1709.3 111.2 1709.1 112.4 1709 113.6 1709.3 114.9 1709.9 116.3 1709.8 117.7 1710.6 119.1 1710.5 120.5 1710.3 122 1711 123.5 1710.9 125 1711.7 126.6 1711.9 128.2 1711.7 129.8 1712.1 131.5 1712.3 133.1 1712.6 134.8 1713 136.5 1712.2 138.3 1712.7 140 1713.1 141.4 1712.9 142.7 1713.3 144.2 1712.9 145.6 1713.8 147.1 1713.6 148.5 1713.2 150.1 1713.9 151.6 1713.6 153.1 1713.6 154.7 1713.9 156.2 1713.7 157.8 1713.8 159.4 1714.6 161 1714.5 162.6 1713.8 164.2 1714.7 165.8 1714 167.4 1714.4 169 1715 170.6 1714.8 172.2 1714.5 173.7 1714.6 175.3 1714.7 176.9 1714.5 178.5 1715.4 180 1714.6 181.6 1715 183.2 1715.4 184.8 1715 186.5 1715.7 188.2 1715 189.9 1715.7 191.6 1715.7 193.4 1715.5 195.1 1715.7 196.9 1715.3 198.6 1715.7 200.3 1715.7 202 1715.5 203.7 1715.4 205.3 1715.7 207 1715.4 208.5 1715.1 210.1 1715.8 211.5 1715.4 213 1715.6 214.3 1716 215.6 1715.4 216.8 1715.3 218 1715.5 219 1716 220 1715.9 223.6 1716.3 225.4 1717.3 226.2 1718.6 226.7 1718.5 227.8 1718.9 229.1 1719.1 230.2 1718.1 231.4 1716.8 233.2 1716.3 235.8 1716 236.9 1715.7 238.1 1716 239.4 1716 240.8 1716.6 242.3 1716.3 243.8 1716.8 245.4 1717.3 247.1 1717.5 248.7 1717.2 250.4 1717.6 252.1 1717.6 253.7 1717.9 255.3 1718.3 256.9 1718.8 258.4 1719.2 259.8 1718.8 261.4 1718.8 263 1719.5 264.5 1719.4 266 1719.7 267.5 1720.8 268.9 1720.4 270.3 1721.4 271.8 1721.4 273.3 1722.2 274.8 1722.5 276.3 1722 278 1722.4 279.7 1723.4 281.1 1723.3 282.6 1723.3 284.1 1723.8 285.7 1724 287.3 1723.9 289 1724 290.7 1723.8 292.4 1724.2 294 1724.2 295.7 1724.8 297.3 1724.9 298.9 1724.6 300.4 1725.3 301.9 1725 303.2 1725.2 304.5 1725.9 305.7 1726 307.9 1726.8 309.7 1726.9 311.2 1727.2 312.6 1727 313.8 1728.2 315 1728.2 316.3 1729.7 317.7 1731.4 318.4 1732.2 319.2 1733.1 319.9 1733.7 320.7 1734.9 321.5 1736.1 322.2 1736.6 323 1738.6 323.7 1739.8 324.5 1740.7 325.2 1742.5 325.9 1743.6 326.6 1745 327.4 1747 328 1748 328.7 1750.5 329.4 1752.5 329.8 1752.9 330.2 1754.8 330.6 1755.2 331 1757.3 331.4 1758 331.7 1760.1 332.1 1760.9 332.5 1762.9 332.8 1763.4 333.2 1765 333.5 1767.2 333.9 1768.5 334.2 1770 334.6 1771 334.9 1772.7 335.3 1774.5 335.6 1775.7 336 1778.2 336.3 1779.6 336.7 1781.3 337 1782.6 337.4 1783.8 337.7 1785.1 338.1 1787.3 338.4 1788.1 338.8 1790 339.2 1791.4 339.5 1792.9 339.9 1793.9 340.3 1795.4 340.6 1797.3 341 1798.2 341.4 1800.2 341.7 1801.2 342.1 1802.8 342.5 1804.1 342.8 1805.9 343.2 1807.2 343.6 1808.5 343.9 1809.9 344.3 1811.7 344.6 1813.5 345 1814.5 345.4 1815.7 345.7 1817.3 346.1 1818.7 346.5 1820.5 346.8 1822.2 347.2 1823.5 347.6 1824.6 347.9 1826.3 348.3 1827.9 348.6 1829.4 349 1830.8 349.3 1832.9 349.7 1833.9 350 1835.6 350.3 1837.2 350.7 1838.6 351 1840.4 351.4 1841.5 351.7 1843.4 352.1 1845.2 352.4 1846 352.8 1848.1 353.1 1849.4 353.4 1850.6 353.8 1852.2 354.1 1854.4 354.5 1855.3 354.8 1857.5 355.1 1858.4 355.5 1860.1 355.8 1861.3 356.1 1863.2 356.4 1864.9 356.8 1865.7 357.1 1867.4 357.4 1869.1 357.7 1869.8 358.1 1871.8 358.5 1873.8 359 1875.6 359.4 1876.6 359.8 1878.7 360.2 1879.8 360.6 1881.4 361 1883.8 361.4 1884.4 361.7 1886.8 362.1 1888.1 362.5 1889.5 362.9 1890.9 363.3 1892.3 363.6 1893.3 364 1894.8 364.4 1895.9 364.8 1897.8 365.1 1899 365.5 1900.3 366 1901.5 366.6 1903.8 367.1 1905.3 367.6 1907.8 368.2 1909.6 368.7 1911.6 369.2 1913 369.7 1914.6 370.3 1916.1 370.8 1916.7 371.2 1918.3 371.7 1918.6 372.2 1919.5 372.6 1919.6 373.2 1920.5 373.7 1919.1 374.2 1919.1 374.7 1917.9 375.2 1915.9 375.6 1914.5 376.1 1911.6 376.5 1909.5 377 1907 377.5 1904.6 377.7 1903.4 377.9 1903.1 378.2 1901.2 378.4 1900.5 378.6 1898.9 378.9 1897.5 379.1 1896.5 379.3 1894.9 379.6 1894.3 379.8 1892.3 380 1891 380.3 1889.5 380.5 1888 380.8 1886.3 381 1884.4 381.2 1882.6 381.5 1881.7 381.7 1879.2 381.9 1877.7 382.1 1876.2 382.4 1874 382.6 1872.4 382.8 1870.3 382.9 1868.8 383.1 1867.1 383.2 1866.2 383.3 1864.7 383.4 1863.7 383.5 1861.9 383.7 1860.6 383.8 1859.2 383.9 1857.3 384 1856.1 384.1 1854.5 384.2 1852.2 384.3 1851.3 384.4 1849.6 384.5 1847.9 384.7 1845.7 384.8 1843.9 384.9 1842.1 385 1840.7 385.1 1839.5 385.2 1837.3 385.3 1835.3 385.4 1833.9 385.6 1832 385.7 1830.9 385.8 1829.4 385.9 1828 386 1825.6 386.2 1824.3 386.3 1822.5 386.4 1821.8 386.6 1820.3 386.7 1818.5 386.9 1817.6 387 1815.8 387.2 1814.7 387.3 1813.2 387.5 1811.9 387.8 1810.4 388.1 1808.2 388.4 1806 388.8 1804.4 389.1 1802.4 389.5 1800.8 389.8 1798.4 390.2 1796.9 390.6 1795.3 391 1794.3 391.4 1792.9 391.7 1791 392.1 1789.9 392.5 1788.2 392.9 1787.5 393.3 1786.3 393.8 1784.4 394.2 1784 394.6 1782.5 395 1780.8 395.4 1779.9 396.1 1777.7 396.9 1776.4 397.6 1774.9 398.4 1772.6 399.2 1771.1 400 1770.2 400.8 1769.1 401.6 1767.8 402.4 1766.3 403.2 1764.8 404 1764.2 404.8 1763 406 1761.8 407.2 1760.3 408.4 1759.3 409.6 1758.5 410.8 1757.1 412 1756.5 413.1 1754.8 414.2 1753.5 415.4 1753.1 416.6 1750.9 417.7 1750.6 418.8 1748.7 419.9 1747 421 1746 422.1 1745.2 423 1743.7 423.4 1742.8 423.8 1741.1 424.4 1740.8 425.4 1739.3 427.2 1738.7 430 1737 431 1737.3 432.1 1736.9 433.3 1736.6 434.6 1736 436 1736.2 437.5 1736.3 439.1 1735.4 440.7 1735.5 442.4 1734.8 444.2 1735.6 445.9 1735.4 447.7 1734.9 449.5 1734.5 451.3 1733.9 453.1 1733.7 454.9 1734.1 456.7 1734 458.4 1734 460.1 1733.7 461.8 1733.1 463.4 1732.7 464.9 1732.8 466.3 1732.4 467.6 1732.4 468.9 1732.5 470 1731.9 472.3 1731.9 474.4 1731 476.1 1729.7 477.6 1729.8 478.9 1729.1 480.1 1728.5 481.2 1727.3 482.2 1727.7 483.3 1726.9 484.4 1726.7 485.6 1726.2 487.2 1726.1 488.6 1726.3 489.8 1727 491 1727.7 492.4 1728.2 494 1728.7 496 1729.9 498.5 1730.2 499.6 1730.5 500.9 1729.9 502.2 1730.5 503.6 1730.4 505.1 1729.9 506.6 1730.8 508.2 1730.3 509.9 1730.2 511.6 1730.2 513.3 1730.9 515 1730.3 516.7 1730.4 518.4 1730.6 520.1 1730.4 521.8 1730.6 523.4 1730 525 1730.3 526.6 1730.4 528.1 1730.3 529.5 1730.2 530.8 1729.8 532.7 1729.9 534.4 1730 536.1 1729.3 537.7 1729.1 539.2 1729 540.7 1728.1 542.1 1727.7 543.5 1728 544.9 1726.9 546.3 1726.7 547.7 1726.2 549.2 1726.4 550.7 1725.5 552.3 1725.4 553.7 1724.2 555.2 1723.9 556.7 1723.7 558.2 1722.8 559.7 1722.5 561.2 1721.7 562.7 1720.7 564.3 1720.1 565.8 1719.9 567.3 1719.4 568.8 1718.6 570.3 1718.3 571.8 1717.7 573.2 1717.7 574.6 1717.7 576 1717.8 577.5 1718.2 579.1 1718.8 580.6 1719.2 582.2 1719.9 583.7 1720.1 585.2 1721.2 586.6 1722.3 588.1 1723.4 589.4 1723.7 590.8 1724.4 592 1725.3 593.2 1726.6 594.4 1727.7 595.4 1727.7 597.2 1729.6 598.5 1730.7 599.6 1732.2 600.6 1733.4 601.5 1733.6 602.6 1735 604 1734.6 605.2 1734.5 606.4 1734.3 607.7 1733.7 609 1732.5 610.4 1731.8 611.9 1730.8 613.5 1730.1 615.2 1729.6 617 1729.5 618.2 1729.9 619.4 1730.3 620.8 1730.7 622.1 1731.4 623.5 1731.9 625 1732.3 626.5 1732.8 628 1733.7 629.5 1734 631 1734.6 632.5 1735.2 634.1 1736.4 635.6 1736.5 637 1737.2 638.5 1737.9 639.9 1738.6 641.4 1739.2 642.8 1739.7 644.2 1740.4 645.7 1740.6 647.1 1741.9 648.5 1742.3 650 1742.5 651.4 1743 652.8 1743.7 654.3 1743.6 655.7 1744.5 657.1 1745 658.6 1744.6 660 1744.8 661.5 1744.5 662.9 1745 664.4 1744.1 665.9 1743.7 667.4 1743.6 668.9 1742.7 670.5 1742.7 671.9 1741.6 673.4 1741.2 674.9 1740.3 676.3 1740 677.7 1739.3 679 1738.4 680.3 1738.8 681.6 1737.7 683.4 1737.6 685.1 1737.2 686.8 1736.6 688.4 1736 690 1735.8 691.4 1736 692.9 1734.8 694.2 1735.5 695.5 1735.2 696.7 1735.1 698.6 1735.6 700.2 1736.3 701.7 1737.4 703 1738.5 704.2 1739.1 705.3 1739.9 706.7 1740.7 707.7 1741.8 708.7 1742.5 710 1744.6 710.4 1746 710.8 1746.7 711.3 1748.1 711.8 1749.7 712.3 1751.1 712.8 1752.5 713.3 1754.3 713.8 1755.7 714.3 1757.7 714.9 1759.1 715.4 1760.2 715.9 1762.3 716.5 1763.5 717 1765.6 717.5 1766.7 718 1767.9 718.6 1769.3 719.1 1771.6 719.7 1772.9 720.2 1774.4 720.8 1776.9 721.3 1777.9 721.9 1779.7 722.4 1781.3 723 1783.4 723.6 1784.7 724.2 1785.8 724.8 1787.1 725.4 1787.4 726 1787.5 726.9 1788.4 727.9 1787.1 728.9 1786.2 729.9 1785.2 730.9 1784.6 731.9 1782.4 732.9 1780.5 734 1778.6 735 1776.7 736 1775.3 736.6 1774 737.2 1772.3 737.8 1770.9 738.4 1770.1 739 1768.4 739.5 1766.8 740.1 1765 740.7 1764.2 741.3 1762.2 741.9 1761 742.5 1759.2 743.1 1757.6 743.8 1755.5 744.5 1754.9 745.2 1753.5 745.9 1751.4 746.7 1750 747.5 1749.2 748.3 1747.8 749.2 1746 750 1745.4 750.9 1743.2 751.8 1742.4 752.7 1741 753.7 1739.6 754.6 1738.8 755.6 1737.5 756.7 1736.8 757.7 1735.8 758.8 1734.1 759.9 1733.6 761.3 1733 762.7 1732 764.3 1731.7 765.9 1730.6 767.6 1730.2 769.3 1730.2 771 1729.5 772.7 1729.3 774.3 1729.2 775.8 1729.2 777.3 1729.2 778.7 1729 779.9 1728.8 782.1 1728.6 784 1728.9 785.5 1729.1 786.9 1729.6 788.3 1730.7 789.9 1732 790.6 1732.3 791.2 1733.8 791.9 1734.5 792.5 1735.7 793.2 1737.1 793.9 1738 794.5 1739.9 795.2 1741.1 795.8 1742.6 796.5 1744.4 797.2 1746.2 797.8 1747.7 798.5 1748.9 799.2 1750.8 799.9 1751.9 800.6 1753.3 801.2 1754.9 801.9 1756.5 802.6 1758.2 803.3 1760.9 804 1762.4 804.6 1764.3 805.3 1766.1 806 1767.7 806.7 1769.5 807.4 1770.3 808.1 1771.7 808.8 1773.2 809.5 1774 810.2 1774.1 810.9 1774.5 811.6 1774.4 812.3 1774.4 813 1773.2 813.7 1771 814.4 1769.6 815.1 1767.7 815.7 1765.5 816.4 1763.6 817.1 1762.3 817.9 1760.2 818.6 1757.8 819.4 1756.7 820.2 1754.8 821 1754.4 821.9 1753.4 822.9 1753.9 823.9 1754.3 824.9 1755.5 826 1756.2 827.1 1757.9 828.3 1758.7 829.4 1760.6 830.6 1761.8 831.8 1763.1 833 1765.4 834.2 1765.7 835.4 1766.9 836.6 1767.5 837.8 1767.5 838.9 1768 839.9 1767.5 841 1766.5 842.2 1765.9 843.3 1765.3 844.4 1763.5 845.5 1762.9 846.7 1761.9 847.8 1760.4 849 1759 850.1 1757.4 851.3 1756 852.4 1754.8 853.5 1753.8 854.7 1752.6 855.8 1752.1 857 1750.4 858.2 1749.3 859.4 1748.8 860.6 1747.3 861.8 1745.8 863 1745.3 864.2 1743.4 865.4 1742.6 866.6 1741.6 867.8 1740.8 869 1739.6 870.2 1739.6 871.4 1738.6 872.6 1737.9 873.8 1737.9 875.2 1737.6 876.5 1738 877.8 1738.5 879.1 1738.7 880.5 1740.1 881.8 1740.2 883.1 1742 884.4 1742.4 885.8 1743.4 887.2 1743.9 888.7 1745 890.2 1745.3 891.8 1745.9 893.2 1746.1 894.6 1745.5 896.1 1745.3 897.7 1746 899.3 1745 900.9 1745.2 902.6 1744.9 904.2 1744.6 905.9 1743.5 907.5 1743.8 909.1 1743.7 910.6 1742.6 912 1742.4 913.3 1743.1 914.6 1742.9 915.7 1743 917.6 1743.3 919 1743.3 920.1 1743.2 921.1 1743.7 922 1744.3 923 1746.2 924.2 1747.9 925.7 1750.5 926.3 1750.6 926.8 1751.5 927.5 1752.8 928.1 1754.6 928.8 1755.2 929.5 1757.2 930.2 1758.4 931 1760.1 931.7 1760.9 932.5 1763.2 933.3 1764.4 934 1766.4 934.8 1767.3 935.6 1769.2 936.4 1771.1 937.1 1772.4 937.9 1774.2 938.6 1775.3 939.4 1776.9 940.1 1778.7 940.7 1779.7 941.4 1781.5 942 1782 942.6 1783 943.2 1783.9 943.7 1784.9 945.7 1787.1 947 1788.6 948.1 1787.4 949.5 1786.8 951.7 1786.1 952.8 1785.1 954 1784.5 955.3 1784.1 956.8 1783.6 958.3 1782.7 959.9 1781.8 961.4 1780.8 963.1 1779.2 964.7 1779.2 966.2 1777.6 967.7 1776.7 969.2 1776.6 970.5 1775.6 971.7 1775.3 973.6 1775.2 975.3 1775.9 976.8 1775.4 978.2 1776.3 979.6 1777 980.9 1777.1 982.3 1778 983.7 1779.5 984.5 1780.8 985.3 1781.8 986.1 1782.5 986.9 1784.1 987.7 1784.7 988.6 1785.9 989.4 1787.7 990.2 1789.4 991 1791 991.8 1792.6 992.6 1794.1 993.3 1795.7 994.1 1796.8 994.9 1798.2 995.6 1799.3 996.2 1801.1 996.9 1802.8 997.5 1804.1 998.1 1805.2 998.8 1806.8 999.4 1808.4 1000 1810.2 1000.6 1811.4 1001.2 1812.8 1001.8 1814.6 1002.4 1816.1 1002.9 1816.6 1003.5 1819 1004 1819.7 1004.6 1820.7 1005.1 1822.3 1005.6 1823.3 1006.3 1825 1007 1827.5 1007.7 1828.8 1008.3 1830.1 1008.9 1832.3 1009.5 1833.2 1010.1 1834.8 1010.7 1836.2 1011.3 1837.4 1012 1839.1 1012.7 1839.7 1013.7 1841.8 1014.8 1842.7 1015.9 1843.9 1017 1844.8 1018.2 1846.4 1019.4 1846.7 1020.6 1847.9 1021.8 1848.8 1022.9 1849.5 1024.1 1850.1 1025.4 1851.4 1026.6 1852.1 1027.9 1852.3 1029.1 1853.2 1030.4 1854.5 1031.6 1855 1032.7 1856.8 1033.3 1858.3 1033.9 1858.9 1034.5 1860.1 1035.1 1861.7 1035.7 1862.8 1036.3 1864.1 1036.9 1865.5 1037.5 1867.9 1038 1869.3 1038.6 1870.3 1039.2 1871.8 1039.7 1873.8 1040.2 1875.4 1040.8 1877.4 1041.3 1878.4 1041.8 1879.6 1042.3 1881.8 1042.7 1882.5 1043.2 1884.1 1043.7 1885.6 1044.1 1887.8 1044.6 1889.4 1045 1890.4 1045.5 1892.1 1045.9 1893.8 1046.3 1895 1046.7 1896.9 1047.1 1897.9 1047.5 1899.8 1047.9 1900.6 1048.3 1902 1048.6 1903.4 1049 1904.7 1049.5 1907.3 1049.9 1908.6 1050.3 1911.1 1050.7 1912.5 1051.1 1915.4 1051.4 1917.2 1051.8 1918.9 1052.1 1920.8 1052.5 1921.2 1052.8 1922.9 1053.2 1922.9 1053.6 1923.9 1054 1922.9 1054.5 1922.8 1054.9 1922.4 1055.4 1921.4 1055.8 1920.6 1056.3 1918.4 1056.7 1917.6 1057.2 1914.8 1057.7 1913.5 1058.1 1910.9 1058.6 1907.5 1059 1904.6 1059.1 1903.6 1059.3 1902.4 1059.4 1901.3 1059.6 1900.1 1059.7 1899.1 1059.9 1897.8 1060 1896.1 1060.2 1895.4 1060.3 1893.6 1060.4 1892 1060.6 1890.7 1060.7 1888.9 1060.9 1887.6 1061 1885.9 1061.2 1883.8 1061.3 1882.6 1061.4 1880.7 1061.6 1878.4 1061.7 1877 1061.9 1875.6 1062 1873.9 1062.1 1872.2 1062.3 1870.5 1062.4 1868.8 1062.6 1867.3 1062.7 1865 1062.8 1864 1063 1862.3 1063.1 1860.6 1063.2 1858.5 1063.4 1857.3 1063.5 1856 1063.6 1854.5 1063.7 1852.5 1063.9 1850.9 1064 1850 1064.2 1847.8 1064.3 1846.5 1064.5 1844.5 1064.6 1842.9 1064.8 1842.1 1064.9 1840.4 1065.1 1838.4 1065.2 1837.4 1065.3 1835.8 1065.5 1834.6 1065.6 1833.6 1065.7 1832.4 1065.9 1830.2 1066 1828.8 1066.2 1828.3 1066.3 1826.2 1066.4 1825.4 1066.6 1823.8 1066.8 1822.3 1066.9 1820.8 1067.1 1818.9 1067.3 1817.7 1067.5 1816.1 1067.7 1813.6 1067.9 1811.7 1068.1 1809.9 1068.2 1808.6 1068.4 1807.5 1068.5 1806.6 1068.7 1804.6 1068.8 1803.8 1069 1801.7 1069.1 1800.3 1069.3 1799.1 1069.5 1797.5 1069.6 1796.2 1069.8 1794.3 1069.9 1792.4 1070.1 1791.2 1070.3 1789 1070.5 1787.1 1070.6 1785.7 1070.8 1784.7 1071 1782 1071.2 1781.2 1071.4 1779.3 1071.5 1777.6 1071.7 1775.8 1071.9 1773.7 1072.1 1772.3 1072.3 1771.2 1072.5 1769.3 1072.7 1767.3 1072.9 1765.7 1073.1 1764 1073.3 1762.4 1073.5 1760.8 1073.7 1759.1 1073.9 1758.3 1074.1 1756 1074.3 1754.6 1074.5 1753.7 1074.7 1752.6 1074.9 1751.1 1075.1 1749.3 1075.3 1748.4 1075.5 1747.7 1075.7 1746.4 1075.9 1744.7 1076.4 1743 1076.9 1740.7 1077.4 1737.7 1078 1736.3 1078.5 1733.7 1079.1 1731.7 1079.6 1730.3 1080.2 1729.3 1080.8 1727.6 1081.3 1725.7 1081.9 1725.2 1082.5 1723.5 1083.1 1723.1 1083.6 1722 1084.2 1721.4 1084.8 1720.6 1085.3 1720.3 1085.9 1719.9 1086.7 1720 1087.6 1719.6 1088.4 1720.3 1089.3 1720.6 1090.2 1721.1 1091 1722.8 1091.9 1724.5 1092.7 1725.8 1093.5 1727.7 1094.3 1730.1 1095.1 1732.1 1095.9 1734.7 1096.2 1736 1096.4 1736.7 1096.7 1738.1 1097 1739.3 1097.2 1740.5 1097.5 1741.7 1097.7 1743.1 1098 1744.6 1098.3 1746.1 1098.5 1747 1098.8 1748.7 1099 1749.8 1099.2 1751.2 1099.5 1753 1099.7 1754.3 1100 1755.9 1100.2 1757.8 1100.5 1759.3 1100.7 1760.6 1100.9 1762.7 1101.2 1764.7 1101.4 1765.7 1101.6 1767.9 1101.9 1769.2 1102.1 1771.3 1102.3 1773.2 1102.5 1775 1102.8 1776.6 1103 1777.8 1103.2 1780.1 1103.4 1781.1 1103.7 1783.6 1103.9 1785.2 1104.1 1786.8 1104.2 1787.6 1104.4 1789.6 1104.6 1790.7 1104.8 1791.8 1104.9 1794.2 1105.1 1795 1105.2 1797.1 1105.4 1798.7 1105.6 1800.4 1105.7 1802 1105.9 1804 1106.1 1805.4 1106.2 1806.5 1106.4 1808.7 1106.5 1810.8 1106.7 1812.4 1106.9 1813.8 1107 1815.6 1107.2 1817.6 1107.3 1819.3 1107.5 1820.3 1107.6 1822.2 1107.8 1824 1108 1825.3 1108.1 1827.6 1108.3 1829.2 1108.4 1830.4 1108.6 1832.3 1108.7 1834.2 1108.9 1835.2 1109 1836.5 1109.2 1838.2 1109.4 1839.8 1109.5 1840.6 1109.7 1842.4 1109.8 1843.7 1110 1844.3 1110.2 1845.9 1110.3 1846.6 1110.5 1848.1 1110.6 1848.8 1110.8 1849.6 1111.6 1853.7 1112.3 1856.9 1113.1 1858.4 1113.8 1860.7 1114.6 1861.3 1115.4 1862 1116.2 1862.2 1117 1862.1 1117.9 1861.6 1118.7 1861.2 1119.5 1860.7 1120.3 1860.4 1121.2 1858.7 1122 1856.6 1122.9 1855.5 1123.8 1853.8 1124.7 1851.8 1125.5 1850.7 1126.3 1849.6 1127.1 1848.5 1128.2 1846.4 1129.3 1845 1130.4 1843.4 1131.4 1841.4 1132.4 1840.5 1133.4 1839.6 1134.4 1840.3 1135.1 1840.8 1135.8 1841.3 1136.5 1841.8 1137.2 1843.3 1137.9 1844.3 1138.6 1845.6 1139.3 1847.6 1140 1849.3 1140.8 1852.1 1141.6 1853.5 1142 1855.4 1142.3 1856.1 1142.7 1856.9 1143.1 1859 1143.5 1859.9 1143.8 1861 1144.2 1862.9 1144.6 1864.2 1145 1865.7 1145.4 1867.1 1145.8 1868.4 1146.2 1870.7 1146.6 1871.5 1147.1 1873.1 1147.5 1875.1 1147.9 1877 1148.3 1878.3 1148.7 1880.5 1149.1 1882 1149.5 1883.3 1149.9 1885.2 1150.3 1886.9 1150.7 1887.7 1151.1 1889.2 1151.4 1891.3 1151.8 1892.2 1152.1 1894.3 1152.5 1895.6 1152.8 1897 1153.2 1898.5 1153.5 1900.1 1153.9 1901.8 1154.2 1903.1 1154.6 1904.1 1154.9 1905.6 1155.3 1907.2 1155.6 1909.3 1156 1910.3 1156.3 1911.6 1156.7 1913.4 1157.1 1914.9 1157.4 1916.9 1157.8 1918.3 1158.2 1919 1158.6 1920.8 1159 1922.4 1159.4 1923.5 1159.8 1925.5 1160.3 1926.9 1160.8 1927.9 1161.4 1929.8 1161.9 1932.2 1162.5 1934.1 1163 1935 1163.6 1936.9 1164.2 1939.2 1164.8 1940.6 1165.3 1942.1 1165.9 1944.2 1166.5 1945.8 1167.1 1946.6 1167.7 1948.4 1168.3 1949.8 1168.9 1950.7 1169.4 1951.7 1170 1953.2 1170.5 1953.1 1171.1 1953.6 1171.6 1954.3 1172.4 1954.1 1173.1 1954 1173.9 1953.7 1174.6 1953 1175.3 1952.3 1176.1 1950.3 1176.8 1948.7 1177.5 1947.4 1178.2 1945.4 1178.9 1943.1 1179.5 1941 1180.2 1939.5 1180.9 1937.3 1181.6 1934.7 1182 1933.6 1182.3 1932.3 1182.7 1931.4 1183 1930.6 1183.4 1929.1 1183.7 1927.9 1184.1 1926.4 1184.4 1924.7 1184.8 1922.8 1185.1 1921.4 1185.5 1919.9 1185.8 1919.2 1186.2 1917.2 1186.5 1916 1186.8 1913.9 1187.2 1912.2 1187.5 1911 1187.8 1909 1188.2 1908.1 1188.5 1906.1 1188.8 1904.4 1189.1 1902.7 1189.5 1901.5 1189.8 1899.5 1190.1 1897.9 1190.4 1896.9 1190.7 1895.1 1191 1893.1 1191.3 1892.3 1191.5 1890.5 1191.8 1888.7 1192.1 1887.1 1192.3 1886 1192.6 1883.8 1192.9 1882.6 1193.1 1880.5 1193.4 1879 1193.6 1877.5 1193.9 1875.5 1194.2 1873.6 1194.4 1872.4 1194.6 1870.9 1194.9 1868.7 1195.1 1867.5 1195.4 1865.9 1195.6 1864.7 1195.9 1862.6 1196.1 1861.2 1196.3 1859.7 1196.6 1859.1 1196.8 1857.6 1197 1856.5 1197.2 1855.2 1197.5 1854.5 1197.7 1852.8 1197.9 1851.5 1198.8 1848.8 1199.5 1845.9 1200.3 1844.1 1201 1842.9 1201.8 1842.8 1202.5 1842.5 1203.4 1841.7 1204.3 1842 1205.3 1843.3 1206.3 1844.1 1207.4 1845.8 1208.4 1846.6 1209.5 1848.6 1210.6 1849.5 1211.4 1851.1 1212.2 1852.7 1213 1854.1 1213.9 1855.9 1214.7 1857.3 1215.6 1859.8 1216.4 1860.5 1217.3 1861.9 1218 1862.4 1218.8 1863 1219.6 1862.7 1220.4 1862.6 1221.1 1861.6 1221.8 1860.6 1222.5 1858.8 1223.2 1856.5 1223.9 1855.2 1224.5 1852.3 1225.2 1850.3 1225.5 1849.1 1225.7 1847.6 1225.9 1847.3 1226.2 1845.9 1226.4 1844.6 1226.6 1843.2 1226.8 1842 1227 1840.6 1227.2 1839.3 1227.4 1838.2 1227.6 1836.8 1227.8 1836.1 1228 1834 1228.3 1833.1 1228.5 1831 1228.7 1829 1229 1827.1 1229.2 1826.2 1229.5 1823.4 1229.7 1821.8 1230 1819.7 1230.3 1817.2 1230.6 1814.7 1230.7 1813.9 1230.9 1812.7 1231 1811.5 1231.2 1809.9 1231.3 1808.6 1231.5 1807.6 1231.6 1806.1 1231.8 1805.2 1231.9 1803.6 1232.1 1802 1232.3 1800.6 1232.4 1799.3 1232.6 1798 1232.7 1796.5 1232.9 1794.5 1233.1 1792.9 1233.2 1791.2 1233.4 1789.8 1233.6 1787.9 1233.7 1787 1233.9 1785 1234.1 1783.2 1234.3 1781.8 1234.4 1780.1 1234.6 1778 1234.8 1776.7 1235 1775.1 1235.2 1773 1235.3 1771.6 1235.5 1770 1235.7 1767.7 1235.9 1766.8 1236.1 1764.7 1236.3 1763.1 1236.5 1761.9 1236.7 1759.7 1236.9 1757.9 1237.1 1756.9 1237.3 1755 1237.5 1754.2 1237.7 1752 1237.9 1751 1238.1 1749.1 1238.4 1748.1 1238.6 1746.7 1238.8 1745.3 1239 1743.9 1239.2 1742.8 1239.5 1741.5 1239.7 1739.9 1240.1 1738.4 1240.4 1735.9 1240.8 1734 1241.2 1732.9 1241.6 1730.9 1242 1729.3 1242.4 1727.1 1242.8 1725.6 1243.2 1724.6 1243.6 1722.4 1244.1 1721.6 1244.5 1720.1 1245 1718.5 1245.4 1716.4 1245.8 1715.5 1246.3 1714.3 1246.7 1712 1247.2 1711 1247.6 1709.3 1248.1 1708.7 1248.6 1706.6 1249 1706 1249.4 1704.6 1249.9 1703.4 1250.3 1702.2 1250.8 1700.9 1251.2 1698.9 1251.6 1698.3 1252.1 1696.6 1252.5 1696 1252.9 1694.2 1253.3 1692.9 1253.7 1691.9 1254.3 1690 1254.9 1688.5 1255.4 1686.6 1256 1684.9 1256.6 1683.4 1257.1 1682.2 1257.7 1680 1258.3 1678.8 1258.8 1677.2 1259.3 1675.4 1259.9 1673.8 1260.4 1672.7 1261 1671.2 1261.5 1669.7 1262 1668.6 1262.6 1667.2 1263.1 1665.9 1263.6 1664.7 1264.1 1663.9 1264.7 1662.5 1265.2 1661.5 1265.7 1660.2 1266.5 1658.2 1267.3 1656.1 1268.2 1654.7 1269 1652.9 1269.8 1650.6 1270.6 1649 1271.4 1648.3 1272.2 1646.2 1273 1644.6 1273.7 1644.4 1274.5 1643.6 1275.2 1642.6 1276 1642.3 1276.7 1641.7 1277.5 1642 1278.2 1642.7 1278.9 1643.2 1279.6 1644.5 1280.4 1646.3 1281 1647.6 1281.7 1649.6 1282.4 1651.7 1283.1 1653.6 1283.7 1655.4 1284.4 1656.6 1285 1658.5 1285.7 1659.9 1286.3 1661 1286.8 1662.2 1287.3 1663.9 1287.7 1665.7 1288.1 1666.6 1288.6 1668.1 1289 1669.2 1289.5 1670.7 1290 1672.8 1290.6 1674.2 1291.2 1675.8 1291.9 1676.8 1292.8 1678.1 1293.7 1680 1294.4 1680.7 1295.2 1681.9 1296.1 1683.1 1297.1 1684.7 1298 1685.8 1299.1 1686.6 1300.1 1688.3 1301.2 1689.6 1302.3 1690.1 1303.5 1691.2 1304.6 1692.9 1305.7 1693.8 1306.8 1695.8 1307.9 1696.3 1309 1698 1310 1698.6 1311 1700.4 1311.9 1701.3 1312.8 1702.4 1313.6 1703.9 1314.5 1705.1 1315.3 1707.2 1316.1 1709.1 1316.8 1710.4 1317.5 1712.3 1318.1 1714.3 1318.8 1716.6 1319.4 1717.7 1319.9 1719.6 1320.5 1721.2 1321.1 1723.5 1321.6 1724.2 1322.2 1725.9 1322.8 1726.9 1323.4 1727.7 1324 1727.6 1324.6 1727.7 1325.2 1727.4 1325.9 1727 1326.5 1726.5 1327.2 1724.7 1327.8 1724 1328.5 1722.3 1329.2 1719.9 1329.9 1718.2 1330.5 1716.7 1331.2 1714.2 1331.8 1712.1 1332.4 1710.5 1333 1708.7 1333.6 1706.8 1334.1 1705.5 1334.7 1704.2 1335.2 1703.3 1335.6 1702.1 1337.4 1699.8 1338.5 1699.2 1340 1699.7 1341.1 1698.5 1342.2 1696.8 1343.5 1695 1344.8 1694.7 1346.2 1693.3 1347.6 1693.7 1348.3 1694.5 1348.9 1695.3 1349.6 1696.9 1350.3 1698.1 1351 1699.3 1351.7 1701.1 1352.4 1703.1 1353.1 1704.5 1353.9 1706.7 1354.7 1708.2 1355.6 1709.3 1356.5 1711.2 1357.4 1712.3 1358.2 1713.4 1359.1 1714.6 1360 1716.5 1360.9 1717.2 1361.8 1719.1 1362.8 1719.5 1363.8 1721.3 1364.8 1722.1 1365.8 1723.1 1366.9 1724.8 1367.9 1726 1369.1 1726.7 1370.2 1727.7 1371.4 1728.6 1372.6 1730 1373.8 1730.7 1375.1 1732.1 1376.4 1732.7 1377.8 1733.4 1379.2 1734.4 1380.6 1735.3 1382.1 1735.6 1383.6 1736.4 1385.1 1736.7 1386.5 1737.7 1387.9 1738.2 1389.3 1738.4 1390.7 1739.9 1392 1739.5 1393.2 1740.1 1394.3 1740.6 1396.3 1741.6 1398.1 1740.8 1399.6 1741.1 1401.1 1740.3 1402.5 1739.7 1404 1739.7 1405.6 1740.4 1407.4 1742.1 1408.1 1742.9 1408.8 1743.3 1409.6 1744.8 1410.4 1745.6 1411.2 1747.1 1412 1749.2 1412.8 1750.3 1413.7 1752.1 1414.5 1754.5 1415.4 1755.4 1416.2 1757.4 1417.1 1759.2 1418 1761.1 1418.8 1763 1419.7 1764.2 1420.5 1765.6 1421.3 1767.6 1422.1 1768.6 1422.9 1769.8 1423.7 1771.1 1424.4 1771.1 1425.1 1771.9 1425.8 1772.4 1426.8 1772.2 1427.7 1771.6 1428.6 1771.2 1429.5 1770.2 1430.3 1769.3 1431.1 1768 1431.9 1765.8 1432.6 1763.9 1433.4 1762.2 1434.1 1760.6 1434.8 1758.5 1435.6 1756 1436.3 1754.9 1437 1753.1 1437.8 1751.3 1438.7 1750 1439.5 1748.4 1440.3 1747.2 1441 1745.9 1441.8 1744.8 1442.5 1743 1443.3 1742.1 1444.1 1740.8 1444.9 1739.8 1445.8 1738.2 1446.7 1736.7 1447.7 1735.6 1448.7 1734.4 1449.7 1732.7 1450.7 1731.9 1451.8 1731 1452.9 1729.2 1454.1 1728.1 1455.3 1726.8 1456.5 1726.4 1457.7 1724.5 1458.9 1723.6 1460.2 1723.2 1461.4 1722.3 1462.6 1721.1 1463.7 1720.2 1464.9 1719.3 1466 1719.2 1467.6 1718.2 1469.2 1719 1470.7 1719 1472.2 1719.3 1473.7 1720.2 1475.2 1720.4 1476.7 1721.1 1478.2 1721 1479.7 1721.5 1481.2 1721.4 1482.6 1721.1 1484 1720.5 1485.4 1718.9 1486.8 1717.7 1488.2 1717.2 1489.5 1716.2 1490.9 1714.4 1492.3 1713.8 1493.7 1713.4 1495.1 1713.2 1496.5 1712.3 1497.9 1712.5 1499.4 1713 1500.8 1713.8 1502.3 1715 1503.8 1716.3 1505.2 1717 1506.7 1718 1508 1719 1509.3 1720 1510.6 1720.4 1511.7 1720.9 1513.6 1721 1515 1720.5 1516.3 1718.8 1517.9 1718.9 1520.4 1718.7 1521.3 1719.1 1522.2 1719.9 1523.3 1721.2 1524.3 1721.3 1525.5 1722.3 1526.7 1723.8 1527.9 1724.2 1529.2 1725.7 1530.4 1726.5 1531.7 1728.1 1533.1 1728.8 1534.4 1730.4 1535.7 1731.2 1537 1732 1538.3 1733.3 1539.6 1734.5 1540.9 1735.6 1542.1 1737 1543.3 1737 1544.5 1738.1 1545.8 1739.6 1547 1740.4 1548.2 1741.6 1549.5 1742.9 1550.7 1743.8 1552 1745.6 1553.2 1746.7 1554.5 1747.9 1555.7 1748.7 1556.9 1749.6 1558.1 1749.8 1559.3 1751.1 1560.4 1751.5 1561.6 1752.1 1562.7 1752.8 1563.8 1752.7 1565.3 1753.1 1566.7 1752.6 1568.1 1752.1 1569.5 1751.8 1570.8 1751.3 1572.1 1750.7 1573.4 1749.6 1574.7 1749.1 1576 1747.9 1577.3 1746.9 1578.6 1745.3 1579.9 1744.1 1581.2 1742.9 1582.1 1742.5 1583 1740.8 1583.9 1739.3 1584.9 1738.5 1585.8 1736.9 1586.7 1734.8 1587.6 1734 1588.5 1731.7 1589.4 1730.5 1590.4 1728.3 1591.3 1727.2 1592.2 1725.4 1593.1 1724.2 1594 1722.8 1594.9 1721.4 1595.9 1721 1596.8 1720.4 1597.7 1719.9 1598.6 1719 1599.8 1718.5 1601.1 1719.5 1602.4 1720.3 1603.6 1721.5 1604.9 1722.7 1606.2 1723.8 1607.4 1725 1608.7 1726.5 1609.9 1728.5 1611.2 1729.4 1612.4 1730.7 1613.6 1731.7 1614.8 1733.3 1616 1733.2 1617.4 1733 1618.7 1733 1620 1732 1621.3 1731.1 1622.6 1730.3 1623.9 1729 1625.1 1727.8 1626.4 1726.9 1627.6 1725.1 1628.8 1724.2 1630 1723.7 1631.2 1723.2 1632.7 1723.2 1634.1 1723.7 1635.4 1724 1636.6 1725.3 1637.9 1725.4 1639.3 1726.1 1640.8 1727.6 1642.4 1727.7 1644.2 1728.2 1645.5 1727.9 1646.9 1728.2 1648.3 1727.3 1649.9 1727.1 1651.4 1727.5 1653 1727.2 1654.7 1727 1656.4 1727 1658 1726.4 1659.7 1725.5 1661.3 1725 1662.9 1724.9 1664.5 1724 1666 1723.4 1667.2 1722.4 1668.5 1722.3 1669.7 1720.8 1671 1719.7 1672.3 1718.5 1673.6 1716.9 1674.8 1716.6 1676.1 1714.7 1677.3 1713.8 1678.5 1712.4 1679.7 1711.1 1680.8 1710.4 1681.9 1708.8 1682.9 1707.9 1683.8 1706.8 1684.7 1706.6 1685.5 1706.3 1688.2 1705.7 1690 1706.7 1691.1 1708.1 1692 1709.2" fill="none" stroke="#0000ff" stroke-width="6.5" stroke-linejoin="round" stroke-linecap="round"/>
<path d="M70 1704.8 70.9 1704.5 71.9 1704.9 73.1 1704.1 74.5 1704.4 76 1703.9 77.6 1703.4 79.3 1703.6 81 1702.8 82.8 1703 84.5 1702.4 86.3 1702.2 88 1702.3 89.7 1702.6 91.2 1701.7 92.7 1701.8 94 1702.1 95.9 1702.5 97.5 1702.3 98.9 1702.3 100.3 1703.1 101.6 1702.5 103 1703.7 104.4 1703.6 106 1703.8 107.9 1704.2 110 1704.8 111.2 1705.5 112.4 1705.1 113.6 1705.8 114.9 1706.1 116.3 1706.1 117.7 1706.5 119.1 1706.3 120.5 1706.6 122 1707 123.5 1707.7 125 1707.8 126.6 1707.9 128.2 1708.5 129.8 1708.6 131.5 1708.7 133.1 1709.5 134.8 1709.6 136.5 1709.4 138.3 1709.9 140 1710 141.4 1710.5 142.7 1710.5 144.2 1710.2 145.6 1711 147.1 1710.2 148.5 1710.6 150.1 1711 151.6 1710.5 153.1 1710.9 154.7 1710.6 156.2 1711.3 157.8 1711.4 159.4 1711.3 161 1711.7 162.6 1711.2 164.2 1711.6 165.8 1711.6 167.4 1711.6 169 1711.6 170.6 1712 172.2 1712.2 173.7 1711.8 175.3 1712 176.9 1711.4 178.5 1712.1 180 1712.1 181.6 1712.5 183.2 1712.4 184.8 1711.9 186.5 1712.1 188.2 1712.4 189.9 1711.8 191.6 1712.2 193.4 1712 195.1 1711.9 196.9 1711.9 198.6 1712.6 200.3 1712 202 1712.1 203.7 1712.3 205.3 1712.8 207 1712 208.5 1712.4 210.1 1712.6 211.5 1712.9 213 1712.9 214.3 1713 215.6 1712.5 216.8 1712.7 218 1712.7 219 1713.3 220 1713.5 223.6 1713.4 225.4 1714.4 226.2 1715.4 226.7 1716.2 227.8 1716.8 229.1 1716.5 230.2 1715.2 231.4 1713.8 233.2 1713.2 235.8 1712.7 236.9 1712.9 238.1 1713.3 239.4 1713.1 240.8 1713 242.3 1713.3 243.8 1713.5 245.4 1713.1 247.1 1714.2 248.7 1714.3 250.4 1714.7 252.1 1714.9 253.7 1714.7 255.3 1715 256.9 1714.9 258.4 1715.7 259.8 1715.4 261.4 1715.6 263 1716.1 264.5 1716.3 266 1716.8 267.5 1716.8 268.9 1717.1 270.3 1717.5 271.8 1717.8 273.3 1718.4 274.8 1718.4 276.3 1719.5 278 1719.6 279.7 1719.4 281.1 1719.8 282.6 1720.1 284.1 1720.3 285.7 1720.3 287.3 1721.3 289 1721.6 290.7 1721.3 292.4 1721.5 294 1721.4 295.7 1721.6 297.3 1722.1 298.9 1722.2 300.4 1723.1 301.9 1722.6 303.2 1722.8 304.5 1724 305.7 1723.8 307.9 1724.1 309.9 1725.3 311.7 1725.6 313.2 1727 314.5 1728.3 315.7 1729 316.8 1729.5 317.7 1729.6 320 1730.9 320.5 1731.4 321 1732.9 321.5 1733.6 322.2 1734.8 322.8 1735.5 323.5 1736.6 324.3 1738.4 325 1740 325.8 1741.3 326.5 1742.9 327.3 1744.6 328 1746.3 328.7 1747.7 329.4 1750 329.8 1751 330.1 1751.9 330.5 1753.1 330.8 1754.7 331.2 1756 331.6 1757.9 331.9 1759.6 332.3 1760.5 332.6 1762.5 333 1764.1 333.4 1765.6 333.7 1766.6 334.1 1768.1 334.5 1769.7 334.8 1771.3 335.2 1772.9 335.5 1775 335.9 1776.9 336.3 1778.4 336.6 1779.7 337 1781.5 337.3 1783.3 337.7 1784.1 338.1 1786.3 338.4 1788.1 338.8 1789.5 339.2 1791 339.5 1792.2 339.9 1793.4 340.3 1795.5 340.6 1796.5 341 1798.4 341.4 1800 341.7 1800.9 342.1 1802.4 342.5 1804.4 342.8 1805.6 343.2 1806.6 343.6 1808 343.9 1809.5 344.3 1811.7 344.6 1813.1 345 1814 345.4 1816.2 345.7 1817.8 346.1 1819.1 346.5 1820.3 346.8 1822.1 347.2 1823.2 347.6 1824.7 347.9 1827.3 348.3 1828.6 348.6 1829.9 348.9 1831.7 349.2 1832.6 349.5 1834.4 349.8 1835.8 350.1 1836.7 350.4 1838.2 350.7 1839.7 351 1841.1 351.3 1843 351.6 1844.2 351.9 1845.9 352.2 1847.1 352.5 1849.4 352.8 1850.4 353.1 1852 353.4 1853.7 353.7 1855.5 354 1856.6 354.3 1858.6 354.6 1859.7 354.9 1861.2 355.2 1862.7 355.5 1863.7 355.8 1865.6 356 1866.8 356.3 1868.1 356.6 1870.3 356.9 1871.1 357.2 1872.8 357.4 1874.5 357.7 1875.7 358 1877.1 358.4 1878.9 358.7 1880.6 359 1882.4 359.3 1883.3 359.6 1885.3 359.9 1886.6 360.2 1888.2 360.5 1890.2 360.8 1891.5 361.1 1893 361.4 1894.7 361.7 1896.4 362 1897.4 362.3 1899.1 362.6 1900.4 362.9 1901.9 363.2 1903.6 363.5 1904.8 363.8 1906.3 364.1 1907.7 364.4 1909.6 364.6 1910.8 364.9 1912.4 365.2 1913.9 365.5 1914.7 365.8 1916.6 366.1 1918.6 366.4 1920.3 366.7 1921.4 367.1 1923.2 367.4 1925.4 367.7 1926.9 368 1928.9 368.3 1930.7 368.6 1933.1 368.9 1935.1 369.2 1937 369.5 1938 369.8 1940.2 370.1 1941.7 370.4 1942.7 370.7 1944.8 371 1946.2 371.3 1946.6 371.6 1948.3 371.8 1948.6 372.1 1949.4 372.3 1950.4 372.6 1950.5 372.9 1950 373.3 1950.1 373.6 1949.7 373.9 1948.8 374.2 1947.7 374.5 1946.6 374.8 1945.6 375 1943.3 375.3 1942.1 375.6 1940.1 375.8 1937.6 376.1 1935.9 376.4 1934 376.6 1931.7 376.9 1929 377.2 1927.7 377.5 1925.3 377.7 1924.3 377.8 1922.3 378 1921.2 378.1 1919.8 378.3 1919.2 378.4 1917.4 378.6 1916 378.8 1914.9 378.9 1914 379.1 1912.6 379.3 1910.6 379.4 1909 379.6 1908.3 379.8 1906.5 379.9 1905.1 380.1 1903 380.2 1901.4 380.4 1900.5 380.6 1898.7 380.7 1896.7 380.9 1896 381.1 1894.1 381.2 1892.6 381.4 1890.3 381.5 1889.4 381.7 1887 381.9 1886.1 382 1884 382.2 1882.2 382.3 1880.7 382.5 1879.4 382.6 1877.1 382.8 1875.2 382.9 1874.2 383 1872.5 383.2 1871 383.3 1869.5 383.4 1867.9 383.5 1866.6 383.6 1865.1 383.7 1863.6 383.8 1862.4 383.9 1860.4 384 1859 384.1 1857 384.2 1855.6 384.3 1853.6 384.4 1852.2 384.5 1850.3 384.6 1849.3 384.7 1847.5 384.8 1845.5 384.9 1844.1 385 1842.9 385.1 1840.4 385.2 1839.5 385.4 1837.4 385.5 1835.9 385.6 1834.6 385.7 1832.6 385.8 1831.1 385.9 1829.7 386 1828.5 386.1 1826.3 386.3 1825.3 386.4 1823.7 386.5 1822.2 386.6 1820.5 386.8 1819.1 386.9 1817.4 387.1 1816.2 387.2 1814.8 387.3 1814.2 387.5 1812.6 387.8 1810.4 388.1 1808.3 388.4 1807.1 388.7 1805.3 389 1803.3 389.3 1801.1 389.6 1799.4 390 1797.8 390.3 1796.4 390.6 1794.6 391 1793.4 391.3 1791.8 391.7 1791.1 392.1 1789.8 392.4 1788 392.8 1786.4 393.2 1785.9 393.5 1784 393.9 1782.8 394.3 1781.2 394.6 1780.4 395 1779.3 395.4 1778.2 396 1776 396.7 1774.6 397.3 1772.5 398 1771.2 398.6 1769.5 399.3 1768.4 400 1766.8 400.7 1765.5 401.4 1764.6 402.1 1763.4 402.8 1762.6 403.4 1761.5 404.1 1760.7 404.8 1759.6 406 1758 407.2 1756.8 408.4 1755.2 409.6 1754.1 410.8 1753.8 412 1752 413.1 1751.5 414.2 1750.1 415.1 1748.3 416.1 1747.7 416.9 1746.3 417.8 1744.6 418.7 1743.2 419.5 1741.8 420.4 1739.7 421.2 1738.7 422.1 1737.4 423 1736.4 423.9 1735 424.7 1733.7 425.6 1732.2 426.5 1731.3 427.5 1730 428.6 1729 430 1727.7 431.2 1727 432.5 1726.6 433.8 1726.4 435.3 1725.8 436.8 1726.3 438.4 1725.8 440 1725.6 441.8 1725.4 443.6 1725.2 445.6 1724.8 446.9 1724.1 448.3 1724.8 449.8 1724.6 451.3 1724.2 452.9 1724.2 454.5 1724.2 456.1 1723.5 457.8 1724 459.5 1723.4 461.1 1723.1 462.7 1723.2 464.3 1723.5 465.8 1722.8 467.3 1723.2 468.7 1723.2 470 1722.5 471.8 1722 473.4 1721.5 475 1721.1 476.4 1720.6 477.8 1719.8 479.2 1719.1 480.5 1717.9 481.8 1717.5 483 1717.1 484.3 1717.2 485.6 1716.6 487.2 1716.9 488.6 1716.6 489.8 1717 491 1717.8 492.4 1718.8 494 1719.4 496 1719.9 498.5 1719.8 499.6 1720.1 500.9 1720.1 502.2 1720.2 503.6 1719.9 505.1 1720.7 506.6 1720.1 508.2 1720.9 509.9 1720.9 511.6 1720 513.3 1720.5 515 1720.9 516.7 1721 518.4 1720.5 520.1 1720.3 521.8 1720.2 523.4 1720.9 525 1720.1 526.6 1720.4 528.1 1719.9 529.5 1720.1 530.8 1720.5 532.7 1719.4 534.4 1719.8 536.1 1719.2 537.7 1719.3 539.2 1718.7 540.7 1717.8 542.1 1718.1 543.5 1717.3 544.9 1716.3 546.3 1715.9 547.7 1715.9 549.2 1715.4 550.7 1714.8 552.3 1714.2 553.7 1714 555.2 1713.6 556.7 1713.6 558.2 1712.2 559.7 1712.4 561.2 1711.9 562.7 1710.6 564.3 1710.9 565.8 1710.2 567.3 1709.9 568.8 1708.8 570.3 1708.6 571.8 1708.3 573.2 1708.7 574.6 1708.2 576 1708.1 577.6 1708.4 579.1 1708.6 580.7 1709 582.3 1709.8 583.9 1711.3 585.4 1711.7 586.9 1713.3 588.3 1713.5 589.7 1714.5 591.1 1715.6 592.3 1716.1 593.4 1716.9 594.5 1718 595.4 1718.3 598.1 1717.6 599.1 1715.5 600 1715.4 600.5 1716.3 600.8 1717.3 601.1 1719.3 601.5 1720.5 601.9 1723.1 602.4 1724.5 603.1 1726.1 604 1726.6 605.1 1726.3 606.3 1725.6 607.8 1725.7 609.3 1723.9 610.9 1723.2 612.5 1722 614.1 1720.9 615.6 1720.6 617 1720.5 618.6 1719.7 620.2 1720.3 621.7 1720.3 623.2 1721.1 624.7 1721.7 626.2 1722.2 627.7 1723 629 1723.8 630.3 1725.3 631.6 1725.8 632.8 1726.6 634.1 1728.3 635.5 1729.4 636.9 1729.8 638.5 1730.4 639.9 1731.2 641.4 1731.8 643 1732.8 644.6 1733.3 646.3 1734.1 648 1734.8 649.6 1735.8 651.1 1736.7 652.4 1737.1 653.6 1737.2 655.8 1738.3 657.2 1739.3 658.4 1739.6 660 1739.2 660.9 1738.4 661.9 1737.6 662.9 1737.1 663.9 1735 665 1734 666.2 1732.9 667.4 1732 668.7 1730.5 670.1 1730 671.6 1729.6 673.1 1729.5 674.8 1729.4 676.4 1729.8 678.1 1729.5 679.9 1729.3 681.6 1728.1 683.1 1727.7 684.6 1727.9 686.2 1727.6 687.8 1726.6 689.4 1726.1 691 1725 692.6 1724.9 694.1 1725.1 695.4 1724.7 696.7 1724.7 698.6 1725 700.2 1724.7 701.7 1725.3 703 1726.3 704.2 1727.6 705.3 1728.8 706.4 1730 707.3 1730.5 708.1 1731.4 708.9 1733.2 710 1735.8 710.3 1736.8 710.7 1737.4 711.1 1739.3 711.5 1740 711.8 1742 712.2 1743.1 712.7 1744.2 713.1 1745.5 713.5 1747.2 714 1749.2 714.4 1750.9 714.8 1751.9 715.3 1753.5 715.7 1755.6 716.2 1757.4 716.6 1758.8 717.1 1760.3 717.6 1762.3 718 1763.3 718.4 1765 718.8 1766.7 719.2 1768.8 719.6 1770.2 720 1772.2 720.4 1773.5 720.8 1775.1 721.2 1777 721.6 1779.5 722 1781 722.4 1782.4 722.9 1783.9 723.3 1786 723.7 1787.8 724.1 1789 724.5 1790.2 724.9 1791.9 725.4 1793.3 725.8 1793.6 726.2 1794.2 726.6 1795.1 727 1795.6 727.7 1796.2 728.4 1795.6 729.1 1795.7 729.7 1794.8 730.4 1793.4 731.1 1791.6 731.8 1790.7 732.5 1788.2 733.2 1786.7 733.9 1784.1 734.6 1781.9 735.3 1780.2 736 1777.6 736.4 1777.1 736.7 1775.5 737.1 1773.9 737.4 1772.6 737.8 1771.3 738.1 1770.1 738.5 1768.9 738.8 1766.5 739.2 1765.2 739.6 1763.4 739.9 1762.5 740.3 1760 740.6 1758.2 741 1756.6 741.4 1755.3 741.8 1754.1 742.1 1752.5 742.5 1750.8 742.9 1749.5 743.3 1747.9 743.7 1745.9 744.1 1744.3 744.6 1743.7 745 1742.3 745.4 1740.4 745.9 1740 746.8 1737.8 747.6 1736.2 748.5 1734.6 749.4 1733.1 750.4 1731.7 751.3 1730.8 752.3 1729.8 753.3 1729.5 754.3 1727.7 755.3 1727.7 756.4 1726.1 757.5 1725.4 758.7 1725 759.9 1724.1 761.2 1722.8 762.5 1721.6 764 1721.1 765.5 1720.2 767 1720 768.6 1718.5 770.1 1717.9 771.7 1717.8 773.2 1716.3 774.7 1716.1 776.2 1716.1 777.5 1715.6 778.8 1714.6 779.9 1714.3 781.9 1714.1 783.5 1714.8 784.9 1714.3 786.1 1715.2 787.3 1716.1 788.6 1716.9 789.9 1718.6 790.5 1720.2 791.1 1720.9 791.7 1721.7 792.2 1723.4 792.8 1724.4 793.4 1725.8 794 1727.1 794.5 1729.4 795.1 1731.2 795.7 1732.5 796.3 1734.5 796.9 1735.3 797.5 1737.1 798.1 1739 798.7 1741.1 799.3 1742.7 799.9 1743.7 800.5 1745 801.1 1746.8 801.7 1748.6 802.3 1750.9 802.9 1752 803.5 1754.5 804.1 1756.4 804.7 1758.4 805.3 1760.1 806 1761.7 806.6 1763.1 807.2 1764.6 807.8 1766 808.4 1767.6 809.1 1767.9 809.7 1768.8 810.3 1769.8 810.9 1769.5 811.6 1769.2 812.2 1768.6 812.9 1768.2 813.6 1766.7 814.2 1765.9 814.9 1764.1 815.6 1762.4 816.3 1759.7 816.9 1757.5 817.6 1755.5 818.2 1753.9 818.9 1752.3 819.5 1750.3 820.1 1748.5 820.7 1747.4 821.3 1746.6 821.9 1746 823.2 1745.5 824.3 1746.1 825.3 1747.2 826.3 1748.3 827.3 1750.9 828.5 1752.2 829.8 1753.9 830.9 1754.7 832.2 1756.3 833.4 1757.1 834.7 1758.4 836.1 1759.6 837.5 1760.6 838.9 1762 840.4 1762 841.8 1761.6 842.7 1761.3 843.7 1761.3 844.6 1760.1 845.5 1758.9 846.5 1758.5 847.5 1757.1 848.4 1756.2 849.4 1754 850.4 1753 851.5 1751.9 852.5 1750.5 853.6 1749.1 854.7 1746.8 855.8 1745.6 856.7 1744.3 857.5 1743.2 858.4 1742.7 859.3 1741 860.3 1739.9 861.2 1737.9 862.1 1736.9 863.1 1735 864.1 1733.4 865 1732.4 866 1731.2 867 1729 868 1728.2 869 1727 869.9 1725.5 870.9 1724.7 871.9 1723.6 872.8 1723 873.8 1722.6 875.3 1722.5 876.7 1722.5 878.2 1722.3 879.6 1722.6 881 1723.7 882.4 1725 883.9 1725.5 885.4 1726.6 886.9 1727.5 888.5 1728.9 890.1 1729.4 891.8 1729.4 893.3 1729.6 894.8 1730.1 896.4 1730.3 898.1 1730.5 899.8 1729.9 901.6 1730 903.4 1730.5 905.1 1730.2 906.9 1730 908.5 1730.1 910.2 1730.7 911.7 1730.1 913.2 1730.5 914.5 1730.4 915.7 1730.7 917.6 1731.6 919.1 1732.1 920.3 1731.9 921.3 1732.3 922.3 1733.6 923.2 1734.1 924.4 1735.4 925.7 1738.2 926.3 1738.7 926.9 1740.2 927.6 1740.9 928.3 1742.7 929 1743.7 929.7 1744.9 930.4 1746.3 931.1 1748.5 931.8 1750.2 932.6 1752.1 933.3 1752.9 934.1 1755.1 934.8 1756.4 935.5 1758.1 936.2 1759.3 937 1760.9 937.7 1762.4 938.4 1764.1 939 1764.4 939.7 1765.8 941 1767.9 942.1 1769.6 943.3 1770.2 944.4 1771.3 945.5 1773.1 946.6 1773.9 947.7 1774 948.9 1774 950.3 1775.1 951.7 1774.7 952.9 1775.1 954.2 1774.4 955.5 1774 956.9 1772.6 958.4 1772.3 959.8 1770.8 961.3 1770 962.8 1769.5 964.3 1768.5 965.7 1767 967.1 1766.4 968.4 1766 969.7 1765.8 971.4 1765.5 973.1 1765.1 974.7 1765.3 976.3 1766 977.8 1766.6 979.3 1766.3 980.8 1767.7 982.3 1768.8 983.7 1769.3 984.6 1771 985.4 1771.2 986.2 1772.7 987.1 1773.7 987.9 1775 988.7 1775.9 989.5 1777.3 990.3 1778.9 991.1 1780.2 991.9 1781.9 992.6 1783.2 993.4 1784.7 994.1 1785.9 994.9 1788.2 995.6 1789.7 996.1 1790.7 996.6 1792.5 997.1 1793.8 997.6 1794.9 998.1 1796 998.6 1797.8 999.1 1798.9 999.6 1800.4 1000.1 1802.2 1000.6 1803.4 1001 1805.3 1001.5 1806.9 1001.9 1808 1002.4 1810.1 1002.8 1811.1 1003.3 1813.3 1003.7 1814.8 1004.1 1815.9 1004.6 1816.9 1005 1818.7 1005.4 1819.9 1005.9 1822.1 1006.4 1823 1006.9 1825.4 1007.4 1827.2 1007.8 1828.6 1008.2 1830.3 1008.7 1831.3 1009.1 1833.6 1009.5 1834.6 1009.9 1836.6 1010.4 1837.9 1010.8 1838.5 1011.3 1840.5 1011.7 1841.8 1012.2 1842.1 1012.7 1843.5 1013.7 1845.7 1014.8 1846.6 1015.9 1848.6 1017 1848.9 1018.2 1850.4 1019.4 1850.5 1020.6 1851.7 1021.8 1853.1 1023.1 1853.3 1024.4 1854 1025.8 1854.9 1027.2 1855.3 1028.7 1855.7 1030.1 1856.8 1031.4 1858 1032.7 1860.4 1033.3 1861.2 1033.9 1862.5 1034.5 1862.9 1035.1 1864.7 1035.7 1865.4 1036.3 1867.1 1036.9 1868.6 1037.5 1869.8 1038 1871.9 1038.6 1873.2 1039.2 1874.8 1039.7 1876.8 1040.2 1877.8 1040.8 1880.4 1041.3 1881.9 1041.8 1883.5 1042.1 1885.2 1042.5 1886 1042.8 1888.1 1043.1 1889.1 1043.5 1890.3 1043.8 1892.3 1044.1 1893.5 1044.4 1894.8 1044.7 1896.9 1045 1897.8 1045.3 1900.2 1045.6 1901.3 1045.9 1903.3 1046.2 1905.3 1046.5 1906.5 1046.8 1908.2 1047.1 1909.4 1047.4 1910.7 1047.6 1912.2 1047.9 1913.9 1048.2 1915.8 1048.5 1917.1 1048.7 1918.6 1049 1920.3 1049.3 1921.3 1049.7 1923.3 1050 1925.7 1050.3 1927.1 1050.7 1929.1 1051 1931.5 1051.3 1933.3 1051.6 1935.5 1051.9 1937.2 1052.1 1939.3 1052.4 1941 1052.7 1942.1 1053 1943.9 1053.3 1944.9 1053.6 1945.5 1053.9 1947 1054.2 1946.7 1054.5 1946.7 1054.8 1946.6 1055.1 1946.8 1055.4 1946.5 1055.7 1945.7 1056 1944.4 1056.3 1943.2 1056.6 1941.7 1056.9 1940.9 1057.3 1939.2 1057.6 1937.3 1057.9 1935.8 1058.2 1933.6 1058.5 1932 1058.8 1929.7 1059.1 1926.9 1059.4 1925.2 1059.7 1921.9 1060 1919.9 1060.1 1918.7 1060.3 1917.4 1060.4 1916 1060.5 1915.4 1060.7 1913.4 1060.8 1912.5 1060.9 1911.5 1061.1 1909.3 1061.2 1907.9 1061.4 1906.8 1061.5 1905.2 1061.6 1903.7 1061.8 1902.3 1061.9 1900.1 1062 1898.6 1062.2 1896.9 1062.3 1895 1062.5 1894.1 1062.6 1892.4 1062.7 1890.6 1062.9 1888.2 1063 1887.3 1063.1 1885.5 1063.3 1883.5 1063.4 1882.1 1063.5 1880.1 1063.7 1878.2 1063.8 1876.4 1063.9 1874.9 1064.1 1873.1 1064.2 1871.8 1064.3 1870.6 1064.4 1869 1064.5 1867.6 1064.7 1866 1064.8 1864 1064.9 1862.9 1065 1861.4 1065.1 1860.4 1065.2 1858.8 1065.3 1857.3 1065.4 1856.4 1065.6 1854.8 1065.7 1852.2 1065.8 1851.2 1065.9 1848.8 1066.1 1847.6 1066.1 1846.3 1066.2 1845.6 1066.3 1844.6 1066.4 1843.3 1066.5 1841.8 1066.5 1841.3 1066.6 1839.6 1066.7 1838.4 1066.8 1838 1066.8 1836.5 1066.9 1835.3 1067 1833.9 1067.1 1832.7 1067.3 1830.6 1067.4 1829.2 1067.5 1827.1 1067.7 1825.2 1067.9 1822.5 1068.1 1820.2 1068.2 1819 1068.3 1817.6 1068.4 1816.3 1068.5 1815.5 1068.6 1813.8 1068.7 1813.3 1068.8 1811.2 1068.9 1809.7 1069 1808.4 1069.1 1807.8 1069.2 1805.8 1069.3 1804.1 1069.4 1802.5 1069.5 1800.9 1069.6 1800 1069.7 1798.4 1069.8 1796.8 1070 1795.2 1070.1 1792.9 1070.2 1791.8 1070.3 1789.9 1070.4 1788.6 1070.6 1786.9 1070.7 1785.3 1070.8 1782.8 1071 1781.8 1071.1 1780.1 1071.2 1778.4 1071.3 1775.8 1071.5 1774.2 1071.6 1772.4 1071.8 1770.6 1071.9 1769.6 1072 1767.9 1072.2 1766 1072.3 1764.5 1072.4 1762.6 1072.6 1760.5 1072.7 1758.7 1072.9 1757 1073 1756 1073.2 1753.8 1073.3 1752.3 1073.5 1750.9 1073.6 1748.9 1073.8 1747.6 1073.9 1746.1 1074.1 1745.1 1074.2 1743.3 1074.4 1741.8 1074.5 1741 1074.7 1739.2 1074.8 1738.3 1075 1736.7 1075.1 1734.9 1075.3 1734.1 1075.4 1732.9 1075.6 1732.2 1075.7 1730.7 1075.9 1730 1076.4 1727.1 1076.8 1724.1 1077.3 1722.3 1077.8 1719.2 1078.3 1717.8 1078.9 1715.1 1079.4 1713 1079.9 1711.5 1080.5 1710.4 1081 1709.1 1081.6 1706.8 1082.2 1706.1 1082.7 1704.9 1083.3 1704.2 1083.8 1702.7 1084.4 1702.3 1084.9 1701.4 1085.4 1701.4 1085.9 1700.3 1086.4 1700.6 1086.9 1699.7 1087.6 1699.4 1088.3 1700 1089 1700.1 1089.6 1700.4 1090.3 1701.8 1090.9 1702.4 1091.6 1704.5 1092.2 1706 1092.8 1708 1093.5 1709.9 1094.1 1711.8 1094.7 1714.3 1095.3 1716.9 1095.9 1720.2 1096.1 1720.4 1096.3 1722.3 1096.5 1722.5 1096.7 1723.8 1097 1725.1 1097.2 1726.9 1097.4 1727.8 1097.6 1728.9 1097.8 1730.7 1098 1731.4 1098.2 1733 1098.4 1734.5 1098.6 1736.1 1098.8 1737.6 1099 1738.9 1099.2 1740.1 1099.4 1741.6 1099.6 1743 1099.8 1745.3 1100 1746.6 1100.2 1748.3 1100.4 1749.4 1100.6 1751.3 1100.8 1753.2 1101 1754.7 1101.2 1755.9 1101.4 1757.9 1101.6 1760 1101.8 1761 1102 1762.6 1102.2 1764.4 1102.4 1766.5 1102.6 1768.4 1102.8 1769.4 1103 1771.1 1103.1 1772.8 1103.3 1774.6 1103.5 1776.5 1103.7 1777.8 1103.9 1779.6 1104.1 1780.9 1104.2 1783.1 1104.4 1784.3 1104.5 1785.2 1104.7 1787.6 1104.8 1788.3 1105 1790.2 1105.1 1792.4 1105.3 1793.8 1105.4 1795.4 1105.6 1796.7 1105.7 1798.2 1105.8 1800.3 1106 1801.5 1106.1 1803.3 1106.3 1805.2 1106.4 1806.6 1106.6 1808.7 1106.7 1810.8 1106.8 1812.4 1107 1813.9 1107.1 1815.8 1107.3 1817.3 1107.4 1818.7 1107.5 1820.9 1107.7 1822.4 1107.8 1824.4 1108 1826.2 1108.1 1827.4 1108.2 1829.1 1108.4 1830.9 1108.5 1832.2 1108.7 1833.5 1108.8 1835.5 1108.9 1837.2 1109.1 1838.6 1109.2 1839.9 1109.4 1841.5 1109.5 1842.6 1109.6 1843.9 1109.8 1845 1109.9 1846.1 1110.1 1847.6 1110.2 1848.2 1110.4 1849.6 1110.5 1851.1 1110.7 1852 1110.8 1852.8 1111.5 1856.4 1112.2 1859.8 1112.9 1862.3 1113.6 1864.3 1114.3 1865.4 1115 1866.6 1115.7 1867.4 1116.4 1866.9 1117.2 1867.4 1118 1867.5 1118.7 1866.8 1119.4 1866.2 1120.2 1865.6 1121 1863.3 1121.7 1862.3 1122.5 1860.2 1123.3 1859 1124.1 1857.4 1124.9 1855.2 1125.7 1853.2 1126.4 1852.2 1127.1 1850.9 1128.2 1849.2 1129.3 1847.1 1130.4 1845.4 1131.4 1844 1132.4 1842.5 1133.4 1841.7 1134.4 1842.2 1135.1 1841.9 1135.8 1843 1136.5 1843.6 1137.2 1845.1 1137.9 1845.8 1138.6 1848.3 1139.3 1849.5 1140 1851.2 1140.8 1853.6 1141.6 1856.2 1141.9 1856.9 1142.3 1858.5 1142.6 1859.7 1143 1861.2 1143.4 1862.2 1143.7 1863.5 1144.1 1864.9 1144.5 1866.9 1144.9 1868.6 1145.3 1869.7 1145.6 1871 1146 1873.2 1146.4 1874.4 1146.8 1875.8 1147.2 1877.4 1147.6 1879.7 1148 1881.4 1148.4 1882.9 1148.8 1884.4 1149.2 1886.1 1149.5 1887.5 1149.9 1889.8 1150.3 1890.9 1150.7 1892.7 1151 1894.3 1151.4 1895.8 1151.7 1896.8 1152 1898.1 1152.4 1899.8 1152.7 1900.8 1153 1903 1153.3 1903.9 1153.7 1905.9 1154 1906.8 1154.3 1908.3 1154.6 1909.7 1155 1911.3 1155.3 1912.6 1155.6 1913.9 1156 1916.1 1156.3 1917.1 1156.6 1918.6 1157 1920.2 1157.3 1921.9 1157.7 1923.3 1158 1925.1 1158.4 1926.6 1158.7 1927.8 1159.1 1929.9 1159.4 1931.4 1159.8 1932.2 1160.1 1934.4 1160.5 1936.1 1160.9 1937.6 1161.2 1938.7 1161.6 1941.1 1161.9 1942.8 1162.3 1944 1162.7 1945.9 1163 1948.7 1163.4 1950.4 1163.8 1951.9 1164.2 1953.6 1164.6 1955.6 1164.9 1957.5 1165.3 1959.9 1165.7 1961.3 1166.1 1962.8 1166.5 1965.2 1166.9 1966.7 1167.3 1967.6 1167.6 1969.7 1168 1970.8 1168.4 1972.1 1168.8 1973.1 1169.2 1974.3 1169.6 1975 1169.9 1975.7 1170.3 1975.6 1170.7 1976.4 1171.2 1976.4 1171.8 1976.5 1172.4 1975.9 1172.9 1975.7 1173.5 1974.5 1174 1973.1 1174.6 1971.8 1175.1 1970.2 1175.7 1969 1176.3 1966.8 1176.8 1965.3 1177.4 1963 1177.9 1961.4 1178.5 1959.3 1179 1957.3 1179.5 1955.5 1180.1 1952.6 1180.6 1951.3 1181.1 1949 1181.6 1947.2 1181.9 1946 1182.3 1944.9 1182.6 1943.1 1182.9 1941.8 1183.2 1940.9 1183.6 1938.6 1183.9 1937.8 1184.2 1936.3 1184.5 1934.2 1184.8 1933.3 1185.1 1931.8 1185.5 1930.5 1185.8 1928.4 1186.1 1927.5 1186.4 1925.4 1186.7 1923.8 1187 1922.6 1187.3 1920.2 1187.6 1919.3 1187.9 1917.6 1188.2 1915.7 1188.5 1914.6 1188.7 1912.5 1189 1911 1189.3 1909.5 1189.6 1908.1 1189.9 1906 1190.2 1904.7 1190.4 1903.1 1190.7 1901.8 1191 1900.5 1191.2 1898.4 1191.5 1897.3 1191.8 1895.3 1192 1893.7 1192.3 1891.8 1192.5 1890.4 1192.8 1889.2 1193.1 1887.1 1193.3 1885.6 1193.6 1883.4 1193.8 1881.7 1194 1880 1194.3 1878.6 1194.5 1877 1194.8 1875.5 1195 1873.1 1195.2 1872.2 1195.5 1870.8 1195.7 1868.9 1195.9 1866.9 1196.2 1865.7 1196.4 1864 1196.6 1862.9 1196.8 1862.3 1197 1860.7 1197.3 1859.6 1197.5 1858.6 1197.7 1857.7 1197.9 1856.4 1198.7 1853.3 1199.4 1850.8 1200 1849.1 1200.7 1847.7 1201.3 1846.8 1201.9 1845.7 1202.6 1845.8 1203.4 1845.4 1204.5 1845.8 1205.6 1845.9 1206.8 1847.2 1208.1 1848.7 1209.3 1851.2 1210.6 1853.1 1211.4 1854.1 1212.2 1855.3 1213 1857.5 1213.9 1859.3 1214.7 1860.9 1215.6 1862.3 1216.4 1863.8 1217.3 1865.1 1218 1865.8 1218.8 1866.2 1219.5 1866.3 1220.2 1866.1 1220.9 1864.4 1221.5 1863.8 1222.2 1861.9 1222.8 1860.4 1223.4 1859.4 1224 1857.2 1224.6 1855.4 1225.2 1852.6 1225.5 1851.2 1225.7 1850.4 1226 1849.5 1226.2 1848.7 1226.5 1847.6 1226.8 1845.9 1227 1844.6 1227.2 1843 1227.5 1842.2 1227.7 1840.4 1228 1838.9 1228.2 1837.3 1228.5 1835.8 1228.7 1834.9 1228.9 1832.7 1229.2 1831.9 1229.4 1829.3 1229.6 1828.2 1229.9 1825.6 1230.1 1823.6 1230.4 1822.3 1230.6 1819.7 1230.7 1819.1 1230.9 1817.3 1231 1815.9 1231.1 1815.4 1231.2 1814 1231.4 1812.8 1231.5 1811.3 1231.6 1809.3 1231.7 1808.4 1231.8 1807.1 1231.9 1805.4 1232.1 1804.4 1232.2 1802.2 1232.3 1801.4 1232.4 1799.6 1232.5 1797.4 1232.6 1795.8 1232.8 1794.9 1232.9 1793.5 1233 1791.2 1233.1 1789.8 1233.2 1788.6 1233.3 1786.5 1233.5 1785.5 1233.6 1783.5 1233.7 1781.5 1233.8 1780.2 1234 1778.8 1234.1 1777 1234.2 1775.7 1234.4 1773.5 1234.5 1772.6 1234.6 1770.5 1234.8 1769.2 1234.9 1767.6 1235.1 1765.8 1235.2 1764.3 1235.4 1763.1 1235.5 1761.8 1235.7 1760.1 1235.9 1758.4 1236 1756.6 1236.2 1754.8 1236.4 1754.2 1236.5 1752.3 1236.7 1750.9 1236.9 1748.8 1237.1 1747.5 1237.3 1746.3 1237.4 1744.6 1237.6 1742.8 1237.8 1740.9 1238 1739.4 1238.2 1738.2 1238.4 1736.1 1238.6 1734.9 1238.8 1733.2 1239 1731.9 1239.2 1730.2 1239.4 1728.1 1239.6 1726.3 1239.8 1725 1240 1723.6 1240.2 1722.2 1240.4 1720.9 1240.6 1719.5 1240.8 1717.1 1241.1 1716.4 1241.3 1714.9 1241.5 1713.6 1241.7 1711.8 1241.9 1710.1 1242.1 1709.3 1242.4 1707.9 1242.6 1706.4 1242.8 1705.3 1243 1703.5 1243.3 1701.9 1243.5 1701.2 1243.7 1700.2 1244.1 1697.6 1244.5 1696.3 1244.8 1694.6 1245.2 1692.2 1245.6 1690.8 1246 1689.3 1246.4 1687.4 1246.8 1685.6 1247.2 1684.1 1247.6 1683.2 1248 1681.7 1248.5 1680 1248.9 1678.2 1249.3 1677.6 1249.7 1676.2 1250.1 1674.3 1250.6 1673.3 1251 1672.3 1251.5 1671 1251.9 1669.3 1252.3 1667.9 1252.8 1666.7 1253.2 1665 1253.7 1663.6 1254.2 1662 1254.8 1661 1255.3 1659.1 1255.9 1657.7 1256.4 1656 1257 1654.6 1257.6 1652.8 1258.2 1651.2 1258.8 1650.6 1259.3 1648.6 1259.9 1646.8 1260.5 1645.9 1261.1 1644.7 1261.7 1642.7 1262.3 1641.7 1262.9 1640.1 1263.4 1639 1264 1637.2 1264.6 1635.9 1265.1 1635.6 1265.7 1634.3 1266.5 1632.2 1267.2 1630.4 1268 1628.3 1268.8 1627 1269.5 1624.8 1270.3 1623.5 1271 1621.6 1271.8 1620 1272.5 1618.7 1273.2 1616.6 1273.9 1615.2 1274.6 1614.3 1275.3 1613.5 1276 1612.9 1276.7 1612.6 1277.5 1613.1 1278.3 1613.8 1279.1 1614.2 1279.9 1615.8 1280.6 1617.1 1281.4 1617.8 1282.1 1620.1 1282.8 1621.8 1283.6 1623.5 1284.3 1626.3 1285 1627.7 1285.7 1630 1286.1 1631.3 1286.5 1632.9 1287 1634 1287.4 1635.2 1287.8 1636.8 1288.2 1638.1 1288.6 1640.5 1289 1642.2 1289.4 1643.1 1289.8 1644.6 1290.2 1646.5 1290.5 1648.3 1290.9 1650.5 1291.3 1652.1 1291.7 1653.6 1292.1 1654.3 1292.5 1656.4 1292.9 1657.7 1293.3 1658.9 1293.7 1660.4 1294.5 1661.5 1295.3 1663.4 1296 1665.6 1296.8 1667.2 1297.6 1668.2 1298.4 1669 1299.2 1670.4 1300 1671.7 1300.8 1672.3 1301.7 1673.7 1302.6 1674.9 1303.5 1675.8 1304.5 1677.1 1305.5 1677.7 1306.5 1678.8 1307.5 1679.7 1308.5 1681.4 1309.5 1682 1310.6 1684.3 1311.7 1685.6 1312.3 1686.5 1312.8 1688.7 1313.4 1689.5 1314 1691.9 1314.6 1693.5 1315.2 1695.4 1315.8 1696.5 1316.4 1698.7 1317 1700.3 1317.6 1703 1318.3 1704.8 1318.9 1706.3 1319.5 1707.8 1320.1 1709.2 1320.7 1711 1321.3 1711.8 1321.9 1712.8 1322.5 1713 1323 1713.5 1323.6 1713.4 1324.1 1713.8 1324.6 1713.1 1325.1 1711.9 1325.6 1711.6 1326.1 1709.8 1326.6 1708.5 1327 1706.7 1327.5 1705.1 1328 1703.9 1328.5 1701.5 1328.9 1699.4 1329.4 1697.7 1329.9 1695.6 1330.3 1694.2 1330.8 1691.5 1331.2 1690.5 1331.6 1687.9 1332 1687.1 1332.4 1685.4 1332.8 1683.6 1333.2 1682.8 1333.6 1681.7 1335.4 1679.1 1337 1678.9 1338.4 1679.8 1340 1680.5 1341.4 1679.5 1342.8 1677.9 1344.3 1675.7 1345.9 1675.1 1347.6 1676 1348.3 1675.7 1349.1 1677.2 1349.9 1677.8 1350.7 1679.6 1351.5 1679.9 1352.3 1682.1 1353.1 1683.2 1354 1684.5 1354.8 1685.9 1355.7 1688.2 1356.5 1689.4 1357.4 1690.5 1358.2 1692 1359 1693.8 1359.7 1694.5 1360.5 1696.3 1361.3 1697.3 1362.1 1698.7 1362.9 1700.7 1363.7 1702.1 1364.5 1703 1365.4 1704.2 1366.3 1705.4 1367.2 1707.2 1368.2 1708.2 1369.3 1709.1 1370.5 1710.1 1371.8 1711.6 1373.1 1712.6 1374.4 1713.7 1375.7 1714.3 1377.1 1714.8 1378.4 1715.5 1379.7 1717 1381 1717.5 1382.3 1718.5 1383.5 1718.7 1384.9 1720.3 1386.3 1720.8 1387.6 1722.2 1389 1723.2 1390.3 1723.6 1391.6 1724 1392.8 1725.6 1394.1 1725.8 1395.3 1726.7 1396.5 1726.5 1398.2 1726.5 1399.8 1726.8 1401.4 1725.7 1403 1724.9 1404.5 1724.7 1406 1725 1407.4 1725.1 1408.2 1726.4 1409 1727.4 1409.7 1728.6 1410.5 1729.6 1411.2 1731.6 1411.9 1733.3 1412.6 1735 1413.3 1736.2 1414 1738.3 1414.7 1739.6 1415.4 1741.7 1416.1 1742.6 1416.7 1744.8 1417.3 1746.5 1417.9 1747.7 1418.5 1749.5 1419.1 1751.4 1419.7 1753.2 1420.3 1754.4 1420.9 1757.1 1421.5 1757.9 1422.1 1759.2 1422.7 1760.3 1423.4 1761.4 1424 1762.6 1424.7 1762 1425.5 1762 1426.2 1762.2 1427 1760.9 1427.8 1759.7 1428.6 1759.1 1429.5 1757.6 1430.3 1756 1431.1 1754.5 1432 1752.1 1432.9 1751 1433.8 1749 1434.7 1746.4 1435.6 1744.7 1436.2 1743.9 1436.8 1742.7 1437.4 1741.1 1438 1739.6 1438.7 1738.4 1439.3 1736.7 1439.9 1735.6 1440.6 1734.3 1441.2 1732.1 1441.9 1730.9 1442.5 1729.6 1443.2 1727.4 1443.9 1726.6 1444.5 1725.2 1445.2 1723.2 1445.9 1721.8 1446.6 1720.9 1447.3 1719.3 1448 1717.9 1448.7 1717.3 1449.7 1715.7 1450.7 1713.8 1451.8 1712.3 1452.8 1711.1 1453.9 1710 1455 1709.3 1456 1708 1457.1 1707.1 1458.2 1706 1459.3 1705.1 1460.5 1703.5 1461.6 1703.2 1462.7 1702.8 1463.9 1702.1 1465.4 1700.7 1466.9 1700.4 1468.5 1700.2 1470.1 1699.7 1471.7 1699.7 1473.4 1699.2 1475 1699.4 1476.6 1699.4 1478.1 1698.7 1479.7 1698.5 1481.2 1698.9 1482.7 1698 1484.1 1697.4 1485.6 1696.1 1487 1695.3 1488.4 1694.3 1489.8 1693.3 1491.2 1691.5 1492.5 1691.3 1493.9 1690.2 1495.2 1690.1 1496.5 1689.5 1498.1 1689.8 1499.6 1690.7 1501.1 1691.1 1502.6 1691.7 1504 1693 1505.4 1694 1506.8 1695.4 1508.2 1695.6 1509.5 1696.1 1511.1 1696.7 1512.6 1696.1 1514.1 1696.2 1515.5 1696.3 1517 1695.6 1518.6 1695.5 1520.4 1696.3 1521.5 1696.9 1522.7 1697.3 1523.9 1698.1 1525.2 1699.1 1526.5 1700.3 1527.9 1701.5 1529.2 1702.5 1530.5 1703.6 1531.9 1704.6 1533.1 1706.2 1534.4 1707.5 1535.6 1708.3 1536.9 1709.3 1538.1 1710.3 1539.2 1710.8 1540.4 1712.2 1541.5 1712.8 1542.7 1713.8 1543.8 1714.8 1545 1715.7 1546.1 1716.5 1547.3 1717.6 1548.6 1718.8 1549.5 1720.1 1550.5 1721.2 1551.5 1722.7 1552.5 1723.5 1553.5 1725.3 1554.5 1727.3 1555.5 1728.2 1556.6 1729.9 1557.6 1731.3 1558.7 1732.3 1559.7 1734.2 1560.7 1734.5 1561.8 1735.8 1562.8 1735.8 1563.8 1736.1 1565.1 1737 1566.4 1736.3 1567.7 1735.4 1569 1735 1570.4 1734.1 1571.7 1733.3 1573 1731.5 1574.3 1730.3 1575.5 1729.7 1576.7 1728.2 1577.9 1726.4 1579 1725.4 1580.1 1724.3 1581.1 1723.5 1582.1 1722.2 1583 1721.2 1584 1719.9 1584.9 1718.3 1585.7 1717.2 1586.6 1715.9 1587.4 1714.6 1588.3 1713 1589.1 1712 1589.9 1710.6 1590.8 1709.4 1591.6 1707 1592.4 1706 1593.2 1703.5 1594 1702.5 1594.8 1700.7 1595.5 1699.1 1596.3 1698.2 1597 1696.7 1597.8 1695.7 1598.6 1695.5 1599.8 1695.3 1601.1 1695.4 1602.3 1696.1 1603.6 1697.3 1604.8 1698.8 1606.1 1700.5 1607.3 1701.5 1608.2 1702.8 1609.1 1704.5 1610 1706 1610.8 1707.7 1611.7 1709.9 1612.6 1711.5 1613.6 1712.5 1614.7 1713.2 1616 1713.3 1617 1713.2 1618.2 1712.4 1619.4 1712 1620.7 1710.8 1622 1709 1623.3 1708.5 1624.7 1706.5 1626.1 1705.6 1627.4 1704.4 1628.7 1703.4 1630 1701.9 1631.2 1701.6 1632.7 1702 1634.2 1701.4 1635.6 1702.1 1637 1703.5 1638.4 1704.3 1639.8 1705.7 1641.2 1706.4 1642.7 1706.8 1644.2 1707.6 1645.6 1707.2 1647.1 1707.2 1648.7 1707.3 1650.2 1706.8 1651.8 1706.5 1653.4 1706.4 1654.9 1705.7 1656.5 1705.8 1658 1704.8 1659.4 1703.9 1660.6 1702.7 1661.7 1702.1 1662.8 1701.2 1663.9 1700.2 1665 1699.1 1666.1 1698.2 1667.2 1697.1 1668.2 1695.3 1669.3 1694.1 1670.3 1693.1 1671.4 1692.3 1672.5 1690.6 1673.7 1689.7 1675 1688.8 1676.2 1687 1677.5 1685.9 1678.8 1685.4 1680 1684.2 1681.3 1682.8 1682.4 1681.5 1683.5 1681.5 1684.6 1680.6 1685.5 1680.3 1687.7 1680.4 1689.6 1681.3 1691 1682.2 1692 1682.9" fill="none" stroke="#1e7a60" stroke-width="6.5" stroke-linejoin="round" stroke-linecap="round"/>
<rect x="94.5" y="557.5" width="289" height="102" fill="#000"/>
<rect x="91.5" y="554.5" width="289" height="102" fill="#fff" stroke="#111" stroke-width="1.3"/>
<line x1="97" y1="582.8" x2="139" y2="582.8" stroke="#0000ff" stroke-width="8" stroke-linecap="round"/>
<text x="148" y="590.8" font-family="'Liberation Serif','Times New Roman',serif" font-size="33" font-weight="normal" text-anchor="start" textLength="215" lengthAdjust="spacing">Non-aged CFF</text>
<line x1="97" y1="626.8" x2="139" y2="626.8" stroke="#f39a36" stroke-width="8" stroke-linecap="round"/>
<text x="148" y="634.8" font-family="'Liberation Serif','Times New Roman',serif" font-size="33" font-weight="normal" text-anchor="start" textLength="151" lengthAdjust="spacing">Aged CFF</text>
<rect x="82" y="1302.5" width="293.5" height="102.5" fill="#000"/>
<rect x="79" y="1299.5" width="293.5" height="102.5" fill="#fff" stroke="#111" stroke-width="1.3"/>
<line x1="85" y1="1329" x2="127" y2="1329" stroke="#4468a8" stroke-width="7.5" stroke-linecap="round"/>
<text x="136" y="1337" font-family="'Liberation Serif','Times New Roman',serif" font-size="33" font-weight="normal" text-anchor="start" textLength="218" lengthAdjust="spacing">Non-aged PLA</text>
<line x1="85" y1="1373.7" x2="127" y2="1373.7" stroke="#f04a14" stroke-width="7.5" stroke-linecap="round"/>
<text x="136" y="1381.7" font-family="'Liberation Serif','Times New Roman',serif" font-size="33" font-weight="normal" text-anchor="start" textLength="154" lengthAdjust="spacing">Aged PLA</text>
<rect x="78" y="1967" width="378.5" height="235.5" fill="#000"/>
<rect x="75" y="1964" width="378.5" height="235.5" fill="#fff" stroke="#111" stroke-width="1.3"/>
<line x1="81" y1="1991" x2="123" y2="1991" stroke="#000000" stroke-width="6.8" stroke-linecap="round"/>
<text x="133" y="1999" font-family="'Liberation Serif','Times New Roman',serif" font-size="32" font-weight="normal" text-anchor="start" textLength="149" lengthAdjust="spacing">Aged CFF</text>
<line x1="81" y1="2035.9" x2="123" y2="2035.9" stroke="#ff8c00" stroke-width="6.8" stroke-linecap="round"/>
<text x="133" y="2043.9" font-family="'Liberation Serif','Times New Roman',serif" font-size="32" font-weight="normal" text-anchor="start" textLength="153" lengthAdjust="spacing">Aged PLA</text>
<line x1="81" y1="2080.8" x2="123" y2="2080.8" stroke="#ff00ff" stroke-width="6.8" stroke-linecap="round"/>
<text x="133" y="2088.8" font-family="'Liberation Serif','Times New Roman',serif" font-size="32" font-weight="normal" text-anchor="start" textLength="301" lengthAdjust="spacing">Aged 10% CFF/PLA</text>
<line x1="81" y1="2125.7" x2="123" y2="2125.7" stroke="#0000ff" stroke-width="6.8" stroke-linecap="round"/>
<text x="133" y="2133.7" font-family="'Liberation Serif','Times New Roman',serif" font-size="32" font-weight="normal" text-anchor="start" textLength="284" lengthAdjust="spacing">Aged 2% CFF/PLA</text>
<line x1="81" y1="2170.6" x2="123" y2="2170.6" stroke="#1e7a60" stroke-width="6.8" stroke-linecap="round"/>
<text x="133" y="2178.6" font-family="'Liberation Serif','Times New Roman',serif" font-size="32" font-weight="normal" text-anchor="start" textLength="284" lengthAdjust="spacing">Aged 5% CFF/PLA</text>
</svg>
</body></html>
